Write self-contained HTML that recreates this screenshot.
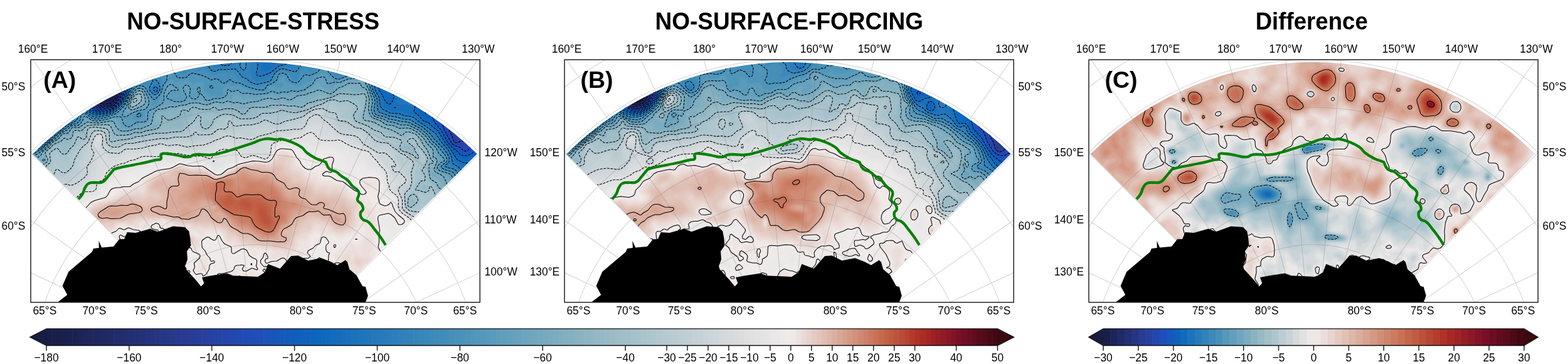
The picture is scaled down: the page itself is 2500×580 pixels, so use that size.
<!DOCTYPE html>
<html lang="en"><head><meta charset="utf-8"><title>Figure</title>
<style>
html,body{margin:0;padding:0;background:#fff}
body{width:2500px;height:580px;overflow:hidden}
svg{display:block}
text{font-family:"Liberation Sans",sans-serif;fill:#000}
.t{font-size:37.5px;font-weight:bold;text-anchor:middle}
.l{font-size:17.4px;text-anchor:middle}
.e{text-anchor:end}.s{text-anchor:start}
.p{font-size:37.5px;font-weight:bold}
.g{fill:none;stroke:#777;stroke-opacity:.32;stroke-width:1.05}
.c{fill:none;stroke:#000;stroke-width:1.05;stroke-linejoin:round}
.d{fill:none;stroke:#000;stroke-width:1.05;stroke-dasharray:3.9 1.7;stroke-linejoin:round}
.gr{fill:none;stroke:#028002;stroke-width:4.3;stroke-linejoin:round;stroke-linecap:butt}
</style></head><body>
<svg width="2500" height="580" viewBox="0 0 2500 580">
<rect width="2500" height="580" fill="#fff"/>
<defs>
<clipPath id="fr"><rect x="49.0" y="95.2" width="716.2" height="386.5"/></clipPath>
<clipPath id="sec"><path d="M406.3,601.5 L52.0,245.3 A502.4,502.4 0 0 1 760.6,245.3 Z"/></clipPath>
<filter id="bl" x="-5%" y="-5%" width="110%" height="110%"><feGaussianBlur stdDeviation="1.3"/></filter>
<path id="grid" class="g" d="M425.2,669.3L717.6,1760.6M413.1,671.4L511.6,1796.9M400.9,671.4L302.4,1796.9M388.8,669.3L96.4,1760.6M377.3,665.1L-100.1,1689.1M366.8,659.0L-281.3,1584.5M357.4,651.1L-441.5,1450.0M349.5,641.7L-576.0,1289.8M343.4,631.2L-680.6,1108.6M339.2,619.7L-752.1,912.1M337.1,607.6L-788.4,706.1M337.1,595.4L-788.4,496.9M339.2,583.3L-752.1,290.9M343.4,571.8L-680.6,94.4M349.5,561.3L-576.0,-86.8M357.4,551.9L-441.5,-247.0M366.8,544.0L-281.3,-381.5M377.3,537.9L-100.1,-486.1M388.8,533.7L96.4,-557.6M400.9,531.6L302.4,-593.9M413.1,531.6L511.6,-593.9M425.2,533.7L717.6,-557.6M436.7,537.9L914.1,-486.1M447.2,544.0L1095.3,-381.5M456.6,551.9L1255.5,-247.0M464.5,561.3L1390.0,-86.8M470.6,571.8L1494.6,94.4M474.8,583.3L1566.1,290.9M476.9,595.4L1602.4,496.9M476.9,607.6L1602.4,706.1M474.8,619.7L1566.1,912.1M470.6,631.2L1494.6,1108.6M464.5,641.7L1390.0,1289.8M456.6,651.1L1255.5,1450.0M447.2,659.0L1095.3,1584.5M436.7,665.1L914.1,1689.1M-258.6,601.5A665.6,665.6 0 1 1 1072.6,601.5M-177.9,601.5A584.9,584.9 0 1 1 991.9,601.5M-99.7,601.5A506.7,506.7 0 1 1 913.7,601.5M-23.6,601.5A430.6,430.6 0 1 1 837.6,601.5M50.7,601.5A356.3,356.3 0 1 1 763.3,601.5M123.6,601.5A283.4,283.4 0 1 1 690.4,601.5M195.4,601.5A211.6,211.6 0 1 1 618.6,601.5M266.4,601.5A140.6,140.6 0 1 1 547.6,601.5M336.8,601.5A70.2,70.2 0 1 1 477.2,601.5"/>
<path id="land" d="M92,481.5 L107.3,469.7 L99.6,455.6 L109.3,432.9 L146.6,401.5 L149,396 L157.8,395 L157.4,383.7 L162.2,394.4 L181,392.8 L190,381.3 L198,381 L202.7,370 L216.4,370.9 L239.6,364.5 L251.6,369.3 L275.7,360.5 L295,362 L301.3,368.5 L303,378 L304.5,391 L298,400.5 L299,413.4 L295,424 L296.5,428.9 L312.5,446.5 L320.6,456.4 L325.4,451.3 L322,442 L336.6,439.3 L361.4,435.6 L371.9,439.3 L411.2,440.9 L422.4,433.7 L427.3,420.8 L446.5,428 L452.9,420.8 L464.1,408 L475.4,407.2 L491.4,415.2 L512.2,411.2 L526.7,416.8 L537.9,422.4 L550.7,414.4 L553.9,417.6 L557.1,428.9 L568.3,438.5 L578,456 L582.8,457 L586.8,471.3 L582.8,481.5 Z" fill="#000"/>
<path id="green" class="gr" d="M125.0,317.3C126.7,315.2 128.4,314.4 131.4,309.3C134.4,304.2 133.2,302.7 136.2,298.0C139.2,293.3 138.3,293.6 142.6,291.7C146.9,289.8 146.7,291.4 152.2,290.9C157.7,290.4 158.3,292.4 163.4,290.0C168.5,287.6 167.2,286.7 171.5,282.0C175.8,277.3 176.1,275.9 179.5,272.4C182.9,268.9 178.8,270.8 184.3,268.9C189.8,267.0 191.7,267.0 200.3,265.2C208.9,263.4 207.8,263.7 216.4,262.0C225.0,260.3 223.9,260.7 232.4,258.8C240.9,256.9 242.0,256.3 248.4,254.8C254.8,253.3 254.1,255.7 256.4,253.2C258.7,250.7 254.2,247.8 257.2,245.6C260.2,243.4 260.8,244.5 267.7,245.0C274.6,245.5 274.5,246.1 283.0,247.5C291.5,248.9 291.8,250.5 299.7,250.2C307.6,249.9 302.7,247.2 312.5,246.2C322.3,245.2 325.3,247.5 336.6,246.6C347.9,245.7 344.3,245.7 355.0,243.0C365.7,240.3 364.7,240.2 376.7,236.5C388.7,232.8 388.0,233.0 400.0,229.0C412.0,225.0 410.9,223.2 421.6,221.5C432.3,219.8 433.0,222.5 440.0,222.5C447.0,222.5 441.6,220.6 448.0,221.5C454.4,222.4 455.5,222.7 464.0,226.0C472.5,229.3 473.1,229.3 480.0,234.0C486.9,238.7 483.8,239.0 489.8,243.7C495.8,248.4 495.3,248.1 502.6,251.8C509.9,255.5 512.4,255.2 517.0,257.4C521.6,259.6 517.9,256.9 520.0,260.0C522.1,263.1 520.7,265.3 525.0,269.0C529.3,272.7 531.2,270.9 536.3,274.0C541.4,277.1 539.6,277.1 544.3,280.5C549.0,283.9 549.2,282.6 553.9,286.9C558.6,291.2 557.7,292.2 562.0,296.5C566.3,300.8 567.3,299.6 570.0,303.0C572.7,306.4 572.3,305.0 572.3,309.3C572.3,313.6 568.9,314.7 570.0,319.0C571.1,323.3 574.1,321.6 576.4,325.4C578.7,329.2 579.3,329.6 578.8,333.4C578.3,337.2 574.9,335.4 574.7,339.6C574.5,343.8 574.6,345.4 578.0,349.2C581.4,353.0 582.5,349.7 587.6,354.0C592.7,358.3 592.1,358.9 597.2,365.3C602.3,371.7 602.1,371.3 606.8,378.0C611.5,384.7 612.7,387.2 614.8,390.6"/>
</defs>
<g transform="translate(0,0)">
<g clip-path="url(#fr)">
<g clip-path="url(#sec)"><g filter="url(#bl)">
<rect x="45" y="91" width="724" height="394" fill="#171c42"/>
<path fill="#191e48" d="M147 91l622 0 0 394-724 0 0-363 6 0 3 3 5 2.5 8 0.5 12-2.5 8-4 8-1.5 6-2 6 1.5 6-0.5 8-6 8-2.5 4 1 8 7 8 5 4 1 2.5-1.5 1-2 0-6-2.5-6-5.5-10zM163 148.5l-1.5 0.5 0 2 1.5 5 2 1.5 2-2.5 0-4-1.5-2z"/>
<path fill="#1c2354" d="M154.5 91l614.5 0 0 394-724 0 0-349 4-1 8-2.5 16 1 10-3.5 8-4 12 0.5 6-2.5 6-1 3-2 5-5 2-1 4-0.5 4 2.5 4 8 6 4 6.5 6 3 10 5.5 12 3 4 4 2.5 10-1.5 8-7 1-2 0-4-7-13-7.5-5-1.5-2-6-20-6.5-12z"/>
<path fill="#1f2860" d="M162.5 91l606.5 0 0 394-724 0 0-326 2.5-2 0.5-2-1-2-2-0.5 0-13.5 16-0.5 10 1.5 4-0.5 8-3 8-4.5 2 0 6 2.5 2 0 4-1.5 6-4 12-2.5 1.5-1.5 1.5-4 1-0.5 0.5 0.5 0 6 1.5 2 10 5 4 3.5 6 9.5 4.5 10 4.5 6 3.5 2 3.5 1 11-1 2.5-2 7-8 0.5-6-5-14.5-7-11.5-1-9-5-5-4-8-1.5-4z"/>
<path fill="#222c6c" d="M188 91l581 0 0 394-724 0 0-321 6-2.5 1.5-2.5 0-2-0.5-4-2.5-4-4.5-1 0-6 8 1.5 16 1.5 10-0.5 12-4.5 8-0.5 16-4 8 0 12 4 4 2 7 7.5 4.5 10 6.5 7 3 1 5 0.5 12-1 2-1.5 8-10 1-6-4.5-16-4.5-12 0-10-5.5-8 0.5-2 1-0.5 4-0.5 4-1.5 3.5-3.5zM759 168.5l-2 2.5 1 2 1 0.5 2.5-2.5-0.5-2z"/>
<path fill="#243177" d="M191 93l0.5-2 496.5 0 1 1.5 2 0.5 2.5-2 51.5 0-1.5 4 0 4 1.5 3 6 5 2 8 4 2.5 12 2 0 21.5-6-1-2 0.5-2 2-1 2.5 1 2.5 2 1 8-0.5 0 15.5-12-3-10 1-0.5 1.5 2 6-2 8 0.5 4 2 2.5 4 1 8 0.5 4 2.5 4 1.5 0 296-724 0 0-314.5 10-2.5 3-3 0-4-1.5-8 0-2 2-2 4.5 0 16 1.5 4-1.5 8-4.5 20-4 8 0.5 18 4.5 6 5.5 3.5 8 8.5 8 2 1.5 8 0.5 10-0.5 3.5-1.5 8.5-10 3-6 0-4-6-22-1-6 3.5-10-0.5-6zM741 121.5l-1 1.5 1 5 1.5-1 0.5-2zM750 91l19 0 0 13-6 3-2 0-4-2-1-2-1-6z"/>
<path fill="#263583" d="M195 93l0.5-2 488 0 1 4 2.5 2 6 2 2-0.5 2-1.5 2-6 16 0 2 4 2 0 6-3.5 2 0 6 1.5 1.5 4-0.5 8-3 4-6.5 6 0.5 2 6 3 2 2.5 1 4.5-0.5 6 1.5 4.5 6 4.5 8 2.5 1.5 2.5-1 4-8.5 2-2 2-2 4 2.5 18 1.5 6 2 4 2.5 2 9.5 2 6 3 8 0 0 291-724 0 0-299.5 2.5-0.5 1.5-2-1.5-4 0-2 3-2 8.5-3 4-3 2-4 0-6.5 2-1 4 2 2 0 18-10.5 18-4 8 0 18 3 4 3 3 6 3.5 4 9 8 2.5 1.5 16-1 6-1.5 9.5-11 3-6 0-4-2.5-10-2-14 0.5-4 3.5-10 0.5-8zM752 123l3 0 4 1.5 10-1.5 0 14-4.5-2-5.5-3.5-6 1-2-2-1-3.5 0-2z"/>
<path fill="#293a8e" d="M199.5 91l480.5 0 1.5 6 7.5 6 3.5 8 2.5 2 4 0.5 10-3 4 0.5 0.5 2-0.5 8 2 4 8 8 9.5 12 2 4-1 4-2.5 4-0.5 2 0.5 8-2.5 6 2 8-0.5 10 1 4 4 3 6 1 4 0 6-3 2 0.5 6 3 10-1 0 286.5-724 0 0-293.5 6-0.5 4-1.5 3.5-2.5 6.5-7.5 6-2.5 1.5-2 0.5-4 1.5-2 6.5-2 3.5-8 3.5-4 5-2 10-2 8 0 10-2 12 1 4 3 5.5 8 10.5 9 4 2 16-1.5 6-1.5 10-11 4-8.5 0-4.5-2-8-1-14 4-14 1.5-8z"/>
<path fill="#273f9b" d="M202.5 93l0.5-2 443.5 0 4.5 1 3-1 22 0 1 6.5 7.5 7.5 3.5 8 3 3 4 2.5 8 0.5 2 1.5 4 6.5 11 16-6 4-1.5 2 0 2 2.5 5 8 6.5 1 2.5-2.5 8 4 10-0.5 10 0.5 8-2.5 4-0.5 2 6.5 11.5 2-0.5 8-6 10-0.5 8-5.5 12-2.5 0 281.5-724 0 0-286.5 12-4.5 12-2.5 10-12 7-6.5 2.5-10 2.5-4 3.5-2 6.5-1.5 10 0 10-3.5 8 0 4 1.5 6.5 7.5 15.5 11.5 4 1 14-2 7-2.5 9.5-10 4.5-8 0.5-6-1-8-1-16z"/>
<path fill="#2544a8" d="M206.5 91l434.5 0 2.5 4 9 4 4.5 4 2 0.5 2-0.5 2-3 1.5-9 4.5 0 3 10 6.5 6 11 16 4.5 10 1 8 9 10 4 6 0 4-1.5 4 0 2 7 6 6 10 0 4-3 8-1.5 8 1.5 6 4.5 8 2.5 8 3.5 2.5 10-3 6 2 2-1.5 4.5-6 9.5-7.5 4-1.5 6 0 0 275-724 0 0-280 8-5 4-1.5 4 0.5 4 2 2 0 2-1 6-7 7.5-10 7-6 2-4 2.5-10 2-2 3-1 12-0.5 10-4.5 6 0 4 1 8.5 7 15.5 11 4 0.5 14-2 4-1 4-2 9.5-10.5 4.5-8 1-6-1.5-24 4.5-10z"/>
<path fill="#2349b5" d="M211.5 93l2.5-2 423.5 0 2 6 7.5 10 5.5 2 10.5 2 8 0.5 4 1.5 4 4 2 9 6 7 1 4 0 6 1 2 8 5 3.5 5 1 4-2 8 0 4 1.5 2.5 7 3.5 2.5 4 0.5 4-1.5 6 1 12 11.5 24 5 3 8 1.5 6 4.5 2-0.5 2-2 14-13 10-2 0 266.5-724 0 0-274.5 4-1 6-3.5 2 0 6 6 2 1 2-1 10-14 5.5-5 4.5-6 7.5-6 4.5-12 1.5-2 10.5-2 10-7 6 0 4 1.5 20 13.5 4 2 6 0.5 12-2 8-3 9-9.5 5-8 2.5-8 0.5-14-1-10 1.5-4 4.5-6 2-6.5 4-8z"/>
<path fill="#1d51ba" d="M222.5 93l1-2 410 0 0 8 11.5 12 4 1.5 20 5.5 4 2.5 3.5 6.5 5.5 8 1 10 1.5 4 2.5 2 6 2 2 2 0.5 4-1.5 10 1 6 5.5 8 1 8 3.5 6 3.5 10 9.5 18 3 4 4 3 8 2.5 6 5.5 4 1 3.5-2 4.5-5 6-5 4-1.5 8-1.5 0 259-724 0 0-270.5 10 0 8 2.5 4-1 2-1.5 8-9.5 10.5-8 10.5-14 5.5-10 2.5-2 7-3 6-5 4-2 4 0 4 1 20 13 4 1.5 4 0 12-1.5 6-1.5 4-2 10.5-10.5 5.5-10 3-18-0.5-10 1.5-4 4-4 4-7.5 6.5-4.5 3.5-6z"/>
<path fill="#1659bb" d="M228 91l392 0 9 12 12 11 4 2 8 2.5 11.5 4.5 4 4 2.5 4.5 4 5 1 2.5 0.5 8-3.5 8 0 2 0.5 2 3.5 2 8 0 2 1.5 1.5 8.5 8 20 6.5 10.5 12.5 23.5 3 4 4.5 4.5 8 4 6 5.5 4 1.5 4 0 2.5-1.5 7.5-7 4-3 4-1 6 0 0 253-724 0 0-267.5 12 3 6 0 4-1 10-10.5 12-9.5 18-24 14-9.5 4-2 4-0.5 4 1.5 16.5 10 5.5 2.5 6 0 10-1.5 6-2 4-2 10-9 6.5-10 2-6 2.5-14 0.5-8 1.5-4 4-4 5-6.5 7-5.5z"/>
<path fill="#0f61bc" d="M232 91l374.5 0 2.5 7.5 2 1 6 0 10.5 9.5 0.5 2 0.5 6 2.5 4 10 3 10-0.5 4 1.5 4 2 2.5 4 0.5 10 2.5 6 0 8 6.5 14.5 8 11.5 2 0 4-1.5 2 1.5 6 14.5 10 11.5 10 18 4.5 6 11.5 10 4 4.5 6 2.5 6 0 4-1.5 12-8.5 4-1 4 0 0 248-724 0 0-264 10 4 6 0 6-2.5 4-3 6-7.5 12-9 7-10 11-12.5 12-10 6-3.5 4-1 4 0.5 16 10 6 2 6 0 12-2 6-2.5 4-2.5 9-8.5 5.5-8 2.5-6 6.5-26 8.5-10 8.5-6 5.5-9z"/>
<path fill="#0f69bd" d="M236 91l362.5 0 4.5 14 2 2.5 6 2 2 1.5 2 6 3 6-1 6-5 10 9 1 2-1 2-2 6-8 2 0 2 0.5 4 5.5 2 1 2 0 8-2.5 2 1 0 2.5-4 8 0.5 4 2 2 7.5 5 4 5 4.5 12 7 14 2.5 2 6 0.5 2 0.5 1.5 1 4.5 8 8 7 3 3 11 20 18 21 6 2.5 8 0.5 10.5-4 7.5-5 2-0.5 4 0 0 241.5-724 0 0-258.5 6 1.5 8 0 4-0.5 4-2 5.5-4.5 6-8 12.5-9 8-11 14-12.5 6.5-7.5 5.5-4 4-1 4 0.5 16 9.5 6 2 16-2 6-2 6-3.5 10-9.5 5.5-8 10.5-30 8-9.5 8-4.5 2.5-2z"/>
<path fill="#176fbc" d="M254.5 91l178 0 2.5 2 4 1.5 14-1 2.5-2.5 135.5 0 0.5 6 5.5 6 5 10 2 6 1 2 5.5 4 0.5 2-0.5 2-5.5 6-1 6 1 3.5 4.5 6.5 3.5 8 4 5.5 4 1.5 2-1 2-2 3-8-2.5-8 0.5-2 2.5-4 2.5-2 2 0 4 1.5 4 3.5 3.5 7 12.5 8.5 3.5 3.5 1.5 4-2 10 1 2 6 4.5 6.5 7.5 3.5 2.5 6 1.5 6 6.5 10 7.5 10.5 18 8.5 10 11 17.5 8 4 8 1.5 14-0.5 6-2.5 4-0.5 0 228.5-724 0 0-254 16-0.5 6-2.5 8-7 2.5-4 3.5-3.5 11.5-8.5 4.5-6.5 4-4.5 12-8 2.5-3 5-8 6.5-4.5 6 0 16 9 6 1.5 16-2 6-2 6-3.5 7.5-6.5 6.5-8 3.5-6 4-12 5.5-12 7-10 4-3 8.5-3 9.5-16.5 2-1.5 2 0 6 3 2-0.5 2-2.5z"/>
<path fill="#2075bc" d="M260.5 93l2-2 8.5 3 3.5-1 3-2 70 0 3.5 4.5 4 2 2 0 4-2 3-4.5 49 0 3 12 0.5 8 2.5 2 12-2 10-9 4-1.5 8-1 4-2 2.5-2.5 2.5-4 101.5 0 1.5 3.5 2 1 2 0 2-0.5 2-1.5 1-2.5 8 0-1.5 2-3 2-1 2 1 2 2.5 2 11 3.5 2 1.5 2.5 3 5.5 20-1 8 0.5 6 7 12 3.5 14.5 2 2 6 2 6 4 4 0.5 8-1.5 2 0.5 6 3.5 10 1.5 8 3.5 10 9 10 5.5 14.5 11 9 16 10.5 12 5 10 3 8 2 2 6 3 8 6 2 0.5 12-3.5 6 1 1.5 1 2.5 6 4 2 0 210-724 0 0-251 18-1.5 2-1 10-8.5 6.5-8 11.5-8 8-10 14-8 3-4 4-8 5-4 6-0.5 6 2.5 10 6 6 1.5 16-2.5 6-2 6-3.5 7-5.5 7-8 4.5-8 5-14 12-18 4.5-2.5 8-1 8-9.5 16-6.5zM634.5 159l4.5-1.5 4 0 4 1.5 4 3.5 4 1 2 1.5 0 2-2 2.5-2 0.5-4-4-2-0.5-6 1.5-6-1.5-3-2.5 0.5-2z"/>
<path fill="#297cbb" d="M293.5 91l40.5 0 1 2.5 4 4 8 2.5 8 4 4 0.5 6-0.5 3.5-3 1.5-4 0.5-6 37.5 0 3 12-2 12 0 4 2 2 2 0 6-0.5 10-3 4-2.5 12-10 16-4 2.5-2 7-8 5 0 3.5 2.5 4 0.5 3-1 2-2 70.5 0 0 4-2 6 0 2 2 2 2.5 1 6-3.5 4-1 18 8 2 2 5.5 15.5 1.5 16 6.5 12 2 14 2.5 4.5 14 7 14 0.5 8 3.5 10 1 6 2.5 8.5 7 11.5 7.5 14 10.5 7.5 12 10.5 12 3 4 3.5 8 2 10 1.5 2.5 8 4.5 8 9 6 2.5 6 0.5 4 5 3 2 5 1.5 6-1 0 199.5-724 0 0-247.5 7.5-2.5 10.5-1 2-1 12-10 6-7 12-9 8-9 13.5-7 3-4 5-10 2.5-2 4-1 4 0.5 12 7 6 2 16-2 12-4.5 8-6 7.5-8 6-10 4.5-12 14-18 2-0.5 6-0.5 4-1 10-8.5 14.5-7.5 7.5-7 8-0.5 8-3 10 2zM247 138.5l-2 1.5-0.5 3 1.5 2 3 1 2-1.5 0.5-3.5-2.5-2.5z"/>
<path fill="#3282ba" d="M299 91l29 0 3 6 10 10.5 8-0.5 8 1 9.5-1 6.5-3 2.5-3 2.5-6 3-4 17 0 1.5 8-1 10 1.5 6 1 8 3.5 4 4.5 2.5 19-2.5 2-2 1.5-4 3.5-4 6-5.5 6-4 6-1 16 1 2.5-2.5 0.5-6 1-1 12 0 14-6.5 55-0.5-1 4-2.5 6 0 2 2.5 4 2 2 6 1.5 3.5-1.5 4.5-2.5 4-0.5 12 7 8.5 14 2 14 2 6 5 8 2 16 2.5 5 14 6.5 14 1.5 8 2.5 14 2.5 8 6 13 8 12 10 6 8 17 19.5 5 10.5 0.5 4-1 8 11.5 6 6 8.5 6 4 15 7.5 8 6 5 1.5 0 188.5-724 0 0-244 8.5-4 9.5-1.5 4-2 10-9 6-7 11.5-8.5 8.5-8.5 16-9 3-4.5 4-8 3-2.5 2-0.5 4 0 12 7.5 6 1.5 16-2.5 12-4 8-6 7.5-7.5 6-10 6.5-15 6-6.5 6-5 12-3.5 16-11.5 10-4.5 6-5 4-2.5 12-2 2 1 4 4.5 2 1.5 4 0.5 2-1 3.5-5zM247 134.5l-4 2.5-2 4 2 5 2 2 2 0.5 4-1.5 2-2.5 0.5-3.5-2.5-5-2-1.5z"/>
<path fill="#3b89ba" d="M388.5 93l0.5-0.5 2 0 2 4.5-1 10-1 3-2 1.5-2-0.5-2.5-2-2-6 1-4zM512.5 93l2-2 21 0 5 4 1 2 0.5 8 1 2 6.5 4 4.5 2 5 1 4.5-1 7.5-3 2 0.5 8 4.5 10 12 4 17.5 6 12.5 1 16 1 4 2 2 8 2.5 8 3.5 10 1 10 3 14 2 9 6 10.5 6 11.5 10 6 8 15.5 16 5.5 7.5 3 6.5 0 6-1 2.5-4.5 3.5-0.5 2 3 2 8 1.5 5 2.5 7 10.5 10 7.5 9.5 4 4.5 7 4 1.5 8-0.5 0 184-724 0 0-241 10-5 8-2 4-2.5 16-15 22-18.5 4-2.5 11.5-5.5 3-4 3.5-8 2-2.5 2-1 2 0 4 1 10 6.5 6 2 16-3 10-3.5 4-2 8-6 6-6 6.5-11.5 6.5-14 5-5 6-4 10-1.5 8-4 4.5 0.5 0 2-5 10 0 4 2.5 4 4 3.5 2 0.5 4-2 3.5-4 0.5-6-2-6.5-7-7.5 1.5-4 3.5-4 8-4 10-6.5 4-1 6 0.5 8 4.5 6 1.5 5-3 11-9.5 4-2 2 0 1.5 1.5 2.5 6 12 0 2 1.5 4 5.5 2 1.5 4 0 6-2.5 26-1 5.5 5 4 6 2 2 6.5 2.5 10 7 6 2 22-5.5 1.5-2 5.5-10 5-4.5 4-2.5 4-0.5 20 5 2-1.5 6-8 2-1.5 16-6 10 0z"/>
<path fill="#448fb9" d="M515 97l2-0.5 10 0 2 0 2 1.5 0.5 3-2.5 8 0.5 4 3 6 4.5 3.5 4 0 10-4 20-4 6 1.5 4 2.5 8 10.5 5.5 18 4.5 10 1 6-1 12 2 5.5 4 2 8 1 8 4 32 5.5 20 11.5 10 8.5 7 10 9 8 10 11 3.5 5 2 6-0.5 4-1 2-5.5 4-1 2 1 2 3.5 2 10 2.5 3 1.5 7 10.5 18.5 19.5 3.5 2.5 8 3.5 1.5 2 1.5 4 0.5 8 2.5 4 2 1.5 0 156.5-724 0 0-238 11-6 9-3.5 8-6.5 12-12 22.5-18 5.5-3 8-3 2-1.5 2.5-2.5 2.5-8 3-3.5 2-0.5 4 1 10 6.5 6 2 14-2.5 16-6 8-6 7-7 6.5-12 5.5-12 5-5 4-2.5 6-1.5 8 1 2 2 2 8 4 5.5 4 3 4-0.5 4.5-4 3.5-6 0.5-8 1.5-8-4-3.5-0.5-2.5 2-2 12.5-8 4-0.5 6 1 4 1.5 8 6 2 0 2-0.5 6-6 6-3.5 2 0 4 2.5 4 1 12-1.5 2 1 4 4 4 2 4 0 8-2.5 12-0.5 6 0.5 4 2.5 4 7 3.5 2 22 10 6.5 2 4 0 4-1.5 7.5-4.5 6.5-1.5 6.5-4.5 2-2-0.5-4 2-4 4-3 4-1.5 4 0.5 9.5 4 1.5 2 1.5 6 3.5 2.5 4-0.5 3-4 3.5-10 3.5-3.5 4 0 6 4 6-0.5 4-2.5z"/>
<path fill="#4f95ba" d="M512 107l3-1.5 2 0 12 15.5 4 3 4 2 4 0 12-4.5 18-3.5 4 0.5 4 2 7.5 8.5 7 20 4 8 0.5 6-1.5 12 0.5 4 2 3 4 2 10 2 8 4 18 3.5 12 1.5 20 10.5 11 9.5 7 10 7.5 6 14.5 18 1.5 4 0 4-1.5 2-6 4-1.5 2 0 2 5.5 3.5 10 2.5 3.5 2 5 8 9 12 10.5 12 8 5.5 2 2.5 2 8 2 4 4 4.5 4 2.5 0 151-724 0 0-235 20-11.5 28.5-25.5 16-12 5.5-3 6-0.5 3.5-2.5 3.5-4 1-6 3-4 3 0 2 0.5 10 7 4 1 4 0.5 14-3 16-6 6-5 7-7 13-25 4-4 4-2.5 6-1 6 2 12 18.5 2 1.5 2 0 6-5.5 4-5.5 3.5-12.5 5.5-8 0.5-8 1.5-2 3-2 4 0 4 2 3.5 6 2.5 1 10 0 2.5-1 5.5-5.5 4-1 20 5.5 10 5.5 6-2 4 0.5 8 6.5 2 0 4-1.5 4-3.5 2-0.5 6 4.5 10 1 13 6.5 15 4 8 0.5 2-0.5 2-1.5 2-4.5 2-1.5 7-2.5 7-5 1.5-3 0.5-5 4-3 4-0.5 4 1.5 2 1 4 8 2 2 6 2.5 4 0.5 4.5-3 7.5-9.5 2-0.5 6 1.5 12-5 3-2.5zM221 180.5l-3 2.5 0 2 3 1.5 3-1.5 1-2-1-2zM335 137l-0.5 2 0.5 1 2 1 2-0.5 0.5-1.5-1.5-2-1-0.5z"/>
<path fill="#5a9bbc" d="M514 117l3-0.5 2 0.5 3 2 5.5 6 9.5 3.5 4 0 16-5 16-2.5 4 1 4 4 3.5 5 11 26 0.5 6-2 12 1 4 2.5 4 3.5 2.5 12 2.5 8 4 8 1.5 10 2.5 12 1 16.5 8 12 10 7 10 9.5 8 6.5 10 6.5 6.5 1.5 3.5 0 4-1.5 2-5 2-2.5 2-2 4 1.5 2 8 3.5 9.5 2.5 3 2 10.5 18 6.5 8 3 6 1.5 2 6 4 2 2 5.5 12 12.5 10 0 146-724 0 0-231 4-2 8-7 8-5 32-28.5 8-5 6.5-5.5 3.5-2 6 0.5 4-2 4-4.5 2-7.5 2-2.5 2-0.5 2 1 10 6.5 8 1.5 14-3 18-6 6-5 7-8.5 4.5-10 8.5-15 4-3.5 4-1.5 6 0.5 4 2.5 8.5 15 1.5 4 0.5 6 1 2 2.5 0.5 4-2.5 3.5-4 2.5-8 4-8 4-10 6-6.5 4-3 8 3.5 2 0 8-2 8-0.5 2 0.5 6 5.5 2 0.5 8-4 6 0 2.5 2-1 8 1 4 7.5 7 2 1 6-0.5 10 1.5 2.5-1 2-2 0.5-2-1-6 0.5-2 5-4 4.5-1.5 6 2 6-1 4 0 8 5.5 18 4 16 0.5 3.5-1.5 1.5-2 0-4 3-2 6-1 6 3.5 3-0.5 6-2 1.5-2-0.5-3-2-0.5-6 0.5-1-1 3-7.5 2-1 2 0 2 1 0.5 5.5 1 2 10.5 3 6 2.5 4 0.5 6-2 4-3.5 6 0.5 4-0.5 3-6.5 3-3zM219 179l-6 4-2 4 0 2.5 2 1 8 0 4.5-1.5 3.5-2 1-4-0.5-2-1.5-2-5-1z"/>
<path fill="#65a0bd" d="M510.5 123l4.5-0.5 2.5 0.5 1.5 2 2 7 2 1.5 2 0 8-2.5 10 0 8-4 6-1.5 16-1.5 4 1.5 4 4 6 10.5 6 17 1 6-2 12 2 6 3 4 4 2 10 2.5 8 4.5 10 1.5 10 3.5 12 0.5 16 7.5 12 10 6 9.5 8 6.5 3 4 4 8 7 6.5 1.5 3.5-0.5 2-5 2-2.5 2-2.5 4-0.5 4 3.5 3 16 5 2.5 2 5.5 10 2.5 8 6 6 1 2-1 8 1 2 2.5 2.5 10 2.5 3 3 3 8 1.5 2 5.5 4 9 8.5 0 4-2 3.5 0.5 2 1.5 2 0 128-724 0 0-226 4-2.5 8-9.5 8-5 10-8.5 6-7 10-7.5 6-6.5 10-5.5 8-6.5 6 0.5 5-2 5.5-6 1.5-6 2-2 2 0.5 10 6.5 8 1 14-2.5 10-3.5 12-1 2.5 1 3.5 10.5 4 3.5 4 1 4-1 8.5-6 13.5-1 4-3 0.5-2 0-8 1.5-4 18.5-10 4.5-4 1.5-4-0.5-8 2-6.5 4-7 4-3 4 0.5 4 3.5 4 2.5 1 2-1 1-2 0.5-6-0.5-4 2-5 7-0.5 2 1 2 12.5 5 10 0 4-1 2.5-2 2-4 0-2-5-10 0-4 2.5-3 2-0.5 4 1.5 2 2.5 0.5 3.5-1.5 10 4 4 5 1 2.5-1 2-2 3.5-7 0.5 1 4.5 4 3.5 6 3.5 1.5 10-3.5 10 0 6-2 5-4 0-6 1-2 2 0 4 3 2 0 8-2.5 6 5 2 0.5 8-0.5 14 2 16-1.5 8-3.5 2 0 8 3 8-2 8 0.5 6-2.5 8 1.5 10-1.5 2.5-1.5 5.5-4 6-4 6-9zM316.5 139l1 0 1.5 2 0 2 0 2.5-2 2.5-2.5-5 0.5-2zM220 141l3-0.5 4 1 2 1.5 4 6 3 6 1.5 6 0 4-1.5 4-3 4-2 1.5-12 2-16 8.5-4 1-2 0-1-1-1-2 0.5-2 1.5-4 4.5-6 2-8 3.5-6.5 6-10.5 4-3.5z"/>
<path fill="#70a6be" d="M553.5 129l5.5-1 14-0.5 4 1.5 2.5 2 7 12 4 12 1 6-1.5 12 0 4 1.5 4 3.5 5 4 2 10 3 6.5 4 3.5 1.5 10 1.5 10 4 10-0.5 4 1 12 5.5 12 10 6 9.5 10 9.5 4 10 4.5 6 0 2-6.5 12 1 4 3 2.5 14 5.5 3 2 2 4 0.5 6 1.5 4 8.5 10 0.5 2-2 8 0.5 2 2 2 5.5 3 8 1.5 2 1 2 2.5 2.5 6 7.5 7 2.5 3 1 4-0.5 6 4.5 8 1 6 1 2 2.5 1 0 115-724 0 0-210.5 1.5-3.5-0.5-4 0.5-2 6.5-7.5 5-8.5 7-5 4-5 8-6 6-7 8-5 8-8.5 8-3 8-7.5 8 0.5 3-1.5 7-6 4-6 2 0.5 6.5 3.5 9.5 1.5 14-2.5 10-2.5 4-0.5 4 2 3 8 3.5 4 5 2 8.5 0.5 12-6 8 0 8-3 4-4.5 2-11 2.5-4 7.5-5 10-2.5 8-4 10 1.5 14-2 10-4 8 0.5 8-2 7 3.5 5 1 12-4.5 10 0.5 10-3.5 6 0.5 2-0.5 4-4.5 2-0.5 2 0.5 6 5 2 1 8-1.5 8 1 6 0 12.5-4.5 11.5-2.5 8 2.5 10-2 8 1 6-2 8-0.5 12.5-2.5 13.5-7.5 8-8.5 2.5 0 3 6 2.5 3 4 1.5 8 1.5 2-0.5 3.5-5.5 2.5-2 10-1.5zM220 143l5 0 2 1 3 3 4 10 1 4-0.5 4-2.5 4-5 3-16 5.5-6 0.5-1.5-1-0.5-2 0.5-8 2-6 7.5-12.5 4-4z"/>
<path fill="#78aabf" d="M555 133l4-0.5 14 0 2 0.5 2 6 4 1 4 4 4 15-1 18 2 6 3 4 14.5 6 5.5 4 4 2 10 1 10 4.5 14-0.5 10 4 4 2.5 10 8.5 6 10 8.5 8 1.5 4-0.5 8 0.5 1.5 4 1.5 2 3-0.5 4-4.5 10 1 3.5 2 2 9 4.5 4 4 5.5 12 7 10 0.5 2 0 10 2 4 29.5 22 0.5 4-2.5 8 0.5 2 5 6 0.5 6 1.5 4 3 3 8-1 0 110-724 0 0-205 4-3 3-10 4.5-8 3.5-8 5-3.5 4-6.5 8-6 6-7.5 10-6 6-7.5 2-1 8-1.5 6-8 2-0.5 6 1 3.5-1 12.5-8.5 6 1 12 0.5 22-3 3 2 2.5 6 3 4 3.5 3 4 1 12-0.5 10-3.5 8 0 14-6 2-1.5 4-16.5 4-5 4-2 8-0.5 8-3 10 0 8-2.5 8-0.5 8-3 4-0.5 10 0 8 2.5 6 0.5 12-4.5 12 1.5 8-3 10 3 6-1 6 2 4 0.5 8.5-2.5 13.5-1.5 16-5 4 0 8 2 12-3 8 3.5 4 0 10.5-6 13.5-2 6-3 6-1 8-3.5 6 1 12 5 4-0.5 10-8.5 9.5-3.5zM69 254l-1 1 1 1.5 2 0 0.5-1.5-0.5-1zM220 145l5 0 2 1 2 3 3 10-1 6-4 4-12 5-4 1-4-0.5-2-3.5 0-4 2.5-8 5.5-8.5 4-4z"/>
<path fill="#7cacc0" d="M553.5 137l3.5-1 12 0 1.5 1-0.5 4 1 2.5 2 0.5 6-2 2 0 2 1 2 3 3 11-1 16 0 6 3 6 3 3.5 12 4.5 10 6.5 12 1.5 10 5 14-1 10 4 4 2.5 8.5 7.5 6 10 9 10 0.5 11.5 6 4 1 2.5-1 4-4.5 8 0.5 6 2 2 6 1.5 6 4.5 6 12 6 10 1 4 0.5 8 2.5 5.5 6 5.5 21 15 1 2 0.5 2-2.5 8 0 2 5.5 8 1 6 2 4 5.5 6 2 0 6-3.5 0 107.5-724 0 0-202.5 4-2 2-2.5 3-11 5-8 2-6 1.5-2 3.5-2 3.5-8 8-6 5.5-7 10-5.5 6-8 4-1.5 6 1.5 6-9.5 2-1 6 0.5 4-0.5 8-6 4-2 2 0 16 0.5 20-2 2 0.5 1.5 2 6.5 10.5 2.5 1.5 3.5 1 12-0.5 12-3 8 0 18-7.5 2.5-16 2-4 3.5-3 10-1 10-3.5 8 0 8-2.5 8-0.5 10-3.5 10 0 10 2.5 6 0.5 12-4.5 4 0.5 6 2.5 2 0 8-3.5 12 4 14 1.5 10-3.5 12-1 6.5-3 9.5-2.5 12 2.5 12-3 8 3.5 4 0 6-1.5 5.5-5 2.5-1 10 0 20-7.5 6 0 10 4 4 0.5 4-1.5 10-7.5zM67 251.5l-1.5 3.5 0.5 2 3 1 3-1 1-2-1-2-3-1.5zM217.5 147l5.5-1.5 4 1.5 3 6 0.5 10-1.5 3-2 1.5-14 6.5-4 0.5-2-1-1-2.5 0-6 5-11z"/>
<path fill="#81aec0" d="M549 141l4-1 4-0.5 8 2.5 3.5 3 2.5 1 4-0.5 4-1.5 2 0 2 1 2 3.5 2.5 8.5-2 22 1.5 4 2.5 4 3.5 2.5 12 5 8 5.5 14 2.5 8 4.5 4 0.5 8-1.5 4 0 4 1 6 2.5 11.5 9.5 6.5 11.5 6.5 6.5 1.5 4 1.5 10 5.5 4 1 2-2 6-4 6-0.5 6 0.5 6 2 1.5 6-2.5 2.5 1 3.5 3.5 5 10.5 6.5 10 1.5 4 0.5 10 2 4 6.5 6.5 8 5 6 6 6 4.5 1 4-2 8 0.5 2 4 6 2 8 8.5 12.5 2 1 8 1.5 0 97-724 0 0-175.5 1-4.5-1-3.5 0-5.5 2.5-5 0.5-6 3-2.5 2-3.5 2-8.5 2.5-5.5 5.5-5.5 6 0 4.5-2.5 0.5-2-0.5-2-4-4-1-2 2-6 7.5-6 5-6 10.5-6 2-2 3.5-6 4-0.5 6 2 2-0.5 2-7 3-4 11 0 8-6 4-1.5 10-0.5 8 0.5 14-2 4 0 3.5 1.5 6.5 11 2 2 3 1 5 0.5 10-0.5 12-3.5 8 0.5 8-3.5 14-3.5 1-2-2-6 1-10 2-3.5 2-1.5 2-1 10-0.5 8-3.5 10 0 6-2.5 10-1 8-3 8-0.5 8 2.5 8 1 4-0.5 10-4 2.5 0 7.5 4 12-3 10 3 14 2.5 2-0.5 10-4.5 12-0.5 14-5 12 2 12-2 8 3 4 0 14-3.5 4 1 2 0 14-6.5 8-4.5 4-1.5 4 0 8 3 6 0.5 4-1.5 8-6zM219 147l4-1 2 0.5 2.5 2.5 1.5 6 0 8-1 2-3 2-12 6-4 0.5-2-1.5-1-3 1-6 4-8.5 4-4.5z"/>
<path fill="#85b1c1" d="M550 143l5-0.5 6 3 10 2 8-2 2 0 2 1.5 2 4.5 1.5 5.5-2.5 22 0.5 6 1 2 5.5 3 12 5 10 6 12 2.5 10 5.5 4 0.5 6-2 6 0 10 3 4 3 8 7.5 4 9 6.5 7 2 4 2 10 1.5 2.5 3.5 1.5 1 2-0.5 5-5 5-0.5 2-0.5 10 1.5 4 2.5 1.5 6-1 4 2.5 1.5 3 2 6 5.5 6 2.5 4 1 4 0.5 10 3 6 6 6.5 8 4.5 6 6.5 6 4.5 0 4-5 8 6.5 6 3 8 5.5 7.5 4 7 4 2 8 1 0 94.5-724 0 0-171.5 2-3 1-3.5 0-8 5-11 1.5-5 2-10 2.5-6 4-4 8-3.5 3-2.5 1-2-0.5-2-4.5-6 0.5-4 1-2 7.5-6 4.5-6 12-6 3.5-6 2-2 2 0.5 6 3 2-0.5 2.5-3 1.5-7.5 2-1.5 10 0 2-1 6-4.5 4-2 10-1 10 0.5 10-1.5 6 0.5 2 1 8 13 4 1.5 6 0.5 10-1 12-3.5 8 0.5 10-3.5 12-2 3.5-2.5 1-4-3-6 0-6 1.5-4 2.5-2 10.5-0.5 8-4 8 1.5 8-4 10-1 10-4 6 0.5 8 2.5 10 0.5 12-4 2.5 0.5 5.5 4 14-2 24 5.5 2-0.5 10-5.5 15.5-1.5 12.5-3.5 10 1.5 12-1.5 10 2.5 10-1 8 2 4-1.5 8-5 8-2.5 10-6 4 0 6 2 8-0.5 4-1.5 8-5.5zM221.5 147l3.5 0.5 2.5 3.5 1 8-1 4-2.5 2.5-10 5.5-4 1.5-2 0-2-1.5-0.5-4 2.5-8 6-8.5 4-2.5z"/>
<path fill="#8ab3c1" d="M541 147l12-1 8 2.5 10 0.5 10-1.5 2 2 2.5 7.5-4 26 0 4 1 2 16.5 5.5 14 8 11.5 2.5 14.5 7.5 6-3.5 2-0.5 6 0.5 4 1 6 3 8.5 8 5 10 6.5 8 4.5 14 4.5 4 0.5 2-1.5 4-2 0.5-2-0.5-1 2-0.5 10 1.5 8 2 2.5 8 2 1.5 1.5 3 8 5.5 4 3.5 4 1 4-0.5 8 4 9.5 7 8.5 7.5 4 9.5 10 0 2-8 5-2.5 3 2.5 2 6 2 4 2.5 2 2.5 3 7 5 6 4 7.5 2 2 4 1.5 8 0.5 0 9-6 0.5-2 2-1 3 1 4 3 4 2 6 1 2 2 1.5 0 60.5-724 0 0-168.5 2-2 1.5-3.5 2.5-12 5-10 1-4 1-10 1.5-4 2.5-4 3.5-4 7.5-4 2-2 0-4-3.5-6 0-4 1-2 7.5-6 5-6 8-3 4-3 4-6 2 0 6 3 2 0 3-3 1.5-8 1.5-2 2-0.5 10 0 8-6 12-2.5 10 0.5 10-1 6 1 4 4.5 4 8.5 4 2.5 10 0 10-1 8-3 10 0.5 8-3.5 14-2 4-2 3-4 0.5-4-3.5-10 0.5-2 2.5-2 11 0 6-3.5 2 0.5 1 1 2 4 3 0.5 4-2.5 2.5-6 3-2 10.5-0.5 8-3.5 6 0 8 3 10 0.5 4-1 6-3 2-0.5 6 5 1.5 0 12.5-2 8 1 8 2 8 4.5 4-1.5 6-5 4-2 20-1 10-3 10 0.5 10-0.5 10 2 8-1 8 2 4 0 10-6.5 8-2 10-4.5 8 0 12-2zM218.5 149l4.5-1 2.5 1 1.5 4-0.5 8-3 4-6.5 4-4 2.5-4 0.5-2-2.5 0-2.5 2.5-8 3.5-5.5z"/>
<path fill="#8eb5c2" d="M540.5 149l2.5 0 20 2 10-0.5 6-1.5 2 0.5 2 2.5 1.5 5-2 14-3.5 14 0.5 4 1 2 16.5 4 14 8 13.5 4 14.5 8.5 3.5-0.5 2.5-3.5 2-1 4-0.5 6 1.5 6 2.5 8 8.5 4 8.5 6.5 8 5.5 15 4 4.5 0 1-2 1-2-0.5-2 1-1 2 0 10 1.5 10 1.5 3 8.5 5 4 8 6.5 4 2 2 1 4-3.5 6 1 2 3.5 4 3.5 8 5.5 7.5 4 4 4.5 2.5 3.5 4 0.5 2-0.5 2-6 6-0.5 4 2.5 2.5 8 1.5 4.5 2 5.5 10 5 6 4.5 8 7.5 6-4 6-1 6 1.5 6 5 10 1.5 1.5 4 1 0 57.5-724 0 0-166.5 2-1 2-3.5 4-12.5 4-8.5 2-6 0.5-10 1.5-4 4.5-8 10.5-8 0-4-4-8 1-3 8-7 4-4.5 12-5.5 2.5-2 1.5-2 2-1 6 2 4-1.5 2.5-3.5 1.5-8 2-1.5 10 1 2-1 6-6 4-1.5 8-1 22-0.5 2.5 0.5 2.5 2 6.5 12 2.5 2 10 0.5 10-1 10-3.5 10 0.5 8-3 17.5-3.5 4.5-4 2.5-6 1-4-1-4 0-2 1.5 0 2 0.5 3 3.5 3 2 4 0.5 15-6.5 1.5-2 1.5-6 2-1.5 4 0 6 2 2.5-4.5 3.5-2 4 0 8 3 12 0.5 4-0.5 6-3.5 2 0.5 4 4 2 0.5 12-2.5 10 0.5 6 2 7.5 5.5 2.5 1 4-1 6.5-8 5.5-2 20 0 10-3.5 16 0 12 2 8-1 8 2 4 0.5 4-2 6-5 8-1.5 8-3 6-0.5 16-4zM216.5 151l4.5-1.5 2 0 2 1.5 1 6-1 4-3.5 4-6 4-4.5 2-2 0-1.5-4 2.5-8 3-5z"/>
<path fill="#92b7c4" d="M218.5 151l2.5-0.5 2 0.5 1 2 0.5 4-1 4-4 4-4.5 3.5-4 1.5-2-0.5-1-2.5 0.5-2 2.5-7.5 4-4.5zM540 151l23 2 16-2 2 1 2 3 0 4-1 4-1 8-4.5 16 2.5 5 4 2 10 1.5 14.5 7.5 23.5 9 10 6 3.5-1 2.5-3 2-1.5 4-0.5 6 1.5 4 2 7 7.5 3.5 8 7.5 10.5 4 7.5 1.5 6 0 2-3 4-1 6 0 6 2.5 12 2 3 6 4 6 10 6 4 1 1-0.5 2-3.5 4-0.5 2 1 2 6.5 6 2.5 10 14.5 16-3.5 8-0.5 4 1 2 2 2.5 8 1 5 2.5 11 16 2.5 6 4 6-1 8 0.5 12-1 8 5 11.5 5 4.5 5 10.5 0 33.5-724 0 0-164.5 4-3.5 4.5-12 5.5-10.5 1.5-5.5 1-12 4.5-10 3-4 6-4 1.5-2 0-4-2.5-6-0.5-4 12.5-12 17-6 8-1.5 2-1 2.5-3.5 3.5-10 2-0.5 6 1.5 4-1 5.5-6 4.5-2.5 10-1 20 0.5 3 1 2 2 5 11.5 2 2 4 0.5 12-0.5 8-1 8-3 10 0 10-3 16-3 4.5-3.5 5.5-6.5 2-1 2 0.5 5 5 3 1.5 8-2.5 8-0.5 1.5-2.5-0.5-6 0.5-2 2.5-4 2-1.5 8 0.5 2-1.5 4-6.5 2-1 20 2 10-1 6 2 12-3 12 0 6 2.5 6.5 5.5 5.5 1 3-1 2.5-2 3-6 3.5-2 24 0 8-3.5 16-1 12 2.5 8-1 8 2.5 4-0.5 4-1 6-5.5 6-0.5 8-3 8-1 8-3 10-2.5zM647 232.5l-1.5 2.5 1.5 1 4 1.5 2-1.5 0-1-2-2-2-1z"/>
<path fill="#96b9c5" d="M216.5 153l2.5-1 2 0 1.5 1 0.5 2 0 4-2 3.5-3 2.5-7 4-2-2 1.5-8 2.5-3.5zM534 155l7-1.5 6 1 10-0.5 6 1.5 16-2 2 1.5 0.5 2-2.5 6 0 8-5.5 14 1 4 3 4 3.5 2 8 1 4 1 10 6 20 8 8 2.5 14 8.5 4-6 2-1 4-1 6 1.5 6 5.5 5 10 7 9.5 5.5 10.5 0.5 4-3 6-1.5 8 3 16 1.5 3 6.5 5 5.5 9.5 3.5 4.5-1 6 0.5 4 7 6.5 1 3.5 1 8 6 6 5.5 10-0.5 8 1 5 2 3 2 1.5 8 0.5 4 2.5 10 15.5 4.5 10 0.5 4 0.5 12-3 12 4.5 10 0 2-3.5 6 0.5 1 2 1 6-1.5 2 0.5 3 3 1.5 6 1.5 2 2 1 0 29-724 0 0-162 2.5-2 3-4 4-10 6.5-12 1.5-6 0.5-10.5 4.5-11.5 3-4 5.5-4 1.5-2 0-4-2.5-6 0-4 12-11 4-1.5 6-1.5 8 1 6-3.5 4-3.5 2-4 3-8 1-0.5 8 1 2-0.5 2-1 5-7 5-2 8-0.5 20 0.5 3.5 2 1.5 2 5 13.5 2 1 14-1 10-1.5 10-4 8 0.5 10-3 16-2.5 5.5-3 4.5-3.5 2-0.5 4 3 4 1.5 18-2.5 2.5-2 1.5-2 1.5-8 1.5-2 9-2.5 5.5-7.5 2.5-1.5 24 2 8 1.5 14-4.5 12 0.5 5.5 2 6.5 5.5 6 1.5 8.5-3 1.5-2 0-4 2-2 16-1 8 1 10-3.5 14-1.5 6 1 6 1.5 8-0.5 6 1.5 6 0 4-1.5 6-5 8-0.5 6-2.5 10-2.5 8-3.5zM647 230.5l-3.5 2.5-1.5 2 0 2 9 2 2 0.5 2-1 0.5-3.5-2-2-2.5-2zM677 299l2 2 0-2z"/>
<path fill="#9bbcc7" d="M214.5 155l4.5-1.5 2 1 0.5 4.5-1 2-3.5 3.5-4 2.5-2 0-0.5-2 0.5-5 1.5-3zM530.5 157l8.5-1 8 0.5 8-0.5 8 2 8.5 1 5 8 0.5 4-2 6-4 6-0.5 4 2.5 4 4 3.5 4 2 10 2 8 5 10 3.5 10 5.5 12 3 10 5.5 4 4.5 6-8 4-1.5 6 1 4.5 4 5 10 6.5 8.5 7 11.5 0 4-3 6-2.5 10 2.5 7.5 1.5 8.5 8.5 8 5.5 10 1 4 0.5 8 1 2 6.5 6 1 10 6 8 4.5 9 1 9 2.5 6 4.5 4.5 6 0.5 4 2 3 5 3 9 4 4 3 5 1.5 6 1 8-0.5 4-4 6-0.5 2 1 6 3.5 6-0.5 2-4 6-0.5 2 1.5 2 2.5 1 10.5-1 2 2 0.5 8 3 2.5 4 1 0 7-1.5 3.5 1.5 3 0 11-724 0 0-159 4-3 2-2.5 4.5-11.5 7-14 1.5-4 0.5-12 5-12 2.5-4 5-3.5 1.5-2.5 0-4-2.5-8 0.5-2 10.5-9 6-2.5 4 0.5 1.5 1 0.5 6 2 2 2 0 2.5-2 3.5-6.5 6-6 6-13 2-1 8 1.5 2-1 6-9.5 4-1.5 10-1 14 1 5 1 2.5 2 1.5 4 2.5 12 2.5 1 26-3.5 10-4 10 0 34-8 12 1 16-2 5.5-4.5 3-8 1.5-1.5 6.5-2.5 6-8 3.5-1.5 4 0 6 2 10 0 8 2 16-5 12 0.5 4 1.5 8 6 6.5 0.5 15.5-2.5 2.5-1.5 3.5-5 4-2 12 1 8-3.5 12-2 6 0.5 10 2.5 6-0.5 6 1 8-1 4-1.5 4-3.5 6 0 18-6.5 8-3.5zM643 231l-3 4 0 2 1 1.5 14 3 2-1-0.5-5.5-5.5-5-4-1zM675 296.5l-1.5 2.5 0.5 2 3 2.5 2 0 2-1.5 0.5-3-1-2-3.5-1.5zM327 193l-1.5 2-0.5 2 2 3.5 2 0.5 2.5-2 1.5-2 0-2-2-2zM655 317l-2 4-0.5 4 0.5 2 2 0.5 2-2 4-4.5 0.5-2-0.5-2-2-1-2 0z"/>
<path fill="#9fbec8" d="M216.5 155l2.5 0.5 1 1.5 0 2-2.5 4-4.5 2.5-1.5-2.5 0.5-4 1-2zM524 159l9-1 10 1 12-1 14 6 4 4.5 1 2.5-1 4.5-5.5 7.5-0.5 4 2.5 4 9.5 6 10 2.5 8 6 11.5 3.5 8 6 12.5 1.5 10 5 2 1.5 2 4-0.5 2-3.5 4-0.5 2 0.5 2.5 2 2.5 8 1.5 12 5 1-1.5-4-10-5-5-5.5-3 1.5-4.5 4-3.5 6-0.5 4.5 2.5 5 10 6.5 8 8 12-0.5 4-2 4-4.5 12 0.5 2 3 6 2 10 7.5 6.5 3.5 5.5 3 8 1.5 10 6.5 6 0.5 2 1 10 3 6 2 8 3 2.5 2 3.5 3 10 5 6 8 3 1.5 1 4 12 7 8 3.5 7 1 5-0.5 4-4.5 4-1.5 2-0.5 2 4 14 0 2-3.5 6 0 4 1.5 2.5 2 1.5 2 0.5 8-0.5 2 1.5 0.5 4.5 7 8 1 8 1.5 3.5 2 1.5 0 7-724 0 0-151.5 7-10.5 4.5-12 8-16 1-4 1-12 5-14 1.5-2 5.5-4 1-2 0-4-2-8 0.5-2 7-6 4-2.5 4-0.5 2.5 1 1 4 2.5 3.5 2 1 4-0.5 6-8.5 5.5-5.5 4.5-11 2-2.5 4-0.5 6 4.5 2-0.5 1-2 0-4 2-6 3-3.5 2-1 10-0.5 14 1 4 1.5 3 2.5 1.5 4 1 12 2.5 1.5 10-2.5 20-2.5 8-3.5 10-0.5 18-4 44-4 6-4 6-8 6-4.5 5.5-8 2.5-1.5 4 0.5 8 4 6-2 10 2 12-5 8-1 10 1.5 8 5.5 4 1.5 16-1 7.5-2.5 6-6 2.5-1 10 0.5 20-5 4 0 12 3 10 0.5 8-1 12-4 20-7.5zM657 313l-3 2-2 4-1 6 0.5 2 1.5 2 2 0 3-2 4-4 2-4-1-4-4-2zM673 291l-3.5 8 0.5 2 3 2 4 2 4-1 2-3-0.5-4-3.5-3.5zM327 188l-2 1.5-2 3-1 4.5 1 3 2 2.5 4 1 4-2.5 2-2 1.5-4-0.5-2-1.5-2z"/>
<path fill="#a3c0ca" d="M214.5 157l2.5-0.5 1 0.5 0.5 2-1 2-2.5 2-2 0-0.5-4zM528 159l5.5 0 7.5 3 14-1.5 11.5 6.5 2.5 2.5 1 3.5-1 2.5-4.5 5.5-1 4 1.5 4 2.5 4 19.5 8 10 6.5 10 3 6 6.5 2 1 14 1 10 4 1.5 4-3 6 0.5 4 1 2 2 1.5 8 2 10 5 6 5.5 2-1 0.5-3-5.5-8-2-6-3-3-6.5-5-1-2 1.5-2 4-2.5 4 0 3 2.5 4 8 7 7.5 7.5 10.5 1.5 4-5 12-4 6 0.5 2 3.5 5 1 3-0.5 6-0.5 1-4 0-2.5 1-6.5 10-1 4 6 0.5 6 2.5 4 0.5 3-1.5 2-2 1-6 2 0 2 2 4 8.5 2.5 13.5 6.5 6 0.5 8 2 8 0.5 2-2 6 0 2 2 3.5 6 4.5 8.5 12 8.5 6 2 2 6 14 0.5 8 6.5 6-0.5 2-3.5 5-1.5 3 2.5 12-2 12 1 7.5 4 4.5 4 1.5 6 1.5 6.5 5 2.5 4 2.5 10 4.5 5.5 0 2.5-724 0 0-147.5 5-4.5 3-4 2-4 2.5-12 9.5-20 1-12 3.5-8 2-8 5.5-5 1.5-3-1.5-12 2-3 4-3 6-2.5 2 1 4 5.5 2 2 4 1 2.5-1 2.5-2 3.5-6 6.5-6 5-12 2-1 2 0.5 3 2.5 3 1 2-0.5 2-1.5 2.5-13 1.5-2 4-1.5 12-0.5 10 1.5 4 1.5 2.5 3 1 4 0 10 2.5 3 2 0 10-2.5 20-2.5 8-3 12-1.5 16-4 20-0.5 24-2.5 4-2 8-7.5 6-5 4-4 4-6.5 2-0.5 2 1 1.5 2-1 8 1.5 6.5 4 3.5 4 0.5 4-2 2.5-2.5 3-4 2-6 2-2 8.5-5 6-2 4 0 10 1 10 5.5 4 1 16-0.5 8-2 7.5-6 2.5-0.5 10 0 12-2 8-3 12 3 12 1 18-5 24-9.5 8-4.5zM655 311l-4 5.5-1 8.5 1.5 4 3.5 1.5 2.5-1.5 7-6 2-4-1-4-4.5-5-2-0.5z"/>
<path fill="#a7c2cb" d="M214.5 159l0.5-0.5 1 0.5-1 2.5zM524 161l5-1 4 0.5 8 4.5 4 0 6-2 4 0.5 4.5 3.5 3 4 0.5 4-4 8 5.5 10 1.5 2 16 6 13 8 10 3 8 7.5 14 2 10 3.5 1 2-1.5 4 0 4 2.5 5.5 2 1 7 1.5 11 6 6 6 2 0 1-2 0.5-2-0.5-4-4-6-1.5-6-9.5-8-0.5-2 2.5-1.5 4 1 2 2.5 3 6 5 3.5 4 4 6.5 8.5 1 4-4.5 10-5 5.5-1 2.5 0.5 4 4.5 5.5 0.5 2.5-2 2-4.5 2-2 2-9 16-7 8-1.5 4 0 10 1.5 3 2 1.5 3.5-0.5 3.5-2 7-6 1.5-4-0.5-2-4-6-0.5-2 1.5-2 4-1.5 10 2.5 4-1.5 4-3.5 2 1 3 7 1 14 5 2 1.5 2 0.5 6 1.5 8-3 8 3.5 8 1 6 3 4 7 3.5 11.5 8.5 3.5 4 2.5 6 0 4-2 4 0.5 4 2 4 4.5 4 0.5 2-1.5 6 2 12-2 12 1 8 2.5 4 5 3.5 12 3.5 3.5 3 2 4 1.5 10 3 6-8 0-0.5-4-3.5-2-2 0.5-1.5 1.5 0 4-704.5 0 0-144.5 8-6.5 4-6.5 2-12.5 9.5-20 1.5-14 4-8 1-6 0.5-2 5.5-6 0.5-4-0.5-10 3.5-4 4.5-1.5 2 0.5 8 7 4 1.5 4-1 2-2 4-7 8-7.5 4-6.5 8-0.5 4-2 2-3 2.5-12 1.5-2 2-0.5 6-1 6 0.5 8 1 5 2 1.5 2 1.5 4 0.5 10 1.5 3 4 1.5 22-4.5 8-0.5 8-2.5 16-2.5 12-3.5 20-0.5 8-1.5 16-1 5-2 7-6.5 12-7.5 2 0 4.5 8 2 2 3.5 2 6-0.5 6-4 7.5-11.5 4-4 4.5-2 4-1 4-0.5 8 1.5 12 5 8 1 16-1 6-2 8-5 20-1 10-3 18 2.5 6-0.5 18-5 8-4 16-5.5z"/>
<path fill="#abc4cd" d="M522.5 163l4.5-1.5 4 0.5 8 5.5 4 1.5 8-2.5 2.5 0.5 2 2 1 4-5 8 0 2 1 2 6.5 4 6 8 4 1.5 8 2 18 11 8 2 2.5 1.5 5.5 6 12 2 8.5 4 2 2 2.5 8 3 4 8 3 12 6.5 7 8.5 0 10-3.5 6 2 6 0 6-7.5 16-8 10.5-1 3.5 1 12 2 2.5 2 1 4 0 4-2 9.5-7.5 1.5-2 0-2-6-8 0-2 1-1 4-0.5 8 2.5 8-1.5 2 2.5 0.5 8-4 12-0.5 4.5 2 3.5 4 1 4-0.5 1.5 1.5-2 8 1 4 2.5 6 1 8 2 3 8.5 5 5.5 5 7 3 3 3.5 1 2.5 0.5 2-2 6 0 2 6.5 16 1.5 18-1.5 10 0.5 8 2.5 4 3 3 8 4.5 10 2.5 2.5 4 0.5 2-1 3.5-8 0.5-2.5 2-0.5 2 0 6-701 0 0-141.5 8-6.5 5.5-8 2.5-10 3-6 2-8 5-10 1.5-14 4.5-8 1.5-8 4-6 0.5-4-0.5-8 1-2 1.5-1.5 4-1 8 6 4 2 4 1 4-1.5 6-11 12-10.5 11-5.5 2-4 3-11 2-2 2.5-1 5.5-0.5 6 0.5 6 1.5 4 1.5 3 5 0 10 1 2.5 4 3.5 4 0 20-4.5 10-0.5 8-2.5 16-3 12-3 18 0 8-1.5 18-1.5 4-1.5 6.5-6 9.5-5 2 0 2 1 4 5 4 2.5 8 0 4-1.5 4-3.5 10-14.5 3-2 5-1 6-0.5 6 1 8 4.5 4 1 18 0.5 10-2 10-5.5 4-1 18 2 10-3 20 0.5 12-3 18-8.5 16-5zM666 239l1-0.5 2 0.5 2 1.5 7.5 10.5-0.5 4-3 5.5-2 2-2.5-1.5-1-2 0.5-10-4-8z"/>
<path fill="#afc6ce" d="M526.5 163l4.5 1 8 7.5 6 3.5 0.5 2-0.5 6 1.5 2 10.5 5.5 8 8.5 14 4 16 11 8 2.5 4.5 4.5 3.5 2 8 1.5 4 1 8 6 8 10.5 8.5 3 10 6 3.5 4 2 4 0 4 0 6-3 6 1 14-4.5 12-7 8-2 4-0.5 4 1 12 3 3.5 6 1.5 4-1 10-6.5 4-0.5 4 1 1.5 4 1 8 1.5 2 5.5 4 7 14 0.5 10 1 2 10 6.5 6 7.5 6 1.5 2 1.5 0.5 3-0.5 6 4 12-0.5 10 2.5 6-0.5 6 2.5 22 4 6 4 3.5 13 4.5 1 2-6 4-1.5 2-1 4 0.5 6-698 0 0-139 6-3.5 7-7.5 2.5-4 2.5-9 5-7 1-10 4-8 2-14 5.5-10 0.5-8 4.5-8 0-8 1.5-2 2 0 2 1 14 11 2 0 2-1.5 2-3 5-13.5 12-10 11-7 1.5-3 4-12 2-2 4.5-1 10 0.5 7 2.5 2.5 4 0.5 10 1.5 4 4.5 3.5 4 0.5 10-2 10-3.5 10 0 36-8 18 0 10-2.5 18-1 4-1.5 8-7 6-2.5 4 1.5 6 5.5 6 0.5 6 0 6-4 9-9.5 3-6 2-1.5 8-2 8 1 6 4 4 2 20 0 12-2.5 8-5 4-1 6 1 10 3 4 0.5 12-4 16-1.5 14-3.5 14-8 18-5zM672.5 247l2.5 2 1.5 2 0 2-1.5 2.5-2-0.5-0.5-2zM668.5 309l3.5 0 2.5 2 1 2-2 2-2.5 0-2-1.5-1.5-2.5z"/>
<path fill="#b4c8d0" d="M524 167l3-1 4 1 8.5 10 2 8 1.5 2.5 12 4.5 10 8.5 4 1.5 6 1 4 1.5 18 14 10 5.5 14 3 10 8 8 8 6 2 12 8 2 2 2 4 0.5 4-0.5 4-3 8 0.5 16-3.5 9.5-8.5 10.5-0.5 4 1.5 14 3.5 4.5 6 2 6-0.5 8-4 2 0 2 1 3 9 7.5 6 7 12 1 4-1 6 1.5 4 5 5 6 3.5 4.5 5.5 5.5 4 6.5 16 0 4-4 8 1.5 14 4.5 8 1.5 12 5 8 1 6 5.5 6 2.5 12-694 0 0-136.5 8-4 7-7.5 2.5-4 2.5-9 5.5-7 1-10 4.5-10 1-10 7-14 0-8 1-2 2-2 2 0 6 5.5 6 4 2 0 4-2 6-7.5 4.5-18 11.5-10 10-7 2-3 4-11 2-3 3.5-2 4.5-0.5 6 1 5 1.5 3 4 1.5 12 2.5 4 2 2 4 1.5 8 0 14-5.5 10 0 16-4 20-3 12-1 8 0 10-2 18-1 4-2 8-6.5 4-1.5 2 0.5 8 6 10 0.5 4-1 4-2 8-7.5 2-0.5 8 0.5 1.5-1.5 1-2-0.5-6 1-2 3-1 6 1 6 5.5 4 1 20-1 12-2 8-5 4-1 4.5 0.5 11.5 5.5 4 0 14-5 14-2.5 12-3 18-10.5 18-3z"/>
<path fill="#b8cad1" d="M507.5 173l7.5 0 10 5.5 8 1 2.5 1.5 2.5 8 3 3.5 12 1.5 4 2.5 8 6 12 3 10.5 7.5 11.5 11.5 8 2.5 12 1.5 20 16 6 2 12 9 2 3.5 0.5 4-4 12 1 10 0 6-2.5 8-7.5 8-1.5 3.5 1.5 18.5 2.5 4 4 2.5 6 1.5 10 1 14 11 6 8.5 1.5 3.5-1 8 1 4 6.5 8 8 5.5 6.5 6.5 5.5 14-0.5 4-2.5 8-1 14 1.5 6 4 6 0.5 2-2 6 0.5 2 5.5 3 2.5 3 1 6 4.5 8 3 10-689 0 0-134 11.5-6 9-8 1.5-12 5.5-8 1.5-8 5.5-10 0-8 1-4 5-8 3.5-8.5 2-0.5 2 0.5 8 5 4-0.5 5.5-4 6-8 2.5-9 8.5-15 3-4 10.5-9.5 4-10.5 4-5.5 4-1.5 4 0 8 2 2 1.5 1.5 3.5 1 10 1.5 4 6 4.5 10 1 4-1 6-3.5 4-1.5 10 0 20-4 26-4 10 0.5 12-2.5 18 0 12-3.5-0.5-2 1-2 1.5-0.5 2 0.5 2 3 2 1 18-0.5 4-1.5 8-6.5 4-1 6 0.5 4-1.5 3-3.5-0.5-6 1.5-2 2.5 0 3.5 6 6 2 14-2 10 0 12-3 6-3.5 4-1.5 4 1.5 10 4.5 8 0.5 10-4.5 12-2.5 14-4 18-11z"/>
<path fill="#bccdd3" d="M501.5 175l3.5-0.5 8 0 2 1 6 5.5 9.5 4 2.5 3 6 11 2 1.5 4 0.5 6-2.5 4 0 10 6.5 12 3 9 7 8 10 5 4 6 1.5 10-0.5 3.5 1 6.5 6 9.5 6 2.5 4 4 0 2 2 0 1-2-0.5-6-3-2 0-2 0.5-1 2 3 6 6 7 2 0.5 2-1.5 2-6.5 1-1.5 5 1.5 4.5 2.5 1.5 3 0.5 3-4.5 10 0 4 2 8-1 10-2 4-7 6.5-2 3.5 2 12 0.5 8 1.5 3 4 3.5 16 5.5 14 10 7 10-1 10 2 4 8 10 8 5.5 4.5 4.5 1.5 4 0.5 6-1.5 10 0 10-1 10 2.5 12-1 6 0.5 4 2 4 2 1.5 4.5 0.5 1.5 2 0.5 4 5 6 1 2 0.5 8-22 0-2-8-1-1.5-2-0.5-4 3.5-2 3-1 3.5-649 0 0-129.5 12-7.5 10-4 2-2 1-5-1-10 5.5-8 2.5-9 6-8 4-13 4-7.5 2-2 6 1.5 8-1.5 6-3.5 5-5 2-4 2.5-8 6.5-8 4.5-14 7.5-9.5 5.5-12.5 4.5-4.5 6-1.5 4 0.5 4 1.5 2.5 4 1 12 2.5 4 6 4.5 10 1 4-1 6-4 4-1.5 10 0 46-7.5 10 0.5 14-2.5 30 1.5 12-4 14-1.5 4-2 8-6 10 0 10-3 12-1.5 12-2.5 10-0.5 12-2.5 6-3.5 2-0.5 12 4.5 6 1 6-0.5 10-4.5 10-1.5 14-5 12.5-9.5z"/>
<path fill="#c0cfd4" d="M499 177l6-1.5 8 1 6 5.5 10 6 8.5 13 5.5 4 4 0.5 8-1.5 7 3 11 2 4 2 7 6 7 11 7 5 5 1.5 10-2 4 1 9.5 9.5 2.5 8 8 12.5 2 1.5 4 1.5 4-0.5 2-1 0-0.5 0.5 8.5 3.5 10 0.5 4-1 6-1.5 4-8 7-1.5 3-0.5 2 3 10 1.5 12 5.5 6 14 5.5 10 6.5 4 4 5.5 8 0.5 4-1 6 1.5 4 11.5 14 8 5.5 2.5 4.5 0.5 4-1.5 4-13 14-1 2 0.5 3 2 1 6 0.5 2 1 3.5 16.5-1.5 5-4 5 0.5 2 4 4 0.5 2-0.5 2-6.5 5-4 4.5-2 4-1.5 6.5-646.5 0 0-113.5 6-3.5 4.5-5 0-2-2-6 1-2 4.5-2.5 8 0 2-1 2.5-2.5 1.5-4 0.5-4-1.5-8 0-4 5.5-8 2.5-6 8.5-16 6.5-8.5 2-2 4-1.5 8 1 3.5-1 2.5-2 4.5-6 4.5-4 1-2-0.5-6 1-4 6-8 4.5-10 3.5-10 4.5-8 3-8 4-5 6-2 6 1.5 3.5 3.5 1 12 1.5 4 4 4 4 2 10 1.5 4-1 6-4 4-2 10 0.5 8-2 8-0.5 10-2.5 10-1 10-2 10 1 14-2.5 30 2 12-3.5 14-2 4.5-2 5.5-4 4-2 8 0 10-2 18-1 8-3.5 8-1 20-5 10 3 16 0 10-4.5 8-0.5 14-4.5 11-11zM650 261l1-0.5 1.5 0.5-1.5 3-1.5-1zM712.5 479l8.5-1.5 2 1.5 1 6-14 0 0.5-4z"/>
<path fill="#c4d1d6" d="M502.5 177l4.5 0 4 1 6 5.5 8 5 11.5 14.5 6.5 5 4 1 6-0.5 20 4 6 4.5 8.5 12 8 6 5.5 2.5 4 0 8-1.5 4 1.5 8 9 12 20 6 4.5 7 10 1.5 6-2 8-8.5 7-1.5 3 0.5 4 3.5 10 0.5 12 5 5.5 16 8 12 10.5 5 8-1 8 1 4 2 4 7.5 8 1 2 0.5 6 1 2 1 1 6 0 1.5 1 0.5 2 0 2.5-2 3.5-4.5 4-8.5 6-2 6 0.5 4 1.5 4 3 3 5.5 3 1.5 2 0 2-3 5.5-2 2-4 2.5-2 2 0 2 1 2 6.5 6 1 2-4.5 10-1.5 10-644.5 0 0-109 6-3 6-6 3-4 2-6 7-2.5 4-3.5 3.5-10 0-4-1.5-8 0.5-2 2.5-4 6-6 5.5-16 5.5-8 4-3.5 2-1 10 1 4-1 4.5-3.5 5.5-6 6.5-4 0.5-2-3-6.5-0.5-3.5 12-18 1-12 5.5-14 4.5-6 5.5-2 4 0.5 2 1 2 2.5 1 2 0.5 12 2 4 6.5 5.5 4 1 8 0.5 4-0.5 6-4.5 4-1.5 10 0 16-2 10-2.5 10-1 10-2.5 10 1.5 14-1.5 22 2 10-1 22-4.5 7.5-3 8.5-4.5 14-2.5 10 0.5 6-0.5 10 3 6 0 2.5-2 1-4 10.5-4.5 12-2 8 1.5 18-0.5 4-1 6-2.5 10-0.5 12-3 2-1.5 3-6 5.5-6 6-4z"/>
<path fill="#c8d3d7" d="M502 179l5 0 4 1.5 6 6 6 4 10.5 12.5 9.5 8 4 1 18 1 6 2 5.5 4 6.5 10 12 8 6 3 12 0 4 1.5 8 8.5 8 12 3.5 7 4.5 4 7.5 10 1 4-1.5 6-9 7.5-2 2.5 1.5 6 4 10 0.5 12 2 3.5 4 3.5 12 6 4.5 3 9.5 10 3.5 6-0.5 10 1.5 6 2 4 5.5 6 1.5 4 1 8-0.5 4-1.5 2-5 4-0.5 2 0 14 6 12-0.5 4-5.5 8-0.5 4 1 4 5.5 8-0.5 18-642.5 0 0-93.5 3-2.5 0.5-2-1.5-4 0.5-2 6-4 9-10 4-6 9-8 2.5-6 1.5-6 0-4-1.5-8 0.5-2 2.5-2.5 5.5-3.5 1.5-2 4-16 4.5-8 2.5-2.5 4-1.5 10 1 4-1 4-2.5 14.5-11.5 0.5-4-2-6 0.5-4 10-16 0.5-4-1.5-8 0.5-4 4.5-12 4.5-5 6-2 3 1 2 2 1 4 0 12 2 3.5 4 4 6 3 12 0.5 12-6.5 10 0 16-1.5 12-3.5 8-1 10-2.5 10 2.5 14-1.5 20 2.5 24-3 12-3.5 18-8 8-1.5 4 0 8 1.5 8 0 14 3 4-0.5 3-1.5 7-6 8-4 12 1 8-2 12 0 10-3 14-0.5 6-1 4-3.5 2.5-7 3.5-5 6.5-5z"/>
<path fill="#cdd5d9" d="M501.5 183l3.5-0.5 4 1 6 6.5 8 5.5 18 16.5 6 2 16 2 4.5 1 5.5 4 8 9.5 20 12 4 1.5 8-0.5 3 1.5 9 8.5 6 9.5 0 2.5-2 0-4-1.5-0.5 1 2.5 6.5 2 2.5 6-0.5 2 1 10 10.5 0 3.5-1 2.5-9 7.5-2 3.5 0.5 3 6 14 0 12 1.5 3 3 3 17 10.5 10 11.5 2.5 6 0 8 2 10 2.5 6 5.5 8-0.5 4.5-2 2.5-6 3-1.5 4 2 8 0.5 8 5 12-0.5 4-4 8-1 6 1.5 5.5 5 8.5 0.5 14-631 0-2.5-3.5-6-4 0-41 2-1.5 0.5-2-2.5-2.5 0.5-31.5 2-2 10.5-6 9-3.5 1.5-2.5 0-4-3.5-6 0-2 5-10 7-6 2-3.5 3.5-12.5-0.5-12 1.5-2 5.5-3.5 1.5-2.5 6-20 1.5-4 3-2.5 2-1 10 2 4-1 8-4.5 13-11 1.5-4-1-8 0.5-2 6-9 5-11-4-8-0.5-4 3.5-12 4-6 6-1.5 3.5 1.5 1.5 4-1 10 0.5 4 1.5 3 5.5 5 4.5 2.5 14 1 4-1.5 4.5-4 3.5-1.5 12 0 14-1.5 12-3.5 10-1.5 6-2 4 0.5 10 2.5 14-1.5 16 4 10-2 16-1.5 10-3.5 22-9.5 6-1.5 4 0.5 10 3.5 6-1 16 3 4-0.5 10-5 20-5 8-3.5 10-0.5 18-2 10 0 7-5 6-12z"/>
<path fill="#d1d7db" d="M504.5 193l2.5 0 12 4 8 7 12 9.5 8 2.5 14 3 4 4 8 3.5 6 5 12 6 7.5 5.5 4.5 6.5 16 15.5 3 4 5 9.5 4 2 6-0.5 4 2.5 2.5 2.5 0.5 2-0.5 2-8.5 8-2.5 4 0.5 2 4 7.5 3.5 8.5-0.5 10 1 4 3.5 4 13 8 5 4 8.5 12 1.5 4 1.5 18 0 10 3 6-4 6-1 4 1.5 18 4 14-0.5 4-3 8-0.5 8 1.5 6 3 8 1 10-620.5 0-4-12-3.5-1.5-6-1 0-27.5 6-1 1.5-1 1-2-0.5-4-2.5-6-1.5-2-4-1.5 0-9.5 2-1 1.5-2 1.5-8 3-3 5-3 5-4 2-1 6-1 2-2 1-10-1-8 0.5-4 1.5-3 5.5-3 1.5-2 4.5-30 6-8 7.5-18 1.5-6 1.5-2 2 0 6 2 4-0.5 12-4.5 10.5-9 5-6 2.5-9 4-6 3-11 4.5-6 0.5-2 0-2-2-1.5-6-4-2-4.5 3-12 3-4 2-1.5 4-1 2 1 1.5 1.5 0 4-2 12 1.5 6 9 6 4 2 14 0.5 4-1 6-5.5 4-1.5 12 0.5 6-0.5 34-8 2 0 8 2 6 1 10-1.5 4 0 10 4 4 1 10-2.5 16-1.5 10-3.5 10-5.5 8-2 6-3.5 4-1 4 1 10 5 8-1 6 0.5 14 4.5 2-1 4-4.5 4-2.5 20-5 10-3.5 8-1.5 8 0 10-2 8 0.5 3.5-2 4.5-4 6-8 2-1 6 0z"/>
<path fill="#d5dadc" d="M507 199l6 0 4 1.5 2.5 2.5 1.5 6 10 1.5 7.5 4.5 18.5 6 7.5 6 8.5 2.5 6 4 12 5.5 6 4.5 4 6.5 18 18 5 11 3 4 9 4 0.5 2-0.5 2-5.5 8-0.5 2 0.5 2 4.5 6 4 8 0.5 4-1 8 1 4 3 4 14.5 9.5 5 4.5 7 12 1 4 1 14-4 12 2.5 8-1 8 1.5 10-1 38 2 14-0.5 8 1.5 6-587.5 0-1.5-1-2 0.5-0.5 0.5-18 0-0.5-6-1.5-4-2-8-1.5-1-8-1-0.5-2 1-2 3.5-3 2 0 6 7.5 6 1.5 2-0.5 3-3.5-1.5-12-2.5-4-3-1-2 0.5-4 3-2 0.5-0.5-1 2.5-4 1-4-5.5-16 0.5-2.5 5-5.5 0.5-2-0.5-2-4.5-4 1-2 10.5-5.5 6-2.5 5-4 0.5-2 0-8 0.5-4-0.5-8 0.5-2 6-4.5 2-3.5-0.5-12 2-12 1-4 5.5-10 4-11.5 8-9.5 8-0.5 6-4 9-2.5 11-9 3.5-5 4.5-8 4.5-6 1-4 0-6 1-4 3.5-4 4-3 4-0.5 10 4.5 12-1.5 6-1.5 5.5-6 2.5-1 4-0.5 10 1.5 40-9 16 3 10-1.5 4 1 10 4 6 0 6-1.5 20-2.5 8-3.5 8-5 8-1.5 6-4.5 4-1 4 1 8 5.5 6 1.5 6 3 8-1 10 5.5 4 0.5 3.5-2 2.5-7 2-2.5 9.5-4.5 10.5-2.5 14-5 10 0.5 10-3.5 8 1 4-2.5 10-8.5 2-1zM83 455l-2 0.5-1.5 1.5 0 2 1.5 2 2-0.5 1-1.5 0.5-2zM155 217l4-1 2 2 0.5 3-1 4-4.5 8-1 2-2 0.5-2-0.5-1-2 0-2 1.5-10z"/>
<path fill="#d8dcde" d="M492 205l3-1.5 2 0 12 2 2 1.5 2.5 6 3.5 2.5 4 0.5 8-1.5 16 4.5 10 4 8 6.5 8 2 7.5 3.5 10.5 4 7.5 6 3.5 6 17.5 18 6 14 6.5 6 1 2 0 2-3.5 6-0.5 2 1 2 7 8 3 6 0.5 4-1 8 1 4 2.5 4.5 12 7.5 7 6 3.5 6 3.5 10 0.5 12-4.5 10-0.5 4 2.5 10 0 6 2 8 0 4-2 8-1.5 8-3 8-1.5 6 0.5 2 4 6 1 4 0 4-3 8 5 10-11 0-2.5-1.5-3 1.5-550 0-1-1-2 0-1 1-8 0-1-3-3-5 0-2 1.5-4-1.5-4 0.5-2 2.5-4 1.5-8 0-6-1.5-4-4.5-6-3.5-1.5-8 2.5-5-1-3-4 0-4 7.5-16 6.5-6 2-1 4 0 2-1 4-10 0.5-4-3.5-6-2.5-10 0.5-2 5-4.5 2-3.5 1-6-1.5-8 0-6 3-10 5-10 2.5-8.5 2-2.5 4-3.5 10-2.5 5-5 11-3.5 10-7 6-8 8.5-9.5 2-6-1-10 1.5-4 2-2 3-1 2 0 8 5 2 0 18-4.5 2.5-1.5 5.5-5.5 2-1 10 2 12-3.5 24-2.5 8-3 16 2 10-0.5 10 3.5 6 0.5 20-2 10 0 4-1.5 10-7.5 10-2.5 5.5-4.5 2.5-0.5 3.5 0.5 6.5 6 6 2 8 5 4 1 8 0.5 6 1 18 7.5 1.5-1 1-2-2-8 0.5-4 2.5-6 2.5-2.5 22-8 10 0.5 10-4 8 0.5 4-2zM155.5 219l1.5-0.5 2 0.5 0.5 2-1.5 4-3 2-2-2 0-2zM70 479l3 0 2 1.5 0.5 4.5-7 0-0.5-4z"/>
<path fill="#dcdfe0" d="M490.5 209l4.5-1.5 4 0.5 5.5 3 6.5 7 6 2.5 4 0 8-1 14 1 9.5 4.5 10.5 7 8 2 6 2.5 10 3 8 6.5 3 5 5 5 6 8 7.5 7 2.5 6 2 8.5 4.5 5.5 0.5 2-2.5 6 0.5 2 2.5 4 7.5 6 2.5 6 0.5 4-1 8 1 4 4 5.5 10 6.5 7 6 3.5 6 1.5 6 0.5 14-5 8-1.5 10 0.5 4 2 4 2 14-0.5 2.5-2 1.5-1 2 1 12-2 4.5-6 6.5-1.5 3-2.5 10 1.5 6 0 10-5.5 10-535 0 0.5-4-1-2-3-2-3.5-1-6 2.5-3.5-1.5 0-4-2.5-8 1-6 2-6-0.5-14-1-2-5.5-6-8-4.5-2-2.5-0.5-3 0.5-2 2-1 3 1 5 5 2-0.5 2-2.5 5-10 2.5-20-3.5-8-0.5-4 1-4 4-8 0-12-2-8 2-12 7-10 3-8 3.5-3 8-2.5 7.5-6.5 8.5-3 4-1 8 1.5 3-1.5 1-2-1.5-6 0.5-4 3-2.5 8.5-5.5 5.5-9.5 9-8.5 7-3 16-5 6-4.5 10 0 8-3.5 6-1 22-0.5 4-1.5 4-3 4-1 12 1.5 10 0 10 3 6 1 8 0 12-0.5 10 1 4-1.5 13.5-9.5 8.5-2 6-3 2 1 4 3.5 10 2 3.5 2.5 5 6 2.5 2 3 0.5 8-3.5 4 0.5 15 6.5 3 0.5 4-2 2-3.5 0.5-15 1.5-3.5 2-1.5 18-6.5 10 0.5 10-3.5 8-0.5z"/>
<path fill="#e0e1e2" d="M493.5 211l3.5 0 2 1 8 8.5 4 2.5 8 1 24-0.5 8 5 10 5 16 5.5 8 1.5 4 2 6.5 8.5 6 6 4 6 9.5 10 2 6 0.5 10 2.5 6 1 6 2.5 4 8.5 6 2.5 4 1 6-0.5 8 2 6 3.5 4 11.5 8 6.5 8 2 6-0.5 4-2 10-3.5 8-1.5 8-4 16 4 28-2 3-6.5 3-1 2-0.5 10-4 6.5-6.5 7.5 0 2 1.5 2 5 4 1 2-1.5 8-511.5 0-4-3-2 0-4 2-4.5-7-9.5-3.5-6-0.5-2-2-2.5-6 0-6 3-8 0-8 4-4 0.5-2-6-6 0-4 2-8 4-8 2-10-1-8 0-6-2-8 4-12 0-14-2-10 1-8 8-8 5-9.5 8-3.5 8-7 6-1.5 10 0 5-2.5 2-4 0.5-8 10.5-5 2-3 4-9 10-8.5 19.5-6.5 6.5-3 8-1.5 10-4.5 6-1 22 0.5 4-1 4-3.5 4-2 10 1.5 10 0 8 2 16 2.5 12-0.5 14 4.5 2-1 3.5-5 4.5-4.5 6-3.5 4-1 6 0 8 1.5 8 0 2.5 1.5 5 8 4.5 2 4 0 6-2.5 4-1 20 6 4-2 3.5-4.5 2.5-16 2-2.5 16-6 12 0.5 8-2.5 8-1 10-6.5zM341 256l-1.5 1 1.5 1.5 1-1.5z"/>
<path fill="#e4e3e4" d="M489.5 217l3.5-1 4 0.5 8 8.5 4 2.5 14-0.5 12 3 6-1.5 22 9.5 12 3.5 10.5 1.5 1.5 2-1.5 8 0.5 2 2.5 4 4.5 3.5 14 6.5 4 3.5 1.5 2.5 2 6 0 10 3 10 2.5 4 10 6 3 4 1 4-0.5 10 2.5 6 3 4 11.5 8 6 8 1.5 4-0.5 4-3.5 10-4 8-1 10-5 16-0.5 6 2 10-0.5 5-2 3.5-5.5 3.5-1.5 2 0 4 1.5 8-1 4-11.5 8-3 4-0.5 2 1 2 8 10-0.5 2-1 2-2 0.5-6-1.5-2 1-2 2-476.5 0-3-2-1.5-2-0.5-8 1.5-1 1-3-1-2-2.5 4-1.5 1.5-2-1.5-1-2 1.5-6-1-4-5-4-1.5-2 1-4-2-2.5-2-1-5 1.5-1.5 4-3.5 2-0.5 2 2.5 4 4.5 2 3.5 6 5 2-1 2-6 4-4-1.5-6 0-10-5-2-2-1-3.5 0-4 0.5-4 2-4 0.5-6 1-2 7-6 1.5-4 0-2-1.5-1-4-1-3-2-1-4 0-4 4-7 2-2 8-2.5 1-2.5-0.5-10-1.5-6-0.5-4-5-10 3.5-18-1.5-14 1-6 12-16 8.5-6 5-5 4-1 10-1.5 4-2.5 2-2 4-8 10-7 2-3 4-9 8-7 19.5-6 6.5-3 10-1.5 12-4.5 24-0.5 10-3.5 8 1 10-3 18 2.5 10 2.5 8-0.5 4 0.5 6 3.5 10.5 8.5 3.5 1.5 3-1.5 4-4 1.5-4-2.5-6 0-3 2-2.5 4-1 6-0.5 14 1 2 4 3 2 7 2 6 0 10-2.5 20 4 4-1.5 4-4 1.5-4 3-12 3.5-3 14-4.5 10 0 14-1 6-2.5zM603 466.5l-2.5 2.5-0.5 2 1 1.5 2 0.5 5-2 0-2-1-0.5-2-2z"/>
<path fill="#e7e5e6" d="M483 227l8-0.5 6 4.5 10 1.5 14-1.5 16.5 6 17.5 2 2 2 2 4 2 2.5 10 3 6 0.5 8 10 4 4 16 7 4 4 2.5 5 1 12 3 10 3 4 8.5 4.5 4 3.5 1.5 4 0 10 2 6 4.5 5.5 12 8.5 3.5 6 1 4-0.5 4-4 9-6.5 9-0.5 2 0 8-3 8-3.5 16 2.5 8 0 2-1 2-6.5 4-2 2-0.5 2 1 12-1.5 4-2.5 3-8 4.5-4 4.5-2 1-4-1-4-2.5-2 0-6 6-5 2.5-1 6 2 4 2 2.5 5 1.5 1.5 2-140 0 0-4-0.5-0.5-2 1-1 3.5-276.5 0 0.5-4-1-1.5-2-0.5-2 0-3.5 2 0 4-10.5 0-1-2-3-3-2-4-4 0-8 3.5-3-0.5 0.5-4 0-4 3-6-0.5-2-2-1.5-6-2-4.5-4.5-2-4 0.5-6-6-5-2-0.5-6 3-3-1.5-1.5-4 0-10-1.5-2-6 1-3-3 0-4 3-4.5 2-1.5 4 0 3 2 1.5 2 1 4 2.5 2 4-0.5 3.5-1.5 2-2 0.5-2-1-4 1.5-4-2.5-1-4 0-2-1.5-1.5-3.5-2-12 1-14-0.5-2-3-4.5-1-3.5 1-8-1.5-8 0-6 7-14 4.5-6 8-6 5-6 3-1.5 10-2 4-2.5 6-8 11.5-10 8.5-12 4-3 8-1.5 5.5-3.5 10.5-3 10-1 6-1.5 10-4.5 10-1 10 0.5 10-1.5 8 1 4-1.5 6-3.5 4-1 14 2 10 2.5 8 0 4 0.5 6 3 11 9 3 1.5 4 0 5.5-3.5 6.5-8 4-2.5 8 0.5 8-2 12 0 12-2.5 18 3 4 0 4-2.5 3-4 5-13.5 4-3.5 12-3.5 14 0 8 1zM497 476.5l-2.5 2.5 2.5 2 2-0.5 1-1.5-0.5-2zM543 457l-2 0.5-2.5 3.5 3.5 2 5 1.5 1-1.5-1-2zM127 433l-2 1 0 2.5 2 0.5 1-2zM153 466l-1.5 1 1 4 2.5 2 2-0.5 1.5-3.5-0.5-2-3-1.5zM105 443l2-0.5 1 0.5 0 2-3 2-1-2zM101.5 453l1.5-1 2 1 5.5 8 1 4-0.5 3.5-2 1-4-1.5-5-5-1-6 0.5-2zM607.5 479l3.5 0 1 2-1 2-2 0-2.5-2zM151.5 485l3.5-1.5 2 0.5 0.5 1z"/>
<path fill="#e8e6e7" d="M446 231l7-1.5 14 0.5 10 2.5 8-2 4 1.5 4 4 2 1 8-1.5 16-1 26 8 5 4.5 7 10.5 2 0 6-1.5 12 0.5 11 10.5 15 6.5 4 3 3 6.5 2.5 16 2 6 2.5 3 10 4.5 3 2.5 1.5 4 0.5 10 2 6 5 6 8.5 6 4 4 2.5 6 0 4-4.5 10-8 10-0.5 10-3 6-0.5 10-3.5 8 0.5 4 1 4-0.5 2-6 3.5-2 2.5-1 4 1 10-1 4-3 2-4-1-1.5 1-2 6-2.5 3.5-2 0.5-4-3.5-4 0-3.5 1.5-2.5 4.5-2 0.5-6-3-2 0.5-1 1.5 2 6 0 8 7.5 8-30.5 0-1-2-3-2 0-2 2-0.5 1-3.5-1-2.5-2-0.5-4 4.5-2 0-2.5-3.5-0.5-2 5-2 1.5-2-0.5-4-1-1.5-6-2-8-7-2-0.5-6 7-0.5 2 0.5 2 2 2.5 6 0.5 4 3-0.5 4 0.5 1 7.5 5 3.5 6-93.5 0 0.5-6-2-2-2-0.5-2 1-8 7.5-260 0-5-4-1-4-2-2.5-4 2.5-7 2-2 2 0.5 4-4.5 0 0.5-4-1.5-2-4.5-4 0.5-6-2-3.5-4-2-4 0.5-2-0.5-6-6-2-1-2 1-2-0.5-4-4 0-4 2.5-8-3.5-8 3.5-4-0.5-2-1.5-2-0.5-2 1-4-1.5-6 2.5-4-10-4-1.5-2-1-4-2-4-0.5-4 2.5-6 0.5-8-1.5-4-4-6-0.5-8-2-8 0.5-6 6-12 5.5-7 6-5 8-8 10-2.5 4-1.5 8-10 12-10 8-9 4-2 7-1 5-4 3.5-2 8.5-2 10-1 14-5.5 28-2.5 10 0 4-1.5 6-3.5 4-1.5 14 2.5 10 2.5 12 0 6 3 12 9.5 6 1.5 4-1.5 10-10 4-1.5 6-0.5 10-3 12-0.5 10-2.5 18 3 4 0 4.5-3 3-4 6-14 2.5-2zM495 475l-2.5 2-0.5 2 1 2 6 3 2.5-3 1-4-1.5-2-2-0.5zM131 381l-1.5 2 0.5 2 1 1 2-1 0.5-2-0.5-1zM207 436.5l-1.5 4.5 1.5 1 4.5-1 1-2-0.5-2-3-1.5zM207 461.5l-1.5 1.5 1.5 3 2-0.5 0.5-2.5-0.5-1zM211 469l-2 0.5-1 1.5-0.5 2 1.5 3 2 0 3.5-3 0-2-1.5-1.5zM105 417l2-1.5 2-0.5 2 2-1 4-3 3-2 0-2-2.5zM123 425l6-1 1.5 1 0 2-1.5 1.5-6 0.5-3.5 2 1 6-1 2-2.5 1.5-2-1-0.5-2.5 0.5-3 2-3 0-4zM102.5 455l0.5 0 2 1 4 5 0.5 2-0.5 2-2 1.5-2-0.5-3-3-1-6z"/>
<path fill="#eae8e8" d="M452 231l15 0.5 10 4.5 8 2.5 8 3 2 0 6-2.5 4-1 12 0 6 1.5 10 1.5 8 3 4.5 3 4 6 3.5 11.5 2 2.5 12-6.5 6-0.5 4 0.5 9.5 8.5 16.5 7 4 4 2.5 5 2 16 2.5 6 3 3 8 2.5 3.5 2.5 2 4 0.5 10 2 6 5.5 6 8 6 4 4 2.5 6-0.5 4-1.5 4.5-4 6.5-9 7-1 2 0 6-4 8 2.5 8-0.5 4-6 13.5-6 5-4 5.5-6 2.5-8 5.5 0 2 3.5 8 0 2-1.5 1.5-6 1.5-6 3-4-0.5-6 2.5-4 0.5-2 1.5 1.5 2 4.5 4 0.5 2-1 8 0.5 2 4 2.5 2.5 3.5-19.5 0-5-6-2-7.5-5-10.5-5-4-1.5-4-6.5 0-4-3-2-0.5-2 1-3.5 4.5-2.5 2-1 2 1 4 4 5.5 4-0.5 2 1-2 3-4 2.5-1 2.5 4.5 4 0.5 4-38.5 0 2-6-0.5-4-3-2-4-0.5-4 1-1.5 1.5-1.5 4 1 3.5 4.5 2.5-28.5 0 0.5-6-2.5-3.5-2-1.5-4 1-6 4.5-2 0.5-4-0.5-2 1.5 2 4-234 0-0.5-6 4.5-6 0-2.5-0.5-1.5-4-4 0-6-1-2-6.5-2.5-2-0.5-1 1-1 12-6 7-2 0-4 2-2-5.5-2-1-2 1-4.5 4.5-7.5 2.5-4-1-3-3.5-1.5-6-1.5-2-4-2.5-6-1-5-4.5 0.5-4 2.5-6-1-2-3-1-2 0.5-5 8.5-1 1-2-1.5 0-4.5 3.5-7-3-6 3-8-2-6 0-6 2.5-3 1-3-8-16 4-8 0.5-2-1.5-3-2-2-6-2-6.5-9-3.5-14.5 0-5.5 2.5-6 5.5-10 4-4 7-6 4.5-6 12.5-3.5 4-2 8.5-10.5 11.5-9 6-6 4-2 8-0.5 6-5 4-2 20-3.5 8-3.5 8-0.5 8-3 24-2 4-1.5 6-4 4-1 24 4.5 12 0 6 3 12 9.5 4 1.5 4 0 4-2 10-9.5 8-1.5 8-3 14-2 10-2 18 2.5 4 0 4-2.5 3-3 7-15 4.5-3zM521 449l-2 1-2 3 1 2 5 1 2-2 0-3-2-2zM209 433l-2 0-4 4.5-2 0-2-2.5-2-0.5-2.5 0.5 0 2 4.5 9 4 1.5 4-1.5 4-0.5 6 2 2 0 4-1.5 4.5-5-0.5-2-2-1-3 1-3 3.5-2-1-0.5-2.5-1.5-2zM263 435l-2 0.5-1.5 1.5 1.5 8 2 1.5 2-1.5 1.5-6 1.5-2-3-1.5zM122.5 391l2.5-1.5 2.5 1.5 0.5 2-1 1.5-2 1.5-2-1-0.5-2zM196 477l1-1 8 1.5 1.5 1.5 2 6-9.5 0-6-4zM548 483l1-1 2 0 2.5 3-6 0z"/>
<path fill="#ece9e9" d="M447 233l6-0.5 14.5 0.5 3.5 2 10 8 10 4.5 4-1 6-4.5 4-1.5 10 0.5 6 2 8-0.5 4 0.5 8 3.5 2.5 2.5 2 4 0 6 1.5 2.5 2.5 9.5 2.5 4 3 0 6-6.5 4-3 8-1.5 4 1 8 7 18 7 2.5 2 2.5 4 2 16 2.5 8 2.5 2.5 8 1.5 4 2 2.5 4 1 10 2 6 5 6 8 6 4 4 2 6-1 6-5.5 8-4 3-2 0-2.5-1-4-6-4-4-2.5-4-3-8-2-2-4-1-3 1-2 2-1 2 1 4 9 12 4 10.5 4 3.5 1.5 2-0.5 2-4 4-0.5 2 5.5 7 1.5 5-1.5 4-4.5 8-3.5 3.5-6 3-5.5 5.5-2.5 1-6-0.5-6 1.5-0.5 2 2 6-0.5 4-5 4-1 4-1.5 2-3.5 2-8 2.5-2 1.5-0.5 2 0.5 3 2 3 3 2 0.5 2-1.5 2.5-4-1-2 0.5-2 2 0 2 4 2.5 4 1 2 2.5 0.5 2-9 0-4-8-1.5-0.5-7-15.5-3.5-4-0.5-2 2-4-1-1.5-10 1.5-6-2.5-4-0.5-5 5-3 1-2-1-2-4-2-1.5-4-0.5-2.5 0-3 2-2.5 3.5-0.5 2.5 8.5 4 6 0 2 1 5 7 1.5 4-1.5 4 0 2 1 2 4 4 0.5 2-21 0 0-2-1.5-2-2-0.5-4.5 0.5-1 2 0.5 2-3.5 0 1-4-0.5-6-2-2-8-2-7 2-2.5 8-4.5 3-2 0.5-10-1.5-4-7.5-2-3-2-1.5-4 1-8 4.5-4-1-2 0.5-2 3 0 2 2 4-230.5 0 0-6 4.5-6 0.5-2-1.5-4-2.5-4 0.5-6 3-5 9.5-9 1.5-4-1-2-2-2-2 0-6 1.5-2-0.5-7.5-5-8.5-8-1 0 0.5 2 1.5 2 0.5 2-7.5 3-6-1-1.5 2 1 4 2.5 1.5 3 2.5 2 6 1.5 2 0.5 2-0.5 2-4.5 2.5 0 5.5-2 0.5-4 4-6.5 3.5-3.5 5-4 1.5-4-0.5-2-2-4-9-6-3.5-5-1.5-3-2-1-2 1.5-4 6.5-6-7-1.5-5-2.5-5-6 1.5-14 1-2-1-4 1.5-6-1-3-6.5-13 3.5-8 0-4-3-4.5-5.5-3.5-2-2-4-6-5-14 1.5-6 5-9.5 4.5-6.5 7.5-6.5 4-5.5 3.5-2 8.5-2 5-2 12-14 15-11 10-1.5 10-6 10-0.5 12-2.5 8-4 6-1.5 8-3.5 24-2.5 4-2 6-4 4-1 24 4 8-0.5 4 0.5 4 2 14 10.5 4 2 4 0 4-2 10-9 18-6 22-4 20 2.5 4-1 6-5 6.5-14 3.5-2.5zM481 423.5l-2 3.5 1.5 2 7 2 0-2-2.5-4-2-1.5zM539 260.5l-1 2.5 1 1.5 2-0.5 1.5-3-1.5-1zM165 409l-2 1-1 1-1 4 1 2 7 6 1 4-5 3-1.5 3 1.5 2.5 6 3 2 0 1.5-1.5 3-8-0.5-2-3.5-4-0.5-2 0.5-4-4.5-1.5-1-4.5-1-1zM233 420.5l-3.5 2.5 0 2 1.5 4.5 4-0.5 3-4 0-2-1-0.5-2-1.5zM261 425.5l-1 5.5-3.5 2-1 2 2 4 2.5 8 3 2.5 2-0.5 1-2 2-6 5-3 2.5-3-0.5-2-2-1.5-4-0.5-4-3.5zM263 391l-1 2 2 4 1 5.5 2 1 4-2.5 0.5-2-0.5-3-1.5-3-2.5-1.5-2-1zM283 423l-2 1 0 1.5 3.5-0.5-0.5-2zM206 449l3-1 2.5 1 0 2-2.5 2-3.5-2zM198.5 479l4.5 0.5 2 2.5 1 3-4.5 0-3.5-4z"/>
<path fill="#eeeaea" d="M444.5 235l8.5-1 14.5 1 2.5 2 7 8 7.5 6 2.5 7 2 2 2-1.5 3.5-5.5 8-8 2.5-1.5 6 0.5 8 2 10-1 4 1 6 3 1.5 2 0 2-4 4-2 4 0.5 6 2 3 7 3 2 4 2 2 5 1.5 8-1.5 3.5-8 2.5-1.5 4-1 4 0.5 8 6.5 16 4 4 1.5 2 2 2 4 2 18.5 2 5.5 2 4 2 1.5 4-2 4 0 4 2.5 1.5 4 1.5 10 1.5 4 5 6 10.5 8 1.5 2 1 4-0.5 6-4 6-4 2.5-2-0.5-8.5-8-4.5-10-3-3.5-2-1.5-2-0.5-4 0.5-3.5 1-2.5 2-0.5 4 0.5 4.5 8 11.5 1.5 4-0.5 4 1 6-3.5 8 0.5 4 3 4.5 6 2 2 1.5 0.5 2-0.5 3.5-3 6.5-3 2.5-4 1.5-5 0-3-6-4 2-3 8-8 6-1.5 2 1.5 8-2 4-3 4-1.5 4-6.5 2.5-6 3.5-1 4 1 6-0.5 2-3.5 3-2 0-7-15 0-2 1.5-2 0-2-2.5-3-2-1-6 1.5-4 0-8-2-6 0.5-2 0-2-2-2-1-6 1-6-1-6 4-2.5 9 2.5 1.5 5.5 0.5 4.5 3 6 1.5 4 2.5 1.5 3-1 6 0.5 2 1 3 4 3 1 2-7 0-1.5-2-4.5-2.5-4-0.5-4-2-6-1.5-2-3.5-2-2-10-1.5-8 1-2-0.5-2-2-2 0.5-1 2.5 3 1.5 2 2 0 2.5-1 2-1 1-4 1-8-0.5-2-1.5-6-9.5-2-1-4 0-2-1-6-4-2-3.5-2 0-2.5 3 0 8-3.5 8 2.5 6-227.5 0-0.5-4 0.5-2 6.5-6-4-12 0-4 2.5-4 7.5-4 0.5-2 6 1.5 2-0.5 3-3 0-4-1-1.5-4-1-1-1.5-0.5-2 5.5-6 1.5-4 0-2-5.5-4-2-0.5-2 0.5-2.5 2-3 6-3 4-3.5 3-2-0.5-4.5-2.5-7-8-6.5-5.5-2 0.5-2 2-1.5 5-10.5 4.5-2-1-4-5.5-0.5-2 0-4-1-2-3.5-2-3-5-4-2-2 0.5-2 1.5-1.5 5 0.5 4 4 4 2.5 4-3.5 4-1.5 8 1.5 1.5 4 0.5 4 2 3 0 2.5-2 1-4 1.5-1.5 2 0 1.5 3.5 0 4 2 2 6.5-0.5 1 0.5 0.5 2-0.5 6-3 8-4 5-4 1-4-3-4 1-1.5 2-0.5 2 1 2 2.5 2-0.5 2-1 0.5-2.5-0.5-2.5-2-3-9.5-12-4-2-2.5 0-2 2-3 4-1.5 6 1 0.5-0.5-0.5-2-4-4.5-8-0.5-2.5-1-1.5-2-1-4-3.5-4-0.5-4 1-4 6-4 0-2-3.5-2-1.5-2-3-12-4-7 3-9 0-4-3-6-6.5-6-8.5-14-1.5-4 1.5-6 4.5-8 16.5-19 4-1.5 10-2.5 4-2.5 10-12.5 14.5-10 11.5-2 8-5.5 4 0 6 1 2 0 14-5 18-9 24-3 12-7 4-0.5 8 2.5 14 2 8-0.5 4 0.5 4 2 16 11.5 6 1 4-1.5 10-9 18-7 22-4.5 20 2.5 4-1 5-3.5 3.5-6 3.5-7.5 2-2.5zM485 416.5l-5.5 4.5-2.5 6 0.5 2 5.5 3.5 4 4.5 2 0.5 2-1 1-5.5-0.5-2-4-6 1.5-1.5 4 0.5 8 3.5 2-1 1-1.5-7-5.5-10-1.5zM509 397l-1.5 2 3.5 2 2-2-2-2zM571 448l-1.5 3 1.5 2 2 0.5 1-2.5-0.5-2zM233 463l2 2.5 2.5-0.5 0-2-0.5-0.5-2 0zM185 400l-1.5 1 0 2 1 2 2.5 1 2-1 1.5-4-1.5-1.5zM209 370l-0.5 1 0.5 1 2 0.5 1-1.5zM223 393l-0.5 2 0.5 2 2 1.5 6 1 0.5-0.5-1-6-1.5-1.5zM227 378.5l-0.5 2.5 1 2 7.5 4 2 0 4.5-6-4.5-2-8-1zM251 419l-2.5 2-0.5 2 0.5 4-4 4 0 2 2.5 2.5 4 1.5 4 3 2 3 1 6 1 2 4 1.5 2 0 2-2.5 2.5-7 7-6 1-2-1-4-1.5-1.5-6-2.5-1-2 1-2 0-2-2 0-2 1.5-6-4-2-0.5-4 0zM255 380l-3 3-0.5 6 1.5 2.5 2.5-0.5 0-4 5.5-4-2-2zM271 374.5l-4 6.5 1.5 6-5.5 1-4.5 3 0 2 4 6 0 8 0.5 3 2 0 4-4 2-1 6 0.5 4-2.5-1.5-2-4.5-1.5-1.5-2.5 0.5-6-2-4 4-10-1-3-2-0.5zM305 405l-2.5 2 1 2 2 4 3.5 1 2.5-3-0.5-4-2-1.5zM317 473l-1 2 1 2 2-0.5 1.5-1.5 0-2-1.5-1zM327 444.5l-2.5 2.5 0.5 3 2 1.5 2.5-2.5 1.5-2 0-2-2-0.5zM335 390l-3 3 3 3.5 4 2 8 1.5 6.5-3 0.5-2-3-2.5-6-1-6-2-2 0zM355 413l-4 3-1 3 5 2 0.5 2-4.5 3.5-6-2-4 0.5-3 8 3 0.5 10-3 6 0.5 10-2.5 1-1.5-1-2.5-5.5-3.5-2.5-7.5-2-1zM383 406l-9 9-0.5 2 5.5 2 10.5-6-2.5-7-2-0.5zM435 420.5l-1 0.5-0.5 2 1 2 6.5 5 3-1 0.5-2-3-6-4.5-1zM493 445l-2 2-1 2 1 1.5 6-3 4-0.5-5-2zM247 442l-3 3 1 2 4 4 1.5-2 1-6-0.5-1-2-0.5zM265 463l-2.5 2 2.5 2 1-2-0.5-2zM281 421l-3 2-1 2 0.5 2 1.5 1.5 2 0.5 6-2 2-2 1.5-4-5.5-1zM305 438.5l-0.5 2.5 2.5 3 4 1 1.5-2-5.5-5z"/>
<path fill="#f0ebeb" d="M443.5 237l7.5-2 12 1 4 1 8 11.5 6 4.5 4 10 4 3 2 0.5 2.5-1.5 3-8 2-2 7.5-2 5-3.5 8-0.5 10-1.5 4 1.5 2 2 0.5 2-3.5 8 0 4 4 12 1.5 6 3.5 2 11 0 5 2 2 2 4 8 2 2.5 4 1.5 3 0 1-1-4.5-9 1-4 3.5-6 2-2 14 1 10 1.5 3.5 1.5 2.5 3 1.5 5 1 20 2.5 10 1 2 4 1.5 2-0.5 3.5-7 2.5-0.5 2 0.5 2 4 1 8 2.5 6 5 6 11.5 10 0.5 4-0.5 3.5-2 2-2 1.5-4 1-4-1.5-2-1.5-2-3-3-8-7-5.5-2-0.5-4 0.5-6.5 1.5-2.5 2-0.5 4 1 6 4 10 0 2-2.5 4-0.5 4 4 8-0.5 8 1.5 8-2 4-8.5 8-1.5 6-2.5 4-7.5 6-0.5 2 0.5 6-0.5 4-5 7-1.5 1-4.5 2-2-0.5-4-6-2-0.5-4 4-2 0.5-6-3-6 1-2-0.5-3-3-1-4-1.5 2 0.5 2-3 2-5.5-2-1-2-1.5-1-6-0.5-6 2.5-4-2.5-6-1-6 5.5-4-2.5-6 0-1-0.5-1-2 0-8 0.5-2 7.5 0 10-2.5 1.5-1.5-0.5-6-1-1-8 0.5-2-1.5-2-3.5-2-1-6 1.5-6-0.5-2 0.5-6 3.5-1.5 1.5-1 4-2.5 4 0 2 3 5.5 2-0.5 2 1-2 2-0.5 4-4 6 0.5 2 6 2.5 1.5 3.5-1 2-8.5 7.5-4-2.5-3.5 3-4.5 0.5-4-1-1.5-1.5-2.5-4-0.5-4-1.5-1-2 1-5 4-2 4 0 8-3 8 0.5 2 2 4-223.5 0-1-4 1-2 3-2 8-2 2-1 1-3-1.5-2 0.5-1 6 1.5 2.5-0.5 1.5-4 0.5-2-0.5-1-2-2-6-1-2-2 0.5-2 1.5-2 8-4.5 2 0.5 2.5 2 1.5 6 2 2 8 2.5 2.5 5.5 5.5 3 2 0.5 1.5-1.5 1-8-3-4 3-4 0-4 1.5-2.5 3.5-5.5 4-4 2-4 6.5-3 8-7.5 2-0.5 4 1.5 4-6.5 6-1.5 3.5-4.5 0.5-2-0.5-2-3.5-2.5-7.5-3.5-0.5-2.5-2-1.5-3.5 2-3.5 6 1 3 5.5 3-1.5 2-18 5.5-6 3.5-2-1-4-4-2-0.5-2 1.5-2 0-1-1-0.5-2 3.5-1 6-6 10-0.5 2-0.5 1.5-2 0-2-1-2-7.5-4 0-2 2-6-2.5-4 2-6 0-4-0.5-2-2-2-2 0-2 1-4 4.5-4 2-4-0.5-4-2-7.5 7 0.5 8 3 3 8 2.5 2 2.5 0 4-2 5.5-4.5 4.5-5.5 3.5-3.5 0.5-2.5 3-4-0.5-8-3.5-2-5-2-1.5-8 1.5-4-5-2-0.5-3 1.5-0.5 2 5.5 3 2 1 0.5 2-1.5 6 1.5 6-1.5 2-3-0.5-9.5-9.5-1-2 0.5-4-2-2-2 0-6 6.5-2 5.5-6 2.5-4-0.5-2.5-4 0-6-9-10 0-2 2-2 0-2-0.5-1-2-1.5-6 2-4 4.5-2 11.5-1.5 0.5 6 6 1.5 2 0 2-2 2-1 6-2.5 6-4.5 1.5-3.5-1.5-0.5-4-5-6 0-4 1.5-2 9.5-6 0-2-6-1-2-1-2.5-6-1.5-8 0-6-1.5-4 1-6-2.5-8-6-6-3-6-6.5-8-1.5-4 1.5-6 3.5-6 8-10 9-9.5 18-6 2.5-2.5 5.5-8 4-4 12.5-6 12-2 5.5-5.5 2.5-0.5 5.5 3 4-1 6-4 26-12.5 10-2 12-1.5 6-2 8-5 4-0.5 10 3 12 1.5 8-1 4 0.5 4 2 16 11.5 6 1 4-1.5 10-8.5 20-8 20-4 20 2 4-0.5 6-4.5 6-11.5 2-2.5zM445 417l-4 1.5-6-0.5-2 1-2 2-0.5 2 1.5 2 5 4 2 3 6.5 1 3.5 4.5 1.5-2.5 0-2 3.5-4 0.5-2-1-6 0.5-4-1-1-2-0.5zM465 424l-1 1 0 2 1 2 2 1 2-0.5 1.5-2.5-1-2-2.5-1.5zM507 392.5l-12.5 8.5 1 2 5.5 2 8-1.5 3 1.5 1.5 4 5.5 2.5 1-2.5 0-2-2.5-4-1.5-8-2.5-2zM539 423l-0.5 0 0.5 2 4 2.5 2-0.5 0-2-1.5-2zM289 466.5l-0.5 2.5 0.5 1.5 2 1 4 1 2-0.5 1.5-3-3.5-1.5zM293 435.5l0 2 2.5-0.5-0.5-1.5zM171 389l-0.5 2 0.5 2 2-0.5 0.5-1.5-0.5-1.5zM181 396l-2.5 3-0.5 10 1.5 2 5.5 0.5 2-0.5 4-4.5 1.5-5.5-0.5-4-1-1-4 1-4-1.5zM187 371l-5 2 3 1 1.5-1zM191 367l-2.5 2 0.5 1 4-0.5 4 4 2 0 4-2 8 4.5 8-1-1-4-2-2-9-3-2-0.5-4 3.5-8 0zM227 373l-4.5 2-1 2 1.5 4 4.5 6-2.5 2.5-4-0.5-2.5 0-1.5 2 0.5 4-3 4 0.5 2 2 1.5 4 0.5 4-1 2 0.5 4 4 7-3.5-2.5-6 0-2 1.5-1 4-1.5 0.5-1.5-1-4 1.5-2 3-2 1.5-2-7.5-4-4-4-4 1zM249 359l-1 2 1 1.5 2-0.5 0.5-3zM327 383l-2.5 2 0.5 8 10 12.5 8 0 5.5 5.5 0 2-2.5 6-1.5 2-5 2-2.5 2-4 12-4 4-6 3.5-2 0.5-4.5-4-5.5-2.5-4-3.5-2 0.5-2.5 3.5 1 4 1.5 2.5 10 4.5 6 1 2 6 2 1.5 2-0.5 2.5-5 7-6 1-2-0.5-6 4-1.5 6-3.5 8 0 14-3.5 1.5-1.5 2.5-6.5 2-1 6-1 4-1.5 8 0 2-0.5 2.5-3.5 0-2-4.5-5-2-5-2-2.5-2-0.5-2 0.5-6 4-4 4.5-6 4-2 4-2 0.5-1.5-2.5-0.5-6-2-2-2-1-6 3-2-0.5-1-1.5 0-2 1-0.5 2-1 4 0 4-1.5 3-3 0.5-2 0-2-7.5-4-6-5-2-0.5-6 1.5-6-1.5-6 1zM421 459l-8 2.5-2 3.5 1 2 3 1 4 4 4-1.5 1-1.5 1-4 0-4.5-2-1.5zM297 475.5l-1.5 3.5 1.5 2.5 4-2.5 0.5-2-2.5-1.5zM317 469.5l-4 5.5-4 2 1.5 2 6.5 1 4-2 2.5-3 0-2-2.5-3-2-0.5zM339 475l-1.5 2-0.5 2 2 5 2 0 4-3.5 4.5-1.5 0-2-2.5-1zM173 445l4-1 12 2 1 1-0.5 4-2.5 7.5-2 2.5-2 0.5-2-3-10 1.5-1-1-1.5-6 0.5-4zM154 451l3-0.5 2 0.5 4.5 4 0.5 2-3 0.5-6-1-1.5-1.5-0.5-2zM496 451l9-1.5 2 1 0 2.5-2.5 8-0.5 6-1 1-6-0.5-6 1-2.5-1.5-0.5-8 0.5-2zM222.5 455l3 0-0.5 2-2 0.5zM566.5 459l2.5-1.5 2 1.5 1 4-1 4.5-2-1.5-1.5-3zM511 461l5 0 3 2.5 4 1.5 1 2-5 4.5-4 0-2-2-2.5-6.5zM468 467l3-0.5 2 1.5 3.5 9-1.5 1-2 0-2-2-3-5z"/>
<path fill="#f0e9e8" d="M447 237l6 0 10 1 2.5 1 7.5 12 5.5 6 1.5 4 3 4 4 3.5 4 1.5 4 0 2-0.5 6-4.5 6-2 2-2 3.5-6 2.5-2 8-2.5 4 0 1.5 0.5 1.5 2 0 2-2.5 8-0.5 11-2 1-6-2-2 0.5-4.5 3.5 0 2 2.5 1.5 6 0 4 1 10 6 10 2 17.5 13.5 12.5 7 4-0.5 3-2.5-0.5-2-9.5-12-0.5-4 1.5-2.5 4-2.5 10-1.5 10 1 3 1.5 2 2 1 6-0.5 12-2 8 3.5 12 7 3 4-0.5 4-2.5 2-3 2 2.5 1.5 4.5 3.5 8 13 12 1.5 2 0.5 2-1 2-3 2.5-4 0.5-2-0.5-5.5-10.5-6.5-5.5-4-1.5-14 3-2 2-0.5 4 3 18-1.5 10 0.5 8-1.5 8 0.5 2 3.5 6 0 2-1 2-6 6-1.5 6-1.5 3.5-8.5 6.5-1.5 2 1 8-0.5 4-5 6-3.5 1.5-2-1.5-2-4.5-2-1.5-3 0-5 3.5-6-1-6 0.5-1-1-1-4 0-2 3-4-0.5-2-4.5-4-3-6-7-2.5-4 0.5-4 3.5-0.5 2.5 1 4-0.5 2-2 2-2 1-6 0-4 2-2.5-1-1-2 1.5-1.5 4 0 0.5-0.5 0.5-2-3-6 0-4 1-2 3 0 2.5-2 0.5-8 1.5-4-4.5-2-1.5-4 0.5-6 4-4 0-2-4-6-3-1.5-2 0-2.5 1.5-2 8-1.5 1.5-6 2.5-4 4.5-6 3-2 1.5-1 3 4 4 0.5 2-1.5 1.5-2 1-6 0-4 3-4.5 0.5-2 2 0 4-1.5 2.5-6-3-2 0-5 4.5 0 2 4 4 3 4.5 2 1.5 2-1.5 2 1.5 2 4-8 8-1 2 0 2 1 4-2 4.5-4 1-3-1.5-1.5-2-1-8-4.5-0.5-3 0.5-6 6-3 6-0.5 2 1.5 4 0 2-1 2-2 0-4-3.5-4-1-1-3.5 0-4-1-2.5-4-2-6.5-1.5-1.5-3-2-1.5-1.5 2.5 2.5 4-4.5 4-3 8 0 2 0.5 1 2 0 4-1.5 2 1.5 0.5 3-1 4 0.5 3 2 0 6-8 4-2 2 0.5 5 12.5-83.5 0 1-2 5.5-4-1.5-2-4.5-1-4-2.5-4 0-6-2.5-2 2 0.5 8 2 4-37 0 2-4 2.5-1.5 4 2 6 1 6-2 4.5-3.5 0.5-2 0-2-5-6-2-1-6 3-2 0-3.5-2-1.5-2 0-2 0.5-4-1.5-0.5-2 2-1 2.5-3 2-4 0.5-2-1-4-3.5-2 0-3 2 2 8 1 1.5 6 3 0.5 9.5-71.5 0 0-2 1.5-2 3.5-1.5 4-0.5 4-5 6-0.5 2-2 2-9 2-1.5 2.5 2 1 4 2 2 2.5 1.5 4-0.5 4 1 3 2 1 2.5 2 1.5 2 0 1.5-2 0-10 1-8 1.5-1 4 1.5 2-0.5 1-2 0-6-5-3-1-3 1-2 6-5 4-2.5 2-1 0.5 0.5 0 4 1.5 3 2 0.5 6-1.5 4 7.5 2 1.5 4 0.5 3 2.5 1 2 0 4.5 2 1 4 0.5 4 2.5 6 0.5 4 1.5 2-0.5 1-2-3-4-1-2 1-2 10-8 4-8 2-1 6 0 14-3.5 2-1.5 2-2 2-5 8-1.5 6.5 0.5-3 6 1 2 1.5 1 4 0 8-4.5 8 2.5 2-1-2.5-6 1-4 0-4-1.5-2-5-2-5.5-4-4-8-4.5-2.5-4 0.5-10 6-4 1-2-2 0-7-1-2-9-4-2.5-2-7.5-12-2 0.5-2.5 5.5-1.5 1.5-2 0.5-4-2-4-3-2-0.5-2 0.5-4.5 3-3 4 0.5 8 0.5 2 4 4 4 8 4 4 1 4 1.5 1.5 4-1 1.5 1.5-1 2-4.5 1-2 1.5-1 1.5-0.5 6-3.5 6-3 3.5-2 1-2 0-0.5-2.5-1.5-1-8 1.5-2.5-2.5-2.5-4 2-4-0.5-8 9-8 0.5-4-1.5-2-9.5-4-2-2-1-3-2-1.5-6 1-4 5-4 3.5-4-4-6.5-3-0.5-2 0.5-2 4-4-0.5-2-2.5-2-1-2 1.5-12-7-3.5-2 1.5-6 6.5-2 0.5-2-0.5-1-2.5 2-6-0.5-2-2.5-1.5-2 0.5-1.5-1-1-4-1.5-2-2-1-2-0.5-2 1-5 2.5-1 2 0.5 2 1.5 1.5 9 2.5 0.5 2-1.5 6-2 3-8-1.5-2-1.5-2-4-2-1-4 0.5-6-1-4-2.5-8-1-8-3-2 0.5-4 2.5-2 0-6-2.5-2 1-4 4-6.5 2.5-2.5 4-4 4-1.5 4-5 4 0 6-2.5 2-4 1.5-4-2-2-0.5-6 2-0.5-3 1.5-6-2-4-4-10-6-6-3-6-6-8-0.5-2 0.5-4 4.5-8 7-10 8.5-8 20-6 2-1 2.5-3 4.5-8 3-2.5 6-1.5 6 0 6-1.5 10 0 6-4.5 8-3.5 7.5-6.5 20.5-10.5 8-2 14-2 8-3.5 6-3.5 4-0.5 8 2.5 12 1.5 10-0.5 4 0.5 4 2 16 11 6 1 4-1 10-8.5 8-2.5 8-4.5 4-1.5 20-4.5 20 2 4-0.5 4-2 3-3 7-12.5zM533 390l-1 1 1 3.5 2-1 0.5-2.5-0.5-1zM275 476.5l-2 0.5 3.5 4 2.5 1 1.5-1 1-2-1-2-1.5-1zM365 471l-2 2 2 1 0.5-1 0.5-2zM381 439.5l-0.5 1.5 0.5 2.5 2.5-2.5-0.5-1zM399 453l-2 2-0.5 2 0.5 1.5 2 1 4-2 1.5-2.5 0-2-1.5-1zM289 365l-4.5 2-0.5 2 3 0.5 4-2.5 0.5-2zM423 403l-2 1.5-2 6.5-3.5 4 0 4 5.5 6 6 0 7 4 1.5 2 1.5 5.5 4-1.5 2 0.5 1.5 1.5 2 4-1.5 0.5-6-1-4 2-4-1-2 1.5-0.5 2 2 2 4.5 0 2 0.5 4 4.5 4-3 2-7.5 4-1 2-1.5 1.5-6 4-6-1.5-4.5 0.5-5.5-1-2-1.5-2-4-2-10 5-8 0.5-6 2.5-2 0.5-2-2-0.5-2.5 1-2 3.5-1.5 0-2.5-2-4zM421 428.5l-2 2.5 2 2 4 1.5 0-1.5zM191 375l2-0.5 4 2.5 2 0 6-1 2 1.5 2 5 2 0 4-3 2 0 2 1 1.5 2.5 0.5 2-4 2.5-3 5.5-3 3.5-1 4.5-5 7.5-6-2-4 0.5-1-2 0-4 2-4-0.5-2-2.5-4-2.5-2 1.5-6-2-6zM180 379l1-0.5 2 0.5 0.5 2-2.5 0.5zM243.5 399l3.5-1 4 1 6-1 1.5 1 0.5 2-6 10.5-4 2.5-4 0-4 3.5-2 0.5-3.5-3-1.5-2 0.5-2 2.5-3 2 0 4 1.5 0.5-0.5 1.5-4zM146.5 401l0.5-0.5 2 0 5 2.5 1.5 4-1 4-3.5 1-2.5-1-2.5-6zM272.5 411l4.5-0.5 5 2.5-1 2-2.5 2-3.5 1.5-2-1-1.5-2.5-0.5-2zM508 411l1-0.5 2 1 2.5 1.5-3 2-3.5 0.5-1-2.5zM209.5 413l3.5 0.5 1.5 1.5 0 2-1.5 6-2 0-5-4-1-2 1-2zM181.5 415l1.5-0.5 3.5 0.5 2 2-0.5 2-2 2-3 1-1-1zM153 421l4-1 2 1 1 2-1.5 4 0 4-1.5 4-2 3-2 1-2-2 1-4-5-2.5-1.5-3.5 1.5-2.5zM292.5 427l2.5-1.5 1.5 1.5 0.5 2-2 2-4 1-0.5-1zM300.5 431l1 0 1.5 2-2 3-2-1-0.5-2zM534.5 431l3.5 0 0.5 2-1.5 1-2-0.5zM172.5 449l2.5-1 10-0.5 2.5 1.5-0.5 3.5-2 2.5-4 0-6 1.5-2-0.5-2-3 0-2zM470.5 453l2.5-1.5 4 0.5 2.5 1 0.5 2-5 4.5-2 1-3-3.5-0.5-2zM499 453l2 0 2.5 2 0 2-2.5 6-2 1-2-1.5-1.5-3.5 1-4z"/>
<path fill="#ede3e1" d="M446.5 239l6.5 0 10.5 2 3.5 4.5 8 15.5 2 2 10 9 6 3.5 4 0.5 4-1 4-0.5 1 0.5 3 8 2 2.5 4 1.5 8 0 22 5 12 9 6 6 6 2.5 6 4 10 0.5 2 1 1.5 2 6.5 14 2 2.5 4 2.5 8-4.5 8 1 6-1 2 2 2 3.5 0 2.5-6-3-4-0.5-8 3-6-1-2 1.5-0.5 1.5-1 6 1.5 8 0.5 14-0.5 3.5-3 8.5-0.5 6 0.5 10 2.5 6-3.5 5.5-1 8.5-1 2-9.5 6-1.5 2-2 6 1.5 4 0 4-2.5 3.5-2 0-0.5-3.5-2.5-2-5 0-8 1.5-4-2.5-1-1-1-6-2-3.5-4-2.5-3.5-6-12.5-4-2-2-2-6 2-4.5 6-3 2-5 10-2.5 1-5 5-1.5 4-0.5 6 3.5 4 1 4-3.5 5.5-11 2.5-4 0.5-2-4.5-8.5-2-1.5-4 3-2 3-0.5 6-1.5 2-4 1.5-12 0.5-8 5-2 0.5-4-0.5-7.5-3-12.5-2.5-10-0.5-4-2-4 1-4.5 4-0.5 4-1.5 4-0.5 2 1.5 6-4.5 3-4.5 5-1.5 3-0.5 5-2 2-3.5 2-4-1-2 0.5-2 2-6 1.5-4 2-4-7-4-2-4 0.5-8 5-4 0-4-1.5-2-1.5-2-4.5-0.5-2 2-4-3.5-1.5-15-0.5-0.5 4-1 2-3.5 3.5-4-1.5-2-2-2.5-6-2-2-5.5-3-4-0.5-8 3.5-4 0.5-4.5-6.5-9.5-3.5-3.5-2.5-2-4-2.5-7.5-2-2-2-1-4 0.5-4 1.5-8-1.5-4 1.5-3 4.5-5.5 4-1 2 0 8-4.5 9-2 0.5-4-1.5-1.5-2-0.5-4-2-1-6 0.5-4-1.5-3.5 0-0.5 2 1 2-1 3-8-1-3-2 1-1.5 2-1 4-0.5 1.5-1-1.5-1-2.5-5-2.5-2-1-2 0.5-4 1.5-2 2-1.5 10-5.5 1-1 0.5-2-1-2-2.5-0.5-8 2-8 1-3-2.5-1-4.5-2 0-2 0.5-1 2 1 2.5-2 0.5-1.5-3-1-6-1.5-2-2.5 0-1.5 4-2 0-6-3-2-0.5-4 1-5 2.5-3 7-4 2-4 1-2 0-4-2.5-6 0.5-8-3-18-1.5-2 0.5-5 6-7 2.5-8 9-6 0.5-8 6-2 0-2-0.5-2.5-3.5-1-4-0.5-6-8-6-3.5-6-4.5-6 0-3.5 4.5-12.5 5.5-7.5 6-5.5 10-4.5 14-2.5 6-3.5 6.5-2.5 3.5-4 10-5 4-1 8-0.5 4-3.5 4-2 6 0 2-1 1.5-5 3-4 21.5-11.5 20-4 14-6.5 4-0.5 10 2.5 10 1.5 10-1 4 1 4 1.5 16 11 4 1 4-0.5 4-2 8-6.5 8-3 8-4.5 6-2.5 18-3.5 20 1.5 6-1 4.5-3 7.5-12zM309 369.5l-1 1.5 1 1.5 6 5 2 1 1-1.5-1-3-4-3zM524 253l3 0 2 2-2 6-2 2.5-2 0.5-2.5-1-1.5-4 1.5-4zM510.5 269l2.5-1 0.5 1-2.5 2zM581.5 287l7.5-1.5 8 0.5 4 1 2 4-2 12.5-2 1-6-2.5-6-0.5-4-2-4-4.5-1.5-4 1-2zM635 347l2 1 1.5 1 0.5 2.5-2 0zM240.5 367l4.5 0.5 4 1.5 0 2.5-2 3-4 1-2-1-1.5-3.5 0-2zM201.5 381l1.5-0.5 4 4.5 8 0-2 4.5-6 6.5-2 1-4-1-2-1-4.5-8 1-2 3.5-1.5zM500 381l5-0.5 1 2.5-3 1.5-2-0.5-2-1zM523.5 395l1.5-0.5 2 0.5 1 2-3 1.5-2-1.5zM196.5 401l2.5-1.5 2 1.5-2 2.5-2-0.5zM148 405l1-1 2 0 1.5 1 0.5 2-1 2-1 0.5-2-1zM249 405l2.5 2 0 2-2.5 1.5-1.5-1.5zM323 409l2-1 2 1 4 6 1 12-1 2-4 4.5-2 0.5-4-1-6 1-2-0.5 0-3.5 3.5-5 0.5-2-1.5-4 0.5-2 5.5-4zM211 415l1.5 2-1.5 2.5-2-0.5-1-2 1-1zM521 421l6 4 0.5 2-0.5 2.5-2-1-3.5-3.5-1-2zM152.5 423l4 0 0.5 2-0.5 4-1.5 1.5-6-1.5-1-2 1-2zM378.5 425l4.5 0 1 2-1.5 6-4.5 6-1.5 4 0.5 4 2 1 6.5-5 0.5-8 3-0.5 4 1 2-0.5 4.5-4 3.5-0.5 10 5.5 6-0.5 8 3.5 0.5 8 1.5 2 6 0 2.5 2-0.5 6-2 1.5-2-0.5-14-5.5-2-3.5 0-6-2-0.5-2 0.5-4 5.5-2 0.5-4-1-4 0.5-4-1.5-2 0.5-4 3.5-1 2 1 1.5 4 1.5 2 5 2 2.5 6-1.5 2 1-1.5 8 0.5 2 3 2.5 4.5-0.5-0.5 4 2 6-43.5 0-1-4 2-10-1.5-4-2-0.5-2 0.5-8 7-2 1-4-1-3.5-3 1.5-6-1.5-2-4.5-5.5-2-1.5-4-1 4-2.5 3-5.5 6.5-8 8.5-1.5 6 1.5 2-4 7-4 2-4zM369 455l-2 0.5-1.5 1.5 1.5 2.5 2-0.5 1-2zM458 433l3 0 1 2 0 4 2 4-0.5 2-4.5-2-1 2-2 2-3 1-2-0.5 0-2.5 5.5-4 0.5-6zM295.5 443l1.5-0.5 1.5 0.5 1.5 4 3 3.5 6 0.5 1 2-1 1.5-1.5 0.5-4.5 0-4 7-2 1.5-2-0.5-2-2-2-4-2-1.5-3.5-0.5-1-2 0.5-3.5 2-1.5 6 1.5 2-1 1-1.5zM324.5 465l2.5-1 2 0.5 3 2.5 0 2-1 1.5-2 0.5-4-3zM244.5 473l2.5-1.5 2 0 6 2 6-1 2 1 2 6 2 1 6 0.5 6 3.5 2 0 1-1.5 3-7.5 5.5 1.5 1 2-0.5 4.5-0.5 1.5-21 0-2.5-2.5-2-0.5-5.5 3-33.5 0 1-1 4 0 2-1 1.5-2 1.5-4zM424 477l1-1 2 0 4.5 9-12 0 3-4zM330 483l3-1 2.5 3-6.5 0zM356 483l3-1 2 0.5 0.5 2.5-8 0z"/>
<path fill="#ebdeda" d="M448 241l3 0 8 1.5 4 1.5 5 7 3 12 1.5 2 6.5 3 8 8 6 4.5 4 1.5 6 0.5 4 6 4 2 16 2.5 8 0 10 2 9 8 3 6 2 2.5 8 2 10 6 2 1.5 2 6 8 5.5 6 7.5 2.5 15-1.5 4-1 1.5-2 0-2-1-1.5-2.5-1.5-10-1-2-2-2-8-0.5-2-1-2 1.5 2 4 0 4-6 10-4 8-2 1.5-10 2-10 4-2 0.5-16-5.5-14-1-6-5-12 9.5-2.5 6-1.5 2-2 1-6-2-4 1-2 2 1 6-2.5 4-1 6-3.5 2-6 1.5-4 4-7.5-3.5-0.5-2.5-0.5 0.5 0 2-1.5 2-6 4.5-4 1.5-4-2-3-4 1-2 4 1 2-1 0-2-8-5-12-1-8-2.5-10 1.5-12-4.5-4 0-6 1-8-4.5-10-2.5-3-4.5-3-9-4-3-4-1-8 0.5-12-1-1.5 1.5-0.5 5-2 2.5-2-0.5-6-7.5-12-2-5.5-5.5-2.5-0.5-10 2-6-1-4-5.5-2-1-4-0.5-6-3.5-4 0-4 2-8-0.5-11.5 2.5 0.5 4-0.5 2-4.5 2-2 0-1-2 0-2 3-3 3.5-1-3.5-2-8 2-1 2 0 4-3 2-2 0-6-2.5-6-0.5-6-2.5-10 0.5-2 1.5-4 6.5-8 2.5-6 7-8 1.5-5 4-3 1-2.5-3 0-8-9.5-9.5-4.5-8.5 0-10 1.5-6 3.5-6 5.5-4 10.5-6 13.5-2 14-5 14-9.5 4-1 6 1 2-1 4-4 2-1.5 2 0 6 3 2-0.5 3-11.5 1-2 16-9.5 6-3 14-3 18-7.5 4-0.5 10 3 10 1.5 10-1 4 0.5 6 3 14 9.5 6 0.5 5-1.5 9-7 8-2.5 8-5 6-2.5 18-3.5 20 1.5 8-1.5 4.5-3.5 5.5-9.5 4-3zM584 291l3-1 2 0 3 1 0 2-3 2.5-4 0-1.5-2.5zM300.5 369l2.5-1.5 3 5.5 9.5 8 2 8 0 2-4.5 5.5-2-0.5-1.5-5-2.5-1.5-6 1-2-1-4-4.5-2 0-4 1.5-5.5-5.5-0.5-2 1-2 2-2 5-2.5 6-1zM585 379l4-1.5 2 0.5 2 3 1.5 8 0 6-1.5 4-5.5 4 5.5 8 1 4-0.5 2-4.5 4-6.5 2-4.5 8-1.5 4-1.5 1.5-8 1.5-2-0.5-4.5-4.5-3.5-10-4-2-4-3.5-5.5-2.5-2.5-3.5-2 0-2-1-1.5-3.5 1-2 2 0 4.5 5 4-3.5 4-2.5 4-4.5 4-0.5 0.5-2-1-4 0-2 2.5-1.5 2 1 2 1.5 6.5 11 1.5 1.5 2.5 0.5 0.5-2-2.5-4 0.5-2 5-4 0-4 1.5-4zM565 428l-1 1 1 2.5 2.5-2.5-0.5-0.5zM200 389l1-1 2 1 0.5 2-2.5 1zM474.5 401l2.5-0.5 3 0.5 1.5 4-0.5 5-2 1-3.5-2-1.5-4zM322.5 421l0.5-1.5 6 5.5 0 2.5-4 3.5-5.5-2 0-2zM372.5 435l3 0-0.5 2.5-2 0-1-0.5zM389 437l4 2 4 0.5 2 3.5-2 1-4-1.5-3 0.5 0.5 2-0.5 2-4.5 4-1.5 4 8 4 3 5 4 3 1 6 9 7 2.5 5-10.5 0-2-2.5-1.5 0.5-0.5 2-24 0 0.5-14-2-10 3-6-0.5-2-1-0.5-4 0-6 2.5-0.5 2 2 4 0 2-3 4-2.5 2.5-6 3.5-3-2 0.5-2 3-2 1-2 3-8-2.5 0-4 3.5-2 0-2-2-2-3.5 0.5-6 6-8 5.5-1.5 4 0.5 12 7 2 4 2 1.5 2-0.5 10-9 0.5-2-1-2zM407 439l2-1 1 1-1 4-2 2-2-0.5-1-1.5zM422 441l1-0.5 1.5 0.5 0.5 2-2 5.5-2 0zM432 451l3 0.5 0.5 1.5-0.5 1.5-2 1-2.5-2.5zM295 453l2-1 2 1-0.5 2-1.5 2-2-1.5zM245 475l4-1 6 2.5 4-1 2 1.5 0.5 2-1.5 2-3 1.5-2 2.5-20.5 0 4.5-6.5z"/>
<path fill="#e9d8d3" d="M445 245l4-1 6 0 4 1 4 2 3.5 6 0.5 4 0 6 1 4 3 2 4 0.5 4 2 8 8.5 6 4.5 6 3 6 6 2 1 10 0 8 3 10-1 8 2.5 6 5 8 10 4 2.5 6 2.5 6 4 1 2 0.5 4-5.5 12 0.5 12-2.5 6-4 6.5-4 3-14 4.5-4 0.5-4-1-8.5-3.5-2.5-2-5-6.5-3.5 0.5-0.5 2 0.5 2-1.5 2-3 0-2.5-6-2.5-2-3-0.5-2 1-4.5 7.5-7.5 6-4 7-8-1-5 2-1.5 2 0.5 8-3 8-3 1.5-6-1.5-1.5 4-2.5 2-2-1.5-0.5-2.5-3.5-2-14-0.5-6-2.5-12-1-8-2-10 0-10-3-10-1.5-6-4.5-8 0.5-4-1-2.5-2.5-3-10-2.5-2.5-4-2-16-2-8 0-6-1.5-12 2-2-1-4.5-5-5.5 0-10 1.5-2-0.5-4-1-4-4-4-2-12-3.5-4 0-16 2-12-0.5-10 3-1 1 1 5-2 0-4-2-6 1-2 0-6-3.5-10 0.5-3 1-1 1.5-2 4.5-2 2-6 1-2 1.5-4 5.5-4 1.5-4 0-3-1.5-7.5-8-6-4-3-4-1.5-4-1-6 0.5-8 3-6 4.5-4 12-6.5 10.5-1.5 15.5-5 12-8 4-1.5 10 0.5 6-4.5 2-0.5 6 4.5 2 0 2.5-3.5 2-10 1.5-4 14-9.5 8-4 12-2.5 18-7.5 4-0.5 10 3 10 1.5 10-1 4 0.5 6 3 14 9 2 0.5 5-0.5 5-1.5 8-6.5 8-2.5 10-6 6-2.5 16-3 10 0.5 10 1 8-1 4.5-2.5 5.5-8.5zM153 375l2-1 1.5 1 0 2-1.5 2-2-0.5zM288.5 375l2.5-0.5 12 0.5 4 1.5 6 4.5 2 8-2 1.5-2-2-3.5-1.5-6.5 1-2-2-2-3.5-2-0.5-6 1-3-2-0.5-2 0.5-2zM554.5 405l2.5-0.5 1 0.5-0.5 8 1.5 3 2 0 2-2.5 2-5 2-2 2 0 6 4 12 1.5 2 1 1 2-1 2.5-8 2.5-4 5.5-6 0-6-2.5-4-0.5-4-5-6-1-4-2-1-1.5 2-4zM569.5 433l1.5-0.5 2.5 0.5-2.5 2zM355 441l4 0.5 9.5 5.5 1 2-6.5 3.5-8 1.5-4 3-2 0-1.5-4 0-2 3.5-3 1.5-5zM359 461l2-1 0.5 1-0.5 2.5-2 1.5zM381.5 461l3.5-1.5 4 0.5 2 1 4.5 6 0.5 2-5 8 0 2 3.5 6-14.5 0-3-8 0-4-1.5-6 1.5-4.5zM247.5 479l1.5-1 2 0.5 1.5 0.5 0.5 2-2 1-2.5-1zM240.5 481l2.5-1.5 1.5 1.5 0.5 4-7.5 0zM402 481l1-1 4 0.5 2 2 1.5 2.5-8.5 0z"/>
<path fill="#e6d2cc" d="M448.5 247l8.5 0 4.5 2 1.5 2.5 0.5 3.5-1.5 8 3 7 4 2.5 8 1.5 12 12.5 10 6 6 7.5 2 0 8-2.5 4 1.5 4 4.5 2 0 6-2.5 4 0.5 12 6.5 12 11.5 10 5.5 1 2 0.5 2-4 12-1 14-1.5 4-3 4.5-2.5 1.5-11.5 5-6 1-4-1-6-3-6-7-4-2.5-8-0.5-6-2-4 0-3 2-2 6-3 4-4 2.5-10 2.5-4 2.5-5 4.5-2 4 0.5 6-1.5 4-2 2-6 0.5-6 3-6-2-10 0-10-2.5-10-1-10-2-10-0.5-16-4.5-6-6-4-2-6 2.5-2 0-2-1.5-1.5-6-2.5-4-4-2.5-4-1.5-16-3.5-8 1-6-2-4-0.5-6 2-2-0.5-4-4-2-0.5-14 1-8-2-8-4-14-4-16 2-16-1-10 2.5-8 5.5-2 0.5-2-0.5-4-3-2 0-12 1-3.5 2-2.5 4-2 1.5-6-1.5-2 2.5-3.5 7.5-2.5 1.5-2 0-2-1.5-2-3-6-6.5-6.5-2.5-2-2-3-8-0.5-8 2.5-6 3.5-4 10-5.5 4-2 10-1.5 14-4.5 16-8.5 10 1 8-3 6 3.5 2 0.5 2-0.5 2-3.5 4-16 9.5-8 8.5-5 14-3.5 6-3.5 12-4.5 4-0.5 10 3 10 2 12-1 10 4 12 7.5 4 0.5 6-1 10-6.5 8.5-3.5 9.5-6 8-2.5 14-2.5 12 0.5 10 1.5 8-1 5-4 3-5.5 2-2.5zM288.5 377l2.5-0.5 2 0 1 0.5 0.5 2-3.5 2-2 0-1.5-2zM302.5 379l2.5-0.5 2 0.5 2.5 2 0.5 2-4 2-4 0-1.5-2 0.5-2zM550 411l1-0.5 2 0 0 2.5-2 1-1.5-1zM568 411l1-0.5 2 1 7 3.5 0.5 2-3.5 6-4 0.5-5.5-4.5 0-4zM356 443l1.5 0 3 2 2.5 2 0.5 2-2.5 1-4-1-2.5-4zM383 463l2-1 4 0 2 1.5 2 3.5 0 2-4 7-2 0.5-2-0.5-2.5-3 0.5-6-1-2zM404 483l1-1 2 0.5 2 2.5-5.5 0z"/>
<path fill="#e4ccc5" d="M445.5 251l3.5-0.5 8 1 1 1.5-3.5 4-0.5 2 5 12 6 5 12 3.5 4 3.5 7 8 9.5 4 5.5 8 4 1 6-1.5 2 0.5 5 4 3 1.5 2 0 6-2.5 2 0 6 1.5 6.5 3.5 7.5 6.5 6 7 6 3.5 1 3-2 16-2 10-3 4-10 6.5-4 1.5-4-0.5-8-3-10-9.5-10-1.5-6-3-4 0-6 3.5-1.5 2-0.5 4-2 3-2 1-4-2-2-0.5-7.5 4.5-9.5 14 0 6-1 3.5-2 1.5-10 4.5-8-2-8 0.5-10-3-8-0.5-12-2-8-0.5-14-3.5-4-2.5-8-8-2-0.5-6-0.5-2-1-8-8-18-5.5-4-0.5-8 1.5-6-2-6-0.5-4 0.5-8-3-14 0.5-6-1.5-8.5-3.5-15.5-4-4 0-12 1.5-18.5-1.5-11.5 4-6 4-6-2.5-8 1.5-6-0.5-8 4-8-1-2 0.5-4 4-2 0-14-3-2-1.5-3.5-7.5-0.5-6 2-6.5 4-4 10-6 26-7.5 16-7.5 10 1 8-1 8 3.5 2 0 2-1.5 2.5-4.5 3-16 8-8 8.5-5.5 14-3.5 6-4 10-3.5 6-1 10 3 10 1.5 12-0.5 10 3.5 12 7.5 4 0.5 7-2 9-5.5 10-4 8-5.5 8-3 16-1.5 10 0 16 2.5 4-1.5 4.5-3.5 3.5-6zM570 417l1-0.5 2 1.5 1 1-1 2-2 0-1.5-2zM386.5 465l2.5 0 1.5 2-1.5 5-2 1.5-1-2.5z"/>
<path fill="#e2c7be" d="M441 261l4-1.5 2 0.5 5 5 3 8 1.5 2 10 6 4.5 5.5 6-0.5 2 1 8 7.5 8 2.5 6 8 2 1.5 4 0.5 6 0 10 4.5 10-2 4 0.5 4 2 10 7.5 6 8.5 4 3.5 2 3.5-1 10-3 10-2 4-8 6.5-6 1.5-4-1-6-3.5-10-8.5-8-1.5-10-4-10 1-10 5.5-11.5 12-2.5 6-5.5 8-1.5 8-7 5-4 0.5-6-1.5-6 0.5-12-3-12-1-16-3-6-2.5-7-1-5-3-8-7.5-8-2-10-7.5-20-6-8 0.5-6-1.5-12 0-6-2-16 0-32-8-14 1.5-16-2.5-8 1.5-12 5-8-0.5-6 1.5-8 0-8 2.5-8-0.5-6 2.5-8 0-4-0.5-2-1.5-4-8 0-4.5 2-5.5 4-3.5 6-4 5-2.5 23-6 14-7 4-0.5 16 2 8 3 2 0.5 4-3 6-6.5 6 5 4 1 2-1 1.5-1.5-1-2-2.5-2-4-1.5-6 0.5-1.5-9 1.5-6 5.5-6 6.5-4.5 6-2.5 10-2 5.5-5 10.5-4 6-0.5 18 5 12-0.5 4 0.5 8 2.5 10 6 4 1.5 10-2 8-5.5 10-3 10-7 6-2 14-1 12 0 14 4 2-0.5z"/>
<path fill="#e0c1b6" d="M386.5 265l4.5-0.5 24 0.5 12 4 4 0.5 4-1.5 6-4 4-0.5 2 0.5 2.5 3 2 10 9.5 4.5 3 3.5 3 6 2 1 8-0.5 2 0.5 7.5 5 6.5 2.5 2 1.5 6 8.5 4 1 8 0 6 2.5 4 1 10-1.5 4 0.5 3 2 3 3.5 7 4.5 3.5 6 5.5 6 1 2 0.5 6-5 14-3.5 4-3 2.5-4 1.5-2 0-10-4.5-10-9-8-1-10-4.5-10-1.5-2 0.5-10.5 8-5.5 7-6 5-6 12.5-4.5 11.5-3.5 3-4 1-6-1.5-8-0.5-8-2-16-1-12-4-7-5-9 0.5-4-2-8-7.5-8-2-8-6.5-10-2-10-4-12-2.5-2 0-8 1.5-6 0-6-2-6 1-10-1-30-7-10-0.5-6 1-6-2-10-0.5-6 0.5-16 5-12 2.5-8 0-8 2-8-1-6 1.5-8 0.5-4-1.5-3.5-6 0-4 1.5-4 3.5-4 6.5-4.5 14-5.5 14-3 12-5 4-0.5 12 2 14 4.5 2 0 6-4.5 2-0.5 8 2 8-3 2-2 0-2-0.5-2-3.5-3-10-5-2-2-1-4 1.5-4 5.5-5.5 4-3 6-2.5 12-1.5 4-6 7-3.5 7-1.5 18 5 14 0 6 1 6 1.5 10 6 4 1 8-1.5 10-5.5 10-3 9.5-7z"/>
<path fill="#dfbbaf" d="M391 265l24 2 8 3.5 8 1 4-0.5 6-4 4 0 2 2 0 2-2.5 6 1 4 3.5 1.5 8 0 3.5 2.5 2.5 6 2 2.5 4 1 8 0 8 5 8 3.5 2 4-1.5 8 1.5 3 2 1 2 0 6-4 4-1 4 0 10 3 12-0.5 1.5 2.5-5 6 1 4 1.5 2 3 2 2 0 2.5-2 2-4 1.5-1 2 0.5 9.5 10.5 1 2 0.5 4-5 14-4 4.5-4 1.5-2 0-10-5-8-8.5-2-1-8 0-8-4-10-3-4 0.5-8 6.5-6 4-5.5 6.5-7.5 6-3 6-2 12-3.5 6-2.5 2-2 0-6-1-8-0.5-8-2-12-0.5-8-1.5-5-2.5-9-6.5-12-0.5-8-7-10-3.5-8-7-10-0.5-10-4-6-1.5-6-4-2 0-8 4-6 0-4-1.5-8 1-10-1-6-2-13.5-2-10.5-2.5-10-1.5-6 1-6-3.5-16 2-12 2.5-16 5-10 0.5-6 1.5-6-1.5-8 1.5-8-1-2-0.5-2.5-3.5-0.5-2 1-4 5-6 6-4 13-5.5 10-1 12-4 14 0 8 2 12 5.5 2 0.5 8-4.5 8-1 10-3 1.5-5-0.5-4-5-5-11-7-1-2 1.5-4 4.5-5 6-3 10 0 8 3.5 4-0.5 1.5-3 0.5-4-4.5-4 0-2 8.5-3.5 6-0.5 16 5 14 0 10 1.5 4 1.5 8 5 4 0.5 8-1.5 10-5 10-3 11-8z"/>
<path fill="#ddb5a7" d="M386 267l5-1 10 2.5 12 1 8 3 10 1 7.5 1.5 4 8 2.5 2 10 0.5 2 0.5 2 2.5 2 6.5 2 2 14 0.5 8 6.5 2.5 1 1 2-1.5 1.5-4 0.5 0 2 4 1 8 10 2 1 4 0 8-4.5 4 0 10.5 2.5 1.5 2 1.5 6 6.5 5.5 4 2.5 4 0 6-3 2 1 3 2 2.5 4 0 4-2.5 10-3 4.5-4 1.5-2 0-10-5-8-10-10 0-10-5-8-2-4 0-3.5 2-6.5 5.5-8 3.5-6.5 9-15.5 10-1.5 2 0.5 2 6 2 1 1 0.5 3-0.5 3-2 3.5-2 2.5-2 0.5-12-1-10-2-16-0.5-6-2.5-10-7.5-4-1-10-0.5-8-6-10-4.5-8-10-6 3.5-4 0-14-6.5-2-2-3-7-3-3-2-1-2 1-3 7-3 3-6 1.5-6 0-4 1.5-12-1-6-2.5-8-0.5-14-3.5-8-1-4-1.5-6-0.5-8-4.5-4 2-6 2-18 3-16 6-8 0.5-6 0.5-6-1-10 1-6-2.5-1.5-2.5 0.5-4 3-4 5-4 13-6 10-0.5 10-2 6 0 8-1.5 4 0 10 3 4 3 4 4.5 2 1 2-0.5 4-5 6-2 8-1.5 2 0 6 3 2-1 1-12.5-0.5-10 1-6 2-4 2.5-1.5 8-0.5 3.5-2 2-10-2.5-6 2.5-2 2.5-0.5 4 0.5 14 4.5 14 0 12 1 4 1.5 8 4.5 4 1 9-2.5 11-5 10-2.5zM251 289l4-1 5 1 2 2 0.5 2-1 2-2 2-4.5 2.5-6-1-2-1.5-0.5-2 2.5-4z"/>
<path fill="#dbafa0" d="M388.5 267l3 0 7.5 3 12 2 6 2.5 10 0 6 1.5 4 3 3.5 6 2.5 2 10 5 6 8.5 2 1 2 0 6-2 4-0.5 4 2 1 2-1.5 6 1.5 4 3 2.5 6 1.5 8 8 8 1.5 8-4 4 0.5 2 2 0.5 2-2 4 1.5 1.5 6 1 16 7 2 0.5 6-1 1.5 1 2.5 6.5 0 3.5-1 4-3 3.5-4 0-6-2-4-2.5-2.5-3-3.5-8-2-1-8 1-10-7-6 1.5-8-0.5-4 2-6 4.5-10 3-3 2.5-4.5 8-4.5 3.5-8 4-2 2-2.5 4.5 0 4 2 2 5.5 2 0.5 2-3 4-10.5 0.5-12-1.5-12 0-8-2-8-6.5-4-2-4-1.5-8 0-4-2-16-10-6-10-2-1.5-2-1-2.5 5.5-1.5 1.5-2 0.5-4-0.5-10-7.5-6-9.5-4-3.5-2-1-2 0-2 1-3 7-1.5 2-5.5 3-6 1.5-4 2-12-1-6-3-6 0.5-14-3.5-8-0.5-11.5-5-2.5-2-0.5-2 1.5-2 9-2.5 4 0.5 8 4 2-0.5 1-3.5 0-8 3.5-20 1.5-2 2.5-2 9.5-0.5 2-1.5 0.5-2-1.5-8 2-8 1-1 7.5 1 6.5 2.5 14-0.5 14 0.5 4 1.5 8 4.5 4 0.5 10.5-3 9.5-4 10-2.5 9-7.5zM209.5 325l5.5 0.5 8 3 3 2.5 1 4-1.5 2-4.5 2-16 2-14 7-14 0.5-6-1.5-8 1-3.5-1-2.5-2-0.5-4 2.5-3 14-9 4-1 8 0.5 8-1.5 10 0.5z"/>
<path fill="#d9a999" d="M386 269l5-0.5 12 5.5 12 3.5 10-1 6 1 16 17 5.5 2.5 2.5 6 6 7 2 0 2.5-1 3.5-6 2-0.5 1.5 0.5 0.5 2-1 4 2.5 4 4.5 4 8 3 6 8.5 2 1 6 0.5 2 1 0 2-1.5 2-2.5 1-6-2.5-10 7-10 2-2 1-3 3.5-5.5 10-3.5 2.5-8 4-4.5 7.5-1.5 10-2 1.5-2 0.5-24-0.5-4-1.5-7.5-6-6.5-3.5-14-2.5-16-10-8-11.5-10-8.5-2 0-1 2 5 5.5 0 4.5-2 2.5-4-1-3.5-3.5-10-14 0-2 1.5-1 6-1.5 0.5-1.5-2.5-2-10-0.5-4-1-2 0.5-5.5 5-6 10-6.5 3-4 3.5-10-1-3-1.5-2.5-4 0.5-8-1-1.5-2-1-4 0.5-2 2 0.5 2 4.5 6-1 2.5-2 1-4-0.5-4-3.5-5-1.5 3-8-0.5-8 0.5-3 4.5-7 0.5-2-1.5-4 0.5-4 1.5-2 2.5-1 8 2 7-5 0.5-2 0-2-5-6-0.5-2 2-3 2-0.5 2 0.5 4 3.5 12-4.5 6-0.5 6 1 8-1 4 1.5 8 4 4 0.5 10-2.5 10-4 10-2zM212.5 327l8.5 2 2 2 1 2 0 2-5 2.5-10-0.5-4 0.5-7.5 3.5-4.5 4-4 1.5-10 0.5-8-1.5-8 0.5-2-1-1.5-2 0-2 1.5-2 14-9 10 0.5 8-1 10 1.5zM249 333l4-0.5 6 2 4 2.5 0.5 2-4.5 1.5-4-0.5-6-5zM517.5 337l1.5-0.5 3 0.5-0.5 2-2.5 1-1-1zM533 341l6 2 8 5.5 1.5 2.5-0.5 2-1 2-4 1-8.5-3-3-4-1-4 0.5-2.5z"/>
<path fill="#d7a491" d="M385 271l4-1.5 2 0.5 12 7.5 6 2 8 0.5 8-1.5 4 0.5 16 16.5 6 3 2 6 6 8.5 4 1.5 8 0 14 8 2.5 2.5 1 6-2.5 4-5 3-8 1.5-4 2.5-2.5 3-5.5 11-4 3-6 2-1.5 2-6.5 14-2 2.5-6 1.5-14 0-4-0.5-4-1.5-6-5-8-4-4-1.5-8-1-4-1.5-8-5-5.5-4-7-10-11.5-10-2-1-6 4-2.5-1-1.5-2 0.5-2 5-4-0.5-2-2-2-5-2-10.5-4-3.5 0-4 2-4 5-4 1.5-6-1-8-6.5-2 0.5-4 4-2 0.5-3.5-2-1.5-10 0.5-4 4.5-5.5 8.5-4.5 1.5-2.5 2-9.5 4-4 2-1 6-1.5 8 1.5 8-2 4 1 8 4 4 0 12-3 8-3.5 10-1 4-2.5zM212.5 331l4.5-1 3 1 1.5 2-2 2-2.5 0.5-4-2.5zM292.5 331l2.5-1 4 0.5 4 2.5 2 2-0.5 2-3.5 6-2 2-7.5-2-2-2-0.5-4zM173 333l4-1.5 16 0.5 5.5 1 1.5 2-8.5 8-4 2-8.5 0-8-2-6-0.5-1-1.5zM533.5 345l1.5-1 3.5 1 2 4 0 2-3.5 0.5-2-1-1.5-3.5zM347 347l3 0 1.5 2-0.5 1.5-1 0.5-1.5 0-2-2z"/>
<path fill="#d59e8a" d="M385 273l4-1.5 2 1 8 6 8 3.5 8 0.5 8-1.5 4 0 6 6 6 4.5 5.5 5.5 4.5 2 4 10 4 5 4 2.5 8 0.5 4 1 5 3 5.5 6 0.5 4-1 2-3 2-9 2.5-3 1.5-3 4.5-5 11.5-3 2.5-6 2-2 1.5-7.5 14-2.5 3-6 1.5-14 0-4-1.5-7-5-11-6-14-3-5.5-3-5-4-9.5-11-15-13-4.5-6-3.5-2-13-6-4-0.5-4 1-7 5.5-3 1-4-2-8-7-4-2-2.5-2 0.5-2 1.5-2 6.5-4 2-2.5 4.5-13.5 2-2 3.5-1.5 2-0.5 6 2 10-3.5 4 0.5 6.5 3 5.5 0.5 12-3 8-3 12-1zM176 335l5-1 6 0.5 4 0.5 1 2-2.5 4-2.5 2-6 0.5-4-1-4-3.5 0.5-2zM296 335l1.5 0 0 2-0.5 1-2.5-1z"/>
<path fill="#d39883" d="M386.5 275l2.5 0 8 5.5 8 3.5 4 0.5 16-0.5 6 4.5 7.5 4.5 4.5 5 5 3 3 8 4.5 6 5.5 3.5 8 0.5 4 1 3 3 1.5 2 0.5 4-0.5 2-2.5 2-6 2-2.5 2-3.5 6-4 11-2 2-8 3.5-8 13.5-4 4-6 1-12-0.5-22-12.5-4-1.5-8-0.5-4-1.5-6-4.5-11.5-12-13.5-12-5.5-6-7.5-4.5-10-5-4-1.5-6 1.5-8 4-2-0.5-4-3-3-5 0.5-4 4-6 2.5-6.5 4-5 8-1 10-5.5 2.5 0 7.5 3 4 0 22-5.5 12 0zM182 337l3 2-2 2-2.5 0-2-2 2.5-1.5z"/>
<path fill="#d2927c" d="M386.5 279l2.5 0 10 5 6 2 4 0.5 10-1 4 0.5 16 9.5 7.5 7.5 4.5 10 4 4.5 6 3 10 1 2 1.5 1 2 0.5 2-1.5 3-6.5 3-3.5 4-2.5 6-2.5 10-2 2-5 2-3.5 2-7 12-3.5 4-2 1-6 1-8-0.5-16-8.5-8-5.5-4-1-8-0.5-4-1.5-9-8.5-21-18-6-6.5-10-7-10-5.5-4-0.5-12 2-2-0.5-1.5-2 0-2 5.5-13 18-11 2 0 6 2 4 0 24-5.5 4 0 8 2 2-0.5z"/>
<path fill="#d08b75" d="M362.5 285l4.5-0.5 6 2.5 2 2 2 7.5 2 0.5 4-2 1-8 1.5-2 3.5-1.5 16 4.5 4 0.5 8-1 4 0.5 6 4.5 6 1.5 4 2 8 9 5 10 5 5 6 3 8 0.5 2 1.5-0.5 2-7.5 4.5-3 3.5-2 4-1 12.5-2 2.5-6 2-2 2-6 10-4 5-6 2.5-10-0.5-15-8-9-7-4-1-8 0-4-1.5-6-7-16-11.5-14-13.5-10-8-4.5-2.5-5.5-6-8 1.5-2.5-1.5-0.5-4 1-4.5 14-10.5 2-0.5 8 1 12-3.5z"/>
<path fill="#ce856d" d="M353.5 287l11.5-1 4.5 1 2.5 4 0 8 0.5 2 2.5 2 13.5-2 2-4 0.5-6.5 2-1 16 1.5 8-0.5 2 0 1.5 2.5 0.5 4 2 1.5 6-2.5 2 0 4 1 8.5 10 5.5 10 10 10-0.5 2-4.5 4-1 2 2 10 0 4-0.5 2-7.5 4.5-7 11.5-3 4-4 2.5-4 1-8-1.5-12-6-4-2.5-8-6.5-4-1-6 0.5-4-1-6.5-7.5-7.5-4-15.5-12-6.5-6.5-7-5.5-3-4-4.5-4-1-2-0.5-6-3-8 1-2.5 2-1.5 8-1 6.5-3z"/>
<path fill="#cc7f66" d="M347 289l6-1 12 0 2 0.5 2 2.5 0 2-1.5 6 0.5 2 9 7 2 1 13-4 3.5-2 1.5-8 2-1.5 2-0.5 3 0 3 2 1 2-1 5 2 0.5 6-0.5 8 5 2 0 2-1.5 3-4.5 3-1 2 1.5 8 9.5 6.5 12 0 2-2.5 6 0 2 5 10 0.5 4-1 2-6.5 6.5-8 13.5-4 3-4 1-6-0.5-14-7-4-2.5-8-8-2-1-8 1-2-0.5-2-1.5-4-5-10-4.5-12-8.5-17-16-4.5-10-0.5-10 1-2 4.5-4z"/>
<path fill="#ca795f" d="M349 289l6 0 9 2 1 2-5 4-1 2 0 2 2 2.5 6 0.5 4 1.5 6 6 4 0 12-3.5 12-0.5 8-1 4 1 10 7.5 4 0.5 6-3 2 0 2 2 4 6.5 0 4-2.5 6 0.5 4 5 6 1.5 4-1.5 4-4.5 6-6.5 12.5-2 2-4 2-4 0-4-1-16-8-3-3.5-7-9.5-4-0.5-6 1-6-4-12-4-15.5-11-12-12-1.5-10 0-6 2-8 2.5-4z"/>
<path fill="#c87358" d="M346.5 291l6.5-1.5 4 1.5 1.5 2-1.5 8 1.5 4 10.5 1 4 3 4 4.5 4 0 10-3.5 22 0 4 1.5 10 7 4 1 6-0.5 2 0.5 2 3.5-2.5 8-0.5 12 1 3 2 0 2-2 2 0 0.5 3-7.5 16-2.5 4-2.5 2-4 1-6-1-16-9-3.5-5-2.5-6.5-2-2-4-1.5-22-3-18-10.5-11.5-12.5 0-10 2-8-0.5-8z"/>
<path fill="#c66d51" d="M349 291l4 0 2 2 0 8-2 2-2-1-3.5-9zM364.5 307l4.5 0.5 2 1 4 5 4 2 12-3.5 10 1 12-0.5 14 9 8 3 0.5 2.5-0.5 16 1.5 4 3.5 4 0 2-2 6-3 6.5-2 1.5-4 1-6-1.5-14-7.5-3-4-2.5-8-2.5-2.5-16-4.5-8 0.5-4-0.5-14-7.5-4-2.5-9-11 1-6.5 2-2.5 8-0.5z"/>
<path fill="#c4664a" d="M363.5 309l5.5 0 2 1 4 6 4 1.5 10-3.5 6 0 8 2 8-1 4 1.5 14 9.5 2.5 3 1.5 14 4.5 10-0.5 4-3 6-3 2.5-4 0-14-6.5-4.5-4-3-10-2.5-3-10-2-10-3.5-8 1-18-7.5-5.5-7-2-4 0-2 1.5-2.5 6-1.5z"/>
<path fill="#c26045" d="M363.5 311l3.5-1 2 0.5 4.5 6.5 3.5 3 2 0 6-3.5 6-0.5 6 1 6 3 6-1 4 0 7.5 4 6.5 5.5 2 2.5 2 12 4 10 0 4-2 4-2 1.5-4 0.5-6-2-6-4-4-4-4-12.5-2-3.5-2-0.5-8 1.5-14-5.5-18-2-4-1.5-3.5-4-1-4 0.5-2z"/>
<path fill="#bf5a41" d="M365 313l2-0.5 2 1 3 9.5-0.5 2-2.5 1.5-6 1-4-2.5-0.5-2zM384.5 319l4.5-1 6.5 1 7 6 2 2 0 2-3.5 4-4 1.5-4 0-6.5-3.5-3.5-2-2-2-0.5-2zM409.5 325l3.5-1.5 2 0.5 4 2 6 5 1.5 2 1.5 8 4.5 12 0 2-1.5 3.5-4 1-4-1-4-2-3.5-3.5-5.5-14-1.5-10 0-2z"/>
<path fill="#bd533d" d="M387 323l2-1.5 2 0 4 1.5 4 4 0 2-2 1.5-2 0.5-4.5-2-3-2-1-2zM415 333l2-1 2 0.5 3.5 2.5 2 6 4.5 9.5 0.5 2.5-1 2-1.5 1-4-0.5-4-4.5-6-11 0-3z"/>
</g></g>
<use href="#grid"/>
<g clip-path="url(#sec)">
<path class="d" d="M45 122l4-0.5 2 0.5 3 3 5 2.5 4 1 4-0.5 12-2.5 8-4 8-1.5 6-2 6 1.5 6-0.5 8-6 8-2.5 4 1 8 7 4 2 4 3 4 1 2.5-1.5 1-2 0-6-2.5-6-5.5-10-1.5-8M163 148.5l-1.5 0.5 0 2 1.5 5 2 1.5 2-2.5 0-4-1.5-2zM177 151l2 1 0.5-1-0.5-0.5zM45 139l16-0.5 10 1.5 4-0.5 8-3 8-4.5 2 0 6 2.5 2 0 4-1.5 6-4 10-1.5 2-1 1.5-1.5 1.5-4 1-0.5 0.5 0.5 0 6 1.5 2 10 5 4 3.5 6 9.5 4.5 10 4.5 6 3.5 2 3.5 1 11-1 2.5-2 7-8 0.5-2 0-4-5-14.5-7-11.5 0-6-1-3-5-5-4-8-1.5-4 0-6M45 159l2.5-2 0.5-2-1-2-2-0.5M688 91l1 1.5 2 0.5 2.5-2M745 91l-1.5 4 0 4 1.5 3 6 5 2 8 4 2.5 12 2M769 104l-6 3-2 0-4-2-1-2-1-6-5-6M741 121.5l-1 1.5 1 5 1.5-1 0.5-2zM769 141l-6-1-2 0.5-2 2-1 2.5 1 2.5 2 1 8-0.5M769 163.5l-12-3-10 1-0.5 1.5 2 4 0 2-2 8 0.5 4 2 2.5 4 1 6 0 2 0.5 4 2.5 4 1.5M45 170.5l10-2.5 3-3 0-4-1.5-8 0-2 2-2 4.5 0 16 1.5 4-1.5 8-4.5 20-4 8 0.5 8 2 6 1 4 1.5 2.5 1.5 3.5 4 3.5 8 8.5 8 2 1.5 8 0.5 10-0.5 3.5-1.5 2-2 6.5-8 3-6 0-4-6-22-1-6 3.5-10-0.5-6 4-8 1.5-4M680 91l0.5 4 1 2 7.5 6 3.5 8 2.5 2 4 0.5 10-3 4 0.5 0.5 2-0.5 8 2 4 6.5 6 10 12 2.5 4 0 4-3 6-0.5 2 1 6-0.5 2-2.5 6 0 2 2 6-0.5 10 1 4 4 3 6 1 4 0 2.5-2 3.5-1 2 0.5 6 3 4 0 6-1M45 191.5l6-0.5 4-1.5 3.5-2.5 6.5-7.5 6-2.5 1.5-2 0.5-4 1.5-2 6.5-2 1.5-2 2-6 3.5-4 5-2 10-2 8 0 10-2 8 0.5 4 0.5 4 3 5.5 8 10.5 9 4 2 16-1.5 6-1.5 2.5-2 7.5-9 2-3 2-5.5 0-4.5-2-8-1-14 0.5-4 3.5-10 1.5-8 4-10M641 91l0.5 2 2 2 9 4 4.5 4 2 0.5 2-0.5 2-3 1.5-9M669 91l1.5 6 1.5 4 6.5 6 11 16 4.5 10 1 8 9 10 4 6 0.5 2-0.5 2-1.5 4 0 2 7 6 6 10 0 4-3 8-1.5 8 1.5 6 4.5 8 2.5 8 1.5 1.5 2 1 2.5-0.5 7.5-2.5 6 2 2-1.5 4.5-6 9.5-7.5 4-1.5 6 0M45 205l2-1 6-4 4-1.5 4 0.5 4 2 2 0 2-1 6-7 7.5-10 7-6 2-4 2.5-10 2-2 3-1 12-0.5 10-4.5 6 0 4 1 8.5 7 11.5 9 4 2 4 0.5 14-2 4-1 4-2 9.5-10.5 4.5-8 1-6-0.5-14-1-10 1.5-4 3-6 7.5-20M633.5 91l-0.5 6 0.5 2 9 10 2.5 2 4 1.5 20 5.5 2 0.5 2 2 3.5 6.5 5.5 8 1 10 1.5 4 2.5 2 6 2 2 2 0.5 4-1.5 10 1 6 5.5 8 1 8 3.5 6 3.5 10 9.5 18 3 4 4 3 8 2.5 6 5.5 4 1 3.5-2 4.5-5 6-5 4-1.5 8-1.5M45 214.5l10 0 8 2.5 4-1 2-1.5 8-9.5 10.5-8 5.5-8 5-6 5.5-10 2.5-2 7-3 6-5 4-2 4 0 4 1 20 13 4 1.5 4 0 12-1.5 6-1.5 4-2 5-4.5 5.5-6 2.5-4 3-6 1-4 2-14-0.5-10 1.5-4 4-4 4-8 6.5-4 3.5-6 4.5-6M606.5 91l2.5 7.5 2 1 4-0.5 2 0.5 2 1 8.5 8.5 0.5 2 0.5 6 0.5 2 2 2 10 3 8-0.5 4 0.5 6 3 2 2 1 4 0 8 2.5 6-0.5 6 0.5 2 8.5 17.5 6 8.5 2 0 4-1.5 2 1.5 6 14 10 12 11 20 7 7.5 8 6.5 4 4.5 2 1.5 4 1 6 0 6-2.5 10-7.5 4-1 4 0M45 221l6 3 4 1 6 0 6-2.5 4-3 6-7.5 12-9 7-10 11-12.5 12-10 6-3.5 4-1 4 0.5 16 10 6 2 6 0 12-2 6-2.5 4-2.5 9-8.5 5.5-8 2.5-6 4-16 1.5-8 1-2 8.5-10 8.5-6 5.5-9 3-7M432.5 91l2.5 2 4 1.5 14-1 2.5-2.5M591 91l0.5 6 5.5 6 5 10 2 6 1 2 5.5 4 0.5 2-0.5 2-5.5 6-1 2 0 4 1 3.5 4.5 6.5 3.5 8 4 5.5 4 1.5 2-1 2-2 3-8 0-2-2.5-6 0.5-2 2.5-4 2.5-2 2 0 4 1.5 4 3.5 2 5 1.5 2 12.5 8.5 3.5 3.5 1.5 4-0.5 4-1.5 6 1 2 6 4.5 6.5 7.5 3.5 2.5 6 1.5 6 6.5 10 7.5 10.5 18 8.5 10 11 17.5 8 4 8 1.5 14-0.5 6-2.5 4-0.5M629 171l0 1 2-1zM45 231l16-0.5 2-0.5 4-2 8-7 2.5-4 3.5-3.5 11.5-8.5 4.5-6.5 4-4.5 12-8 2.5-3 5-8 2.5-2 4-2.5 4-0.5 2 0.5 16 9 6 1.5 8-0.5 8-1.5 6-2 6-3.5 7.5-6.5 6.5-8 3.5-6 4-12 5.5-12 7-10 4-3 6-1.5 2.5-1.5 9.5-16.5 2-1.5 2 0 4 2.5 2 0.5 2-0.5 2-2.5 1.5-4M334 91l1 2.5 4 4 8 2.5 8 4 4 0.5 6-0.5 3.5-3 1.5-4 0.5-6M408 91l3 12 0 3.5-2 8.5 0 4 2 2 4 0.5 4-1 12-4.5 10-8 4-3 16-4 2.5-2 3.5-4.5 3.5-3.5M475.5 91l3.5 2.5 4 0.5 3-1 2-2M558.5 91l0 4-2 6 0 2 2 2 2.5 1 2-1 4-2.5 4-1 2 0.5 8 4 8 3 2 2 2.5 8 3 8 1 4-0.5 6 1 6 2 4 4.5 8 2 14 2.5 4.5 14 7 14 0.5 8 3.5 10 1 6 2.5 8.5 7 11.5 7.5 14 10.5 7.5 12 10.5 12 3 4 3.5 8 2 10 1.5 2.5 8 4.5 8 9 6 2.5 6 0.5 4 5 3 2 5 1.5 6-1M247 138.5l-2 1.5-0.5 3 1.5 2 1 1 2 0 2-1.5 0.5-3.5-2.5-2.5zM45 237.5l7.5-2.5 10.5-1 2-1 12-10 6-7 12-9 4-5 4-4 4-2 6.5-3 3-2 3-4 5-10 2.5-2 4-1 4 0.5 4 2 8 5 6 2 16-2 8-2.5 4-2 8-6 7.5-8 6-10 4.5-12 14-18 2-0.5 6-0.5 4-1 10-8.5 6-3.5 8.5-4 5.5-5.5 2-1.5 8-0.5 8-3 4 0.5 4 1.5 2 0 2-3 0.5-2.5M388.5 93l0.5-0.5 2 0 2 4.5-1 10-1 3-2 1.5-2-0.5-2.5-2-1.5-3-0.5-3 1-4zM535.5 91l5.5 5 1 3 0 6 1 2 3 2 7 4 4 1 6-0.5 8-3.5 2 0.5 8.5 4.5 8 10 2 4 1.5 8 2 8 6 12 1 16 1 4 2 2 8 2.5 8 3.5 10 1 10 3 14 2 9 6 10.5 6 11.5 10 6 8 15.5 16 5.5 7.5 3 6.5 0 6-1 2.5-4.5 3.5-0.5 2 3 2 8 1.5 5 2.5 2 2 5 8.5 10 7.5 6.5 2 3 2 3.5 6 1 1 4 1.5 8-0.5M45 244l10-5 8-2 4-2.5 10-8.5 6-6.5 22-18.5 4-2.5 11.5-5.5 3-4 3.5-8 2-2.5 2-1 2 0 4 1 10 6.5 6 2 16-3 10-3.5 4-2 8-6 6-6 6.5-11.5 4-10 2.5-4 5-5 6-4 10-1.5 8-4 2 0 2.5 0.5 0 2-5 10 0 4 2.5 4 4 3.5 2 0.5 4-2 3.5-4 0.5-2 0-4-2-6.5-2-3-3-2.5-2-2 1.5-4 3.5-4 8-4 10-6.5 4-1 6 0.5 8 4.5 4 1 2 0.5 5-3 11-9.5 4-2 2 0 1.5 1.5 1.5 4 1 2 2 0.5 6-1 4 0.5 2 1.5 4 5.5 2 1.5 4 0 6-2.5 16-0.5 8-0.5 2 0 2 1.5 3.5 3.5 4 6 2 2 6.5 2.5 6 5 4 2 6 2 20-4.5 2-1 1.5-2 3-6 2.5-4 5-4.5 4-2.5 4-0.5 18 4.5 2 0.5 2-1.5 6-8 2-1.5 16-6 8 0.5 2-0.5 4-3 3.5-3.5M335 137l-0.5 2 0.5 1 2 1 2-0.5 0.5-1.5-1.5-2-1-0.5zM221 180.5l-3 2.5 0 2 3 1.5 3-1.5 1-2-1-2zM45 250l4-1.5 8-5.5 8-4.5 8-6.5 10-9.5 10.5-9.5 16-12 5.5-3 6-0.5 3.5-2.5 3.5-4 1-6 1-2 2-2 3 0 2 0.5 10 7 4 1 4 0.5 14-3 12-4.5 4-1.5 6-5 7-7 13-25 4-4 4-2.5 6-1 4 1 2 1 5 8.5 7 10 2 1.5 2 0 6-5.5 4-5.5 3.5-12.5 5-6 0.5-2 0.5-8 1.5-2 3-2 4 0 4 2 3.5 6 2.5 1 10 0 2.5-1 5.5-5.5 4-1 11 2.5 9 3 10 5.5 6-2 4 0.5 8 6.5 2 0 4-1.5 4-3.5 2-0.5 6 4.5 10 1 13 6.5 15 4 8 0.5 2-0.5 2-1.5 2-4.5 2-1.5 7-2.5 7-5 1.5-3 0.5-5 2-2 2-1 4-0.5 4 1.5 2 1 4 8 2 2 6 2.5 4 0.5 2-1 2.5-2 7.5-9.5 2-0.5 6 1.5 12-5 3-2.5 5-6.5 2-1 2 0 2 2 5 7.5 5 6 4 3 4 2 4 0 12-4.5 18-3.5 4 0.5 4 2 7.5 8.5 7 20 4 8 0.5 6-1.5 12 0.5 4 2 3 4 2 10 2 8 4 8 1 10 2.5 10 1 4 1 8 4.5 8 4 11 9 3.5 4 5.5 8 8 6.5 14 17.5 1.5 4 0 4-1.5 2-6 4-1.5 2 0 2 5.5 3.5 10 2.5 4 2.5 6 9.5 16 20 10.5 8 2.5 4 1 6 2 4 4 4.5 4 2.5M316.5 139l1 0 1.5 2 0 2 0 2.5-1 1.5-1 1-2-3-0.5-2 0.5-2zM220 141l3-0.5 4 1 2 1.5 4 6 3 6 1.5 6 0 4-1.5 4-3 4-2 1.5-12 2-10 4.5-6 4-4 1-2 0-1-1-1-2 0.5-2 1.5-4 4.5-6 2-8 3.5-6.5 6-10.5 4-3.5zM45 259l4-2.5 8-9.5 8-5 10-8.5 6-7 10-7.5 6-6.5 10-5.5 6.5-6 3.5-1 4 1 2-0.5 4-2.5 4.5-5 1.5-6 2-2 2 0.5 10 6.5 8 1 14-2.5 10-3.5 8-1 4 0 2.5 1 1 2 1.5 6 1 2.5 4 3.5 4 1 4-1 8.5-6 3.5-0.5 8 0 4-1.5 2-2 0.5-2 0-8 1.5-4 2-1.5 6-2 10.5-6.5 3-2 1.5-2 1.5-4-0.5-8 2-6.5 4-7 4-3 2 0 2 0.5 4 3.5 4 2.5 1 2-1 1-2 0.5-4-1-2 0.5-4 2-5 7-0.5 2 1 2 12.5 5 10 0 4-1 2.5-2 2-4 0-2-4.5-8-1-4 1.5-4 1.5-1 2-0.5 4 1.5 2 2.5 0.5 3.5-1.5 10 1 2 3 2 5 1 2.5-1 2-2 3.5-7 0.5 1 4.5 4 3.5 6 3.5 1.5 4-1 6-2.5 10 0 6-2 5-4 0.5-2-0.5-4 1-2 2 0 4 3 2 0 8-2.5 6 5 2 0.5 8-0.5 12 2 18-1.5 8-3.5 2 0 6 2.5 2 0.5 8-2 8 0.5 6-2.5 8 1.5 12-2.5 6-4.5 6-4 2-2 4-7 2-1 8-2.5 4.5 0.5 1.5 2 2 7 2 1.5 2 0 8-2.5 6 0.5 4-0.5 8-3.5 4-1.5 18-2 4 1.5 4 3.5 7.5 14 5 16 0.5 4-2 12 1 4 2 4 4 3.5 12 3 8 4.5 10 1.5 10 3.5 10 0 4 1 14 7 10 8.5 3.5 3.5 5 8 9.5 8 5 10 6.5 6 1.5 2 0.5 2-0.5 2-5 2-4 4-2 4 0.5 2 3.5 3 16 5 2.5 2 5.5 10 2.5 8 6 6 1 2-1 8 1 2 2.5 2.5 8 1.5 2 1 3 3 3 8 1.5 2 5.5 4 9 8.5M769 349.5l-2 3.5 0.5 2 1.5 2M220 145l3-0.5 2 0.5 2 1 2 3 1.5 4 1.5 6 0 4-1 2-1.5 2-2.5 2-12 5-4 1-4-0.5-2-3.5 0-4 2.5-8 5.5-8.5 4-4zM69 254l-1 1 1 1.5 2 0 0.5-1.5-0.5-1zM45 280l2-0.5 2-2.5 2-4 1-6 4.5-8 3.5-8 5-3.5 4-6.5 8-6 6-7.5 10-6 6-7.5 2-1 6-0.5 2-1 6-8 2-0.5 6 1 3.5-1 12.5-8.5 2 0 4 1 12 0.5 18-3 4 0 2 1 1 1 3 7 4.5 5 5.5 2 10-0.5 12-3.5 8 0 14-6 2-1.5 1-2.5 3-14 4-5 4-2 8-0.5 10-3.5 8 0.5 8-2.5 8-0.5 8-3 4-0.5 10 0 8 2.5 6 0.5 12-4.5 12 1.5 8-3 10 3 6-1 6 2 4 0.5 8.5-2.5 13.5-1.5 6-2.5 10-2.5 4 0 8 2 4-0.5 8-2.5 2 0.5 6 3 4 0 4-1.5 6.5-4.5 5.5-1 8-1 6-3 6-1 8-3.5 6 1 12 5 4-0.5 3-2 7-6.5 9.5-3.5 6.5-4 4-0.5 6 0.5 8-0.5 2 0.5 1 4 1 2 4 1 2 1.5 2.5 3.5 3.5 14-1.5 14 0.5 4 2 6 3 4 4 2 10.5 4 5.5 4 4 2 10 1 10 4.5 12-0.5 6 1 10 5.5 10 9 6 9.5 8.5 8 1.5 4-0.5 8 0.5 1.5 4 1.5 2 3-0.5 4-4.5 10 1 3.5 2 2 9 4.5 2.5 2 1.5 2 5.5 12 7 10 0.5 2 0 10 2 4 6 5.5 15 10.5 6.5 4 2 2 0.5 2 0 2-2.5 8 0.5 2 5 6 0.5 6 1.5 4 3 3 2 0.5 6-1.5M216.5 151l4.5-1.5 2 0 2 1.5 1 6-1 4-3.5 4-6 4-4.5 2-2 0-1-2-0.5-2 2.5-8 3-5zM45 318.5l2-1 2-3.5 4-12.5 4-8.5 2-6 0.5-10 1.5-4 4.5-8 2-2 6.5-4 2-2 0-4-3.5-6-0.5-2 0.5-2 1-2 7.5-6 4-4.5 12-5.5 2.5-2 1.5-2 2-1 4 2 2 0 4-1.5 2.5-3.5 1.5-8 2-1.5 10 1 2-1 6-6 2-1 10-1.5 10 0 10-0.5 4 0.5 2 1 2 2 4 9 2 3 4 1.5 10 0 10-1 8-3.5 10 0.5 8-3 14-2.5 3.5-1 3-2 1.5-2 2.5-6 1-4-1-4 0-2 1.5 0 2 0.5 3 3.5 3 2 4 0.5 15-6.5 1.5-2 1.5-6 2-1.5 4 0 6 2 2.5-4.5 3.5-2 4 0 8 3 12 0.5 4-0.5 6-3.5 2 0.5 4 4 2 0.5 12-2.5 10 0.5 6 2 3 1.5 4.5 4 2.5 1 4-1 6.5-8 3.5-1.5 2-0.5 20 0 10-3.5 8 0.5 8-0.5 6 0.5 6 1.5 8-1 8 2 4 0.5 4-2 6-5 8-1.5 8-3 6-0.5 16-4 12-6 14 1 8 1 10-0.5 6-1.5 2 0.5 2 2.5 1.5 5-2 14-3.5 14 0.5 4 1 2 2.5 1 8 1.5 6 1.5 14 8 13.5 4 8.5 4.5 6 4 2 0.5 1.5-1 2.5-3.5 2-1 4-0.5 6 1.5 6 2.5 8 8.5 4 8.5 6.5 8 5.5 15 3.5 3 0.5 1.5 0 1-2 1-2-0.5-2 1-1 2 0 10 1.5 10 1.5 3 8.5 5 4 8 6.5 4 2 2 1 4-0.5 2-3 4 1 2 3.5 4 3.5 8 5.5 7.5 4 4 4.5 2.5 3.5 4 0.5 2-0.5 2-6 6-0.5 2 0.5 2.5 2 2 8 1.5 4.5 2 1.5 2 4 8 5 6 4.5 8 2.5 2.5 3.5 1.5 1.5 2-3 4-1.5 4 0.5 8 5.5 12 1.5 1.5 4 1M214.5 157l2.5-0.5 1 0.5 0.5 2-1 2-2.5 2-2 0-0.5-2 0-2zM655 311l-2 2-2 3.5-1 8.5 0 2 1.5 2 1.5 1 2 0.5 2.5-1.5 7-6 2-4-1-4-4.5-5-2-0.5zM45 337.5l5-4.5 4-6 3.5-14 9-18 1-4 0.5-10 3.5-8 1.5-7 2-3 4-3 1.5-3 0-4-1.5-6 0-2 1-2 5-4 4-2 2-0.5 2 1 4 5.5 2 2 4 1 2.5-1 2.5-2 3.5-6 6.5-6 5-12 2-1 2 0.5 3 2.5 3 1 2-0.5 2-1.5 1-3 0.5-6 1-4 1-2 2.5-1.5 8-1 4 0.5 12 1.5 4 1.5 2.5 3 1 4 0 10 2.5 3 2 0 10-2.5 20-2.5 8-3 12-1.5 16-4 20-0.5 8-1.5 10-0.5 6-0.5 4-2 8-7.5 6-4.5 4-4.5 3-6 3-1 2 1 1.5 2-1 8 1.5 6 1.5 2 2.5 2 4 0.5 4-2 2.5-2.5 3-4 2-6 2-2 8.5-5 6-2 4 0 10 1 10 5.5 4 1 16-0.5 8-2 7.5-6 2.5-0.5 10 0 12-2 8-3 12 3 8 1 4 0 18-5 10-4.5 14-5 6.5-4 5.5-1.5 6.5-0.5 7.5 3 10-1.5 4 0 11.5 6.5 2 2 1.5 2-0.5 4-4.5 5.5-1 2.5-0.5 2 1.5 4 2 3.5 2 1.5 18 7 10 6.5 10 3 6 6.5 2 1 14 1 10 4 1.5 2 0 2-3 6 0.5 4 1 2 2 1.5 8 2 10 5 6 5.5 2-1 0.5-3-5.5-8-2-6-3-3-6.5-5-1-2 1.5-2 2-1.5 4-1 3 0.5 3 3.5 3 6.5 7 7.5 7.5 10.5 1.5 4-0.5 2-4.5 10.5-3 3.5-1 2 0.5 2 3.5 5 1 3-0.5 6-0.5 1-4 0-2.5 1-6.5 10-1 2 0 2 6 0.5 6 2.5 4 0.5 3-1.5 2-2 0.5-2 0.5-4 2 0 2 2 4 8.5 2.5 13.5 5 4 1.5 2 0.5 8 2 8 0.5 2-2 6 0 2 2 3.5 6 4.5 8.5 12 3.5 3.5 5 2.5 2 2 6 14 0.5 8 5 4 1.5 2-0.5 2-3.5 5-1.5 3 0 2 2.5 10 0 4-2 8 1 7.5 2 2.5 2 2 4 1.5 6 1.5 6.5 5 2.5 4 2.5 10 4.5 5.5M45 351l4-1.5 7.5-4.5 7.5-6 1.5-2 1-10 0.5-2 5.5-8 1.5-8 1-2.5 4-5.5 0.5-2 0-8 1-4 5-8 3.5-8.5 2-0.5 2 0.5 6 4.5 2 0.5 4-0.5 5.5-4 4.5-5 1.5-3 2.5-9 8.5-15 3-4 8.5-7 2-2.5 5-12.5 3-3.5 2-1 6-0.5 4 0.5 4 1.5 2 1.5 1.5 3.5 1 10 1.5 4 2 2 4 2.5 4 1 6 0 4-1 6-3.5 4-1.5 10 0 20-4 26-4 10 0.5 12-2.5 18 0 12-3.5-0.5-2 1-2 1.5-0.5 2 0.5 2 3 2 1 18-0.5 4-1.5 8-6.5 4-1 6 0.5 4-1.5 3-3.5-0.5-6 1.5-2 2.5 0 1.5 2 2 4 2 1.5 4 0.5 14-2 10 0 12-3 6-3.5 4-1.5 4 1.5 10 4.5 4 0.5 4 0 10-4.5 12-2.5 14-4 4-2 7-5.5 9-4.5 10-1.5 4 0 10 5.5 4 1 4 0 2 1 1.5 2.5 1.5 6 1 2 2 1.5 8 0.5 4 1 4 2.5 8 6 4 1.5 6 0.5 4 2 8.5 6.5 9.5 10 2 1.5 8 2.5 8 0.5 4 1 6 5.5 8 5 6 5.5 6 2 4 3.5 8 5.5 2 3.5 0.5 4-4 12 1 10 0 6-2.5 8-1 2-6.5 6-1.5 3.5 1.5 18.5 2.5 4 4 2.5 6 1.5 10 1 14 11 6 8.5 1.5 3.5-1 8 1 4 6.5 8 8 5.5 6.5 6.5 5.5 14-0.5 4-2.5 8-1 14 0 2.5 1.5 3.5 4 6 0.5 2-2 6 0.5 2 5.5 3 2.5 3 1 6 4.5 8 3 10M45 406l0.5-7 2-2 10.5-6 9-3.5 1.5-2.5 0-4-3.5-6 0-2 5-10 1.5-2 5.5-4 2-3.5 3.5-12.5-0.5-12 1.5-2 5.5-3.5 1.5-2.5 6-20 1.5-4 3-2.5 2-1 2 0 8 2 7-2.5 5-3 10-7.5 4-5 0.5-2.5-1-8 0.5-2 6-9 5-11-0.5-2-3.5-6-0.5-2 0-4 4.5-12 3-3.5 2-1.5 4-0.5 2 0.5 2 2 1 5-1 10 1.5 4 2.5 3 4 3.5 4 2 14 1 4-1.5 4.5-4 3.5-1.5 12 0 14-1.5 12-3.5 10-1.5 6-2 4 0.5 6 2 4 0.5 14-1.5 16 4 10-2 16-1.5 10-3.5 8-4 8-2.5 6-3 6-1.5 4 0.5 10 3.5 6-1 16 3 4-0.5 10-5 20-5 8-3.5 10-0.5 18-2 10 0 4-2 3-3 1.5-2 3-8 2.5-3 8.5-5 3.5-0.5 4 1 6 6.5 8 5.5 7.5 7.5 10.5 9 6 2 16 2 4.5 1 5.5 4 6 8 2 1.5 8 4.5 12 7.5 4 1.5 8-0.5 3 1.5 9 8.5 4 5.5 2 4 0 2.5-2 0-4-1.5-0.5 1 2.5 6.5 2 2.5 6-0.5 2 1 8 8 2 2.5 0 3.5-1 2.5-9 7.5-2 3.5 0.5 3 6 14 0 12 1.5 3 3 3 17 10.5 3.5 3.5 6.5 8 2 4 0.5 2 0 8 2 10 2.5 6 5.5 8-0.5 4.5-2 2.5-6 3-1.5 4 2 8 0.5 8 3.5 8 1.5 4-0.5 4-4 8-1 6 1.5 5.5 4 6 1 2.5 0.5 14M45 436.5l2-1.5 0.5-2-1-2-1.5-0.5M53.5 485l-0.5-2-2-1.5-6-4M341 256l-1.5 1 1.5 1.5 1-1.5zM127 485l-4-3-2 0-4 2-4.5-7-9.5-3.5-6-0.5-2-2-2.5-6 0-6 3-8-0.5-6 0.5-2 4-4 0.5-2-1.5-2-4.5-4 0-2 2-10 3.5-6 2.5-10-1-10 0-6-2-8 1-4 2.5-6 0.5-4 0-12-2-8 0.5-8 2-4 6.5-6 3.5-8 2-2 7.5-3 6-5.5 4-2 4-1 10 0 5-2.5 2-4 0-6 0.5-2 2.5-1.5 6-2 2-1.5 2-3 3-8 9-8 4-2.5 10-3.5 6-1 8-4 8-1.5 10-4.5 6-1 22 0.5 4-1 4-3.5 4-2 10 1.5 10 0 8 2 16 2.5 12-0.5 10 3.5 4 1 2-1 3.5-5 4.5-4.5 6-3.5 4-1 6 0 8 1.5 8 0 2.5 1.5 3.5 6 1.5 2 4.5 2 4 0 6-2.5 4-1 4 1 14 4.5 2 0.5 4-2 3.5-4.5 1-4 1.5-12 2-2.5 16-6 12 0.5 8-2.5 8-1 10-6.5 6-2 2 0 3.5 2 6.5 7.5 4 2.5 8 1 14 0 6-1 4 0.5 8 5 10 5 8 2.5 8 3 8 1.5 4 2 6.5 8.5 6 6 4 6 7.5 7.5 2 2.5 2 6 0.5 10 2.5 6 1 6 2.5 4 8.5 6 2.5 4 1 6-0.5 8 2 6 3.5 4 11.5 8 4 4 2.5 4 2 6-0.5 4-2 10-3.5 8-1.5 8-4 16 2.5 18 2 8-0.5 2-2 3-6.5 3-1 2 0 6-0.5 4-4 6.5-6.5 7.5 0 2 1.5 2 5 4 1 2 0 2-1.5 6"/>
<path class="c" d="M289 365l-4.5 2-0.5 2 3 0.5 4-2.5 0.5-2zM191 375l2-0.5 4 2.5 2 0 6-1 2 1.5 1 3.5 1 1.5 2 0 4-3 2 0 2 1 1.5 2.5 0.5 2-4 2.5-3 5.5-3 3.5-1 4.5-5 7.5-2 0-4-2-4 0.5-1-2 0-4 2-4-0.5-2-0.5-2-2-2-2.5-2 1.5-6-2-6zM180 379l1-0.5 2 0.5 0.5 2-0.5 1-2-0.5zM567 381l-0.5 0 0.5 0.5 2 0 0.5-0.5zM533 390l-1 1 0.5 2 0.5 1.5 2-1 0.5-2.5-0.5-1zM243.5 399l3.5-1 4 1 6-1 1.5 1 0.5 2-3 4-3 6.5-4 2.5-4 0-4 3.5-2 0.5-3.5-3-1.5-2 0.5-2 2.5-3 2 0 4 1.5 0.5-0.5 1.5-2 0-2 0-2zM146.5 401l0.5-0.5 2 0 5 2.5 1.5 2 0 2-1 4-3.5 1-2.5-1-1.5-2-1-4zM423 403l-2 1.5-2 6.5-2 2-1.5 2 0 4 5.5 6 4-0.5 2 0.5 7 4 1.5 2 1.5 5.5 4-1.5 2 0.5 1.5 1.5 2 4-1.5 0.5-6-1-2 1.5-2 0.5-4-1-2 1.5-0.5 2 2 2 4.5 0 2 0.5 4 4.5 4-3 1-2 1-5.5 4-1 2-1.5 1.5-6 4-6-1.5-4.5 0.5-5.5-1-2-1.5-2-2-1.5-2-0.5-2 0.5-8 4.5-8 0.5-6 2.5-2 0.5-2-2-0.5-2.5 1-2 3.5-1.5 0-2.5-2-4zM272.5 411l4.5-0.5 2 0.5 3 2-1 2-2.5 2-3.5 1.5-2-1-1.5-2.5-0.5-2zM508 411l1-0.5 2 1 2.5 1.5-3 2-3.5 0.5-1-2.5zM209.5 413l3.5 0.5 1.5 1.5 0 2-1.5 6-2 0-5-4-1-2 1-2zM181.5 415l1.5-0.5 3.5 0.5 2 2-0.5 2-2 2-3 1-1-1zM153 421l4-1 2 1 1 2-1.5 4 0 4-1.5 4-2 3-2 1-2-2 1-4-5-2.5-1.5-3.5 1.5-2.5zM400 421l1-1.5 0.5 1.5-0.5 1.5zM292.5 427l2.5-1.5 1.5 1.5 0.5 2-2 2-4 1-0.5-1zM421 428.5l-2 2.5 2 2 4 1.5 0-1.5-2-3zM300.5 431l1 0 1.5 2-2 3-2-1-0.5-2 0.5-1zM534.5 431l2.5 0 1 0 0.5 2-1.5 1-2-0.5zM381 439.5l-0.5 1.5 0.5 2.5 2.5-2.5-0.5-1zM172.5 449l2.5-1 4 0 6-0.5 2 1 0.5 0.5-0.5 3.5-2 2.5-4 0-6 1.5-2-0.5-2-3 0-2zM399 453l-2 2-0.5 2 0.5 1.5 2 1 4-2 1.5-2.5 0-2-1.5-1-2 0zM470.5 453l2.5-1.5 4 0.5 2.5 1 0.5 2-5 4.5-2 1-3-3.5-0.5-2zM499 453l2 0 2 1 0.5 1 0 2-2.5 6-2 1-2-1.5-1.5-3.5 1-4zM365 471l-2 2 2 1 0.5-1 0.5-2zM275 476.5l-2 0.5 3.5 4 2.5 1 1.5-1 1-2-1-2-1.5-1zM222 485l0-2 1.5-2 3.5-1.5 4-0.5 4-5 6-0.5 2-2 2-9 2-1.5 2.5 2 1 4 2 2 2.5 1.5 4-0.5 4 1 3 2 1 2.5 2 1.5 2 0 1.5-2 0-10 1-8 1.5-1 4 1.5 2-0.5 1-2 0-6-5-3-1-3 1-2 6-5 4-2.5 2-1 0.5 0.5 0 4 1.5 3 2 0.5 6-1.5 4 7.5 2 1.5 4 0.5 3 2.5 1 2 0 4.5 2 1 4 0.5 4 2.5 6 0.5 4 1.5 2-0.5 1-2-3-4-1-2 1-2 10-8 2.5-4 1.5-4 2-1 6 0 14-3.5 2-1.5 2-2 1-4 1-1 2-1 6-0.5 2-0.5 4.5 1-2.5 4-0.5 2 1 2 1.5 1 4 0 8-4.5 2 0 6 2.5 2-1-2-4-0.5-2 1-4 0-4-1.5-2-5-2-5.5-4-4-8-4.5-2.5-4 0.5-10 6-2 1-2 0-2-2 0-7-1-2-9-4-2.5-2-3-4-2.5-5.5-2-2.5-2 0.5-2.5 5.5-1.5 1.5-2 0.5-4-2-4-3-2-0.5-4 2-4.5 3.5-1 2 0.5 8 0.5 2 4 4 4 8 4 4 1 4 1.5 1.5 4-1 1.5 1.5-1 2-4.5 1-2 1.5-1 1.5-0.5 6-4.5 7.5-2 2-2 1-2 0-0.5-2.5-1.5-1-2 0-6 1.5-2.5-2.5-2.5-4 2-4 0.5-2-1-4 0-2 9-8 0.5-4-1.5-2-9.5-4-2-2-1-3-2-1.5-4 0.5-2 0.5-4 5-4 3.5-4-4-6.5-3-0.5-2 0.5-2 4-4-0.5-2-2.5-2-1-2 1-6 0.5-6-5-3-2-0.5-2 1.5-4 5-2 1.5-2 0.5-2-0.5-1-2.5 0-2 2-4-0.5-2-2.5-1.5-2 0.5-1.5-1-1-4-1.5-2-4-1.5-7 3.5-1 2 0.5 2 1.5 1.5 9 2.5 0.5 2-1.5 6-2 3-2 0-6-1.5-2-1.5-2-4-2-1-4 0.5-6-1-4-2.5-8-1-8-3-2 0.5-4 2.5-2 0-6-2.5-2 1-4 4-6.5 2.5-2.5 4-4 4-1.5 4-5 4 0 6-2.5 2-4 1.5-4-2-2-0.5-6 2-0.5-3 1.5-4 0-2-2-4-4-10-1-2-5-4-3-6-6-8-0.5-2 0.5-4 4.5-8 5.5-8 8-8.5 6-3 16-4.5 2-1 2.5-3 4.5-8 3-2.5 6-1.5 6 0 6-1.5 10 0 6-4.5 8-3.5 4.5-4.5 3-2 20.5-10.5 8-2 14-2 6-2.5 8-4.5 2-0.5 4 0.5 8 2.5 10 1 10-0.5 4 0.5 4 2 16 11 4 1 4-0.5 3-1.5 9-7.5 8-2.5 8-4.5 4-1.5 20-4.5 10 0.5 10 1.5 4-0.5 4-2 3-3 7-12.5 2-1.5 4-2 4 0 12 1 2.5 1 2 2 5.5 10 5.5 6 1.5 4 3 4 4 3.5 4 1.5 4 0 2-0.5 6-4.5 6-2 2-2 3.5-6 2.5-2 8-2.5 4 0 1.5 0.5 1.5 2 0 2-2.5 8 0 8-0.5 3-2 1-6-2-2 0.5-4.5 3.5 0 2 2.5 1.5 6 0 4 1 10 6 10 2 17.5 13.5 6.5 3 6 4 4-0.5 3-2.5-0.5-2-6.5-7.5-3-4.5-0.5-4 1.5-2.5 4-2.5 10-1.5 10 1 3 1.5 2 2 1 4-0.5 14-2 8 2.5 10 1 2 7 3 4-0.5 4-2.5 2-3 2 2.5 1.5 4.5 3.5 8 5 5.5 8 6.5 1.5 2 0.5 2-1 2-3 2.5-4 0.5-2-0.5-5.5-10.5-6.5-5.5-4-1.5-14 3-2 2-0.5 4 3 18-1.5 10 0.5 8-1.5 8 0.5 2 3.5 6 0 2-1 2-6 6-1.5 6-1.5 3.5-2 2-6 4-2 2.5 0.5 10 0 2-2.5 3.5-2.5 2.5-3.5 1.5-2-1.5-2-4.5-2-1.5-3 0-5 3.5-6-1-6 0.5-1-1-1-4 0-2 3-4-0.5-2-4.5-4-3-6-1-0.5-6-2-4 0.5-4 3.5-0.5 2.5 1 4-0.5 2-2 2-2 1-6 0-1.5 1-2.5 1-2.5-1-1-2 1.5-1.5 4 0 0.5-0.5 0.5-2-3-6 0-4 1-2 3 0 2-1 0.5-1 0.5-8 1.5-4-2.5-0.5-2-1.5-1.5-4 0.5-6 4-4 0-2-4-6-3-1.5-2 0-2.5 1.5-2 8-1.5 1.5-6 2.5-4 4.5-6 3-2 1.5-1 3 4 4 0.5 2-1.5 1.5-2 1-6 0-4 3-4.5 0.5-2 2 0 4-1.5 2.5-6-3-2 0-2 1.5-3 3 0 2 4 4 3 4.5 2 1.5 2-1.5 2 1.5 2 4-8 8-1 2 0 2 1 4-0.5 2-1.5 2.5-2 1-2 0-3-1.5-1.5-2-1-8-4.5-0.5-3 0.5-3 4-3 2-3 6-0.5 2 1.5 4 0 2-1 2-2 0-2-2.5-2-1-2 0-2-1-1-3.5 0-4-1-2.5-4-2-6.5-1.5-1.5-3-2-1.5-1.5 2.5 2.5 4-4.5 4-3 8 0 2 0.5 1 2 0 4-1.5 2 1.5 0.5 3-1 4 0.5 3 2 0 6-8 4-2 2 0.5 3 6.5 2 6M300.5 485l0.5-2 1.5-2 2.5-1.5 4 2 4 1 2 0 4-1 6.5-4.5 0.5-2 0-2-5-6-2-1-2 0.5-4 2.5-2 0-3.5-2-1.5-2 0-2 0.5-4-1.5-0.5-2 2-1 2.5-3 2-4.5 0-1.5-0.5-4-3.5-2 0-3 2 2 8 2 2 5 2.5 0.5 9.5M350.5 485l1-2 3.5-2 2-2-1.5-2-4.5-1-4-2.5-4 0-6-2.5-2 2 0.5 8 2 4M388.5 267l3 0 7.5 3 12 2 6 2.5 10 0 6 1.5 4 3 3.5 6 2.5 2 10 5 4 6.5 2 2 2 1 2 0 6-2 4-0.5 4 2 1 2-1.5 6 0 2 1.5 2 3 2.5 6 1.5 8 8 2 1 6 0.5 2-0.5 4-3 2-0.5 4 0.5 2 2 0.5 2-2 4 1.5 1.5 6 1 16 7 2 0.5 6-1 1.5 1 1.5 2 1 4.5 0 3.5-1 4-3 3.5-4 0-6-2-4-2.5-2.5-3-3.5-8-2-1-8 1-4-2-4-4-2-1-6 1.5-8-0.5-4 2-6 4.5-10 3-3 2.5-4.5 8-4.5 3.5-8 4-2 2-2.5 4.5 0 4 2 2 4.5 1.5 1 0.5 0.5 2-0.5 2-2.5 2-2.5 0.5-4-0.5-4 0.5-12-1.5-12 0-4-0.5-4-1.5-8-6.5-4-2-4-1.5-8 0-4-2-4-3-8-4-4-3-6-10-2-1.5-2-1-2.5 5.5-1.5 1.5-2 0.5-4-0.5-10-7.5-3.5-6-2.5-3.5-4-3.5-2-1-2 0-2 1-3 7-1.5 2-5.5 3-6 1.5-4 2-12-1-4-2.5-2-0.5-6 0.5-14-3.5-8-0.5-2-1-4-2-5.5-2-2.5-2-0.5-2 1.5-2 5-1.5 4-1 4 0.5 8 4 2-0.5 1-3.5 0-8 2-8 0.5-8 1-4 1.5-2 2.5-2 3.5-0.5 6 0 2-1.5 0.5-2-1-4-0.5-4 2-8 1-1 7.5 1 6.5 2.5 14-0.5 6 0.5 8 0 4 1.5 8 4.5 4 0.5 10.5-3 9.5-4 10-2.5 9-7.5zM209.5 325l5.5 0.5 8 3 3 2.5 1 4-1.5 2-4.5 2-16 2-11.5 6-2.5 1-14 0.5-6-1.5-8 1-3.5-1-2.5-2-0.5-2 0-2 2.5-3 14-9 4-1 8 0.5 8-1.5 10 0.5zM346.5 291l6.5-1.5 4 1.5 1.5 2-1.5 8 0.5 2 1 2 2.5 1 4-0.5 4 0.5 4 3 4 4.5 2 0.5 2-0.5 6-2.5 4-1 12 0.5 10-0.5 4 1.5 6 5 4 2 4 1 6-0.5 2 0.5 1.5 1.5 0.5 2 0 2-2.5 6-0.5 12 1 3 2 0 2-2 2 0 0.5 1 0 2-7.5 16-2.5 4-2.5 2-4 1-6-1-12-6-4-3-3.5-5-2.5-6.5-2-2-4-1.5-22-3-18-10.5-10-10.5-1.5-2 0-10 2-8-0.5-8z"/>
</g>
<use href="#land"/>
<use href="#green"/>
</g>
<rect x="49.0" y="95.2" width="716.2" height="386.5" fill="none" stroke="#222" stroke-width="1.5"/>
<text class="t" transform="translate(403.7,47.4) scale(0.982,1.015)">NO-SURFACE-STRESS</text>
<text class="p" x="69.2" y="139.6">(A)</text>
<g transform="scale(1,1.06)">
<text class="l" x="52.5" y="79.25">160°E</text><text class="l" x="170.6" y="79.25">170°E</text><text class="l" x="271.9" y="79.25">180°</text><text class="l" x="362.8" y="79.25">170°W</text><text class="l" x="451" y="79.25">160°W</text><text class="l" x="543" y="79.25">150°W</text><text class="l" x="643.3" y="79.25">140°W</text><text class="l" x="762.5" y="79.25">130°W</text>
<text class="l" x="71.4" y="473.11">65°S</text><text class="l" x="150.4" y="473.11">70°S</text><text class="l" x="232.6" y="473.11">75°S</text><text class="l" x="332.7" y="473.11">80°S</text><text class="l" x="480.6" y="473.11">80°S</text><text class="l" x="580.7" y="473.11">75°S</text><text class="l" x="663.2" y="473.11">70°S</text><text class="l" x="741.4" y="473.11">65°S</text>
<text class="l e" x="40.4" y="135.47">50°S</text><text class="l e" x="40.4" y="234.53">55°S</text><text class="l e" x="40.4" y="344.91">60°S</text><text class="l s" x="772.6" y="234.53">120°W</text><text class="l s" x="772.6" y="335.47">110°W</text><text class="l s" x="772.6" y="413.77">100°W</text>
</g>
</g>
<g transform="translate(851,0)">
<g clip-path="url(#fr)">
<g clip-path="url(#sec)"><g filter="url(#bl)">
<rect x="45" y="91" width="724" height="394" fill="#171c42"/>
<path fill="#191e48" d="M45 91l9.5 0-1 6-2 4-6.5 2zM69 91l700 0 0 394-724 0 0-368.5 8 1.5 6-1 6 8 4 1.5 4 0 4-2 6-6.5 7.5-7 1-2 0-4-2-2-6.5-1-2 0.5-6 3-6 2.5-8 0.5-3-1.5-1.5-2 0-2 2-2 8.5-4.5 1-1.5zM159 127l-2 1-4 7-0.5 2 0.5 2 2 2 5.5 4 0 2-2 8 0.5 5.5 2 2 4 1 6-2.5 4-4 1.5-4 0-6-2-10-1-2-8.5-3z"/>
<path fill="#1c2354" d="M45 91l5.5 0-1.5 4.5-4 2zM98.5 91l6 0 2.5 1 2.5-1 659.5 0 0 394-724 0 0-363.5 2.5 1.5 2 6 3.5 3 8-1 10 1 4 1 4 4.5 2 1 3.5-1.5 2-2 0.5-2-3-6 0-2 1-2 4-2 10-2 2.5-2 0.5-4-3-10zM153 115l-4.5 2-3 8-3 4 2.5 3 4 9 6 8 0.5 8 1.5 5.5 4 3 6 0 8-4.5 3.5-6 1-6-0.5-14-2-4-8-5-4-6.5-8-3.5z"/>
<path fill="#1f2860" d="M119.5 91l649.5 0 0 394-724 0 0-335.5 6-1 2 0.5 4 4 2 1 9-7 13-1.5 9.5-6.5 3.5-4 2.5-8 2.5-1 6-1 3.5-2 2.5-4 2-7 6-5 3.5-4 0.5-4zM141 110.5l-1.5 0.5-0.5 2 0.5 4-1 2-3.5 3-2 2.5-0.5 2.5 1 4 1.5 2.5 8 5.5 3.5 6 3.5 4 1.5 2 2.5 10 3 4.5 4 2 4 0 10-3.5 4-5 2.5-6 2-16-2.5-10-2-2.5-5.5-3.5-4.5-7-4-2-6-2-16 0z"/>
<path fill="#222c6c" d="M129 91l34 0-6 12-3.5 2-2.5 0.5-6-2.5-8 0.5-2.5-0.5-2-2zM168 91l601 0 0 394-724 0 0-325 6 0.5 8 3 4-0.5 8-9 8-1 16-12 6-6 9-4 7-10 2-1 4-1 4.5 2 1.5 10 2 4 6.5 6 3.5 8 6 4 6 10 3.5 4 4.5 2 4 0 11.5-4 2.5-3 4-7 4-16 0-4-2.5-14-1.5-2-6.5-4-1.5-4-1-8-4.5-6z"/>
<path fill="#243177" d="M140.5 91l15 0-1.5 4-3 1.5-8-2-2-1.5zM190 91l579 0 0 394-724 0 0-320.5 6 1 12 7.5 4.5 0 7.5-7 6-2.5 2-2 3-8.5 3-3 8-5 6-5 10.5-5 7.5-6 10 14 4 8 12 7 8 9.5 4 2.5 4 0 12.5-3 3.5-2.5 6-9.5 4-14 0.5-6-1.5-14-1-4-3.5-6 0-2 1-10 4.5-5z"/>
<path fill="#263583" d="M196 91l573 0 0 394-724 0 0-317 4.5 1 11.5 8 4 1 4 0 3.5-3 4.5-5 8.5-5 1.5-2 2-6.5 2-3 10-4.5 2.5-4 3.5-2.5 10-2.5 4 1.5 2.5 1.5 7.5 10 14 7 8 7.5 4 3 4 1 4-0.5 12-3.5 3-2.5 5.5-8 4.5-10 1.5-12-1.5-26 2-6 3-6.5z"/>
<path fill="#293a8e" d="M200 91l569 0 0 27.5-4-1-4 0.5-2 2-1 3 1 4 2.5 4-2 8 0.5 2 3 2.5 6 1 0 35.5-2.5 1-1 2 1.5 6 2 2 0 294-724 0 0-312.5 2.5 0.5 5.5 4.5 4 2 8 2 6 0 4-2.5 4-6.5 10-6.5 3-7 2-2 3-0.5 8 0.5 4-0.5 10-5 2-0.5 8 5.5 16 6 7.5 6.5 4.5 3 8 0.5 12-3.5 4.5-4 10-16 2-12 0-12 1.5-12zM747 199l-1.5 2 0.5 2 3 4 4 0.5 3.5-2.5 0-2-2.5-2zM755 149l-3 2-2 4 0.5 4 2.5 1.5 4-2 2-3.5 0-4-2-2z"/>
<path fill="#273f9b" d="M203.5 91l565.5 0 0 22-6-0.5-4 1.5-3 3-5 9-5.5 3-1 2 0 8-3.5 8-0.5 10 2 8 2.5 3.5 6 2 3 2.5 5.5 16-0.5 3.5-2 2-2 0.5-4-1-6-3.5-2-0.5-2 0.5-2.5 4.5-2 8-5 6-0.5 4 0.5 4 5.5 8 0 6 1 4 3 3 4 0 6-5.5 8-4.5 2-0.5 2 0.5 6 4 0 253-724 0 0-306.5 8 4 14 4 12-0.5 2-1-0.5-6 0.5-4 2-2 8-5 4-5.5 2-1.5 14-0.5 8-2 12 1.5 10 3 4 1.5 8.5 6.5 5.5 2.5 8-0.5 10-3 5.5-5 10.5-16 3-24 7-18 0-10zM768 153l1-1.5 0 17-3.5-1.5-1.5-2 1-3.5 3-4.5z"/>
<path fill="#2544a8" d="M208 91l472.5 0 2.5 3 2 1 2-0.5 2-3.5 75.5 0-1.5 8 2 1.5 4-0.5 0 8-6-0.5-2 1-11.5 6.5-8 6-8.5 3-2 0.5-2-1-2-4.5 0.5-8 3-8 0-2-1.5-2-2 0-4 4.5-4 2-10-3-10 2.5-8 0-1.5 2 7.5 0.5 8 2.5 4 2 2.5 3 1.5 6 6 13 4 1.5 6-1 1.5 0.5-2.5 6 0.5 4 0.5 2.5 4 4 2 3.5 3 18 0 2-5 3-2.5 3-4 12-1 12 2 12 5.5 10 3 10 3 3.5 4 1.5 4-1 6-4 4-1.5 4 0 8 2 0 247.5-724 0 0-301.5 14 4.5 8 5 4 0.5 12-2.5 3-2 1.5-2 0-4-2-6 1.5-2.5 6-3.5 6-6 6-1.5 14-1.5 12 0 8 2 6 2.5 9.5 6.5 4.5 1.5 8-0.5 10-3 6-5 9.5-13 2-4 4-24 4.5-8 5.5-14zM742.5 179l0.5-1 2-0.5 2.5 1.5 0 2-2.5 0.5z"/>
<path fill="#2349b5" d="M214.5 91l456.5 0 6.5 6 2 4-0.5 2-2 1.5-2 1-6 0-2 1.5-0.5 4 1.5 2 3 2 8 2.5 16 7.5 6-1 2 1 6 6.5 2 8.5 2 1.5 6 2 2 2 2 9.5 5 10 0.5 4-5 8-1 8-4 14 7 24 9 16 4.5 4.5 6 1.5 4-1 8-4 12 0.5 0 244.5-724 0 0-298 11.5 4 6.5 5 4 1 4 0.5 12-3 4-2 3.5-3.5 2-4 0.5-6 1-2 7.5-8 3.5-2 6-1.5 16-1.5 6 0.5 10 3 12 7 6 1 8-0.5 9-4 5-4 12-16 4.5-24 15.5-24.5 0.5-3.5zM694 91l11 0-2 4-4 1.5-3.5-1.5zM736.5 91l24 0-5.5 15.5-2 1.5-8 2.5-6 3-2 0.5-2-0.5-0.5-2.5 2-10z"/>
<path fill="#1d51ba" d="M222 91l440.5 0-0.5 8-3 8 0 4 1.5 2 6 4 10.5 4.5 6 5.5 6 4 2 3 2 7.5 2 3.5 2 2 7 2 0 4-2.5 6 1.5 6-0.5 8 1.5 2 5 2.5 2 1.5 1.5 6 0 4-3 6-0.5 4.5 2 3.5 6 6.5 6 16 9.5 15.5 4.5 4 10 3 4-0.5 8-4 10 0 0 241.5-724 0 0-293.5 5 1.5 9 7 6 1 8 0.5 12-4.5 4-2.5 7-7.5 9.5-16 5.5-2.5 16-2.5 6 0 10 3 12 6.5 6 1.5 10-1.5 8-4 5.5-4.5 11.5-16 5.5-24 9.5-13.5 7-8.5 1.5-4z"/>
<path fill="#1659bb" d="M226.5 91l431 0-1 8-5.5 10 0.5 4 1.5 3 10 3 8.5 4 3.5 3 1 3-0.5 2-3 6-0.5 4 4 12 3 3.5 2 0.5 6-1 2 5 5.5 8-2.5 8 1 2 7 2 2.5 2 0 10 0.5 6 1.5 4 10.5 12.5 7 13.5 9 14.5 2 2 4 3 14 6 2-0.5 4.5-5 3.5-1.5 8-0.5 0 238-724 0 0-281 18 2 8 3 2-0.5 14-9.5 13-12 9-14 2.5-2 7-2 8.5-1.5 6 0 8 2.5 12 6 8 2 10-1.5 8-4 6.5-5.5 7.5-9 4-7 6-23 17-21z"/>
<path fill="#0f61bc" d="M230.5 93l1-2 395 0 7 6 5.5 10 6 5 1.5 3 0 8 1 2 1.5 1.5 2 0 8-4 4 1 4.5 3.5 1 4-2 8 0 4 6 12 7.5 10 2.5 8 3.5 6 3.5 4 5.5 4.5 2 3 4 14.5 14 16 16 26 6 5 12 8 6-1.5 8-6.5 6-1.5 0 234.5-724 0 0-272.5 8 0 8-1.5 2 0.5 6 3.5 2 0.5 2-1 22-20 9-7.5 8.5-12 7.5-4 7-1.5 6 0 8 2.5 12 5.5 8 1.5 10-1.5 10-5 4-3.5 8-9.5 5-8.5 5-19.5 2-4 18.5-20.5zM611 147l0.5 2 1.5 1 3.5-1 0-2-1.5-0.5zM644.5 91l6 0-0.5 4-1 1.5-2 1-2-0.5-1-2z"/>
<path fill="#0f69bd" d="M238.5 91l370.5 0 2 4 2 1.5 6-0.5 4 1 3.5 2 3 4 0.5 4-1 2.5-7 3.5-1.5 2 0 4 2.5 2 8 1 4 1.5 5.5 5.5 1 2 1 6 1 2 1.5 1 3-1 6.5-6 2.5 0 2 0.5 2 3.5 1 8 10 16 1.5 4 0.5 6 2 4 9 10 3 6 5 4 6 13 14.5 15 13.5 23 10 12.5 6 3.5 6 1.5 8-2.5 8-3.5 4-0.5 0 228-724 0 0-268 10 1.5 6-1.5 8 2 4-1 18-16.5 5.5-6.5 11-8 7.5-8.5 7-5.5 5-1.5 4-0.5 4 0.5 18 7 8 1.5 10-1.5 10-5 5-4.5 6.5-8 6.5-10 5-18 2-4 11-12 13-12zM609 141l-2 0.5-2 1.5 0 4 4 7 4 3 4-1.5 10-8 4.5-0.5 1-2-2.5 0-1 1.5-10-5zM633 167l-2 0.5-1.5 1.5-0.5 2 2 2.5 3-0.5 1.5-2-0.5-3z"/>
<path fill="#176fbc" d="M244.5 91l360 0 6.5 14 4 2 1 2-2.5 6 0 4 2 4 4.5 6 0.5 2-2 4-3.5 1.5-8 0.5-4 2-1.5 2-0.5 2 1 4 7 12.5 4 2 4-0.5 6-4 12-3 8-6.5 4-1 6 0 4 2 6 5 4.5 7.5 1 4 0.5 10 5 16 2.5 4 2.5 2 8-1 4 2.5 6 11.5 16.5 17 7.5 12 4 8 10 14 6 4 6 1.5 14-2.5 8 1 0 220-724 0 0-263.5 4 0.5 8 4 2 0 6-4 10-2.5 6-6.5 11-10 5-6 11.5-8 15.5-14 3.5-2 3.5-0.5 4 0.5 16 6.5 10 1.5 10-1.5 10-5 6-5 5.5-6.5 6.5-10 8-22.5 14-14.5 6-3.5 8-3 2-2zM631 162l-2 1.5-2 3.5-0.5 4 0.5 2 2 2.5 2 0.5 4 0.5 2.5-1.5 1.5-2 0-6-2-3-2-2z"/>
<path fill="#2075bc" d="M249 93l2-2 167 0 6 10 1 1.5 2 0 2-3.5 2.5-8 169 0 4 10 0.5 4-1.5 8 5 8 1.5 6-2.5 4-6.5 6-2 4 0 2 2 6.5 6 11 6 4.5 8 1 2 2 1.5 5 4 4 4.5 1.5 6 0.5 5-2-4-18 1.5-4 3.5-3 4-0.5 10 5 2.5 2.5 1.5 4-0.5 12 1 4 10.5 18 2.5 2 2.5 1 6-2 4 1.5 6 11.5 18 19 6 9 4.5 10 11.5 16 4 3 6 1.5 4 0 8-1.5 4 0 4 2 3.5 5 0.5 210-724 0 0-260 4 1 6 3 4 0.5 8-5.5 8.5-3 7.5-8 10-8 6.5-8 19.5-13 6.5-7 3.5-2 6-0.5 16 6.5 8 1.5 10-1 10-5 7.5-5.5 8.5-10 2-4 4-5.5 5.5-16.5 2.5-4.5 14-13.5 4-1.5 8-2 4.5-2.5 3-4 3-10z"/>
<path fill="#297cbb" d="M257 93l1.5-2 151.5 0 10 16 3 2 2 0 4-1.5 2-1.5 4-9 5.5-6 152.5 0 4 6 1.5 4-1.5 10 0.5 4 1.5 3 5 5 1 2-1 4-5.5 8-1.5 4 2 8 6.5 12 7.5 7.5 6 2.5 6.5 6 3.5 2.5 14 4.5 10-2.5 4 0.5 10 8.5 6 8.5 2 2 4 1.5 6-2 3 0.5 1.5 2 1.5 6 3 4 13 12 6 8 5 8 3 8 4 7.5 6.5 8.5 4.5 4 7 3.5 6 1 8-1 3 0.5 1.5 2 3.5 9.5 4 4 0 196.5-724 0 0-256.5 10 3.5 4 0 2-1 8-6 6-2 2.5-2 7.5-8 8.5-6 8.5-10 19-12 6-6.5 4-2.5 4 0 14 6 8 1.5 6 0 6-1 10-5 8.5-6.5 7.5-8 2.5-6 3.5-4 6-16 3.5-6 12.5-11 4-2 10-2 5-3 5.5-6 1.5-8 1.5-2zM646.5 159l0.5-0.5 2-1 6.5 3.5 2.5 4-1 4-2 2-4 0.5-4-2-1.5-4.5z"/>
<path fill="#3282ba" d="M263 93l1-2 15 0 2 2 2 0.5 2 0 2.5-2.5 109 0 2.5 3 6 4 4 9.5 8 4.5 4 0.5 6-1 5-2.5 2-2 4-8 2-2 3-1.5 6-2 2-2.5 70 0 2 1 3.5-1 12.5 0 2.5 2 3.5 1 2.5-1 2.5-2 34.5 0 8 14 2.5 14 5 6 0.5 2-5 12 0.5 4 1 4 5.5 12 8.5 11 2 2 6 3 8 5 12 6 4 0.5 8-1 4 1 6 4.5 4 2 7.5 8 4.5 3 4 1 4-2 2 1.5 1.5 4.5 2.5 4 13.5 12 9.5 12 3 6 6 18 9 8 7 5 10 4.5 8 2.5 8 9.5 4 2.5 0 192-724 0 0-252.5 12 1.5 6-2 6-5 8-4 8-8.5 10.5-7.5 7.5-8.5 18.5-11.5 7-8 2.5-1.5 2 0 4 0.5 10.5 5 7.5 2 12-0.5 10-4.5 10-7 8-8.5 3.5-7.5 3.5-4 7-17 4-5 12-9.5 18-4 19.5-10.5 1-2-0.5-0.5-6-3.5 0.5-2zM247 136l-1 1 0.5 2 2 2 1 0 1.5-2-0.5-2-1.5-1.5z"/>
<path fill="#3b89ba" d="M310 93l6-2 16 0 3 4 4 2 4-1.5 3-4.5 24 0 2 6 3 2 4-1.5 4-2.5 4-1 4 1.5 9 5.5 1.5 2 1.5 6 2 3.5 6 3 4 1 16-4 7-5.5 5-7 14-5.5 8 1 10 0 4-1.5 3-3 12 0 2 2 3 1 2-1 2-2 11.5 0 3 4 3.5 2 12-1 8 2.5 4 0.5 10.5-4 4.5-4 18.5 0 4.5 11.5 6 7 3.5 11.5 4 6 0 4-2 6-0.5 4 3 10.5 4 7.5 10 15 2 1.5 8 3.5 16 9 4 1 8-0.5 4 1 6 4 6 3 8 7.5 12 6 7 7 11 9 9 11 3 6 3 10 1 11 28 19 10 4 8 7.5 4 2.5 0 188-724 0 0-248.5 10 0 8-2.5 6-5.5 9-5.5 7-7 10-7 10-10 18-10.5 5.5-7.5 2.5-1.5 2-0.5 4 0.5 16 7 12 0 8-2.5 14-9.5 8-8 4-8.5 4-5 4-10 4-7.5 12-9.5 6-2 12-0.5 8 1 2-1.5 6-8 12-6 6-7 6 1.5 8.5 3.5 3.5 1 3.5-1 2-2 1.5-6 1.5-2zM243 131l-1.5 2 0 2 1.5 4 4 4 2 1 3.5-1 3-4 0.5-2-3-4.5-4-3-4 0.5zM270 97l1-1 2 0.5 1 2.5-1 1.5-2-1z"/>
<path fill="#448fb9" d="M351 91l10 0 4.5 8 5.5 5 4 0.5 10-4 4 1 5 3.5 2 2 0.5 2 0 4-1.5 4-3.5 4 1.5 1.5 2 0 4-0.5 6-2 10 0 14-4 6-2.5 10-8.5 4-2.5 12-3.5 18-1 8-4.5 2 0.5 8 5.5 4-0.5 6-3.5 2 0 6 4 4 1.5 16 0 12 3.5 2-0.5 8-4.5 10-8.5 5 0 2.5 4 3.5 10 9 9.5 6 12.5 1 4-1 10 2.5 10 2.5 6 5.5 8 5.5 11 4 2.5 12 4.5 12 7 12 1 4 1.5 12 6.5 6 6 10.5 6 9.5 8.5 8 5 6 6 6 8.5 4.5 14 0 6-3.5 4-1 2.5 3 1.5 9 4 10.5 6 13.5 10.5 8 4 14 9.5 0 184-724 0 0-245 10-1 8-3.5 7-6.5 9-5.5 6-6 11.5-8.5 10.5-10 8-4.5 10-5 4-6.5 4-2.5 4 0.5 14 6.5 4 1 10 0 4-1 6-3 14-10.5 7-7 1-2 2.5-6 3.5-4 4-10 4-7 4-4 8-5 6-1 4.5 1 2.5 2 3 6 3 4 5 4.5 4 1 8-4.5 2-3 1-4-1-2.5-2.5-3.5-0.5-6 1-4 4-3.5 16-5 6 0.5 8 2.5 4-0.5 4-2.5 6-11.5 4-1.5 16-2 4 1.5 6 5.5 2 0.5 2-1 2-1.5z"/>
<path fill="#4f95ba" d="M350 99l3-1.5 2 0.5 4 4 6 3.5 6.5 5.5 1 2-0.5 8-3 5.5 0 2.5 2 3 4 2 8-1.5 8 0 10-1.5 8-5 12-5 12-3 10-7 4-1 8 1 4-2.5 4 1 4-4.5 10-0.5 8-3 2-0.5 2 0.5 6 7 4 1.5 4-1 8-3.5 12 0 12-0.5 6 1.5 6 5 2 1 4-1.5 12-11.5 2-0.5 1 0 1 1 1.5 5 6.5 6 6 4 3 4 5 12 0.5 10 3.5 13.5 1 2.5 6.5 8 3.5 12 1.5 2 3.5 2.5 12 3 12 6.5 14 2.5 4 1.5 11 6 25 20 10 6 4 4 5.5 8 5.5 16-0.5 4-5 4-1.5 2 0.5 2 13 6 6.5 6 10 5.5 10 9.5 13 7 1.5 2 0 2-2 4 1.5 2.5 8 3.5 0 170-724 0 0-242 10-2 8-4.5 37-29.5 9-8 6-3.5 11-4.5 3.5-6 3.5-3 4 0.5 18 7.5 10 1 4-1 4-2 16-12.5 8-8 2.5-6.5 4-6 5.5-11.5 4-5.5 6-4.5 6-2 6 1 14 13.5 4 2 4 0 6-3 4-5 1.5-5 0-12 0.5-2 2-2 14-2 10 1.5 6-1 7.5-4.5 4.5-7.5 2-1 2.5 0.5-0.5 9.5 2 3 4-1 8-4.5 4 0 7 3 5 6.5 2 1 2-0.5 2-3 1-8 0-2-2.5-6 0.5-2z"/>
<path fill="#5a9bbc" d="M359 111l2.5 0-0.5 2.5-2 0.5-0.5-1zM516.5 111l20.5-0.5 7 6.5 3 1.5 4-0.5 8-4 6-0.5 10 2 7.5 3.5 2.5 4 3.5 8 2 12 4 14 5 6 2.5 4 0.5 10 1 4 5.5 3.5 14 2.5 12 6 12 2 4 1.5 12 6.5 26 21.5 10 5 6 7.5 3.5 10 3.5 8 0 2-1 2-8 6-1.5 2 1 2 14.5 5.5 8 8 11.5 6.5 3 4 2 6 7.5 8 2.5 6 3.5 4.5 4 2 10 0 0 165.5-724 0 0-239 8-2 4-2 45-35 9-8 4-2 12-4 2-2 2-5 2-2 4 0 8 3 8 4.5 6 1 6 0.5 8-2.5 24-20.5 2-3 1.5-6 4-6 4.5-9.5 6-7 6-3.5 4-0.5 4 0.5 18 14.5 4 1.5 2-0.5 8-5 2-2.5 5-12 3-4.5 4-1.5 10 0.5 8-1.5 10-3.5 2 0.5 2 3 3 7 0.5 8 2.5 3 2-0.5 4-3.5 6-1 2-4 1-8 1-1 2-1 4 1 4 6 2 2 20 1 3 2 4 6 3 2 4 1.5 4-1 6-4.5 16-1.5 10-7.5 12-5.5 6 1 6-4.5 5.5-6 4.5-2.5 14 2 6 2 4-0.5 4-2.5 4-0.5 2 0.5 6 4 6-1 10 0.5z"/>
<path fill="#65a0bd" d="M444.5 115l4.5-0.5 6 1 12 6.5 16 3.5 8-0.5 8 1 8-4.5 6-2 8-4 4 1.5 4.5 4 5.5 1.5 14-0.5 12-4.5 10 3 8 1 4 4.5 4 7 5.5 24 6.5 7 1.5 3-1.5 12 0.5 2 1.5 3 8 4 14 1.5 10 4.5 12 2.5 6 2.5 10.5 6 10 8 7.5 8 10 6.5 8 3.5 2.5 2 3.5 6 2.5 10 3.5 5 1 3-1 2-6 2.5-2.5 1.5-2.5 4 1 3.5 4 2.5 8 1 4 2 4 3 4.5 6 8.5 6 1.5 2 3 8 2.5 4 9 12 5 5 6 2.5 10-1 0 161.5-724 0 0-236 8-2.5 4-2.5 26-21 22-16.5 8-7 4-1.5 6-1 4-2 2.5-2 3-6 2.5-1.5 2 0 6.5 1.5 11.5 7 10 1 8-2 25-22 2.5-4 1-6 3.5-5 4-9 6-6.5 6-3.5 4 0 4 1.5 12 8.5 8 7.5 2 0 4-2 7-5.5 2.5-4 4.5-8.5 6-5 8-1 12 0.5 6-1 2 0.5 2 1.5 1.5 3 2 8 2.5 3 2 1.5 2 0 4-2.5 6 1.5 4 1.5 5.5 5 2.5 0.5 2.5-0.5 2-2 1.5-6 2-2 2-0.5 2 0 3.5 6.5 3 4 3.5 2 2 0 8-4 10-1 6-4 4-1.5 14 0 4-2.5 6-5.5 10-3.5 6-0.5 6-4 4-0.5 1-1 0.5-6zM221 181l-1 2 1 3 2 0.5 2-0.5 2-3 0-2-2-1-2 0z"/>
<path fill="#70a6be" d="M447 117l6 0.5 12 8 13 7.5 3 1 8-2.5 12 0.5 2-1 6-6 8-0.5 4-2 8 3 12 1 6-1 14-4.5 8 3.5 10 2 4 4 2.5 4.5 6.5 24 5 4.5 2 3.5-3 10 0.5 6 2.5 3.5 5 2.5 5 2 14 1 10 4 12 3 10 5 14 11 8 9 17.5 9 2.5 2 2.5 4 1 6-0.5 10-4.5 12 0 2 1.5 4 4 3.5 2 0.5 8-0.5 4.5 2.5 11.5 14 4.5 12 19.5 21 4 3 4 1 10-1.5 0 156.5-724 0 0-233 6-2 6-4 24-20.5 10-6.5 8-7.5 7.5-4.5 6.5-6 4-1.5 6 0 6-3 3-3.5 2-4 2.5-2 4.5 0.5 4 1.5 6 5 4 2 10 1 10-2 25-24 2-8 7-14 4-5 6-4 4-1 4 1 10 6.5 5.5 4.5 1.5 4-1.5 10 0.5 3.5 2 2.5 4-2.5 3.5-9.5 10.5-10.5 6-10 4-3.5 6-2.5 6-1 4 1.5 6 3.5 6 0 4 3 6 8 2 1 6 0.5 5 4 7 3.5 4.5 0.5 11.5-2 12 3 4-1 6-4 10-2 8-4.5 4-1 4 0 6 4.5 4 0 4-5 8-3 8-4.5 4 0 2 1.5-3.5 4-0.5 2 2 2 4 0 4-1 6.5-5 3-4 0-2-8-4 3.5-4 2.5-8zM687 279l-1 0 1 2.5 1-0.5 0-2zM225 177l-4 1.5-3 2.5-1 4 0 4 2 2.5 4 0.5 2-1 2-2 1-4 3-4 0-2z"/>
<path fill="#78aabf" d="M447 123l2-1.5 2 0 2 1.5-0.5 2-1.5 1.5-4 1-0.5-2.5zM556.5 125l4.5-0.5 8 4.5 8 0.5 3 1.5 3 4 6.5 24 1.5 2 5.5 4 1 2-0.5 2-3.5 4-0.5 2 1 10 3 4 4 2 6 2 16 1 19 7 11.5 6 11.5 8 10 12 10 5 10 7 1 4-1 2-6 2-2 3.5 0 2.5 1 2 1 1.5 4 2.5 0.5 2-0.5 3-2 2.5-2-2-1-3.5-1-1.5-2 2 0 3.5 2 4 0 2-1 2-3 3.5-1 2.5 1.5 4 3.5 2 2 0 6-3.5 8 3 2-0.5 4-3.5 4 0.5 2.5 2 6.5 10 1.5 4 0 6 2 4 9.5 7.5 9.5 10.5 6 8 2.5 2 4 1 12 1 0 148-724 0 0-229 8-4 15-15 7-5 6-5.5 11.5-7.5 6.5-6.5 8-3.5 8-7.5 2-0.5 4 1 6-2 6-4 4-6.5 2-1 4 0.5 2 1.5 6 6 2 1 12 1 12-1.5 6-5.5 6-4.5 3.5-6 8.5-7 1.5-3 1-8 5.5-12 2-3 4-4 6-2.5 6 1 12 8.5 1.5 4-1.5 16.5-0.5 1.5-1.5 2.5-12-0.5-4 1-4 3-2.5 4-5.5 16 0 2 2 1.5 2 0 6-4 6-1 4.5-2.5 1.5-2-2-6 2-3.5 2 0 2 1.5 2 0 2.5-8 7.5-3 6-5 3.5-10 8-8 5.5-10 3-2 8-3.5 4 0 2 1 6 6 10.5 2.5 2.5 2 2 4 2.5 2 18.5 6 6 1 12-1 12 2 4-0.5 8-5 8-2.5 12-5 4 0.5 8 5 4-1 4-4.5 2-0.5 4 0 6 3.5 4 1 12-2.5 5-2.5 8.5-6 3.5-4 1.5-6 1.5-1.5 4 0.5 14 8 4 1.5 2 0 8-3.5 12 0 2-1 6-5.5 2 0 6 1 10-2 14 1 4-0.5z"/>
<path fill="#7cacc0" d="M555 127l6-1 6 4 2 1 8 0 4 2.5 2 3.5 6 22.5 1 1.5 5.5 4 1 2-0.5 2-3 2-1 2 0 2 1 10 2 4 2 2 10 3.5 16 0.5 16.5 6 11.5 7.5 4 3.5 8 3.5 4 3.5 8 9.5 9.5 4.5 5.5 6 1.5 2-1 2-1.5 1-2.5 5 0 8-2 2-1 4 0.5 8-3 8 0 2 2 3 4 2 8-1 8 2 4-1 4-2.5 2 0 4 4.5 3.5 5 1 4 0 6 1.5 4 12 9.5 8 8.5 6 9.5 4 2.5 10 2 6 2.5 0 143.5-724 0 0-227 8-4 15.5-17 6.5-4 8-8 10-5.5 6-6.5 9-4 7-6.5 8 0 6-2.5 4-3 3.5-6 2.5-1.5 2-0.5 4 2 5.5 6 2.5 1.5 20 0.5 6-1.5 4-4.5 7-4 4-8 7-6 2-3.5 1-8.5 4-10 3-4.5 4-3.5 6-2.5 6 1 11 7.5 1.5 4-1.5 12-1 4-2 2-12 1.5-4 2-3 2.5-2.5 4-4 10-4 6-0.5 2 1.5 2 2.5 1 4 0.5 5.5-1.5 6.5-2 9.5-6 4.5-7.5 2.5-8.5 14-10 2-8 1.5-2 6-5 4.5-11 3.5-2.5 8-3.5 4 0.5 2 1.5 4 5.5 6 4.5 3.5 6 2.5 2 12 0 18 4 14-1 12 2.5 4-1 8-4.5 20-8 4 0.5 5 3.5 3 1.5 4-1 6-4.5 4 0.5 8 4.5 10-1.5 1.5 0.5-0.5 2 0.5 2 2.5 1 1-3-1-1.5-1-0.5 15.5-10 4-4 4-6 3.5 0.5 14 7 4 1 8-3.5 10 0 4-1 6-4.5 2-1 8 3 4.5-3.5 3.5-1 16 1zM651 231l-2 0.5 0 2 2 1.5 2 0.5 1.5-0.5zM230.5 185l2.5-0.5 1 0.5 0.5 4-1.5 2-2-0.5-1-1.5z"/>
<path fill="#81aec0" d="M554 129l5-1.5 2 0 6 6 10-1 2 1 2 2.5 6 17 1.5 8 6 4 1 2-1.5 2-3.5 2 0 2 1 12 1.5 4 2 3.5 4 2 8 1 14 0 15.5 5.5 6.5 5.5 5.5 2.5 4.5 6 6 1 4 1 12 13 9 5 2.5 6-1 14-3 6-0.5 10-2.5 6 0.5 4 3 4 4 1.5 6 0.5 10 2.5 8-2 2 0 2 1 4 6.5 0 8 1.5 4 4.5 4.5 8 5 4 4 5.5 6.5 4.5 8.5 4 2.5 10 2.5 8 3 0 141.5-724 0 0-225 8-4 5-7 11-11.5 6-4 8-8 10-5.5 6-6.5 10-3.5 6-7 8 0.5 6-2.5 5.5-4 3-6 3.5-1 3 1 5 6 4 2 24 1 4-2 4-4 4-1 2 0.5 1.5 1.5 1.5 8 3 2.5 16 0.5 12-2 12-6.5 2-1.5 5-17 5.5-4 11-6 1-2-1.5-4 1-2 6-4 2-10 2-3.5 4-2 6-2 2-0.5 2 1.5 5.5 8.5 8.5 8.5 4 2.5 14-1 16 3 14-0.5 14 2 4-1.5 8-5 18-7 4 0.5 4 3 4 1.5 4-0.5 6-3.5 2.5 0 9.5 4.5 8-1 3 4.5 3 0.5 2.5-2.5 1-4 12-8 8.5-8.5 2 0 4 1 12 6 4 0.5 8-3.5 12-2 8-4 10 6 2-1 1.5-6.5 2.5-1.5 4-0.5 12 1.5 4-1zM649 229.5l-2 1.5 0 2 1.5 2 4.5 2.5 2 0.5 1-1 0.5-2-1.5-2-4-3zM253 178l-1 1 0 2 1 1 2 0.5 2.5-1.5 0.5-2-1-1-2-0.5zM220.5 143l2.5 0 4 1 10 8 1.5 5-1.5 10.5-2 3.5-2 1-10 2-6 3-3.5 4-4.5 11-4 3.5-2-0.5-8-4-1.5-4 1-4 8.5-8.5 1.5-11.5 5-12 5.5-5.5zM230.5 187l0.5-1 2 0 0.5 1-0.5 2-2 0.5z"/>
<path fill="#85b1c1" d="M555 131l4-1.5 2.5 1.5-0.5 2.5-4 3.5 0 2 1.5 2 2.5 1 6-1.5 2 0 4 3 4-0.5 2-1 4 4 3 7 2.5 10 0.5 1 3.5 1 1 2-4.5 2-0.5 2 1.5 16 5 8.5 2 1 22 0 14.5 4.5 3 2 6.5 7 2 1 0.5 2-1.5 8 1 4 2 0 4-4.5 2-1 4-1.5 4 0.5 6 4 7.5 8.5 7 4 1.5 2 1 4 0.5 12-2.5 8-1 8.5-3.5 7.5 1.5 4 3 4 3 2 8 1.5 10 4 8-1.5 2.5 0 1.5 1.5 1.5 2.5 0.5 4-1 4 1.5 4 7.5 7 8 4.5 4 4 4 5 4.5 9.5 3.5 2.5 10 2 10 4 0 139.5-724 0 0-222.5 8.5-5.5 5.5-8 10-11 6-4 8-8 10-5 6-6.5 2-1.5 8-1.5 6-7 2-0.5 8 0 6-3 5-4 3-6 2-0.5 2 0.5 2.5 2 3.5 5.5 4 1.5 24 1 4-0.5 6-4.5 2 0.5 1 2.5 0 6 2.5 2 4.5 1.5 26-2 4-1 6-3.5 8-3 1.5-2 1.5-14 2-4 3-1.5 1 3.5 1.5 2 3.5 1 2-1 2-2 0.5-2-2-4 3.5-1.5 7.5-2.5 2.5-2 1.5-2 0-2-2.5-4 1-14 2-2.5 4-1.5 4-0.5 2 0.5 2 6 2 2 16 12 16-2.5 14 2.5 16-0.5 12 2 4-1 8-5 18-7.5 4 0.5 4 3 4 1.5 4 0 6-3 2 0.5 10 3.5 6-0.5 2 0.5 2 2.5 2 1 2 0 2.5-1.5 3.5-5 18-13.5 4-1.5 4 1 10 5 4 1 14-3.5 14-5 4 2.5 8 7.5 2-0.5 2-3.5-0.5-8.5 1.5-2 3-0.5 10 1.5 6 0 4-1zM647 229l-1.5 4 1 2 8.5 4.5 2 0.5 0.5-1 0-4-2.5-3-4-3.5-2-0.5zM659 242.5l1 2.5 3 2.5 1-0.5-0.5-2-1.5-2-1-0.5zM216.5 145l4.5-1 4 0 10 7 2.5 4-1 10-1.5 3.5-2 2-12 3.5-5 3-4 4-3 8-2 3-2 0.5-2-0.5-6-3-1.5-4 1.5-2.5 6-5.5 1-2 0.5-10 4.5-12 4-5.5z"/>
<path fill="#8ab3c1" d="M532 135l3-0.5 14 2.5 2 1 5.5 5 2.5 1 8-0.5 6 2.5 8 1 3.5 4 2 6 0 12 1.5 8-0.5 10 5.5 10.5 2 1.5 2 0 6-1 16-0.5 6 1.5 8.5 4 5 6 0 6 3 4 3.5 8-1 6 0.5 2 10.5 6 5 6 3 3 2 0.5 1-1.5-1-4-4.5-6-3-6-7.5-8 3-2.5 4-1.5 4 0 4 2 8 9 8 5 1.5 4 1 12-2.5 7.5-1.5 8.5-6 8 1.5 2 8 8 11 4 11 7.5 2 0 1-1.5 3-1.5 1.5 1.5-1 2-3 2 1 4 2 2 7.5 4.5 6 5 6 3 4 3 4 5 4 9.5 2 3 3 1 9 1.5 12 4.5 0 138-724 0 0-220 10-7 5.5-9 3.5-4 4.5-6 6.5-4.5 8-8 10.5-5.5 5.5-6 4-1.5 6 0.5 2-1 3-6 2.5-2 8.5-0.5 6-2 6-4.5 2-5.5 2-1.5 3 2 4 6 3 1.5 18 1 10 1.5 2 1 3 3 3 2 10 1.5 4 0 8-2 16-1 8-3.5 12-2.5 2-2.5-1.5-12 0.5-4 1-1.5 6 3.5 4-1 3.5-3 1-4 1.5-1 6-2 8-7 0-2-3-4-1-4 1.5-8 2.5-1.5 10 8.5 6 2 6 5 4 2 4 0 12-3 16 2 14 0 12 2 4-1.5 8-5 18-7 4 0.5 4 2.5 4 1.5 12-1.5 10 3.5 6-1 4.5 3 3.5 0.5 22-17 6-3 4 0.5 14 6 12-1.5 12-5.5 4-0.5 4 2.5 6 7 4 1 2-1.5 2-4.5 1-4-1-4zM218 145l3-0.5 4 0.5 4 2 6 6 1.5 4-1 8-3 4-11.5 4-9 6-1.5 2-1.5 5.5-2 3-2 1-4-1-3-2.5-0.5-2 1.5-2.5 6-5.5-0.5-10 2-8 4.5-8.5 4-4z"/>
<path fill="#8eb5c2" d="M536.5 139l2.5-1 6 0 4 1.5 6 5.5 2 0.5 10 0 14 3.5 2 2 2.5 6-0.5 12 1.5 8-1.5 6 0 4 3.5 6 2.5 6.5 2 1.5 2 0.5 8-2 14-1 4 0.5 8.5 4 6 6 2 8 3.5 4.5 2 5.5 0 9 1 1 9 4.5 10 10 2 0.5 2.5-3-1-4-7.5-12-5-6 0-2 3-1 4-0.5 6 3.5 4 4.5 7.5 5.5 1.5 2 2.5 12-4.5 18-3 3.5-7 2.5-2.5 2 7.5 3.5 10 7.5 7.5 3 4.5 3.5 3 2.5 6 8 5 5 8 3 8 6.5 7.5 3.5 4.5 6 3.5 8 2.5 4.5 2 1 10 1 10 4 4 1 0 136.5-724 0 0-215 3-5 9-7.5 3-6.5 5-5.5 4-6.5 6.5-4 7.5-8 10-4.5 6-7 2-1 4 0 6 2 1-1.5 3.5-8 3.5-1 8-1 6-2.5 5-3.5 1.5-2 0.5-4 1-0.5 2 1 3 5.5 3 2 23.5 2 4.5 2 4 5.5 2 1 16 1 10-3 16-0.5 8-3 14-2.5 3-2.5 0.5-2-2.5-10-0.5-2 1.5-1.5 6 0.5 4-2 4-3.5 6-1.5 14-13.5 8-3 2 0 6 3.5 4 1 18-3.5 20 2 10-0.5 10 2 4-1 8-5 16-6.5 4-0.5 6 3 4 1.5 12-1.5 10 4 6-0.5 4 1.5 4 0.5 3-1.5 19-14 6-3 6 0.5 12 6 12-1.5 10-5 4-1 2 0 4 2.5 6 6.5 2 1 2.5 0 3.5-2.5zM220 145l3 0 4 1.5 7 6.5 1.5 4-0.5 6-2 4-2 1.5-10 4-12 6-2-1.5-1.5-6-0.5-4 1-6 3-7 3.5-5 2.5-2zM279 155l3 2 1 2-1 2-3 0-2-2 0-2.5zM203.5 181l3.5-1 0.5 1 0.5 4-1 2-2 1-4-0.5-1-2.5 1-2z"/>
<path fill="#92b7c4" d="M541.5 139l5.5 1 8 7 4 0.5 8-0.5 14 4 2 2 1.5 4-1 12 1 8-2.5 8 0 2 5 8 2 6 2 2 4 1 8-3 12-1 6 1 4 2 3 4 5 3.5 2 6.5 5.5 6 1 4 0 8 0.5 2 11 5.5 10 10 2 0.5 2-1 1.5-3-0.5-2-1.5-4-8-14 0.5-1.5 2-0.5 4 1 13 11 3 12-3.5 16-2.5 3-2 1-10 3-1 3 1 2.5 10 3.5 14 8 8 6 6 9 6 6 2 1.5 8 2 6 6 7 3.5 1.5 2 0.5 2-0.5 4 0.5 2 5 2.5 4 6.5 2 1 12 0.5 8 3.5 6 1 0 76-2 1.5-2 3.5 2 10-2 8 1 2 3 2.5 0 31.5-724 0 0-204.5 4-13.5 8.5-8 11.5-19 7-5 7-7.5 10-4.5 8-8 4 0.5 6 3 2-1 3-8.5 2-2 11-1.5 12-7 2 0.5 6 3 18 1 6 2 2 2 4 8.5 8-2 14 0.5 10-3.5 14-0.5 8-2.5 16-2.5 3-2 1.5-4-2-10 3-2 8.5-3 4 0.5 4-1 2.5-2.5 4-8 3.5-3 6-2 6-1 8 2 4 0 12-3.5 6-1 20 2.5 8-0.5 10 1.5 4-0.5 10-5.5 16-5.5 2 0.5 3.5 2 4.5 1 15.5-1 6.5 5 2 0.5 6-1.5 8 0.5 8-4.5 14-10.5 4-2 4-0.5 6 1 10 6.5 12-1 10-6.5 4-1 4 1 8 7.5 4 1 4-1.5 3-4 3.5-8zM677 296l-1 1 1 2.5 2 2 2.5-0.5 1-2-1.5-2zM177 219l-1 2 1 3 2-0.5 0.5-2.5-0.5-2.5zM215.5 147l5.5-1.5 4 0.5 2 1.5 6.5 7.5 0.5 4-0.5 4-1 2-3.5 3-16 8-4 0-2-2-1-3-0.5-4 0.5-4 4-10 3-4z"/>
<path fill="#96b9c5" d="M539 141l2-1 4 0 2.5 1 3.5 5.5 2 1.5 4 1 10-0.5 14 4.5 1.5 2 1 4-2 10 1 8-3 10 0.5 2 4.5 6 1.5 6 3 3.5 2 1 4 0.5 8-3 10-1 4 0 3 1 5 6 6 4 2.5 6 5.5 5 1 3 0 8 1 3 10 4.5 12 11.5 2 0.5 2-0.5 2-3 0.5-2-1.5-6-5-10 2-1 11 7 2 4 1 8-2 14-2 3-2 1-10 2.5-2 1.5-1 4 1 4 2 1.5 9.5 2.5 1.5 2-3 4 0.5 2 4.5 8 3 2 2 0 3-2 0.5-2-0.5-2-6.5-6 0.5-2 1 0 4.5 2 5.5 5.5 6 4 4.5 6.5 7.5 8.5 2 1 8 2.5 8.5 8 1 4-4 6-0.5 2 1 2 2 0.5 8 1 2 0.5 2 6 1.5 2 2.5 0.5 7.5-4.5 4.5 0 10 4 6 1 0 55-1.5 2 1.5 3 0 9.5-4 3-3.5 4.5-0.5 2 2.5 4 1 4-0.5 2-3.5 6 0 2 0.5 2 2 3 6 3.5 0 27.5-724 0 0-199 2.5-5 2-10 2-4 9.5-10 5-8 3-8 8-5.5 6-7.5 11-5 7-6.5 4 0 4 3 2 0.5 2 0 2-2 2-7 2-2.5 8-1 4-1 10-6 2 0 8 2.5 14 0.5 6 2.5 1.5 1 2 4 0.5 4-0.5 8 2.5 3 3-1 1-2 2-5.5 4-2 14 0 12-4.5 12 0 10-2.5 14-1.5 4-2 1.5-2 2-6 1-8 3.5-2 8 0 4.5-2 3.5-4 2-6 1.5-2 6.5-3 6 0 8 1 4 0 12-4 8-1 18 2 8-0.5 10 2 4-1 10-5 12-2.5 2 0.5 4 4 2 0 6-3 14-1.5 2 1 4 4.5 4 0.5 16-3 8-4.5 14-10 6-2 4 0.5 4 1.5 6 6.5 2 1 6 0.5 4 2 2 0 2-2 3.5-6.5 2-2 2.5-1.5 4-1 4 1.5 8 7 4 0.5 2.5-0.5 5-4 2.5-4 0.5-4zM69 252.5l-1.5 0.5-0.5 2 1 2 3 0.5 2-2.5-2-2.5zM217 147l6-0.5 4 1.5 5.5 7 0.5 6-2 4-2.5 2-15.5 7.5-4 0-2-2-1-3.5 1-8 4-9 2.5-3z"/>
<path fill="#9bbcc7" d="M540.5 141l2.5-0.5 3 0.5 2 2 1 4.5 4 3 14-0.5 14 6 1 3-2.5 10 1 8-1.5 4.5-3.5 3.5 0 2 6.5 8 3 8 2 2.5 4 2 4 0.5 12-3.5 6-1 4 1 6 6.5 5 4 3 6.5 6 3.5 1 2 1 8 1.5 4 9.5 4 13 12.5 2 0.5 2-0.5 2.5-2.5 1-2 0-4-2-8 0.5-1 4 1 2 2 1.5 6-0.5 16-1 2.5-2 1-6 1-6.5 3.5-2.5 4 0 4 0.5 2 2.5 2.5 7.5 3.5 0 4 1 4 3 4 4 4 4.5 1.5 3.5-1.5 2.5-2 2-0.5 2 0.5 3 2 5 7 8 8.5 4 2.5 4 1 4 3 2 4-3 8 0.5 4 2.5 3.5 8 2.5 1.5 2 1.5 6 3 1 8 0 2-1 4-5 4-1 10 4 6 1 0 12.5-1 2.5 1 2.5 0 19.5-3.5 2-1 2 2.5 6-1.5 4-2.5 3-5 1-1 1.5 1 2.5 6 4-2.5 6-5 6-1.5 4 1 2 3.5 2 1 2-3.5 4-1 2 1 6 6 7 6 3 0 24-724 0 0-182 1.5-4-0.5-8 3.5-10 1.5-10 2.5-4 9.5-8.5 2-0.5 4 1 4.5-2 0.5-2-0.5-2-4.5-4 0-6 2-3 6-3.5 6-8 12-5 6-6 2-0.5 2 1 6 4 4-0.5 1.5-2.5 2.5-8 2-1 10-2 10-6.5 10 2.5 12 0.5 6 1.5 3 3 1 4 0.5 10 1.5 3 2 1.5 2 0 2-1.5 4-6.5 4-2 12-1 12-4.5 14 0 8-2.5 16-1.5 5.5-3-0.5-4 4-4 1-4 1.5-2 12.5-4 4.5-4 3-8 4.5-2.5 4-0.5 12 1.5 6-1.5 10-3.5 8-1.5 8 0.5 8 2 8-0.5 8 1.5 4 0 10-4.5 10-2.5 4 1 6 5 2 0 6-5 8-1 6 0.5 6 5 4 0 10-1.5 8-2.5 12-7.5 8-6.5 6-1.5 4 0 4 2 6 9.5 8 0.5 6 2 3-2.5 2-6 2.5-4 4.5-2.5 4 0 2 1 8 6.5 6 0.5 3.5-1.5 2.5-2 3.5-4 0-6zM747 364.5l-3 4.5-0.5 2 1.5 2 2 0 2.5-2 0.5-2-1-3zM218.5 147l2.5 0 4 0.5 3.5 3.5 3.5 6-1 6-4.5 4-11.5 6-4 1-2-0.5-2-2.5-0.5-4 2-10 4.5-6.5z"/>
<path fill="#9fbec8" d="M542.5 141l2.5 0.5 2 1.5 0.5 2-2 4 3.5 2.5 4 1 12-1 3.5 1.5 4.5 5 4 1.5 1 1.5-2 8 1.5 8-0.5 2.5-6 3.5-0.5 2 2 4 7 6 5.5 10.5 4 3 4 1 4 0 14-3.5 4 0.5 2 1 8.5 9.5 3.5 6 7.5 6 3 10 1.5 1.5 6 2 4 2.5 12 13 4 3-2 1-3 5-5.5 6-1 4 0.5 4 2 2 7 6 3.5 8 6 6 2.5 2 4 1 6-2 4 0 2 1.5 5.5 7.5 8.5 9.5 8 5.5 1.5 3-1 8 1.5 5.5 2 2.5 6 4 0.5 2 1 6-1 8 2 4 7.5 4.5 8 2 4 0 7.5-4.5 0.5-2-2-6-1-8 0-2 1-2 3 0 7 2.5 3.5 1.5 1.5 2-3.5 8-7 6 7 6 1 4-1.5 4-4 6 0.5 8-5.5 5-1.5 3-0.5 4 5 8-1.5 4-5 6-1 4 0.5 6 3 12 11 11 4 2.5 0 18.5-724 0 0-178.5 2-2.5 1-3 0.5-10 3-8 1.5-12 2.5-4 7.5-5.5 8-2 3.5-2.5 0-4-4-6 0-4 0.5-2 6-3 6-9 12-4.5 6-5.5 2-0.5 8 6 4 0 2-0.5 1.5-1 1-2 1-6 1.5-2 9-2.5 9-7.5 3-0.5 6 2 14 0.5 5.5 2 1.5 2 2 4 1.5 12 1.5 2.5 4 1 3-1.5 4.5-6 2.5-1.5 14-2 10-4.5 14 0 8-2.5 16-1 6-1.5 1.5-3-1.5-2 0-2 6-4 2.5-4 9.5-3.5 3.5-2.5 4-4 3.5-6 3-2 10 1 10-1 12-5.5 8-1.5 6 0.5 8 2.5 8-0.5 8 1.5 4 0 4-1 6-3 10-2 4 1.5 6 5 2 0 2-1 4-4.5 6-1.5 6 0.5 6 4.5 4 0.5 12-1.5 4-1.5 18-9 6-6 6-2 4 0 4 3 1.5 3 1 10 0.5 2 1 0.5 4.5-4.5 3.5-1 4 0.5 4 2 2-0.5 2.5-3 3.5-10 4-3 4 0 10 7 6 0 6-2 7.5-6-3-4 0-2zM661 315l-4 3-4 6.5-0.5 2.5 1.5 2 3 0.5 12-4.5 1-2-5-7.5-2-1zM131 216l-5.5 5 1 2 4.5 0 4-2.5 1-1.5-1-3-2-0.5zM215 149l6-1.5 5 1.5 4 6 0.5 6-1.5 3-4.5 3-9.5 5-4 1-2-0.5-2-3 0-4.5 3-10zM671 255l2-1.5 1 5.5-1 4-2 0-4-2 0-2zM736 361l3 0 2 1.5 0 2.5-2 2.5-2 0.5-1.5-1-1.5-2 0-2z"/>
<path fill="#a3c0ca" d="M540.5 143l2.5-1 2 0.5 1 0.5 0 2-1 1.5-2 0.5-2.5-2zM216 149l5-1 4 1 4 6 0.5 6-2.5 3.5-4 2.5-8 4.5-4 0.5-2-0.5-1.5-2.5-0.5-2 1-6 3-7zM510.5 151l4.5 1.5 6 4.5 4 1 6 0 12-4 8 1 12-1.5 3.5 1.5 2 4 2 16-4 6-0.5 2 1.5 4 3.5 4 6 4.5 6 10 6 4.5 6 1.5 14-3 4 0 2.5 0.5 3.5 4 8 11.5 8 6.5 4 9 2 1.5 8 3 6.5 6.5 6 10-1 4-6.5 8-1 4 1 4 8.5 8 4 8 3 4 9.5 6.5 2 0 8-1.5 2 1 3 4 1 7 6 2 12 11 2 15.5 2 3.5 4 3.5 1.5 3.5-0.5 12 1.5 4 2.5 2 13 5.5 8 4.5 2.5 0 3.5-4 4.5 0 1.5 2-1 2-2.5 2-0.5 2 0.5 10-4 8-1.5 6 1 4 2.5 4 0 2-5.5 8-0.5 8 3 14 2.5 4 7 6 3 9 6 7 0 6-724 0 0-176.5 2-1.5 2.5-4 1-12 3.5-10-0.5-6 1-4 2.5-3 4-3 12-5.5 2.5-2.5 0-4-3-6-0.5-4 7-6 5-8 11-3.5 6-4.5 2-0.5 6 5 4 2 4 0 14-2 4-2.5 2.5-4 0-2-2-6 1-2 3-4 3.5-1 6 1.5 12 0 6 2.5 3.5 5 1.5 10 1 3.5 2 2.5 4 1 4-2 6-6 4-1.5 12-2.5 8-3.5 4-0.5 10 0.5 8-2.5 16-0.5 6-1.5 4.5-3 0-2-2.5-0.5-1-1.5 0-2 1-1 6-1 2.5-4 9.5-4 14-12 14-1 8 0 8-6 8-2.5 6 0.5 8 2 8 0 10 1.5 6-0.5 8-4 8-1 4 2 6 5.5 2 0 2-1.5 6-5.5 6-1 4 1.5 6 4 4 0.5 14-2.5 20-8.5 4-2.5 3-5 2.5-2 4.5-0.5 4 2 1.5 4.5-1 6-2.5 6-0.5 4-1.5 2 0 1 2 1 4.5-4 7.5-2.5 2-5.5 2-1.5 4 0 4 2.5 3-1 3-4 2.5-8 1.5-2zM651 257l-2 2 2 1 3-1 1-2-2-0.5zM659 313l-3.5 2-2.5 4.5-1.5 7.5 1.5 3 4 1 14-3.5 3.5-2.5 1-2-0.5-2-6-3.5-4-4-2-1zM757 359l2-1 2 0.5 2 2 0 2.5-2 3-2 0.5-2-1.5-1-2z"/>
<path fill="#a7c2cb" d="M542.5 143l1 0 1 2-2.5 0zM217 149l6 0 3 2 2.5 6-0.5 4-3 4-3.5 2-6.5 3.5-4 1-2-1-1-3.5 1-8 4-7zM511 153l4 1 6 4 6 1 24-1 10-2 2 0.5 2 2.5-1 6 2.5 6 0 2-4.5 8 0 2 2 4 3 4 8.5 6 7.5 10 6 4.5 6 1.5 16-2.5 4 1.5 10 13 9.5 8 4.5 8 8 3.5 5 4.5 2 4-6.5 4-1 2 0.5 1.5 2 2 2 0 6-2 1.5 0.5 0 2-1.5 3-8 5 1 6 3 6 6.5 6 5.5 10 4 4 10 7 2 0.5 6-1.5 2 0.5 1 1.5 0 2-4 6 1 2 6 3.5 8 1 8 5 2 2.5 2 16 6 8 1 4-0.5 10 1.5 4 2 3 14 5 6 4.5 6.5 3.5 2 2 0.5 2 0 4-6 16 2.5 6 0 2-3.5 8 0 10 2.5 12 2 4 8 8 2 8 3.5 6 0.5 6-718.5 0 0-174 4-3.5 2-4.5 1-10 4-10-0.5-8 1-4 4.5-4 14-8 1.5-2 0-4-2-8 0.5-2 4-4 4-7.5 2-2 10-3 6-3 2-0.5 6 6 4 1 4 0 14-2.5 4-2.5 3-4 1-4-0.5-6 1.5-4 3-2 6 1.5 12 0 6 2.5 3 6 1 8 1.5 4 2.5 3 4 1 4-1.5 8-6.5 14-3.5 10-4.5 12 0.5 10-2.5 14 0 7.5-2 9-6 1.5-6 2-2.5 8-4 10-8 8-3.5 6-1 6 1 2.5 2 5 8 2.5 1.5 1-1.5 0-2-1-8 0.5-4 3.5-4 6-2.5 4 0 8 2.5 20 2.5 6-0.5 10-4 6-0.5 4 2.5 4 6 2 1 4-1 4-6 2-2 4-1 4 1 8 5.5 4 1 6-3 8-1.5 12-6 12-2.5 3-3.5 3-5 2-1 2-0.5 2 1 1 1.5-0.5 6-8 12-1 4 2.5 4.5 4 0 8-2.5 4-4 2-0.5 1.5-1.5 1-6 1.5-2 2-1 2 0.5 4 3 2 0 2-1 3-3.5 3-9.5zM657 311l-4 3.5-2 4.5-0.5 8 0.5 2.5 2 2 4 0.5 15-3 7-4 2.5-4-0.5-2-2-1.5-8-1-8-6-2-0.5zM403 179l-4 2 0.5 2 1 2 4.5 2 2 0 2.5-2 0.5-2-1-2.5-2-1.5zM258.5 201l2.5-1 2 0 1.5 1 0 2-1.5 1.5-2 0-2.5-1.5z"/>
<path fill="#abc4cd" d="M214.5 151l4.5-1.5 4 0.5 3 3 1.5 6-2 4-2.5 2.5-6 3.5-6 1.5-2-1.5-0.5-2 0.5-6 2-5.5zM508 157l3-1.5 2 0 10 4 22 1.5 14 0 0.5 4 3.5 2.5 1.5 1.5 1 2-2.5 4-8.5 6-0.5 2 1 2.5 4 2 6 5.5 9 6 7 8.5 8 6.5 6 1 16-1 3.5 1 7.5 10 11 8.5 5.5 7.5 8 4 4 4 1 2-0.5 2-5.5 4-1 2 0.5 4-1 6 0.5 4 6.5 11 8 7.5 4.5 11.5 1.5 1.5 4 1 3.5 1.5 3 4-0.5 2-2 1.5-2 0-2-0.5-3-3-3-4-2-0.5-6 2.5-2.5 2-2.5 4-0.5 10 0.5 4 3 3.5 6 0.5 14-2 10-4.5 4-0.5 9 3 9 2 4 3.5 1 2.5 0.5 12 1.5 4 5 6 0 4-0.5 8 4.5 10.5 2 3 2 1.5 6-1 2 0.5 9.5 5.5 4.5 4.5 0.5 3.5-0.5 6-5.5 10 2 8-1.5 8 1 20 4 7.5 6 7 0.5 3.5-1 4 1.5 2 3 2.5 1.5 1.5 0.5 6-714 0 0-171.5 4-3 3-5.5 2-12 4-12 0-8 3-4 15.5-10 1-4-0.5-10 6-12 2-2 4-2 12-1.5 1.5 1.5 0 2-1.5 4 2 2 6-2.5 22-5 4-2.5 4-5 1-3 0.5-8 2.5-3 14-1 6 1 4 3 2 4 1.5 10 2 4 4.5 3.5 4-0.5 12-8.5 14-3 8-4 14 0.5 6-2.5 4-0.5 14 0.5 5-1.5 11-5 4-1 3-2-1.5-6 2-2 4.5-2.5 4-4.5 4-3 12-4.5 4 0 2 1 2 1.5 4 7 6 3 2 2 0 2 2 0.5 1.5-2.5-3-14 0-4 1-2 2.5-2.5 6-2.5 18 3 10 3 8-1 11.5-4 3.5 0 3 2 0.5 2-2.5 6 2 2 4 1.5 6 0 8 2.5 4 0.5 4-1.5 4-3 8-0.5 7-7.5 7-1 12-7 8-0.5 3 0.5 2 2-1.5 8 0.5 4 4 4 4 0 12-3.5 4-2.5 3-4 0.5-8 2.5-2 2 0.5 4 3.5 2 0 3-2 4-4zM595 218.5l-2 0.5 2 1.5 1-1.5zM260 201l3.5 0-0.5 2-2 0.5-1-0.5z"/>
<path fill="#afc6ce" d="M215.5 151l3.5-1 4.5 1 2.5 4 0.5 4-2 4-3.5 3-6 3-4 0.5-2-2.5 1-8 1.5-4zM509.5 159l1.5-1.5 2 0 8 2.5 28 3.5 4 1 4 3 4 0 2 1 1.5 2.5-1.5 3-7 1-4.5 4-1 2 0.5 4 2 4.5 6 2.5 12 7.5 10 11.5 8.5 6 1.5 4 2 1.5 4 0 1.5-1.5 1-2 1.5-1.5 12 1 2 1.5 5 7 11 7 8 9 6 2.5 4 3.5 0.5 2-1 2-5.5 4-2 0-8-5.5-1 1.5 2.5 6 6 6 2 8 4.5 8 4 5.5 5.5 4.5 3 6 0 4-1 2-7.5 5.5-2 3.5-0.5 5 0.5 12 2 3 4 2.5 18-2 10-3 4-0.5 10 3.5 6 1 3.5 1.5 1 2 1 14 6 10-1.5 10 5.5 12 3.5 16 1.5 2 3.5 2 6 1.5 6 0 2.5 0.5 0 2-3.5 8 1.5 8-0.5 6 0.5 8 0 8-1.5 6 0.5 2 4.5 4.5 3.5 5.5 1.5 4 0 8 5 8 0.5 2-708.5 0 0-168.5 6-5 2.5-4.5 1.5-12 5-12 0.5-10 10.5-10 7-4 0.5-2 0.5-10 4.5-12 3-4 4.5-0.5 5 0.5 1 6 1.5 2 2.5 1 4-0.5 18-6.5 8-1 4-3 4.5-6 3.5-12 4-2 12-1 4 1 4 4 4.5 16 1.5 2.5 5.5 3.5-1 4 1.5 1.5 4 1 2-1 0.5-1.5-0.5-2-2.5-2 0.5-2 8-6.5 6-3 10-1.5 10-4 12 0.5 10-3 14 0.5 16-5.5 8 0 4-1 2-2.5-1.5-6 0.5-2 6-8 6.5-4 6.5-2.5 4.5 0.5 2 2 3 6 6.5 2 2.5 2-0.5 2-2 2-6 1.5-0.5 0.5 0.5 4.5 2 1 2-1 12.5-6.5 0-4-3.5-10-0.5-6 1.5-4 2-2 4-1.5 18 2.5 10 4.5 14-0.5 2 1 4 6.5 4 2 12 0 12 2 8-3 8-0.5 2-1 6-6 10-3 4-2 3-3 7-2 2 2-2 2.5-4 0.5-3 1 0 2 0.5 2 2.5 2.5 11.5 5.5 4.5 1 14-4.5 6-4.5 2.5-4-0.5-6 0.5-2 1.5-1 2 0.5 4 3.5 2 0 5.5-3 3.5-4zM667 309l2-1.5 2 1 1.5 2.5-1.5 1.5-2-0.5z"/>
<path fill="#b4c8d0" d="M217 151l4 0 2 0.5 2 3.5 0.5 4-2.5 4-4 3.5-4 1.5-4 0-1.5-3 0.5-6 3-5zM512 161l1-0.5 2 0 20 3.5 12 1.5 4 1 2 2.5 0.5 2-4 6-1 4 1.5 10 1.5 2 9.5 3.5 8.5 4.5 2.5 4 0 8 3 4.5 3.5 1.5 8.5 1.5 6 3.5 8-0.5 2 3.5 3 2 9 0.5 6 1.5 10 5.5 6.5 6.5 7.5 4 2 2 0.5 2-0.5 1-4 2-2-0.5-8-5.5-2-0.5-2 1.5 1.5 6 2 4 6 8 4.5 10 6 10 6 5.5 1.5 2.5 0 4-1 2-6.5 5.5-2 2.5 0 8 2 14 4 4 4 0.5 18-1 12-3 16 5.5 2 2 2 14 4.5 8-2.5 10 1 2 4.5 6 2 4 0.5 12 1 4 3 5 4 3 6 2.5 2 1.5 1 2 2 12-0.5 20-2 8 1.5 2.5 6 4 2.5 3.5 1 4 1 8 4 10-704.5 0 0-158 2.5-8 5.5-6 1.5-4 1.5-4 0.5-8 5-12 2.5-12 9-10 4-1.5 2-1.5 1-11 3.5-8 1.5-5 2-3 2-0.5 3.5 0.5 2.5 6.5 2 1.5 4 1 6-1 16-6 8-0.5 4-3 5-6.5 5-12.5 6-2.5 8-1 4 1.5 3 2.5 1.5 4 2 10 2 4 3.5 4 1 4 1 2 6 2 2-0.5 2-2.5-1-5 0.5-2 6.5-6 6-2.5 10-1.5 10-3 12 0.5 8-3.5 14 1 16-5.5 16 1 6 1.5 6.5-2 0.5-2-6.5-8-1-4 0-2 1-4 1.5-2 4-2.5 4-1.5 2.5 0 2.5 2 3 7.5 4-1.5 2 0 3.5 2-0.5 2-3 1.5-4-0.5-2-2-5 13 0 2 3 2 6-1 9-7 7.5-4 1-2-0.5-2-4-10-1-6 2-5 4-2.5 4 0 12 1.5 4 1 8 5 2 0.5 6-0.5 4 1 8 8 4 2 10-2 14 1.5 10-2.5 6-0.5 10-7 6-1 4 1 18 7.5 6 1 12-3.5 6-4 5-5.5 0.5-4-0.5-4 1-1.5 6 3.5 2 0 8-4 2-1.5zM411 231l-12 3.5-2 0.5-1 2 3 2 6-1.5 8-0.5 4.5-2 0-2-0.5-0.5-2-1zM557.5 169l3.5-0.5 2 0.5 1 2-1.5 2-3.5 1-3-3z"/>
<path fill="#b8cad1" d="M214.5 153l2.5-1 4-0.5 2 1.5 1 2 0.5 4-2.5 4-2.5 2-6.5 2.5-2-1-0.5-5.5 1-4zM514.5 165l2.5-1.5 6 0 12 3 10 1 3.5 1.5 1 2-4 10 0.5 8-0.5 6 2.5 2 11 1 7.5 3 1.5 2 0.5 2-0.5 8 4.5 8 2.5 1.5 12 1.5 10 2 6 6 4 1.5 12 0.5 3 1 5 4 1 2-1 2-0.5 4 2 6 8 14 5 10 7.5 13 4 5-0.5 4-7 6-1 2 3 22 1.5 3.5 2 2 6 2 20 0.5 10-2 12 4.5 2.5 1.5 1.5 4.5 1.5 9.5 3 6-1.5 8 0.5 4 6.5 8 1 2 0.5 12 1 4 3.5 6.5 11 9.5 2.5 6 0.5 8-3 10 1 6-0.5 8 2 4 6 4 2.5 3.5 5.5 20.5-701.5 0 0-154.5 3-3.5 2-6 4.5-6 2.5-6 1-4 0.5-8 4-8 3-14 7.5-10 6-2.5 1.5-1.5 0.5-10.5 6-11 2-2.5 6 6 4 1.5 6-1 18-5.5 8 1 2-1 7-11 5-11.5 2-2.5 6-2.5 6-0.5 4 1.5 3 3.5 3.5 14 3.5 6 2.5 6 3.5 2.5 4 0.5 3-1 2-2 0.5-6 2.5-4 5-4 5-1.5 10-0.5 10-2.5 10 0.5 8-3 12 0 18-5 16 1 6 1.5 8-1 10 1.5 6-1.5 2.5-1.5 6-6 7.5-3.5 2-2.5-0.5-4-5.5-12-0.5-4 2-4 4.5-2 16 1.5 4.5 2.5 5.5 5.5 2 0.5 6-0.5 4 1 8 8.5 4 1 4-0.5 6-1.5 14 1 10-2.5 6-0.5 4-2 4-3 4-2 4 0.5 6 2.5 16 4.5 6 0.5 14-4.5 8.5-8.5 3.5-7.5 6 0.5 11.5-5zM405 231l-8 2-2 1.5-1 2.5 1 2 4 1.5 16-2 3.5-1.5 2-2 0.5-2-1-2-3-1-6-0.5zM559.5 169l2 0 1.5 2-2 2-2-0.5-1-1.5zM297.5 191l3.5-1.5 2 0.5 2.5 3-0.5 6.5-2 4.5-2 2-2-0.5-2-1.5-2-3 0-6zM311 197l2-1 2-0.5 2.5 1.5-1 2-1.5 1-3-1zM637.5 247l3.5 0 3 2-1 2-4-2z"/>
<path fill="#bccdd3" d="M216 153l3-0.5 2.5 0.5 1.5 2 0.5 4-1 2-3.5 3.5-4 1.5-2 0-2-2 0-5 2-3.5zM519.5 167l3.5-1 4 0.5 16 4.5 1 2-3.5 10-1 14 1.5 2 4 2 4 0.5 10-1 2.5 0.5 3 2 1 2-1 6 0.5 2 4 10 2 2 10 0.5 10 1.5 4 2 4.5 4 3.5 2.5 12 1.5 3.5 2 14.5 24.5 5.5 11.5 6.5 10 4 10 0 2-1.5 2-4.5 4.5-1 3.5 3.5 12 1 10 2 4 1.5 2 5 2.5 12 1 16 2.5 6 5.5 2 0.5 6-2 2 1 1.5 3 1 6 2.5 8 0 10 7 10 0.5 10 1.5 6 3.5 6 11.5 14 1.5 4-0.5 6-3 8 2.5 18 2.5 4 6 4 2 3 5 19-699 0 0-152 4-4 7-12 3.5-8 1-4 1-8 3.5-8 3.5-14 6-8 4.5-2 2.5-2 1-4-0.5-6 0.5-2 4.5-5.5 2-1 2 0 6 2.5 4 0 14-4.5 6-0.5 3.5 1 2.5 5.5 2 2 2 1 2-0.5 2-2.5 2.5-13.5 8-18 3.5-3.5 6-2.5 4 0 4.5 2 2.5 4 2 12 6 12 3 2.5 6 1.5 4-1.5 2-1.5 1.5-7 3-4 3.5-2 4-1.5 12 0.5 10-2.5 10-0.5 8-2 12-1.5 14-4.5 38 3 14-1 2.5-2 4-6 7.5-3.5 2.5-2.5 0-4-5.5-10-1.5-6 1-4 3.5-2 12 0 4 1 4.5 3 5.5 6.5 2 1 8-0.5 4 3 4 5 4 2 10 0.5 8-1.5 10 2 5.5-4 10.5-2 8-4.5 2-0.5 8 3.5 22 3 14-3.5 4-2 7.5-10 3.5-6 5-0.5 4-1.5 9-2zM407 229l-13 4-1.5 2-0.5 2 1 2 4 2.5 18-1.5 4-1.5 3.5-3.5 0.5-2-0.5-2-3.5-2-6-1zM312.5 197l3.5 0-1 1.5-2-0.5z"/>
<path fill="#c0cfd4" d="M218.5 153l3.5 2 0.5 2-1 4-4.5 3.5-4 0.5-1.5-4 1-4 2.5-2.5zM523.5 171l3.5-1.5 2 0.5 5 3 1 2 0 2-3.5 6 0 2 5 14 4.5 3.5 6 2 10 1.5 9 17 3 4 4 0.5 8 0 6 1.5 16 10 10 3 5 5 5 4 21 36 1.5 8-5.5 8-0.5 2 1 4 3.5 8 2.5 14 2.5 4.5 2 1.5 4 1.5 26 6 7.5 6.5 6.5 2 2 2 3.5 8 1 10 5.5 10 3 14 9 16 0.5 4-1.5 6 1 2.5 3.5 3.5 0 8 2 10 1 8 3.5 6 6 4 1.5 2 5.5 18-697 0 0-149.5 4-3.5 9-15 5.5-12 1-8 4-8 3-14 3.5-4.5 6.5-3.5 3-4 0.5-4-1-6 1-2 4-1.5 8 2 10-2.5 8-4 4 0 3 2 3 5.5 2 2 4 2 4-0.5 2-1 2-4 1-16 6-16 3-4 6-3 6 0.5 3 2.5 1.5 4 2 12 5 10 4.5 3.5 6 1 4-0.5 2.5-2 3.5-8 1.5-2 2.5-2 4-1 12 1.5 10-3 10.5-1.5 17.5-3.5 12-4 4-0.5 16 0.5 12 2.5 26 0.5 2-1.5 5.5-8 8-4 2.5-4-0.5-4-5.5-8-2.5-6 0.5-4 3.5-2 8.5-0.5 5.5 0.5 2.5 2 8 10.5 4 1.5 6-0.5 2 1 6 7 8 1 8 3.5 8-1.5 8 1.5 3-2 5-5 4-1 8-1 8 1 10-0.5 8-1 10 1 16-3.5 4-3.5 10-15.5 4-0.5 6-2 14 1 2-0.5zM413 227l-6 1-12.5 3-2.5 2-1 2 0 4 2 2.5 4 1 18-1.5 5-2 4-4 0.5-4-1.5-2-4-1.5z"/>
<path fill="#c4d1d6" d="M215.5 155l3.5-0.5 1.5 0.5 1 2-1.5 4-2 2-3 1.5-2-1-1-2.5 1-4zM503 175l4 0 4 1.5 12 6.5 1 2 0 6 1 2 6 4.5 6 5.5 18 9.5 12 15.5 4 1.5 12 0.5 16 9 6.5 6 1.5 2 0 6 6 7.5 2 1.5 10 3 6 5.5 9.5 12.5 2 4 0 6-1.5 4-3.5 4 0 2 2 6 4 8 2 14 1.5 3.5 2.5 2.5 3.5 2 16 5.5 10 2.5 7 6 7 4 1.5 2 3.5 12 4.5 10 2.5 12 3.5 8 6 8 1.5 4-2.5 12 5 10 2.5 12 0.5 8 4 8 7 6 7 16-694.5 0 0-145.5 4-4 10-14.5 7-16 2-8 5-8 2-11.5 2-3 8.5-5.5 15.5-12 14-7.5 2 0 2 1.5 2.5 4 7.5 5 6 1 4-2 2.5-4 1-4-0.5-14 1-6 4.5-12 3.5-4 6-2 4 0.5 2 1.5 1.5 4 1.5 12 5 10 1.5 2 4.5 2.5 8 1 3.5-1.5 2.5-1.5 4-7 4-3 4-0.5 6 2 4 0 10-4 18-3 24-6.5 18 0 12 3 16 0 8 2.5 2-0.5 2-1 6-8.5 11-8 3-4-1-4-6.5-8-2.5-5.5 0.5-2.5 4-2 7.5-1 3.5 1 2 2 2 4 3.5 8 1 5 6 7 8 5 10 0.5 8 6.5 4.5-2 9-8 9-2 7.5-6 4-1.5 4 0 8 1.5 6 0.5 8-1 8-2 8 0 16-2 5.5-5.5 8.5-15zM405 227l-10 2.5-4 2.5-2 3 0 2 2 4 3.5 2 2.5 0.5 18-1.5 6-2 5-5 0.5-4-1.5-2-4-2.5-6-0.5z"/>
<path fill="#c8d3d7" d="M214 157l3-1.5 2 0.5 1 3-1 2-4 2-2-1 0-3zM502 177l4.5 0 3.5 2 6 6 1.5 6 1.5 2 10 6.5 6 5.5 18 10.5 12 14 4 1.5 12 1 6 4 10 4 3.5 3 2.5 7.5 7 10.5 0 8 1 2 2 2 2-0.5 4-3.5 3 0 2.5 2 3 4 5.5 3 5 5 2 4 0 4-1 3-4 5-0.5 2 1.5 4 6.5 12 2.5 16.5 3 3.5 3 2.5 10 3.5 8 4.5 8 2 14 10.5 1.5 3 0.5 6 5.5 10 0.5 8 1 4 7 14 4.5 6 0.5 2-3 8-0.5 4 1 4 4.5 8 0.5 4-1.5 2.5-4.5 1.5-1 2 0.5 2 7 4.5 5 9.5 2.5 10 10.5 5.5 2.5 2.5 2 4-692.5 0 0-106.5 3-7.5 3-4 1-4-1-4-2-2.5-4-2.5 0-8.5 4.5-4.5 5.5-11 6-8 2.5-7 4-8 3-8 7.5-10 1-8 3-4 19-11.5 6-2.5 14-1.5 10 3.5 4 1 4-1.5 4-3 2.5-4.5 1-4 0-8-2-10 0.5-4 4-12 4-3.5 6-1.5 2 0.5 2 2.5 1 4 1 12 2.5 6 3 4 6.5 3.5 8 1 6-2 6-7.5 2-1 4-0.5 6 2.5 4-0.5 11-5.5 19-3 22-6.5 18 0 10 3.5 18 1 6 2.5 4 0 4-2.5 3-7 3-4 16-11 4-0.5 4.5 1.5 2 4 1.5 1.5 6 1.5 8 4.5 6 1 6 5 5 2.5-0.5 2-1.5 4-0.5 4 2 4 2.5 2 5 1.5 18-1.5 4-1 5-3 3.5-4 1-4-1-2-2-2-6.5-2.5-6 0-14 2-3.5-1.5 9.5-11 9.5-3 6.5-5 4-1.5 14 2 32-4 4 0 4 2 2-0.5 9-11 5-12 2-2zM183 255l-1.5 2 1.5 2.5 4 0.5 2-2.5-2-3zM342 185l4 0 3 3.5 0.5 6.5-2.5 2.5-2 0-4-2-3-4.5-0.5-2 1-2z"/>
<path fill="#cdd5d9" d="M217 157l1 2-1 2-2 1-1-3 1-1.5zM499.5 181l3.5-1 3 1 2.5 4 0 6 1.5 2 9 3.5 8 4.5 6 5.5 18 12 12 12.5 4 1.5 8 1 4 1.5-2.5 4-0.5 2 5 1.5 8-3 4 0.5 4 2 2.5 3 1.5 5.5 7 10.5 0 10 2 4 3 2 6-2.5 2 0 5 4.5 5.5 2 3.5 2.5 2 3.5 0 2-1.5 4-3.5 4 0 4 9.5 16 1.5 14 1.5 4 4.5 4.5 28 14.5 9 5 2 2 2 10 5 8-1 10 7.5 14 1 14 5 18 0 2-4.5 6-1 2 2.5 10 1 2 6.5 4 1.5 4 2.5 12 3 1.5 10 1.5 4 2 2 3-690 0 0-100 3-2 3-3.5 4-6.5 2-5.5 0.5-4.5-1-4-5.5-8-0.5-2 6-8 0-8 1-2 6-8 2.5-8 3.5-6 4.5-10 7.5-8 1-2 0.5-6 2-4 14-7.5 10-2.5 8-1 16 2 4 0 6-3.5 8.5-9.5 1.5-2 1-6 4.5-8-0.5-2-1-0.5-8-2-1.5-3.5-0.5-4 1.5-6 2-4 2.5-2.5 3-1.5 3 0 3 2 1 6-1.5 14 0 2 1.5 2 6.5 4 15.5 4.5 2 0.5 4-1.5 8-7.5 2-0.5 8 1.5 4 0 12-6.5 10-2 10-1 20-6.5 16-1 12 4 16 2.5 8 2 5.5-0.5 3-2 1.5-2.5 1.5-5.5 2.5-4 12-9 6-2.5 2 0.5 2.5 1 1 2 0 4 0.5 1 8 0 5.5 3 4.5 4 3.5 6 6.5 3 3 7 5 5 6 1.5 18-1.5 6-1.5 4-2.5 4.5-5 1.5-4-1-2-2-2-9-5-10 1-4-1.5 0-2.5 2-2.5 4-1.5 6 0.5 2-1.5 4-4.5 2-0.5 12 0 26-1.5 8-2 6 2.5 4 0 4-3 4.5-6 6.5-4 1.5-2-1-8zM185 252l-4 3-1 2 0 2 3 2 4 0 3-2 0.5-2-1.5-3.5-2-1.5z"/>
<path fill="#d1d7db" d="M496.5 199l6.5-1.5 10 0.5 6 1.5 6 3 8 8 14 8.5 6 6.5 8 7 10 3 1.5 1.5-2.5 4 0 2 1 1 4 1 4 0 12-3.5 4.5 1.5 2 2 2.5 6 6 10 0 10 1 4 1.5 2 2.5 2 2 0.5 6-1 2 0.5 4 3.5 5.5 2.5 1.5 2 0 2-5 6-0.5 2 1.5 4 7 7.5 5.5 8.5 2 16 2 4 4.5 3.5 9 4.5 13 9.5 10.5 4.5 3.5 3 1.5 3 0.5 8 2.5 6 1 12 1.5 4 4.5 8 1.5 16 5 14-0.5 4-3.5 6 0 4 1 14 1 3 4 3-0.5 2-5.5 0.5-2 0.5-2 3 0 2 3.5 10-653.5 0 0-96 4-2.5 3.5-3.5 6.5-11 2-9-1-14 7.5-12-0.5-3.5-1.5-4.5 2-10 9.5-18 7.5-8 1-2 1-8 2.5-3 10-4.5 4-1 22-2 10 1 4-1 6-3.5 10-10.5 6-9.5 4-1.5 12 1.5 3.5 2-2 6 0 2 2 2 2.5 1 4 0 4.5-3 0.5-2 0-4 1-2 8-6 12-0.5 10-5 10-3 14-1 8-2.5 8-4 4-1.5 14-1 10 4 10 2 12 3.5 6 1 6-1 2-2.5 2-8.5 2-4.5 12-9 6-2 2 0.5 1 1-1 4-4 3.5-9 4.5-1 2.5 2 1 2-0.5 18-7 4 0 3.5 2 1 2 2 8 2.5 4 3 2.5 8 2.5 8 5 6 1.5 8-1 14-0.5 4-2 4-2.5 5.5-7.5 0-4-1-2-8-6 0-2 1-2 2.5-2.5 4-1.5 14-2 18 1 8-2.5 10 1 4-1.5 6-6.5zM154.5 217l2.5-1 2 0 1.5 1 1 2 0.5 4-1 4-2 3.5-2 1-4 1-2.5-1.5-1-6 1.5-4.5zM722 483l5 0 3.5 2-11 0z"/>
<path fill="#d5dadc" d="M508.5 201l6.5 0 8 3.5 2.5 2.5 2.5 8 11 2.5 4 2 4 3.5 1.5 2 0.5 2-2 4 2 2 6-2 6 4 5 2 1 2-1 4 1 2 2 1 4 1 4 0 6-1 8-2.5 4 1 2 2.5 1 4 5.5 10 1 12 1.5 4 5 5 6 2 1 1-1.5 6 1.5 4 9 9.5 8 5.5 3 5 2 4 1 10 2 8 15.5 10 12.5 10.5 8 3.5 2.5 2 1.5 4-1 8 3.5 12 0.5 16 1 3 4 4 1.5 3 0 4-2.5 8 2 4 5 4 0.5 2-3.5 10 0 8-5 18 0 4 2 10-646 0 0-92.5 4-2 4-3.5 8.5-14 2-6 0.5-10 2-8 5-9.5 1.5-4.5-0.5-14 8-18 7-8 2-10 2-2.5 8-3 14 0 8-3.5 4-0.5 10 0.5 6-1 4-2 2-2 4-6 7.5-6 4.5-6 4-2 8 0.5 2 1.5 0 4 0 2 2 2 4 2 4 0 4-2 1.5-2 2.5-5 6-4.5 14-3.5 20-7 10-0.5 8-1.5 4-1.5 8-5 6-1.5 10-0.5 10 4 10 2.5 8 4 8 1.5 8 0 2-1.5 2-10 2-6.5 12-9.5 4-2 2 0.5 0.5 1.5-1 2-3.5 3-8 3-2 2 2 6.5 2 1 10-4.5 12-3.5 2 1.5 2.5 7 3.5 6 4 4 12 2.5 10 4 10-1 16 0.5 4-2.5 4-4 4-5.5 1.5-4 0-4-6-6 0.5-2 3-2 13-3.5 18 1.5 10-3 10 0 4-1.5 8.5-7.5 3.5-1zM154 219l3-1.5 2 0.5 1.5 3-1.5 5.5-2 1.5-2 0.5-2-0.5-1.5-3 1-4z"/>
<path fill="#d8dcde" d="M507.5 205l7.5 0 4 2 2 10 1 2 3 2.5 4 1.5 8-1 6 1.5 2 1.5 0.5 2 0 4 0.5 2 3 2 6-1 6 4 2 2 1 5 2 2 9 2 16-3 3 1 1.5 2 0 8 5.5 6 1.5 4 2 10 6.5 8 4 11.5 7 4.5 3 5 8 4 4 5 1.5 4 3 18 2 2 13 8 6.5 6 6 6.5 7.5 5.5 0.5 2-0.5 8 4.5 16 1.5 14 4 10-3.5 8 0.5 2 4 6 1 4-3.5 6.5-2 7.5 1 24 2 12-641 0 0-62.5 2-1.5 1.5-4-1.5-3.5-2-2 0-14.5 5-2 3-2.5 11.5-17.5 2-6 1.5-12 9-22 1-14 2-8 4-10 5.5-6 2.5-10 1.5-2 5.5-1.5 12 1 14-6.5 12 1 8-2 4-2.5 4-8 4-2.5 8-2.5 0.5-4.5 1.5-1.5 2-1 4 0.5 3.5 6 2.5 1.5 4 1.5 4 0 4-2 6-6 8-5 30-9.5 12-0.5 9-2 14.5-8 6.5-1 4 0 8 4 10 3 12 7.5 14 2 2-0.5 2.5-3-0.5-12 2-5.5 2-1.5 2.5 5 1.5 7.5 2 0 10-7 8-1.5 4 2 7 11 5 3 12 2 8 2.5 12-1 8 1 8 2 2 0 4-4.5 8.5-13 2-6-2-6 3-2 10.5-2 14 1 10-3.5 14-1 10-7.5zM154.5 221l2.5-1 1 1 0 2-1 2-2 0-1-2z"/>
<path fill="#dcdfe0" d="M495.5 211l5.5-1.5 6 0.5 4 1 3.5 4 2 6 2.5 2 10 5.5 12-1 2 1.5 1.5 4 2.5 3 6 0.5 5 2.5 2 2 1 4 2 2.5 8 2.5 12 0.5 2.5 0.5 3 8 1.5 2 9 5 1 1 3 10 6.5 10 3 10 8 4 1.5 2 1.5 4 1.5 2 8 3 2 2.5 2 4.5 0.5 6 3.5 13 12 8 6 5 3.5 4 7.5 10 8 32 1.5 12-0.5 3.5-2 4.5-0.5 8 2.5 11.5 0.5 6.5-2 18-3 10-0.5 8-1.5 6-624 0-0.5-4-3-2.5 0-49.5 4-1.5 2-2 2.5-4.5 1-4-2-4-7-8 0.5-2 3-1 6 0 2-0.5 2-8 4-8.5 6.5-10 2-16 7.5-16 2.5-8 1-6 0-10 2.5-10 2-4 6-6 1-2 1-6.5 2-2 14-0.5 16-7 10 1 8-1.5 6.5-3.5 1.5-2 2-5.5 2-1.5 10 0.5 2.5-1.5 3.5-3.5 2-0.5 8 2 6-0.5 14-9.5 8.5-4 23.5-7 18-1.5 5.5-1.5 6.5-2.5 7-5.5 5-1.5 4 0.5 8 4.5 6.5 2.5 13.5 10 4 2 12 1.5 2-0.5 2-1.5 6-6.5 8-4.5 6-6 2-1 4-1 4 1.5 8 12 4 2 14 1.5 8 1.5 12.5-1 17.5 4 2.5-2 3.5-4 12-21 4-4 6-2 14 0 12-4 12 0 2-1zM332.5 227l0.5 0 1 2 1.5 4-0.5 4-2 4-2-2-1-4 0.5-6 0.5-1z"/>
<path fill="#e0e1e2" d="M498.5 215l4.5 0 4 1.5 1 2.5 0 4 1 2 2 2.5 8 1 8 3.5 12-0.5 2 0.5 4 4.5 8 2.5 2 2 4 6 2 1.5 16.5 4.5 2 2 1 6 2.5 3.5 14 5 2 2 3 7.5 5 9 3 11 9 2.5 2 1.5 0.5 2-0.5 4 1.5 2 8.5 2.5 2 1.5 2.5 4 5 20 12 8 6 6 5 6 4 10 3 20 4 12-1 4-4.5 3.5-2 4.5 0 2 4.5 8 1.5 12 2 10-1 14-8 16-1 10-600.5 0-1.5-4-2-0.5-6-1-5.5-4.5-4.5-1.5 0-38.5 6 0 4 2 1 8 1 2 6 7 4 1.5 1-0.5 0.5-2 1.5-14 1-2 8-0.5 2-1.5 0.5-2-1-4-1.5-1.5-2-1-4 2-7.5 6.5-5.5 0-2-2 0-6 6.5-26 1.5-2 5.5-4 0.5-2-1.5-8 3.5-8 2.5-18 6.5-15.5 4-12.5 2-21 2-3 7-6 3-6 24-8 4-0.5 8 0 4-1 13-6.5 7-5 8-2.5 8-5.5 8 0.5 4-1 12-5 11-7.5 21-6.5 22-1.5 12-3 4-2 4-4.5 2-1 4 0.5 6 4 6 2.5 18 13 8 2.5 6 0.5 4-1.5 8-7.5 8-3 5.5-8.5 2.5-1.5 2 0 4 2.5 4 9 4 3 26 1.5 10-1 20 3.5 2-1 4-4 8-14 6-7.5 4-3 6-2 12 0.5 10-4 4-1 4 0 8 2 2 0zM71 457l-0.5 0 0.5 2.5 2 1 1.5-1.5-1.5-2zM331 231l2-1.5 1 3.5-1 4-2-1.5z"/>
<path fill="#e4e3e4" d="M477 221l4-0.5 4 0.5 8 4 8 1.5 10 5 8 1.5 8 4 12 0 5 4 7 3 4.5 5 13.5 4 3.5 2 3 10 3.5 4.5 4 2 12 2.5 2 1.5 7.5 13.5 2.5 12.5 2 1.5 6-2 2 0.5 3 1.5 0.5 2-0.5 2-3 3.5-2.5 0.5 17 6 1.5 2 2 6 3 6 1.5 8 11.5 8 8.5 10 4 8 2.5 12 0 4-2.5 10 2 10-3 12 5 14 1 12 2.5 14-0.5 4-1.5 4-7.5 6-2 4-1 6 0.5 8-589.5 0 1.5-5 2-2 6 0 4.5-3 0.5-2-1-1-4 1-3-2-0.5-2 0.5-2 3-4 3-12 8.5-10 0-2-4.5-6-1-6-2-2.5-7-5.5-2-6-4-6 1-3 6-4.5 3-4.5 0.5-4-2-14 2-16 3.5-8 10-30 4-8 3.5-6 7-6 7-8 5.5-2 16-0.5 4-1.5 8-6 18-8 11.5-8 8.5-1 16-5 3.5-2 4-4 4.5-2.5 22-6.5 18-0.5 32-4 5 1.5 13.5 10 7.5 4.5 4 1.5 6 0.5 8-1.5 2-5 2-1.5 4 0 2.5 3.5 0 4 1 2 4.5 1.5 6-1.5 12-7 6-2 20-0.5 10-1.5 22 3.5 2-1 4-3.5 3-4 5-10 4-5 6-4.5 6-2 8 0.5 6-0.5zM46.5 459l6.5 0 4 3 6 1.5 6.5 7.5 0.5 2-1 1-2 0-6-4.5-2-0.5-6 0.5-8-1.5 0-8.5z"/>
<path fill="#e7e5e6" d="M477.5 225l3.5-1 4 0.5 12 9 8 0.5 12 3.5 21 15.5 9-1 8 2.5 8-0.5 4 1.5 2 2 3 9.5 3 4.5 4 3.5 14 5.5 6 8 2 4 0.5 6.5 3.5 12 2 3.5 4 1.5 12 1.5 6 2 2 1.5 6 10 2 9.5 10.5 6.5 6.5 8 4 8 3 12-0.5 6-5.5 8-1 4 3 7 0.5 3-2.5 12 3.5 8-0.5 8 1.5 12 3.5 6.5 0.5 3.5-0.5 2.5-6 3.5-2 2-4 6-1 18-568 0 0-4 4-6 3.5-8-0.5-3-2-2.5-2 0-2-1 0-3 2-1.5 2 3.5 2 1.5 7-6-2.5-8 0.5-6-0.5-2-6-8-0.5-6-2-5.5-4.5-2.5-1.5-2-0.5-4 0.5-4 8-10.5 1-3.5-1-4-5.5-8-0.5-5 3.5-7 0.5-6.5 4-5.5 1.5-16 5.5-16 7-12.5 14-14 4-1 10 0 10-1 2-1.5 4-6 4-2.5 12-3.5 16-10 26-8 3.5-2 3-4 3.5-2.5 18-5.5 30-1 8 0.5 16-2 24 15 6 1.5 14-0.5 10 5.5 6 2.5 4-1.5 18-12 4-1.5 26-4.5 20 3 4-0.5 6.5-6.5 5-10 2.5-3 8-6 6-1.5 8 0.5 8-0.5zM231 407l0 4 2 1 1-1-1-3zM241 408.5l-2.5 2.5 1 2 9.5 7 2-1 0.5-4-2.5-4.5-4-2zM271 372.5l-6 4.5-2 6-7.5 4-1 2 0 4-1.5 1.5-4 1-2 1.5 1 2 2 2 3 1 3.5-1 0.5-2-0.5-2 0.5-1 2.5-1 3.5 0.5 4 3.5 4-2.5 8 2 1.5-1.5-0.5-6 3-6-0.5-2-7.5-10-2-1.5zM285 418l-2 1 1 2 1 0.5 1.5-2.5zM347 278.5l-4 2.5 0 2 5.5 0 3.5-2-1-2zM269 427l-0.5 2 2.5 1 0-1.5zM279 423l-2 2-0.5 2 2.5 2.5 2-2.5-1-4zM334 255l3-1 2 1 1 2-1 3-2 1-2 0-1.5-2 0-2zM611.5 303l3.5-1 2 0.5 1.5 0.5 1 2-2.5 3-4 0-2-3z"/>
<path fill="#e8e6e7" d="M480 227l3-0.5 2 1 4.5 3.5 5.5 6.5 2 1.5 2 0 6-1 12 3 20 15.5 2 0.5 8-2 8 2 8-0.5 2 0.5 2 2.5 4 9.5 4 5.5 4 3 8 3.5 2 2 6 10 1.5 6 4.5 8 0.5 6 1.5 3 2 1.5 4 1.5 12-0.5 8 2.5 6 7 2 3 1 8 1 2 10 6.5 4.5 5.5 5.5 11 2 7 0.5 6-1 4-6.5 8-1.5 4 0.5 3 3.5 7-0.5 4-3 5-6 3-0.5 2 0.5 4 4 6 1.5 4 0.5 6-1.5 8 2.5 8 0.5 4-4.5 8-1.5 10-1 2-6.5 4-1 4-15 0-2-8-2-1-6 5-1.5 4-526.5 0-0.5-4 0.5-2 5.5-4 3-4 7-2 2-2 0.5-2-10-2-0.5-2 1.5-2 3-1 2 0.5 2.5 2.5 1.5 4 12-2 1.5-2-0.5-2-1-1.5-8 0.5-4-3-4-1.5-2-3.5-2-11-5.5-8-0.5-12-5-8 0.5-4 3-6 3.5-4 1-4-1.5-4-5.5-6.5-1.5-3.5 1-4 4.5-4.5 2-3.5 2.5-8 0.5-4-1-14 4-14 8-14 12.5-12 3.5-1 24-0.5 1.5-2.5 1.5-6 3-2.5 10-2.5 16-10 14-6 17.5-5 8.5-7.5 18-5.5 26 1 10 2 12-4 4 0.5 24 14 6 1 10-1 6 1.5 12 8-0.5 2-5 4 0 2 1.5 1 4 0 3.5-1 3-2-0.5-2-1.5-2 0-2 7.5-5.5 8-4 6-5.5 28-6.5 20 3 4-0.5 7.5-7 6.5-12 6-5 6-2 10 0.5 12-1zM617 347l-1 2 0 2 1 1 2-0.5 0.5-2.5-0.5-1.5zM247 378.5l-1 0.5 1 3 2 0.5 2-1 0-2.5-2-1zM263 363.5l-1.5 1.5 0.5 2 3.5 4-4.5 10-7 4-3 6-2 1-2-0.5-2-6-2 0-2 1.5-2 2.5-2 5.5-1 8-1 1-4 0.5-1.5 0.5-1 2-1 4 1 2 2.5 1.5 6 1 2 1.5 1 4 3 2.5 6 0.5 2-1 2-3 0.5-3-1-4-3.5-5-6.5-3-0.5-2 1.5-2 1.5 0 6 3 4 0 2 1 2 4 2-0.5 10-9.5 2-0.5 5.5 2.5 10.5 8.5 2 0 2.5-2.5 0.5-2-9-6-2-2.5-1-5.5 2.5-6 0-2-2.5-4-2.5-8-4.5-5-6 0.5-4-3zM437 377l-2 2 7 0-1.5-2zM285 415l-4 2-6 7.5-2 1-4-1-2 0.5-1.5 4 0.5 2 5 3 4-1.5 6-1 2-1.5 2.5-5 5-6 0-2-1.5-1.5zM335 255l2-0.5 2.5 2.5-0.5 2-2 1.5-2-0.5-1-1-0.5-2zM613 303l4 0 1.5 2-1 2-2.5 0.5-2-0.5-1-2z"/>
<path fill="#eae8e8" d="M450 231l33 1 4 2.5 8 7.5 10 3 10 0 2 1 10 5.5 8 7 4 1 8-1.5 4 1 6 3 6 1 2 1 12 16 8 5.5 3 5.5 2 8 6 8 1 8 2 3 4 3 4 1.5 4 0 8-1.5 8 1 4 2.5 4 4.5 2 4 0.5 6 0.5 2 12 8 3.5 6 3.5 8 3 12-1 5-6.5 7-3 6 0.5 4 3 6-0.5 4-3.5 2-8-0.5-1.5 0.5 1 10-5 14 1 2 2.5 1 2-1 2-4.5 2-1 2 1 1 2.5-2.5 6 0 2 5 14-0.5 4-3 6-1 6-3 3.5-4 0.5-6-2.5-4 0.5-12-2-2 2-5 12-516.5 0 4-4 0.5-2-0.5-4 1.5-2 4-1 6-1 2-4 4-1.5 4 0 1-2.5 0-4-1-2.5-2-1.5-2 0-4 0.5-2-0.5-6.5-4-2.5-4-2-10-5-7 0-3 1-8-2.5-6-0.5-6 1-4 4.5-6 0-4-1-4-6.5-8-0.5-2 0.5-2 6.5-8 2.5-8 0.5-6-1-14 3.5-14 8-13 12-10.5 4-1 6 0 6-1 8 1.5 4-0.5 2.5-3.5 1.5-6.5 1.5-1.5 8.5-2 12-8.5 18-9 16-4.5 4-2 8-6 16-5.5 24 2 12 3.5 2-0.5 8-4.5 6 0 12 5.5 7.5 5.5 4.5 2 6 0.5 10-0.5 6 1.5 8.5 6.5 0 2-3 4 0 2 2.5 1.5 4 0 5.5-1.5 2.5-2-1-4 0.5-2 2.5-2 10-5.5 6-5.5 4-2 24-5.5 20 2.5 4-0.5 6.5-5.5 8-14 5.5-4zM467 421l0 2.5 2 0.5 0.5-3zM537 446.5l-1.5 2.5 0.5 2 3 1.5 2-1.5 0.5-2-2.5-3zM543 423l-2.5 12 2.5 1 2-1-1-6 2.5-4 0-2-1.5-0.5zM617 343l-2 3-5 13 0.5 2 2 2 6.5 2 2.5-2-1-6 2-8-1.5-4-2-2zM275 361l-4 2.5-2 0-4-1.5-4 0.5-1 2.5 2 6-3 5-2 0.5-2-1.5-4 0-6 1-2 1-8.5 18-0.5 6-5 2.5-4 7.5 0.5 2 1.5 2.5 6 1.5 2 1.5 0.5 4.5 2.5 4 7 2.5 4 4.5 3.5-1-1.5-6 3.5-4 0.5-2-0.5-8-3-6 1.5-1 2 1 1 2 2 2 3 0.5 4-2.5 6-7 2-1 2 0.5 1.5 1.5 2 4 5 2 1.5 2-4 3-3.5 5-4.5 4.5-6 0-2 1.5-2 4-4 4 2 1 4 0 6 2.5 10-3 4-2.5 4-6.5 4-2 2-3.5 0.5-2-2.5-4 1.5-4 3.5-4 0.5-2-7.5-2-6-5-1-5 2.5-8-3.5-6-1.5-8-3.5-6zM305 419.5l-0.5 1.5 2.5 5 2 2 2-0.5 1-4.5-0.5-2-4.5-1.5zM411 407.5l-1 1.5-1 6 0 2.5 2 2.5 2-0.5 3-2.5 1.5-4-2.5-3.5zM435 377l-1.5 0-0.5 2 4 1.5 11.5-1.5-1.5-2-8-0.5zM335.5 255l1.5 0 2 2-2 3-2-0.5-1-2.5zM614.5 303l2.5 1 0.5 1-0.5 1-2 1-2-1.5zM631.5 481l1.5-0.5 2 1.5 0.5 3-4 0z"/>
<path fill="#ece9e9" d="M446.5 233l4.5-0.5 6 0.5 10 0 4 1 14 4.5 12 7.5 14 2.5 12 4 12 8.5 4 0.5 8-1 2 0.5 8 6 8 3 5 5 3.5 6 0 4-1 4 1 2 1.5 1 6-1.5 2 2-0.5 10.5 1.5 8 4 6 1 3 2 1.5 6 1 10 4.5 4 0 9.5-4 6.5 0.5 4 2 3.5 3.5 2 4 1 8 11.5 8 2.5 4 2.5 6 3.5 16-1 4-5.5 5.5-3.5 6.5-0.5 4 1 8-1 1.5-8-0.5-2.5 1-1 4 1.5 8-6.5 14 0.5 4 1 2 3 3 6 3 6.5 10-0.5 6-5 10-1 1-2-1-1-2-0.5-6-2.5-2.5-2-1-2 0.5-1 1-2 8-3 2-6-1.5-6-3.5-6-2.5-2 1.5 2 4 3.5 4 0.5 4-0.5 4-2.5 6-511 0 3-4 1.5-6 9.5-2.5 4-4 4 1.5 2 0 2-3-1-8-1.5-4-1.5-1.5-4-1.5-4 1.5-2-0.5-5.5-4-1.5-4 0-8-1-2-5-4-1.5-2 0-2 2-8-2.5-6 0-6 1.5-4 3.5-4 0.5-4-1-6-6-8-0.5-2 0.5-2 6-8 2.5-8-1-20 3-12 6.5-12 3.5-3.5 8-5.5 4-2 12-2 8 2 4-0.5 2.5-2.5 5.5-7.5 6-3.5 12-9.5 6-2.5 12-7.5 19-5.5 11-5.5 14-6.5 20 2 12 4 4 0.5 4-1 6-4.5 6 0 10 4.5 8 5.5 4 2 6 1 12-1 6 2 6.5 5 0.5 2-3 4 0 2 3 2 3 0.5 9-2.5 2.5-2-1-4 1.5-2 4-3 6.5-3 6.5-6 4-2 23-6 20 2.5 4-0.5 7-6 7-12 4-4zM467 418.5l-2 1-1.5 1.5 0.5 6-3.5 4 0.5 1.5 4-0.5 7.5-7 0-4-1-2-2.5-1zM503 417l-1.5 0 0.5 2 3.5 0zM523 436l-1 1-0.5 2 1.5 2 2 0 1-2-0.5-2-0.5-0.5zM543 419l-3 2-3 4 1.5 6-4 8 1.5 4-2.5 8 1.5 2 2 1.5 4-1 2-2.5 0.5-2-1-2-2.5-4 0.5-2 7-4 1-2-0.5-6 4.5-4-1-2-6.5-3.5zM619 339l-2 0-4.5 10-6 8-1.5 4 0.5 2 3.5 2.5 8 3 8 1 2-3 0-4.5-3-5 0-8-1-5-2-4zM111 431l-4.5 4 2.5 4.5 1.5 3.5 2.5 2 2 0 1.5-2-1.5-9.5-2-2.5zM161 425.5l-2 1.5 0.5 2 3.5 2.5 2 0.5 2.5-1 0-2-2.5-2.5-2-1zM181 388.5l-0.5 2.5 0.5 6 2 3 2 0 2-3 0-4-2-5-2-0.5zM211 386.5l-1.5 0.5-0.5 1.5 1 2.5 3 2 2-1 1-3-1-1.5zM269 337l0 1 2 1 2.5-2-2.5-0.5zM305 370l-1.5 1-0.5 4 0 2 2 1.5 1.5-5.5zM325 310.5l-1 0.5-0.5 2 1.5 1 2-1 0-2zM375 424.5l-4 4.5 4 0.5 1.5-0.5 2-2 0-2-1.5-1zM389 408.5l-2 2-4 10.5 2 2.5 8 1.5 4-2 1-2-7-11.5zM409 402l-2 3-0.5 12 2.5 4 2 1 2 0 7.5-5 0.5-2-2-6.5-8-6.5zM433 376.5l-1.5 0.5 0 2 5.5 2 12 0 2.5-2-0.5-2-2-0.5-10-0.5zM271 357l-2 2.5-6 0-3.5 1.5-1 2-0.5 6-1 2.5-4 0-4 1.5-6 1.5-1 0.5-5 8-2 8-3.5 4 1 4-1.5 2-4.5 2-1.5 4.5-3.5 3.5 2.5 6 5 2.5 4 5.5 0.5 2-1.5 4 3 3 2 0.5 4-3.5 6 5 2 0.5 8-1 6 4.5 4 1.5 3.5-2.5 8.5-1.5 4-3 4-1.5 1.5-2 1.5-4 5-2.5 4-3.5 2 0.5 6 8 2 1.5 2 0 3.5-4 1.5-6-1-3-10-3-4 1-4.5-3-0.5-2 1-2 2-2 5-2-0.5-2-2.5-2-8-1-4.5-3-2-2-1-4 2.5-8-0.5-2-2.5-4-1.5-8-6-10-2.5-1zM337 255l1.5 2-1.5 2.5-2-0.5-0.5-2zM274 409l1 0 2 1 1 1 0.5 2-3 6-2.5 2.5-8 1-4 4.5-2 0-2-8 1.5-4 4.5-1.5 6 0 2-1z"/>
<path fill="#eeeaea" d="M444.5 235l4.5-1.5 8 1.5 8-0.5 3.5 0.5 16.5 7 10 5.5 14 3 14 4.5 10 8 4 1 10 0.5 3.5 2.5 6.5 8 9 2 1 2 0 2-3 6 0 4 1 2.5 6.5 5.5 3 4 0.5 4-0.5 6 0.5 1 6-0.5 2 1 3 2.5 1 2-0.5 6 0.5 1.5 8 1 3 1.5 1 2-1 2-4.5 4-6.5 4.5-0.5 5.5 0.5 2.5 2 1.5 2 0.5 4-1.5 2-1 1.5-2 1.5-14 1-0.5 6-2 6 1 2 1.5-0.5 8-3 8-2.5 3-5.5 3-6.5 6-1.5 2 0 2 4.5 8 1 4.5 0.5-4.5 1.5-2 4-1.5 14 3.5 3 2 0 2-13 4.5-4 0-4-1.5-0.5 3 1.5 6 7 7.5 2 0 4-2.5 2 0 10 1.5 4 2 0.5 1.5-1 8 1 10-2.5 3.5-6 1-0.5 1.5 3 14 1.5 3.5 4 4.5-1 2-3 2-3.5 4-1 4 0.5 6-2 2-2 0-2-1-6-6-4-2.5-4 0-5 3.5-1 4 1 2 7 7 1.5 3 0 4-3.5 6-11.5 0-0.5-0.5-2-0.5-2 1-140 0 0.5-4 1.5-2-2-2-1 0 1 4-0.5 4-142.5 0-2.5-2-2.5-0.5-3 0.5-1 2-171 0-1-1-1.5 1-24 0 3.5-4 1-4 1-1 10-3.5 6 0 3-1.5 1-4 0-6.5 2-1.5-1.5-6 1.5-8-2-2-4 0-2-1-1.5-3-1-6-1.5-2.5-2-1.5-4-1-5.5 3-2.5 0.5-4-1.5-1-3 1-4 3-4-4-6 0-4 1-3.5 4-4.5 0.5-2 0.5-6-1-5-4-5.5-1.5-3.5 1-2 4.5-6 2.5-8 0.5-4-1-10 3-20 5-10.5 3-3.5 9-4.5 13-3.5 3 0 8 1.5 4-1.5 6.5-8 7.5-5.5 8-8 10-4.5 10-7.5 6-2 20-5 18-9.5 10 2 10 0.5 14 4 6-1.5 8-4.5 4 0 8.5 3.5 8.5 6 5 2 6 1 12-1 4 1.5 6.5 4.5 0.5 2-2 4 0 2 2.5 2 4.5 1 10.5-3 2-2-0.5-4 2-2 10-5 7.5-7 8.5-3 16-4.5 20 2.5 4-0.5 7.5-6.5 6.5-11zM467 397l-4 2 1.5 4-2.5 6 1 2.5 4 3.5-4 1.5-1.5 2.5 0.5 6-5 6 0 2 2 2.5 8-2 4-4 2-1 6 0.5 3-2-6.5-8-1-10-1.5-2.5-3.5-3.5 0-2 1.5-4zM489 411l-1 2 0.5 2 2.5 4.5 2 1.5 4-1 4 2 10 1.5 3-0.5 0.5-2-1.5-2-4-2-4-3-6-2.5-6-1.5-2 0zM491 377l-1 2 0.5 8 0.5 2.5 2 1.5 2 0.5 3.5-8.5-3.5-6.5-2-1zM519 432.5l-1.5 2.5 1 6-0.5 2-3.5 2 0 2 2.5 1 2.5-1 1.5-2 6-1.5 3-2.5-0.5-2-3.5-6zM523 410.5l-3 2.5 0.5 2 2.5 2 2.5 4 5.5 2 4 4.5 1.5 3.5-0.5 2-4 6-0.5 2 1.5 2 0.5 2-2.5 6 0.5 2 2 2 3.5 1.5 5-1.5 3-2 1-2 0-2-3-6 6.5-6 1.5-4 3-4 3-7.5 4-2 0.5-2.5-0.5-1-2-1-2 2-1 4-1 0.5-4-1-4-2.5-4-0.5-6 3-2 0-4-2.5-4-1.5-1-1.5 0-4-1-1.5zM541 397l-0.5 2 0.5 5 2 3 4-0.5 4 1.5 2.5-1 0-2-1.5-2-1-0.5-4 0-2-1.5-2-3.5zM125 475l-0.5 2 0.5 2 2 1 1.5-3 0-2-1.5-1zM159 420.5l-2 6.5 0 3 1.5 1 6.5 3 4.5-1 2-2-1-2-4-4-1.5-4.5-2-1zM177 442.5l0.5 2.5 1.5 1.5 2 0 1.5-1.5-1.5-2-2-1zM181 385l-2.5 2-0.5 6 2 8 1.5 2 3.5 1.5 2-1.5 3.5-8 0-2-1.5-1.5-2-6.5-2-0.5zM217 370.5l-2.5 2.5 0 2 4 4 0.5 2-0.5 2-1.5 1.5-2 0-4-1.5-1.5-2 2.5-6-3-1.5-2 0-6.5 5.5 0.5 4 3 8-1.5 6 0.5 4.5 4-4 6-1.5 4-1.5 6.5-7.5-0.5-6-2-6 0-4-2-1zM265 355l-4 2-6-0.5-2.5 0.5-0.5 2 4 4 0 2-1 2-7.5 4-5 0-1.5 1-2 4-2 1.5-2 0.5-1 1 0.5 4-1.5 6-6 4 1.5 6-6 4 0 2-1.5 1.5-5 2.5-1.5 2-1.5 6.5-6-2.5-3 2-0.5 2 0 2 1.5 2 4 0.5 4-1 1.5 2.5 2 2 2.5 0.5 2-1.5 2-4 2-0.5 2 1 1.5 2.5 0 6 10.5 10.5 3 1.5 5 8 2 1 2-0.5 2.5-2.5 1-2 0-2-1.5-1.5-2-1-4 0.5-2-1 0-1.5 2-0.5 2 0.5 6-2.5 2 0.5 4 3.5 6 3.5 2 0 4-4 2-1 4 0 6-4.5 8 2.5 1.5-1.5-2-4 0.5-3 6-5.5 2 0 2 2 4 6 2 1 2.5-0.5 5-4 2.5-8-0.5-4-1.5-2-4-2-1.5-2-2.5-8-2-2-4-2-10-1.5-4-2.5-1.5-4 2.5-8 0-2-3-4-1.5-8-6.5-11-10-4.5zM269 335l-3 2 1 2.5 4 1 5-1.5 0.5-2-3-2zM299 364.5l-0.5 6.5 1.5 4 0 4-3 4-0.5 2 2.5 1 6-2.5 2-2.5 1.5-4 0.5-6-0.5-2-1.5-1.5-6-3.5zM323 308l-3.5 3-0.5 2 1 2 3 2.5 2 1 2 0 2-2 2-5.5-2-3-2-0.5zM335 441l-6 2.5-0.5 5.5 0.5 2.5 6 1.5 2 0 4-2.5 6 2.5 2 0 1.5-2 0.5-2-0.5-2-3.5-4-8-2.5zM355 466.5l-1 4.5 1 0.5 2-1 3-3.5-3-1.5zM405 397l-6 4 4 3.5 1 2.5 0.5 6-1.5 4-2-0.5-1-1.5-3.5-6 0-2 2.5-4 0-2-6-1-4 0.5-3.5 2.5-2.5 10-4 6-2 1-4-0.5-2 1-2 3.5-3 3-0.5 2 2 2 9.5 3 8-0.5 2.5-4.5 11-4 2.5-2 2-3 2 0.5 4 5 2 0.5 8-3.5 2 3 9.5-0.5 1.5-2 0-2-9-7.5-1.5-6.5-5.5-4-3-4.5-2-1.5-2-0.5zM439 375l-8 1.5-1 0.5 0 2 5 2.5 12 0.5 5-1 1.5-2-1-2-3.5-1.5zM467 459l-3 4-7 3-2 1-1 2 5 4 2 0 4-8 3.5-2 1.5-2-1-1.5zM557 431.5l-1.5 1.5 1.5 2.5 2 1 2-1.5-0.5-2zM311 471l-1 2 0 4 1 1.5 2-0.5 2-3 0-2-2-3zM321 358l-4 5 0.5 2 3.5 2 2.5 0 1-2-0.5-4-1-2.5zM347 469l-1 2 1 1 3.5-1zM439 420l-2 1 4 1 1.5-1-1.5-1zM335 257l2-1 1 1-1 2zM621 327l6-1.5 4 1 2 1.5 3 5 0 8 2 2 9.5 6 2 2 2.5 6 2 18-6.5 8-4 8-0.5 6-2 2.5-3.5-2.5-2.5-6 1.5-8-0.5-4-1.5-2-4.5-2-2-4 0-4 1.5-6-0.5-2-2-4-2-16-5.5-10zM275 413l0.5 2-0.5 2-2 2.5-10 0.5-1.5-1 1.5-2 6-1zM636.5 449l2.5-0.5 3 2.5 1.5 2-0.5 3.5-2 0.5-2-2-2-4z"/>
<path fill="#f0ebeb" d="M447.5 235l3 0 6.5 2 6-1 4 0.5 6 3.5 10 4 10 5 6 2 8 1 14 5.5 3 1.5 7 6.5 11 3.5 3 3 14 9 1.5 2-1 6 1 4 9.5 10 0.5 4-0.5 6 1 4.5 2 2 2-1 2-2.5 4-1 2 0.5 3 3.5 0.5 2-1.5 3-4 2.5-4-0.5-2 1-1 4 1 2.5 6.5 3.5 1 20-8 12-2.5 2-10 4-0.5 2 3.5 2 3 0 5-1 6 2 6-5 4-1.5 2 0.5 2.5 3 3.5 12.5 6 6 6 8 10 5 1.5-1.5 2.5-4.5 2-1 2 0 2 2.5 0.5 3-0.5 4.5-2 1.5-4 0-2 1.5-2.5 6.5 1 4 3 4 1.5 4 0 6-1.5 6-5.5 7.5-2 0.5-8-3-5 1-2.5 4-6 6 0.5 6-9 14.5-4 2-1.5 1.5-41 0-1.5-1.5-2-0.5-2 0.5-1 1.5-79.5 0 3.5-6-3.5-4 0-2 2.5 0 2.5 4 1.5 1 2-0.5 2.5-2.5 3-8 5.5-4 0.5-2-1-2-2.5-2.5-2-0.5-4 5-2 1.5-10 4.5-6-1.5-2.5 1.5-0.5 2 0 2 3.5 10-0.5 4-71.5 0-2.5-4-2 0-2 4-59 0 0-2 1-1 4-1 4.5-4 1-2-3.5-7-2-0.5-2 0.5-2.5 3-1 4 0 6-10.5-0.5-1 0.5-1.5 4-35 0-2.5-2-2-1-2 0.5-1 2.5-71.5 0-1.5-3-5 1-2.5 2-14.5 0-0.5-2-1.5-0.5-6 2.5-12.5 0 1.5-4 0-6 3-5 0.5-3-2.5-0.5-4 4-2 0.5-2 0-3-2 0-4 6.5-8-1.5-2-4-1.5-1-2.5 1.5-6-0.5-3-2-2-6 0-1-1-3-10-5.5-4-1-2-1-6-2.5-1.5-6-0.5-2-1.5-1-2.5 1-3.5 3.5-4.5 1-4 1-10-2.5-8 0-2 2-4 3-14-2-8 0-4 4-10.5 0-7.5 0.5-4 3.5-8 1.5-2 8.5-3.5 14-3.5 4 0 8 1 4-1 3-3 3.5-6 7.5-6 7-8 9-4 9.5-8 8.5-3 22-4.5 9-6.5 5-2 2.5 0 7.5 2.5 10 0 10 3 4 0.5 6-1.5 8-4.5 4 0 8 3.5 8 6 4 1.5 8 1.5 12-1 4 1 5 3.5 1 2-2 4 0 2.5 2 2 6 0.5 12.5-3 1.5-2-0.5-4 2-2 9-4 7.5-6.5 10-4.5 14-3.5 20 2 4 0 8-7 8-13zM471 393l-6 1.5-6-1-3 1.5-3.5 4 0.5 3 4-1 2 1 0.5 1-1 2-3.5 2 0 2 0.5 2 3.5 4 0.5 2 0 8-1.5 2-3.5 2-1 2 3.5 6 2 0.5 2 0 6-2 4-3.5 2-0.5 4 1 12-4.5 4 0.5 6-3 4.5-0.5 3 2-1.5 0.5-1 1.5 1 2 2 0.5 1-0.5 0-2-1-2 2-1 4 0 2.5 1 0.5 2-1.5 4 1 6-0.5 2-4 5.5-3.5 2.5 1.5 1 2-0.5 10 1.5 4 5 4-0.5 6 3 10-1 1.5 1.5-1 4 0.5 2 1 1.5 8-0.5 1-1-0.5-2-2-2-6-4 1.5-6-3-6 0-2 7-7.5 6 4 2-0.5 2-2 1.5-4-1.5-2-4-2-1.5-2 1.5-2.5 4.5-3.5 1-2-1-4-3.5-4-1-4-5.5-8-5.5-2-3-3-2-1-2 0-2 1.5-3 4.5 4 8 1 1.5 5 2.5 0.5 2-9.5 5.5-2-0.5-5.5-5 1.5-8 0-3.5-5-0.5-2-6-3-1.5-2 0.5-2 1-0.5 2 2.5 4 4 2 0.5 2-2 4-2.5 1.5-2 0-4-2.5-8 3-16-3.5-2 1-1 4.5 3.5 8-0.5 2-2 2-2 0-3.5-2-3-4-2-10-2-6 0.5-8-2-1.5zM495 371l-6 2-3.5 2-1 2-0.5 2 5.5 12 5.5 6.5 2 0.5 2-1 6-6 1.5-4-0.5-2-1-2.5-4.5-5.5-1.5-4-2-1.5zM513 367l-2.5 2-0.5 4 2 2 3 0.5 2.5-2.5 0-4-1.5-2zM545 378l-1 1 1 2.5 3-0.5 1-2zM559 342.5l-2 3 0 3.5 2 3.5 2 0.5 3.5-2 1-4-2.5-4.5-2-0.5zM127 420l-7 3-1.5 2 0 2 6.5 9.5 2 0 1-1.5-0.5-8 2.5-6-1-1zM141 430l-1.5 1 0 2 3 4-1 6 1.5 4.5 2-0.5 2.5-4 1-2 0-2-2.5-2-1-2 0.5-2-1-2-1.5-1zM165 402.5l-2 1.5-1.5 3 1.5 4.5 2 1.5 4-1.5 1-2.5-1.5-4zM267 334l-1.5 1-1 2 1 2 2.5 2 8 0 4-2-1-2-4-2.5-4-1zM327 305l-6.5 2-3.5 4-1 2 1 3.5 3 2.5 3 2.5 4 0.5 2-0.5 1.5-2.5 2.5-8-2-4zM335 418.5l-1.5 0.5-1 2 3.5 6-0.5 2-2.5 2.5-4.5 1.5-1 6-2.5 2 1 8-1 3.5-3 2.5 0 2 1 0.5 2-3 6 0 10 2 4 3 4 1 2.5-1.5-0.5-4 2-4-1.5-10-2.5-2-4 0.5-2-0.5-1.5-2 0-2 1.5-3 6 0 1-3-5-6.5zM355 462l-2 1-2 4-4-0.5-2.5 0.5-1.5 2-0.5 2 1 2 13.5 4.5 2 0 1-4.5 1-1.5 4-2.5 1.5-2 0-2zM399 393l-6 2-12-0.5-2 1-1 1.5 0.5 8-1 4-1.5 2-7 6-4 6-6.5 6-0.5 6-1 0.5-1 3.5 1 1.5 2.5 0.5-0.5-6 1-2 3-1.5 10 3 2 2.5 0 4 2 2 2-0.5 4-4 4-1.5 3.5-6 8.5-4 2-0.5 6 2 6 0.5 6 2 6-3 6 1.5 2-0.5 4-3.5 6-1 4-3.5 0.5-2-0.5-3-2-0.5-4 1-6-1.5-4 0.5-4-2.5-2-2 0-4-1.5-2-6-4-1.5-4-3-2.5-4-1.5zM435 375l-6 2-0.5 2 3.5 2 3 1 14 0.5 4-1 2-2.5-2-3-4-1.5zM489 436l-2 2.5-1 2.5 0.5 2 2 2 4.5 1.5 2-0.5 3.5-3-0.5-2-4-2-3-3zM265 353l-4 1.5-6 0-3.5 0.5-2 2 0 2 2 4 0 2-4.5 3.5-6-0.5-6 5-6 0-2 5.5-3-3.5 1-4-0.5-2-1.5-1-4-0.5-6 3-6-0.5-7.5 7-1 2 1.5 8-1 6-2 0-6-3.5-2-5-2-2-2-0.5-4.5 1-3 2-1 2-0.5 6 1 6-2.5 4 0 2 4.5 5 6-1.5 2-1 3-4.5 3-5.5 4-2 1 1.5 1 6.5 1 1.5 3 1.5 4-0.5 6-6.5 2.5-0.5 1.5 2 0.5 2-0.5 2-6 5-6 2-5 5-1 6 2 7 2 2 2-3.5 2-2 4 0.5 8 3 6-1.5 0 2.5 5.5 4 7 8 1.5 2 2 8 2 2 8 0 4.5-6 2-4 1.5-1 4 1.5 5 3.5 0.5 8 0.5 2 2 0.5 2-1.5 1.5-3 0-2-4-4 1-2 3.5-2.5 4 0.5 6-5.5 8 2 4-0.5 1-2-1-8 2-3.5 2-0.5 2 2 4 6 2 1.5 8 0 1.5-1.5 1-8 3-8-0.5-4-1-1.5-5.5-4.5-3-6-5.5-7-6 0-6-2-4-0.5-1.5-2.5 0-2 1.5-3 2 0.5 2 4 2 0.5 9.5-6 3-4 1.5-9.5 2-2 5.5 1.5 3.5 4 5 2.5 2-0.5 2-3 2.5-7-0.5-2-6.5-8-3.5-3-2-0.5-2 1-3.5 4.5-6.5 5-8-3-3.5 0-2 2-1 2-1 6 0 2 3.5 4.5-0.5 1.5-3.5 2-2.5-4-2.5-8-3-3.5-4-8.5-10-5-2-0.5zM371 458l-1.5 1-1.5 6 1.5 2 3.5 2 2.5-2 0.5-2-2.5-6zM383 449l-5 4 0 2 5 5 6-5-0.5-2-3.5-3zM179 414l-2.5 3 1 6-1 2-3.5 2.5-2-0.5-2-2-1.5-6-2.5-3.5-2 0-6 2.5-1 1-0.5 6-2 6 6 2 5.5 4 6-1 1.5 1 0.5 4 1 4 3 4 2 1.5 4-1.5 4.5-4-0.5-2-8-6-1-2 1-6 2.5-8-0.5-4.5zM237 460l-3.5 5 0.5 2 3 2 2-1.5 0.5-4.5-0.5-2zM627 327l4 0.5 2.5 1.5 2 4-0.5 8 1 2 11 6.5 3 5.5 1 6-1.5 8-4.5 8.5-2 1.5-3.5-4-6.5 0-2-1.5-1.5-2.5-0.5-6 3-6-3-8-0.5-10-2.5-4-1.5-4 0.5-4zM604.5 333l2.5-0.5 4 1 1.5 1.5 1 4-0.5 4-2 5-2 2.5-4 1.5-3-1-1-2-1-4 1.5-8 0.5-2zM510.5 413l2.5-0.5 1.5 0.5 1.5 2 0 2-5-1.5zM98.5 425l0.5-1 2-0.5 1.5 3.5-1.5 2-2-0.5-1-1.5zM519.5 425l1.5-1 2 0 6 2 4.5 3 1 2-0.5 2-3 2.5-4-4.5-7.5-2-1-2zM598.5 473l2.5-1.5 4 2 1.5 3.5-1.5 3-4 1.5-2.5-0.5-1.5-2zM112.5 475l2.5 0 2 0.5 4 3 0.5 2.5-0.5 1-4 0-4 3-5 0-2-2-0.5-4 1.5-2z"/>
<path fill="#f0e9e8" d="M445 237l4-0.5 6 2.5 10-1 6 4 8.5 3 11.5 6.5 16 2 8 5 6 2 16 12.5 5 12 1 6.5 4 6 4 2.5 2-0.5 2-2.5 2-0.5 2 0.5 4 2.5 3.5 3.5 1 4-1.5 10 1 2 3.5 4 0.5 2-0.5 2-3.5 4.5-6 3-4 3.5-2.5 5-0.5 6 3 6.5 2 1.5 4 0 4-1.5 4-5 4-3 2 1 0.5 4.5-2 4-5.5 4-3 6-2 2-2 1-6 0-6 2.5-8 1.5-6 3 5.5 8 0 2-0.5 2-7.5 6-3.5 1.5-2 0-2.5-3.5-5.5-2.5-2 0-6 2.5-2-4 0-4.5 1-1.5 13-1.5 4 1 5-3.5 0.5-2-9.5-2-2-2-3-8-3-2.5-4 0.5-6 2.5-6-1-8 4-10 2.5-2.5 2-1 4 0.5 2 2 4 3.5 4 1.5 4 0 4-4 1-4 2-2.5-5-3.5-1.5-2-0.5-6 1-6 0-6 3-4 4-2 4 1 6-3 1.5-6-2.5-6-1-2-2 0-2.5-1.5-1.5-4.5 1-4-0.5-4-7.5-6-3.5-10-0.5-12 2-8-1-5 0-2.5 2-1 14-1.5 2-6.5 4-0.5 6-3 2.5-6-2.5-6 0-8-2-1.5-2 1.5-6-0.5-2-6.5-6-3-1.5-2 1.5-1 4 0.5 2 4.5 2.5 1.5 1.5-0.5 2-3 2-2 1-1.5-1-3-6-9.5-7-2-3-1.5-4-5.5-4 0-2 6-8 1-7 2-1 5 4 6.5 4 2.5 4 2 1.5 2 0 6-1.5 8 1.5 3-1.5 0.5-2-1.5-4-2-1.5-2-1-2 0.5-6 4.5-4-1.5-0.5-3 4.5-8 0.5-2-0.5-2-14-15.5-2 0.5-2 1-4 6-4 2.5-4 1-9-1.5-4.5 2-4.5 4-2-1-4-7-8-3.5-4-3-2-0.5-8 2.5-8 0-4.5 2.5-2 2 1.5 6-1 2-9 0-2.5 4-2.5 1.5-2.5-1.5 0-2 3-2 0.5-2-1-2.5-2-2-6 0.5-8 4-4 3.5-6-1.5-6 4-4-0.5-1 0.5-1 1.5 0 2.5 0.5 6 3 8-1.5 3-2 0-2-1.5-3.5-7.5-2.5-1-4 0-6 3.5-1.5 1.5-4.5 11.5-8 2.5-3 4-1 4 1 6-3 2-6 0-1.5 2 1 2 2.5 2 0.5 2-0.5 4-2 3.5-2 2-6-4.5-2 0-2.5 1-1 4 1 8 0.5 4 2 4 2 2 2 0 5-8 1.5-6 2-2 3.5-1 2.5 1 3.5 4.5 2 1.5 4 0.5 4.5 7.5 5.5 5.5 2 0.5 2-1.5 2-2.5 4-3 1.5-3-0.5-2-1-1.5-4.5-2.5-2-2-0.5-2 0-6 2-6-0.5-8 0.5-2 5-5.5 4-3 2 0.5 3.5 4 0 2-3.5 3.5-1 4.5-2.5 4 0.5 2 5 1 1.5 3 0.5 2-2 2.5-5 1.5 0.5 2 2.5 2 2 0 6-1.5 8-5.5 4-1 4 1 10 4.5 5.5 6.5 1.5 4 1 4 0 2-1.5 2-4.5 2 0.5 4-1 4 2.5 4.5 4 3 2 0 2-1.5 1-12 3-0.5 6-0.5 1.5-1 4.5-6.5 2-2.5 2-0.5 3 1.5 2 6 0 2-1 2-3 2-0.5 2 3 2 10.5-4 2-6 4-2 4-5 6-3.5 6-1 6 0.5 2 1 1.5 2 0.5 6.5 10 1.5 1 2 0.5 4-3.5 3-6 2-1 1-3 9-2 2-6 0.5-4-1.5-2 0.5-1.5 1.5 0 2 2 4-29.5 0-3-3.5-4.5-2.5-4-4-3.5-0.5-1.5 0.5 0.5 2 3.5 4 0 4-67 0 0.5-10 2-4-2-2-1.5 2 1.5 6-12 5-3 3-9 0 4.5-4 2.5-8 0-2-1-0.5-6-2.5-2 1-5.5 6 1.5 4-8 3.5-1 2.5-5 0 3.5-12 2.5-3.5 4.5-4.5 1-2-1.5-3-2-0.5-6-1-4-4.5-6-3 0-3 3-7-3.5-12 0-2 2.5-4 0-4-2-2.5-4-1-6 3-4 0.5-6-7.5-5-2.5-2-2 4-20 0.5-8-0.5-10 2-10-2-10 4-10-0.5-12 1.5-4 2.5-4 5.5-3 6-1.5 14-1.5 10 1.5 6-1.5 3-2 2.5-8 6.5-6.5 5.5-7.5 2.5-1.5 8-3.5 9.5-9 6.5-2.5 12-2 10 0.5 2-0.5 7.5-7.5 4.5-1.5 8 3 12-1 12 3 7.5-1.5 8.5-4 4 0 6.5 2 7.5 6 4 1.5 8 2 14-1 4 1.5 3 2 1.5 2-2 6 1.5 2 4 1.5 4 0 15-3.5 1-2-0.5-2 0.5-2.5 10-5 8-7 8-3.5 14-4 20 2 4 0 7.5-6 8.5-13zM277 462l-1 1 1 4.5 2-2.5 0-2zM267 333l-3 2-0.5 2 0.5 2 3 3 6 0.5 9.5-1.5 0.5-2-8-5.5-4-1zM323 304l-5 3-3.5 4-1.5 4 0.5 2 1.5 3 4 3 6 2 4 0 2.5-2 3-10 0-4-3-4-2.5-1-2-0.5zM357 397l-1.5 4 0.5 2 1 5 2 2.5 1-1.5-0.5-4 2-6-2.5-2.5zM431 375l-3.5 2 0 2 2.5 2 5 1.5 16 1 4.5-2.5 1-2-1.5-2.5-4-2.5zM546.5 281l2.5-0.5 2 0.5 3 2 1.5 2-0.5 2-2 1.5-2-0.5-4-1.5-2-1.5-0.5-2zM577 317l2-1 4 0 2.5 3 0 2-1 2-1.5 2-2 0.5-4-1.5-1.5-3 0-2zM626.5 329l2.5-1 2 0 3.5 3 0.5 6-2 3.5-2 0-2-1.5-3-4-0.5-4zM604 335l3-1.5 2 0.5 2 1.5 1.5 3.5 0 4-1.5 4-4 3.5-2 0-2-1-1.5-2.5 0-8zM633.5 347l1.5-1 2 0 8 4 2 1 2 6 0 4.5-2 4.5-12 8-2 0-2-1.5-1.5-3.5 1-6 2.5-3 2-1 0-2-2-7.5zM567.5 383l5.5 0.5 4 3.5 2 0.5 8-3.5 6 12.5 2 1.5 6 2 6 7.5 7 5.5 1 4-2 6 0.5 2 6.5 6 1.5 4-1.5 4-5 7-2 1-14 1.5-1.5 0.5-1 4-4.5 6-0.5 8-1 2-5.5 6-2 4.5-6 1.5-0.5 4-34.5 0-1-4-2-0.5-8 0.5-2 2 0 2-57 0-4.5-6-0.5-8 2-3 4-1.5 4 3.5 4 1.5 2 3.5 2-1.5 0-2.5-2-7-6-2.5-2-3.5-4-3-1.5-2 0.5-6-1-1.5-2-0.5-3.5 2-0.5 2 1.5 6-1.5 3.5-2 2-8 3.5-2 0-4-5-2-0.5-1.5 0.5-2 4-2.5 2.5-1 1.5 0 4 1.5 4 4 6-0.5 4-66.5 0-2.5-6-4-4 0-2 5-0.5 2-2 6-2.5 4-7 4-3 2-3.5 4-3.5-1-2-1-0.5-6-0.5-1.5-1-2-4 3.5-3.5 3-6.5 2.5-2 4.5-2.5 2 0.5 4 1.5 8 1.5 6 2.5 6-3.5 2 0.5 4 2 1.5 3.5 1.5 2 3 1.5 1.5-1.5 0.5-2-2.5-4 0-2 2.5-3 4-0.5 5-4.5 1.5-2 1.5-7 2-1.5 4 4 0.5 6.5-1 2-4 2-1.5 2-0.5 2 6.5 8 2 0.5 8-1 6-4 4 0.5 6-2.5 3 0.5 0 2-2 4-1 5-1 1-5-0.5-3 0.5 1.5 8 1.5 3.5 8-8 8 0.5 6-1 2 1-1 2 0.5 2 4 2 2.5 0.5 6-3.5 4 0 2 1 4 6 2 1 4-1 2 3 10-1.5 1.5 0.5 0.5 6 2 6 0.5-2 3.5-2.5 2-0.5 4 2 2 0 4-5 0.5-2-9-6-1-2 0.5-6-3.5-4-0.5-2 3-3.5 2-1 2 2.5 1.5 6 2.5 1 2-0.5 2.5-2.5 2.5-8 5-4-2-4-2-1.5-4.5-0.5 0.5-1 4-1.5 1-5.5-6.5-14-9.5-12-1-4 2-1.5 5-0.5 5-3.5zM581 437l-2.5 2 1 2 5.5 4 4.5 0 1-2-1.5-4.5-4-2.5zM593 413l-1 2 1 2 3 0 0.5-2-1-2zM419 438.5l-8 5.5-2 2.5 0 1 4 5.5 6 0 2-1 2-3.5 1-3.5-0.5-4-2.5-2.5zM569 455l-1 2 1 1.5 2-1.5 0-1zM579 467l-2 0.5-4.5 3.5 0.5 4 2 3 2 0 5.5-5-1-4zM502.5 397l8.5-1.5 2 1 4 6.5 2 2 0.5 2-0.5 1-2-0.5-2-1.5-2-0.5-6 2.5-4 0.5-6-1.5-4-2-1-2 1-1.5 6-2zM478.5 403l0.5-1.5 2.5 1.5 2 12 3 6-1.5 1-2-0.5-2-2.5-0.5-6-1.5-4zM535 405l2 2 3 4 0.5 2-1 2-2.5 1.5-2-0.5-2.5-3 0-2zM170.5 415l0.5-0.5 2 0.5 0 4 1 4-1 2-2.5-2 0.5-2.5 1.5-1.5-1.5-0.5zM324.5 423l2.5-1.5 2 0.5 3 3 1 2-2 2-8 2-1-2-0.5-2 1.5-2.5zM300 431l1-0.5 2 1 2 3.5 0.5 4-2.5 0.5-3-2.5-0.5-4zM494.5 431l2.5-1 2 0 1.5 1 0.5 2-2 2-2 0.5-3-2.5zM362.5 435l2.5-0.5 6 2 0.5 0.5 0 2-4.5 3.5-2 0-2.5-3.5-0.5-2zM506.5 435l2.5-0.5 2 0.5 2 3 0 3-2 2.5-2 0.5-3-1-1.5-2 0-4zM314 441l5-0.5 1 2.5-1 1-4 0-1-1zM354.5 445l2.5-1 4.5 1 2.5 2 1 2.5 4 1.5 1.5 2-7 8-4.5 0.5-2.5-2.5-1-2 0.5-2 2-2 0-2-3-2.5zM373.5 447l2 0-0.5 2.5-1.5-0.5zM327.5 457l1.5-0.5 4 0 7.5 2.5 3 4-2.5 4-0.5 4 0.5 4 10 4 4 0.5 2.5 1.5 1.5 4-33.5 0-0.5-0.5-2-1-2.5 1.5-10 0 8.5-6 4-2 0-2.5-4.5-3.5-0.5-2 0.5-4 0.5-2 2-1.5 4.5-2.5zM363 477l2-1 1.5 1-1.5 7-1.5 1-0.5 0-0.5-4zM108.5 479l4.5-1.5 1.5 1.5-3.5 2.5-2-0.5zM459.5 481l4 0 0.5 4-9 0 2-2.5z"/>
<path fill="#ede3e1" d="M444 239l3-0.5 2 0 6 3 8-0.5 6 3.5 8.5 2.5 11.5 7 18 1.5 8 6 6 3 12 10.5 8 19.5 7.5 10.5 2.5 9 5 9 1 4-0.5 4-3.5 8-1 6 2 14-5 9-10 4.5-6 0-4.5-1.5-3-2-3-6-3.5-2.5-4-1-8 1-6-1.5-2 1-5.5 5-2.5 1.5-4 1-8-0.5-2 1.5 0 10.5 2 5 4.5 5-0.5 2.5-2 0.5-10-3-12 1.5-8.5 4.5-6 6-1.5 4.5-2 0-2-1-2-3.5-2-1.5-10-2-8-7-6-2.5-10-0.5-12 1.5-12-1.5-6-2-10 1-4-1-6-8.5-7-6-5-8-10-10-4-5.5-2-1-4 2-5 6.5-5 3-12 0-8 2-6-5-6.5-2-5.5-4.5-2-0.5-8 2.5-6 0-8 3-4 1-0.5 0.5-0.5 4-1 2-1 0-3-0.5-4-4.5-4-1.5-16 7.5-6 0-6 2.5-4-2-1.5 0.5-5 12-2 2-7.5 2-4 2.5-3 3.5-2 4-3 4.5-2 1.5-8 2-4-1-2 0.5 0 3.5 4 1-0.5 4 0.5 6-2 1-4-2.5-4 6-4 3.5-3.5-6-2.5-2-8 1.5-6 2-4-0.5-1.5-1-0.5-2 1-6 0-2-1-1.5-2-0.5-6 1.5-1-3.5 0-4 3-8 1.5-10-1.5-8 1.5-12-1.5-8 3.5-10-0.5-12 2.5-6 2.5-2 4-1.5 16-2 4 0 8 2.5 10-0.5 8 1.5 4 0 2.5-2 0-4-2-2-6.5-4-0.5-2 0.5-2 10-13.5 9-4.5 7.5-8 3.5-2 6-2 10-1.5 4 0 8 2.5 2.5-1 4-6 3-2 2.5-0.5 8 2.5 12-1.5 12 2.5 6-1.5 12-4.5 6 1.5 10 7 4 1.5 10 1.5 10-1 4 1 3.5 1.5 1.5 2-1.5 6 1.5 2 5 2 4 0 17.5-4 0-6 8.5-4 8.5-8 9.5-4 12-3.5 22 2.5 4-1.5 6.5-5.5 7.5-11.5zM447 373l-17.5 2-3 2 0 2 2 2 4.5 1.5 16 1.5 4-0.5 4-2.5 1-2-0.5-2-2.5-2-4-2zM269 331l-4 1.5-2.5 2.5 0 4 2.5 3 4 2 2 0 12-1.5 2-0.5 0.5-1-1-2-9.5-7zM323 302.5l-6 4-4.5 4.5-2 4 0 4 2.5 4 4 3 8 1.5 6-0.5 2.5-2 0.5-6 2-8 0-2-2-4-3-2-4-1zM560.5 305l0.5-0.5 1 0.5 1.5 2-0.5 3-2 1.5-1-2.5zM578 317l3-1 2.5 1 1.5 2 0 2-2 3-4 0.5-1.5-1.5-1.5-2 0.5-2zM628 329l3 0 2.5 2 1.5 4-0.5 2-1.5 2-2 0-2-1-2-3 0-4zM606 335l3 0.5 2 1.5 1 4-1 4.5-2 3-2 1-2 0-2-1.5-1-5 1-5zM640.5 351l2.5 0 2 1 1.5 3 0.5 4-2 3.5-2 0.5-3-2-1-4 0-4zM634.5 361l2.5 0.5 2 1 1 2.5-2 6-3 2-2 0-2-1.5-1-4.5 1-3.5 2-2zM318 381l5 0.5 2.5 3.5 0 4-2 4-0.5 6.5-4.5-2.5 1-4-2.5-5.5-0.5 1.5-3.5 2-2 0-1-2 1-3 2-1.5 2 0 2 2.5 1-2zM193.5 385l1.5-1 1 1 0 2-1.5 0zM338.5 389l4.5 0 9 2 0.5 4-3.5 10.5-10-5.5-6-5-0.5-2 1.5-2zM563.5 389l5.5-0.5 4.5 2.5 3.5 1 8-0.5 3.5 3.5 3 6 0.5 4-4.5 8 0 2 2.5 6-0.5 2-2.5 2.5-2.5 5.5-3.5 3-4-1-4.5-4-1.5-6 0.5-6-2.5-4-1.5-8-6.5-4-4-6 0-2zM504.5 399l6.5 1 1.5 1-0.5 2-7 3-7.5-1-1-2 4.5-3zM190 409l3-1.5 1.5 1.5-0.5 2-2.5 4-0.5 4-2 2.5-2 0.5-1.5-5zM138.5 421l4.5-1.5 1.5 1.5 6.5 4 0 2-2 2-6-3-6 0.5-1.5-1.5 1-2zM185 429l2-2 8 2-2 0.5-1 1.5-5 4-2-2zM398.5 431l2.5 0 3 2 2.5 6 0.5 2-1 4-1 2.5-2 1.5-6-4-4 0-2-0.5-1-1.5 3-6.5zM602 431l1-0.5 4-1 6 1 4 2.5 0.5 2-0.5 2-3 4-3 2.5-6 2-4-0.5-5-4 3-3zM215 433l2 0 10 4 4 4 3 10-1.5 2-4 2-1.5 2-0.5 2 1.5 6 4 6 1 3.5 12 5 1.5 1.5 0.5 4-45.5 0 1.5-6 0-2-2-0.5-4 0.5-3.5 2-1.5 2 0.5 4-8.5 0 2.5-6 2.5-10 2-1 6 2.5 6 0.5 0.5-2-1-4-2-2-3.5-0.5-4-0.5-4.5 3-7.5 1.5-4 5.5-2 0-4 0-4-4.5-10-2.5-4.5 6-5.5 3.5-1-1.5 0.5-2 6-6 0.5-6.5 6-0.5 2.5-3 0.5-2-1-2-6.5-6 0-6 1.5-2 1.5 0 5.5 6 4.5 2 9.5 12 2 1.5 2 0 3.5-1.5 2-2 4.5-6 2.5-6 5.5-2.5 9-1.5zM219 456.5l-2 1-0.5 1.5 0.5 1 2 0.5 2-1.5zM508.5 437l2.5 2-2 2.5-2-2.5zM442.5 439l0.5-1.5 2 3 2 0.5 4-1.5 2 0 10 3.5-2 4 0 2 1.5 6-2 4-5.5 2.5-2 0.5-2-1-5.5-8-0.5-8-2-2zM473 439l2-1 4-0.5 2 1 0 0.5-2 2.5-2.5-0.5zM568.5 439l2.5-0.5 2 0.5 10 8 6 2 2 2 0.5 4-2 10-0.5 2.5-2 2-2 0-4-5-8-1.5 1-6-0.5-2-4-4-0.5-3.5-2-2.5 0.5-4zM428 441l1-0.5 8 3 4-0.5 0.5 2-1.5 4 1 6-2 4-2 0-2-2-2 1.5 2.5 4.5 0 2-0.5 2.5-2 2.5-4-3-8-2-2 6 0 1.5 14 1 8 7.5 0 4-4.5 0-1.5-2-2 1-0.5 1-52.5 0 1-3 2-2.5 2 0 4 2.5 6-2.5 1.5-2.5 0.5-2-1.5-2-2.5-1.5-4 0.5-1 1-3 5-2 0-2.5-3 0-2 5.5-2 3-5.5 2.5-0.5 1.5-2 2-6.5 12-3.5 1.5 2 2.5 5.5 2-0.5 4-2.5 4-1 4.5-3.5 0-4 1.5-7zM294.5 447l2.5-1.5 4 0 3 1.5 1 2-3 6-0.5 2 3 10 0 4-2.5 4-3 1.5-2 0-9-3.5-4.5-8 0-4-2-4 5.5-6.5 4-0.5zM291 459l-1.5 4 1 2 6.5-2 0-2-2-2-2-1zM562.5 449l2.5-0.5 1.5 0.5 0 2-2.5 6-1 1.5-2 0-6-3.5-0.5-2 1.5-2zM257.5 453l1.5-1 2-0.5 2.5 3.5-0.5 2-4 2.5-3 3.5 1 2 6 3 8-0.5 4 3.5 1.5 4 7 2 1 2-2 6-17.5 0-6-10.5-6-0.5-5.5-3-1.5-2-1-6 2-0.5 6-0.5 2.5-3zM488.5 453l0.5-1 2-0.5 4 0.5 4 4.5 7 2.5 7 7.5 8-1.5 6 2 4 1 2.5-3 3.5-1 1.5 1 0 4 1 6-1 2-1.5 0.5-10 1.5-2-1-2-3-4 0-4 4-2 6-23 0-3-1.5-2 0-2.5 1.5-4 0-1.5-3-4 0-2-2.5-1-6.5 0.5-2 2.5-0.5 5 2.5 3 6 4 0 2-1 0.5-7-1.5-8 1-2 4-2 0.5-2zM497 459l-2 1 0 3 2 4 2 0 3-2-0.5-2zM361 455l2 0 0.5 2-2.5 2.5-1.5-2.5zM310.5 457l2.5 0.5 2 1.5-2 3.5-2 0.5-2.5-2 0.5-2.5zM330.5 459l4.5 0 2 2-5 4 1 4 1.5 2-5.5 4.5-2 0-2-3-4-2.5-0.5-3 2-4 2.5-1 4 0zM562.5 467l2.5-1 4-0.5 1.5 1.5-0.5 4 1 8-4 4-1 2-19.5 0 1.5-2 2.5-2 0.5-2-1.5-6 0.5-2 1 0 6 3 2-1 1.5-4zM557 478.5l-4.5 2.5 2.5 3.5 2 0 2-3.5-0.5-2zM336 481l3-1.5 2 0.5 1 1-1 4-9 0zM519.5 481l1.5-1 4 0 2 5-8 0z"/>
<path fill="#ebdeda" d="M444.5 241l2.5 0 6 2.5 10 1 12 4.5 14 8.5 16 0 3 1.5 5 5 12 7 4 4 10.5 22 6.5 10 3 10 4.5 10-0.5 4-3 8-0.5 4 1.5 14-2 5-3 3-7 4-4.5 0-5.5-2.5-8-7.5-6-3-10-2.5-6 1.5-2 1.5-4 5.5-4 2-4-0.5-10-3-2 0-3.5 2.5 0 2 4.5 8 1 10-0.5 2-17.5 4.5-6 3.5-6 5-4 1.5-6-3-8-2-8-6-6-2.5-10-0.5-16 1.5-8-1.5-8-3-8 0.5-4-1-13-13-4-6-5-4.5-10-12-4-2.5-2 0-2 1.5-6 8-6 3-16 0.5-14-4.5-2-1.5-3-4 0-2 7-1 8-0.5 0.5-2.5-12.5-11-4-1.5-6 2-3 2.5-1 2 0 2 1 4 3.5 4-2.5 2.5-8 0.5-8 3-6-0.5-4 3.5-2 0-6-2.5-2 0.5-9 5-5 2-10 2-4-1-6-4.5-2 0.5-1 1 0 2 1.5 4 0 4-1.5 6-3 3-10.5 3-3.5 4.5-4 7.5-2 2-4 1-10-1-2 2-3 6 0.5 6-3.5 6.5-2 0-4-3.5-4-0.5-6 0-6 3-2-0.5-1-1-0.5-2 2-8-1-2-1.5-1-6 0-2-1 0-4 3-6 3-10-3-10 1.5-10-2-8 4-12-1.5-8 1.5-6 2-2 3.5-1.5 14-2 6 0.5 8 3.5 10-0.5 10 0.5 4-1 3.5-3.5 0.5-4-1.5-2-6.5-5-0.5-3 6.5-10 10-6.5 8-9 4-2 10-2.5 6-0.5 10 4.5 2 0.5 2-1 6-7 2-0.5 10 0.5 12-2 10 1.5 18-5.5 6 1.5 8 6 4 1.5 12 2.5 10-1 4 0.5 3.5 2.5-1.5 6 1.5 2 4.5 2 6 0.5 16-2.5 5-2 0-2-1.5-2 1-2 7-4 8.5-7.5 8-4 12-3 12 0.5 8 1.5 4-0.5 8-5.5 8-10.5zM451 371l-9 2-13 2-3.5 2-0.5 2 2 2 4 2 18 2 4-0.5 6-3.5 1-2-3-4-4-3.5zM325 300.5l-6 3-7 5.5-2.5 4-1.5 6 0 2 1 2.5 6 4.5 6 2.5 8-0.5 4-1 3-2-0.5-8 2-8-0.5-4-3-4-3-1.5zM369 352l-1 3 1 3.5 1-3.5zM579 317l2-0.5 1.5 0.5 2 2 0 2-1.5 2.5-2 0.5-3-1-1-2 0.5-2zM628 331l1-1 2-0.5 2 1.5 1 4-1 2.5-2 0.5-2-1.5-1.5-3.5zM604.5 337l2.5-1 2 0.5 2 2.5 0 4-0.5 2-1.5 2.5-2 1-2-0.5-2-3-0.5-4zM632 363l3-1 2.5 1 1 2 0 4-1.5 2-2 1.5-2 0-2.5-3.5 0-4zM339.5 393l1.5-0.5 3.5 0.5 2 2-1 2-2.5 0.5-2-1-1.5-1.5zM580.5 395l2.5 0 2 1 2 3 0.5 4-1 4-3 4-0.5 2 2 6-1.5 8-2.5 3.5-2 0.5-3.5-2-1-2-0.5-4 0.5-8-2.5-4-1-10 0.5-2 2-2zM214 437l3-1.5 2 0.5 8 3.5 3 3.5 1 6-0.5 2-5.5 2-8-3.5-2 0.5-1.5 3-0.5 8 2 2.5 8-0.5 2 1.5 5 6.5-1.5 4-0.5 2 1 2 5.5 4 1.5 2-32 0 2-10 3.5-6 0-2-2.5-4-2-2-4-2-1-4-1-1.5-2 0-4 2-0.5-2.5 2.5-6 4-4 2-1 6 0.5 4-1zM606 437l3.5 0-0.5 2-4 2-0.5-2zM399.5 439l1.5-1.5 2 0.5 1 3-1 3.5-2-0.5-2.5-3zM429.5 445l1.5 0 4 2.5 1.5 3.5-1.5 2-4 0-2-1.5-1.5-2.5 0.5-2zM449.5 445l3.5-1.5 4 1.5-5 4 0.5 2 6.5 1 1 1 1 2-1 2-2.5 2-4.5 1-3-3-2-8zM574 447l1-1.5 2 0 2 1.5 2 3 6 2 1 1 1.5 4-2.5 8-2 0-4-3-4-1-1.5-6-2.5-4zM296.5 449l2.5-1.5 2 0 1.5 1.5-3 4-0.5 3.5-2 1-2.5-2.5 0-2zM166 453l1-1.5 2 1 4 6 1 2.5 0 6-1.5 0-1-2-2.5-2-2-0.5-4 1.5-1-1 4.5-4zM286.5 455l0.5-0.5 2 1 0 2-2 2.5-1.5-3zM402 457l3 0 4 5 6 2.5 1.5 2.5-1 6 1 2 2.5 0.5 6-1 6 2.5 1 2-2 6-36 0 0.5-2 5.5-6 3.5-8-0.5-2.5-2-1.5-2 0-2-2-0.5-2 0.5-2zM426 457l3 0 0 3.5-2 1-2-1-1-1.5zM489 465l2-1.5 4 5.5 2 0.5 10-1.5 2 1.5 1 1.5 3 2 1 2-3 8-2 0.5-8-2-3.5 3.5-3 0-1.5-1-3-3zM293 467l4-1 3.5 1 1.5 2 0 2-1.5 2-3.5 1.5-6-3-0.5-2.5zM324.5 467l0.5-0.5 2.5 0.5-0.5 1.5zM266.5 471l2.5 0.5 1.5 3.5 2.5 2 5 2 1.5 2 0 4-11.5 0-4.5-12zM563.5 471l1.5-1.5 2 1.5 0 6-3.5 8-3 0 2.5-7.5 3-2.5zM521.5 483l1.5 0 1.5 2-4 0zM186 485l1-1.5 2 0.5 0.5 1z"/>
<path fill="#e9d8d3" d="M442.5 245l2.5-1 16 2.5 11 4.5 13 9 4 2 4 0.5 8-2 4 0 6 5 14 9.5 4 8 4 6 6 12.5 5 7.5 6 16 0 6-4.5 8-0.5 2 3.5 12 0 2-1.5 3.5-4 3-6 2-4 0-34-19-2 0.5-8 12.5-6 0.5-10-2.5-2 1-6.5 4.5-1.5 2 0 2 7.5 8 1 4-0.5 4.5-1.5 1.5-3.5 2-11 3.5-10 6.5-4 1-14-4.5-6-4.5-8-3.5-10-0.5-18 1.5-5-1.5-7-3-12-0.5-12-10-4.5-6.5-6.5-6-11-13-6-4.5-2 1.5-6.5 10-7.5 4-6 0.5-8 0-12-3.5-2-1-2-2-0.5-2 0.5-0.5 1.5-1.5 2.5-0.5 8 0.5 2.5-2-0.5-2-9-8-5-6-4.5-2-5.5 2-4.5 4-1.5 4 1 8-1 1.5-10 3-8 1-6 3.5-6-2.5-2 0-4 2.5-6 2.5-14 3.5-4-0.5-4-3.5-1.5-1-2.5 0.5-2 1-1.5 4.5 1.5 6 0.5 4-2 4-2.5 2-11 2-1.5 2-5.5 12-4 1-11.5-1-3 2-1.5 2.5-2-0.5-2 1-1 5 4 4 0.5 2-1.5 3-2 0.5-4-2.5-8-1.5-1.5-1.5 1-4-2-2-4-2-1.5-2-3-10 1-6-0.5-4-3.5-10 0.5-8-1-10 3-8 1-4-1.5-6 0-4 2-2 2-1 14-3 6 1 8 4 10-1 10 0.5 6-2 4.5-4.5 0.5-2 0-2-1.5-2-6-6-0.5-2 1-2 4-6 10-8 6-8 4-2.5 8-2.5 6-0.5 4 1 8 5.5 4 0 2-1 6-5.5 2-0.5 8-1 10-2.5 12 0.5 18-5 4 1 10 6.5 4 1.5 10 2 12-1 4 1 1.5 1 0.5 2-1 4 1 2 3.5 2 6.5 1 10-2 10-0.5 6-2.5-1.5-4 1.5-2 4-2.5 7-7.5 5-3 10-3.5 6-1 24 1.5 8.5-6 5.5-7zM453 367l-8 4.5-18 3.5-2.5 2-0.5 2 3 3.5 4 1 22 2.5 10-5 0.5-2-5-6-2-6zM321 300.5l-8.5 6.5-3.5 3.5-5.5 12.5 0 2 1.5 2 6 1.5 3.5 2.5 2.5 4 2 1.5 2 0.5 17-8 0.5-2-1.5-4-0.5-4 3-10-1.5-4-5-4-6-1.5zM369 350l-2 2.5 0 2.5 0 2.5 2 3.5 2-4 0-2 0-2.5zM581 317l3 2 0 2-1 2-2 0.5-2-0.5-1.5-2 0.5-2zM629 331l2-0.5 1 0.5 1 2 0 3-2 0.5-2-1.5-0.5-2zM606.5 337l2.5 0.5 1.5 3.5-1 4-2.5 2.5-2-0.5-1.5-4 0.5-4zM633 363l2-0.5 3 2.5-0.5 4-2.5 3-2 0-2-3 0-3zM122 407l1-1 2.5 1-1 2-1.5 1-1-1zM577.5 419l1.5-1 2 1 0.5 2-1 4-1.5 2-2-4zM217 441l2-1.5 4 2.5 3 1 1 2.5-2 2-2 0.5-3.5-1-1.5-2zM204.5 445l6.5 0 1.5 2-3.5 12-2 0-2-2-1-2 0.5-4-1-4zM579 453l4 0.5 4 1.5 0.5 2-0.5 3-2 1.5-6-2.5-1.5-4zM452.5 455l4.5 0 0 2-2 1-2-0.5zM407 465l4 0 3 2 0.5 2-1 2-2.5 2.5-2-0.5-1-2-1.5-4zM213 467l2-1 6 0.5 6 4.5-1 6 1 2 5 4 1.5 2-28 0 3-10 3-4zM294.5 469l2.5-0.5 1.5 0.5 0 2-1.5 1-2-0.5-0.5-0.5zM491.5 473l1.5-1.5 7.5 1.5 1.5 2-1 0.5-4 5-2 1.5-2-1-1-2zM421.5 477l3.5-0.5 4 2.5-0.5 6-32 0 1-2 3.5-2 2-0.5 4 2.5 2-0.5 4-4zM504.5 477l0.5-1 4 1-2 1.5z"/>
<path fill="#e6d2cc" d="M443 247l14 1.5 6 1.5 6.5 3 13.5 10.5 4 2.5 8 1.5 6-3 4 0 16.5 10.5 4.5 8 4.5 6 6.5 15 5.5 7 1.5 4 2.5 10 0 4-1.5 2.5-5 3.5-0.5 2 4 12-0.5 4.5-8 4-6 0-5-2.5-13-8-2.5-2-3.5-4-2-1-6-0.5-4 1-2 1-2.5 7.5-3.5 3.5-4 1-8-1.5-12 8-8 3.5-8.5 7.5-15.5 3-3.5 1-2.5 2-0.5 2 0.5 2 4 2.5 22 3.5 0.5 2-2 2-4.5 2-13.5-4-16.5-8-10-0.5-18 1.5-4-1-8-4-10 0-12-8-5.5-8-6.5-5.5-7-8.5-4-6-0.5-2 1-2 2-2 8-4 2.5-2-3-6-0.5-4 4-10-1.5-4-4.5-4-4.5-2-6-0.5-6 2-10 8-2 2.5-3 6-4.5 6 0 4 1.5 2.5 2 1.5 6-0.5 2 1.5 3.5 7-1 6-2.5 4-7.5 4-6.5 1.5-18.5-3.5-2-2-0.5-2 1-0.5 2-1 8 0.5 3.5-1 1.5-2-1-2-9.5-8-3.5-6-5-4-4-0.5-8 1.5-3 1-1.5 2-0.5 4 1.5 10-2.5 2-14 3.5-6 3-6-2-2 0-6 3-20 5-6-3.5-2-0.5-4 1-2 2.5-2 6 2 7.5-0.5 2.5-3 2-10.5 2-3.5 4-2.5 8-2 3-6 0.5-10-2.5-4 2-6 7.5-2 1-10.5-7.5-0.5-2 1.5-6-0.5-2-7-16 0-10-1.5-6 1-4 3.5-10 0-8 1.5-2 4-2 8.5-2.5 4.5 0.5 9.5 5.5 10-1.5 10 0.5 6-2 5-4.5 2.5-4 0-2-1-2-6-6 0-2 1-2 12.5-14 6-7.5 3.5-2.5 6.5-2 6-0.5 4 1.5 8 6.5 4 0.5 12-7 16-4.5 12-0.5 14-4.5 4-0.5 4 1.5 8 5.5 4 2 12 2.5 12-1 3 0.5 1.5 2-1 4 1 2 5.5 3 6 0 10-1.5 12-0.5 4.5-1 1.5-1 0.5-1-0.5-4 1-2 7-8 6-4 10-3.5 6-1 10 0 10 1.5 4-0.5 8-5 6-6.5zM369 348.5l-2 2-1 4.5 1 5.5 2 2 2-2.5 0.5-5-0.5-5zM578.5 319l2.5-1 2.5 1 0 2-2.5 2-3-2zM630 333l1-1 0.5 1 0 2zM605.5 339l1.5-0.5 2 0.5 0.5 2-0.5 3-2 2-2-0.5-0.5-2.5zM632 365l1-1 2-0.5 2 1.5 0 4-2 2.5-2-0.5-1.5-2zM214.5 471l2.5-1.5 6 2.5 0.5 1 1 6 1.5 2 5.5 4-9 0-1.5-2-7-2-0.5-2-2-2-0.5-2zM421 479l4 0.5 1 1.5 1 4-15.5 0 0.5-2 3-2.5zM207.5 483l1.5-1.5 2-0.5 2 1 0.5 3-6.5 0z"/>
<path fill="#e4ccc5" d="M440 251l3-1.5 2 0 14.5 1.5 8 4 15.5 13 14 2.5 6-2.5 2 0 6 2.5 9 6.5 3 6 5 6 7 16.5 6 7.5 1.5 4 0.5 4-1 4-8 8 0 2 0.5 2 4.5 5 1.5 3 0 4-1.5 3-6 2.5-6-1-13.5-8.5-6.5-7.5-2-0.5-6 1-6-1.5-2.5-1.5-1.5-4-2-1-2 1-4.5 6-0.5 2 1 2 3 4-1 3-2 0.5-6-2-2 0.5-8.5 8-3.5 3-8 3.5-10.5 9.5-15.5 3-3 1-5 5-12-2.5-12 0-8 1.5-4-0.5-8-4-10-0.5-12-6-5-7-7-6-8-10-1.5-4 1-4 9.5-6 1-2-4-6-0.5-4 4-8 0.5-4-3-4-6-4-5-1.5-5-0.5-5 1.5-11.5 8.5-1.5 2-4.5 8-6 6 0 4 2.5 4 3 2 8 1.5 2.5 4.5-0.5 6-1.5 2-8.5 5.5-4 0.5-18-3-1-1 0-2 1-0.5 12 0.5 2-2 1-2-1-2-9.5-8-3-6-5.5-6-4-1.5-12.5-0.5-1.5-0.5-2-5.5-2-2-4-0.5-2 1.5-1 3 1 3.5 4.5 4.5-0.5 6 2.5 8 0.5 2-1.5 2-7.5 2.5-10 4.5-8-2-6 2.5-12 3.5-8 0.5-6-2.5-4 0.5-4.5 2.5-4 8-1 4 1 4-2.5 2-7 1.5-7 6.5-1 2 0 6-2 1.5-2 1-4-0.5-3.5-2-2.5-2.5-2 0-4 2.5-6 6.5-2 0-6.5-4.5-0.5-2 2-4 0.5-4-1.5-3-5.5-5-2-4-1-4 0.5-8-1.5-6 0.5-4 3-8 1.5-8 1.5-2 5-3.5 4-1.5 4 1 6 4 4 1.5 10-2 10 1.5 6-2.5 7-6.5 2.5-4-1-4-5-6 0.5-3 10-11.5 6.5-9.5 5.5-3.5 8-1.5 4 0.5 8 8.5 4 2 4-1.5 8-5 16-6.5 4-1 8 0 16-5.5 4 0 4 1.5 8 6 4 1.5 14 3 10-1 2 0.5-0.5 4 1 2 5.5 3 6 0.5 12-1.5 12 0 7-2 2-2-0.5-4 0.5-2 6.5-8 6.5-4 14-3.5 10-0.5 10 2 4-0.5 9-5.5zM213 291l-12 3.5-1 0.5-0.5 2 3.5 2.5 4.5-0.5 5.5-4 1.5-2zM369 347l-2 2-1.5 6 1 6 2.5 4 2-2 1-8-0.5-6zM579 319l2-0.5 1.5 0.5 0.5 2-2 1.5-2-1zM632.5 365l2.5-1 1 1 1 2-2 3.5-2-0.5-1-1zM439 387l5.5 0 1 2-2.5 1-2-0.5-1-0.5zM419 481l4 0.5 2 3.5-10.5 0 1-2z"/>
<path fill="#e2c7be" d="M440.5 253l4.5-1 14 1.5 6 3 14 12 4 2 14 2.5 8-2 2 0.5 9 5.5 4 6 5.5 6 8 18 6 8 0.5 4-1 3-10 9 0 2 2 5 6 4.5 1.5 2.5 0 2-1.5 3-4 1.5-2.5-0.5-13.5-6.5-3-3.5-3-5.5-2-2-2-0.5-6 3-2 0.5-3.5-1.5-2-2-1-6-1.5-1-4-0.5-4 1.5-7 8-5 7-3.5 7-3.5 4-5 4-7.5 4-8 8-3 2-13.5 2-8 4-2 0-6-1.5-10-0.5-8-1-8 0.5-8-3-4-1-2.5-1.5 2-10 0-8-1.5-4-2-1-3 3-1.5 6 1 6 3 8-1.5 1-2 0.5-4-3-7.5-2.5-5-6-7-6-7-10 0-4 1.5-2 8-6 0-2-5-8 1-4 5-7.5 0-2.5-1-2-5-4-6-3.5-4-1-6-0.5-6 2-6 5-6.5 4-4.5 8-7 5.5-2 2.5 0 4 6 8 9.5 2 2 2 0.5 2-1.5 4-8 6-4.5 0-3-2 3.5-4 1-4-1.5-2-4-1.5-3.5-2.5-1.5-2-0.5-4-1-2-6.5-8-5-2-12-1-8-7.5-4-1.5-4-0.5-2 1-1 1.5-1.5 4 0 4 1.5 4 7.5 12 0.5 4-1 2-4 1.5-10 5.5-8-1.5-6 1.5-4 0-5 3-3 1-10-0.5-4-1-4 0.5-4 2-2 2-6 10-2 6-6 2-4 4.5-5.5 3.5 1 6-1 2-2.5 1-2.5-1-2.5-2-1-3-2-2-2 0-1.5 1-4.5 4-4 5-2 0-2-3 2-3.5 2-1 4 0 2.5-3.5-2.5-3-4 1-2-1-7.5-7 0.5-6-5-11.5-0.5-4.5 5-18 3.5-3.5 4-1.5 4 1 8 5 4 0 8-1.5 10 1.5 4-1 4-2.5 8.5-9.5 1-4-5-8 0-2 3.5-3.5 4-3 2-0.5 8 5.5 6 0.5 6-3.5 8-7 8-1 10-7 8-3 6-3.5 6-1.5 6-0.5 9-4 11-2.5 4 1 10 7 9.5 2.5 8.5 3.5 6-0.5 7.5 5 4.5 1.5 6 0.5 12-2 16 0 5.5-2 1-2-0.5-4 1-2 6-8 5-3.5 10-2.5 10-1 6 0 8 2 4-0.5 4-1.5zM151 373l0.5 2 1.5 1.5 4 0.5-2-4-2-1.5zM210 277l3 0.5 2.5 1.5 2 4-0.5 3-12 5-6 0.5-3-0.5-0.5-2 0.5-2 3-4.5 4.5-3.5zM634 365l1 0 1 2-1 2.5-2-0.5-0.5-2zM418 485l1-1 2 0 1 1z"/>
<path fill="#e0c1b6" d="M442.5 255l4.5-0.5 10.5 0.5 4 2 14.5 12 5 3.5 18 3.5 8-1.5 6 4 5 6.5 6 6 3 8 9 16 0.5 2-2.5 4-3 3-6.5 3-1.5 2 0.5 2 3.5 6 0 4.5-4 2-4-1-2-1.5-2.5-4-1.5-6-2-2.5-4-2-10-4-12 0.5-5 2-7 8-5.5 8-3 8-1.5 2.5-4 3.5-8 5-8 8.5-4 2.5-12 1.5-8 2.5-8-2-10 0-12-4-14-2-2-3 0.5-9-1-6-1.5-3-2-1-2 1.5-2.5 4.5-1.5 8.5-2 1-4 1-2-0.5-9-6-3.5-4-4-6-1-4 1.5-4 5.5-4 1-2-0.5-2-4-6-1-4 6-8 0.5-4-3-4-8.5-5.5-6-2.5-8-0.5-4 1-8 6.5-4 1.5-6 0-6 3-2 1.5-3 5-3 1.5-14-1.5-8 0.5-2-0.5-8-7-8-4-4 0.5-6 4.5-10 2-3.5 4 4 4 7.5 0.5 2 1 11 14.5 0.5 2-1.5 2-8 6-2 1-6-1-6 0.5-6-0.5-5.5 4-2.5 1-14-1-4 0.5-6 3.5-7.5 10-2.5 5.5-6 3.5-4 4.5-2 0.5-2-1-4-4.5-6-2.5-6-1-6 1.5-1-0.5-3-7.5-7-10.5-0.5-4 4-14 3.5-4 4-1 6.5 5 3.5 1.5 12-2 10 2 4-1 4-2.5 10.5-12 1-4-3.5-8 0.5-2 2.5-2 3-0.5 12 4 4-0.5 4-2.5 8-6.5 10-2 7.5-6 10.5-3 6-5 10-2 6.5-4 5.5-1.5 6-1.5 4 0.5 8 6.5 12.5 4 5.5 4 4 1.5 8 0 12 3 16-2 16 0.5 4-1 3-2 1-2 0-4 1.5-4 4.5-5.5 4-3 4-1.5 18-2 5 0 7 2 4 0zM215 313l-2 0.5-2 1.5 0 2 0 2 1.5 2 2.5 1 3.5-1 2-2 0.5-4-2.5-2zM208.5 279l3 0 2.5 2 0 2-1 1.5-6 3.5-4 1-2-0.5-1.5-1.5 1.5-3.5zM498 329l1-1 2 0 1.5 3-0.5 2-3 1.5-2.5-1.5 0-2zM531 345l2-1.5 3 1.5-0.5 2-2.5 0.5z"/>
<path fill="#dfbbaf" d="M445 257l8 0 6 1.5 13.5 10.5 10.5 6.5 8 1 8 3 8 0 2 1 6 7.5 6 4.5 2.5 6.5 5 6 3.5 10-1 4-4 3.5-10 4-20-9-8 2-10 1-4 3.5-3.5 5-5.5 10-3 8-2.5 4-4 4-5.5 3.5-10 10.5-6 2-14 2-8-2-12 0-4-1-10-5-8-0.5-4-1-2-14.5-2-4-2-1-2 1.5-4 6-4 0-2 3-2 1.5-4-0.5-4.5-2.5-3-4-3-8 1.5-4 2-2 3-1 0-3-6-10 0-2 6.5-8 0-4-2-4-10.5-7-14.5-5 1.5-2 5-0.5 10 2 16-2.5 12 0.5 8-0.5 2.5-1 2-2 0.5-6 2-4 3-4 4.5-4 21.5-3 4 0 8 2.5 4-0.5 10-5zM463 313.5l-1 1.5 1 2.5 2-1 1-1.5-1-1.5zM282 271l3 0 2 1 6 7 10 4 2 1.5 4 6 3 0.5 1 2-2.5 4-3.5 2.5-2-1-4-3-4 0.5-2 1-12 12.5-4 1-8-1-8 1-4-2-6-5.5-8-7.5-6.5-0.5 0-2 2.5-1 6 1.5 4-1.5 3.5-3 3.5-6 7-2 9-8zM223.5 297l6 0 4 2-1 2-4 2-5.5 1-4 0-0.5-1 0-2 2-2zM192 305l3-0.5 2 0 6.5 2.5 2 2 2.5 12 3 4 4 0.5 18-2 2 0.5 6 6 2 3-0.5 2-5.5 5.5-2 1-18-0.5-8 4.5-18 0-8 5.5-10 13.5-8 5.5-2 0-4-2.5-4-1.5-6-3-8-2-3-10-1-1.5-4-2.5-1-2 1-10 2-4.5 2-1.5 2 0 4.5 4 3.5 1.5 14-2 10 2.5 6-2 4-3 11-13 0.5-4-1-6zM517 335l2-1.5 2 0 2.5 1.5 0.5 2 0 2-3 1.5-2-0.5-2-3z"/>
<path fill="#ddb5a7" d="M439 261l8-1.5 8 0.5 4 2 9.5 7 12.5 8.5 2 0.5 8 1 8 4 8 2 20 21.5 2 4.5-0.5 6-1.5 2-4 2.5-4 1-4 0-18-9-2 0-8 2.5-3-1-5-5.5-2-1-12 0.5-4 2-1.5 2-1 2 0.5 4 2 3.5 2 1 4 0 2 1.5-2.5 8-5.5 13.5-4.5 6.5-5.5 4.5-12 11.5-4 1.5-10 0.5-4 0-6-2.5-12 1-6-1.5-6-4.5-4-1.5-10-0.5-2-2-1-8.5-3-7-2-1-6 6-2-1-4-4-7-9-8-14 0.5-2 4.5-5 1.5-3 0.5-4-1-2-3-3.5-12-8.5 2.5-2 15.5-2.5 16 0.5 8-0.5 2.5-1.5 1.5-2 0.5-6 1.5-4 4-4.5 4-2.5 8-0.5 12-2.5 14 2.5 4-0.5zM279 273l6.5 0 2 2 3.5 7.5 2 2 5.5 2.5-0.5 2-5 1.5-2 2-5.5 8.5-4.5 4.5-2 0.5-8-0.5-6 1-4-0.5-5.5-5-0.5-2 0.5-2 3.5-3 4-2 4 0 6 3 2-0.5 3.5-9.5-0.5-2-5-1-1-3 0-2 1-2zM195.5 309l1.5-1 2 0.5 3.5 2.5 2 10 2.5 4.5 4 2 10 0 8 1.5 4 6 2.5 0-4.5 1-6 2.5-12 2-8 3-6 0.5-8 0-8.5 5-13 14-4.5 3-10-2.5-8.5-6.5-2.5-4-4-10 0-4 1-0.5 18-3.5 10 3 2 0 8-3.5 2-1.5 6-7 6.5-5 1.5-2zM346 345l3 0 4 2 1.5 4-1.5 2-2 0.5-2-0.5-2-2-1.5-4z"/>
<path fill="#dbafa0" d="M438.5 263l8.5-1 7.5 1 20 12 6.5 5.5 10 2 14 6 10.5 10.5 7.5 5.5 2.5 2.5 1 6-1.5 4-4 2.5-6 0.5-16-8.5-4-0.5-8 1-2-1-8-6.5-8-1.5-2 0.5-8 7-2.5 4.5 0.5 7 6.5 9-0.5 4-3.5 10-5.5 8-15 15-4 1.5-6 0.5-6-0.5-8-4-10 2-4 0-4-1.5-8-6.5-4-0.5-6 0.5-2-1-3.5-11.5-2.5-4-2-1-6 5-6-5-7-9-6.5-12 0.5-2 5-6 1-6-3-5-7-5-3.5-4 3-2 11.5-2.5 20 1.5 6-1 3.5-4 0.5-6 1.5-4 3.5-4 3-2 8 0 12-2.5 14 2.5zM262 299l3-1 2 1-0.5 2-1.5 1-3-1zM189 327l4-1.5 6 0 10 4.5 12 0.5 1.5 0.5 1 2-1 2-3.5 2-10 2-8 3-8 0-4 1.5-7.5 3.5-4.5 4.5-6 3.5-6 6.5-2 0.5-4-0.5-4.5-2.5-4-8-3.5-4-1-2 0-2 1-1 7-3 5-1 4 1 6 3.5 2 0 4-3.5 7-4zM161 348.5l-1.5 0.5-0.5 2 2 1.5 2.5-1.5-0.5-2z"/>
<path fill="#d9a999" d="M439 265l6-1 6 1 6 4 16 7.5 5 6.5 3 2.5 4 1 10 1.5 8 3 12 11.5 7.5 4.5 2 4-1.5 4-4 2.5-4 0-16-8.5-12 0-2.5-2-5.5-5.5-4-2.5-4-0.5-4.5 0.5-9.5 11-2 5 0 8 5 10-0.5 4-2 6-4.5 8-10 12-4.5 4-5.5 2-8-1-6-3.5-4-1.5-10 2.5-6-0.5-10-8-10-2-2-2-6-11.5-2-0.5-4 3.5-2 0.5-10-9.5-8-12.5-0.5-2 4.5-6 2-4 0-4-0.5-2-3-4-8-6-1-2 3-2 9.5-2 20 2 6-1 3.5-3 1-2 1.5-8 2-2.5 4-3.5 8 0.5 12-3 12 2.5zM190.5 329l4.5-0.5 4 1 6.5 3.5 1 2-3.5 4-4 2-8 0-12 3.5-2-1.5 0.5-2 1.5-1.5 4-2.5 4.5-6zM158.5 345l0.5-1 2-0.5 0.5 1.5z"/>
<path fill="#d7a491" d="M440 267l5-0.5 3.5 0.5 6.5 5 8 2 6.5 3 2.5 2 1 2 0.5 8 0 2-1.5 2-7.5 4-11 14-1.5 8 0.5 4 4 10 0 6-5.5 12-7.5 10-4.5 4.5-4 2.5-4 0-4-1-6-4-4-1.5-4 0-8 2-4-0.5-3.5-2-4.5-5-4-3-12-4.5-6-8-2-1-4 3.5-2 0.5-10-9.5-6-9-1-4 5.5-8 0.5-6-3-5.5-8-6.5-1-2 3-2 10-1.5 20 3 4-0.5 2-1 3.5-4 2.5-10 4-3 8 0 12-2.5 8 2 4-0.5zM419 329l0 2 2 1 4 0.5 3-1.5-3-2zM483 293l10-1.5 6 1.5 8 6 6 5.5 8 4.5 0.5 2-1 2-3.5 1.5-18-8-8 0.5-4-1-3-3-2.5-4-0.5-4zM192 331l3 0 4 1.5 2.5 2.5 0 2-2.5 2-2 0-8-0.5-1-1.5 0-2 1-2z"/>
<path fill="#d59e8a" d="M431.5 271l11.5-1.5 4 0.5 8 6 6 0 4 1.5 2.5 1.5 2 4-2.5 8-12.5 14-3 4-1.5 8-0.5 6 4.5 10 0 6-7 14-5 8-4.5 4-4.5 2-4-0.5-8-5.5-4-1.5-12 1.5-4-0.5-2-1.5-6-7.5-6-4-4-2-8-1.5-4-5-2-0.5-4 3-2 0-6-4.5-4-4-5.5-10 0-2 5-8 1-6-4-6-7.5-6-0.5-2 3-2 8.5-1.5 16 3.5 6 2.5 2 0.5 4-4 3-5 2.5-8 2.5-2 16-2 14 0.5zM419 327l-4 2 0 2 2 2 10 1.5 4 0 2-1.5-0.5-2-3.5-2-5.5-2zM492 295l3 0.5 2 1 2 2.5 0.5 2-2.5 2-4 1-5.5-1-1.5-2-0.5-2 0.5-2z"/>
<path fill="#d39883" d="M430.5 273l14.5 0 8 5.5 2 0.5 6 0 2 1 2 3-1 6-2 4-5 7-6 5-3 4-1 4 0 10 4 10 0.5 4-10 22-4.5 5-4 1.5-3-0.5-7-5-4-2-12 0-4-0.5-2-1.5-6-7-9-6-5-1-6-0.5-4-4-2-0.5-4 2.5-2 0.5-6-4.5-4-4-4-8.5 5-10 0.5-6-2-4-3.5-3.5-5.5-4.5-0.5-2 3-2 5-1 8.5 1 7 2 3 2 5.5 7.5 2 0.5 2-1.5 2-3 6-15.5 2-2.5 14-3 14 0.5zM439 342l-2 2-0.5 3 0.5 2 2 0.5 2-1.5 1-3-0.5-2zM415 327l-3 2 0 2 2 2 3 1.5 18 2.5 2.5-2-0.5-2-1-2-7-3.5-8-1.5z"/>
<path fill="#d2927c" d="M431 275l14 1.5 8 5 6 2.5 1.5 3-0.5 4-3.5 6-11.5 10-1.5 2 0.5 14 0.5 4 3 6-0.5 5-2 1.5-2-1.5-1.5-5-1.5-2-5-3-6-2-10-1.5-6 2-3.5 2.5 0 2 1.5 2 4.5 2 13.5 2.5 4.5 1.5 1.5 2-1 10 1 2 3.5 2 1 2-1.5 4-2 2-3 1-2-0.5-6-5-6-2.5-10 0-4-1-8-7.5-9.5-6.5-4.5-1.5-8-0.5-4-3-2-0.5-4 2-2 0-6-3.5-4-4.5-2-4.5-0.5-2 5-10 1-6-2.5-4-9-8-1-2 1-0.5 2.5-1.5 5.5-0.5 4.5 0.5 5.5 2 2.5 2 2 4 7.5 8 2 1.5 2-0.5 4.5-3 1-2 2.5-14 2-4.5 2-1.5 12-3 14-0.5z"/>
<path fill="#d08b75" d="M424.5 279l8.5-1.5 11.5 1.5 10.5 7.5 1.5 2.5-1 4-3.5 6-3 3-8 2-2.5 3 1 12-0.5 4-2 2-18-1.5-8 2.5-4 3 0 2 1.5 2 4 2 16.5 4 3.5 2 0 2-1.5 10 0.5 2 3.5 4-2 2-5-4-7-2.5-4-1-8 0-4-1-8-7.5-10-6.5-12-2.5-6-2.5-6 1-4-1-4-4-2-4 0-2.5 4.5-10 1.5-5.5 1.5-2.5 4.5-1.5 4 0.5 8 7 7-2 4-2 1-2 1.5-16 1-2 1.5-1 10-4 10-0.5zM349.5 291l5.5 0 5.5 2 1.5 2-5 7.5-2 0-8-7.5-1.5-2z"/>
<path fill="#ce856d" d="M422.5 281l10.5-0.5 10 2.5 1.5 2 0 2-8.5 8-9 6-4 4-4 0.5-8-1-1.5 0.5-1 2 3.5 6 6 6 0 2-12 6-1 2 0 2 2 3 4 2 15.5 3 3.5 2 0.5 2-0.5 4-1 3.5-2 2.5-2 0.5-8-2-10-1-8-7.5-8-5-12-4.5-16-3-4.5-3.5-1.5-4 0.5-4 3.5-9 2.5-3 3.5-1 2 0.5 6 5.5 2 1 10-2.5 2.5-1.5 2-2 1.5-10 3-8 1.5-2 5.5-2.5 8-0.5zM347.5 293l5.5-1.5 5.5 1.5 1 2-2.5 4.5-2 1-6.5-5.5zM426.5 315l4.5 0 1 2-2.5 2-2.5 1-3.5-1 1.5-2.5z"/>
<path fill="#cc7f66" d="M419.5 283l5.5-0.5 4 0.5 3 2 1 2-0.5 2-3.5 5-8 6-4 0.5-10 0-3.5 2.5-1 2 0.5 2 9.5 12 0.5 2-8 5-1.5 1-0.5 4 2 4 2 1 20.5 5 1 2-1.5 6-2 1.5-2 0-6-1.5-8-1-2-1-5.5-6-2.5-1.5-18-9-14-3-5-4.5-0.5-2-0.5-4 2-5 2-3 4-0.5 6 5.5 2 1 12-3 5.5-5 1.5-10 4.5-8 3-2zM349.5 293l5.5 0 1 0 1.5 2-2.5 3-2-0.5-2.5-2.5z"/>
<path fill="#ca795f" d="M417.5 285l5.5-0.5 3 0.5 2 2-0.5 4-4.5 4.5-6 2-5.5-0.5-9-2 0-2 2.5-2.5zM368 311l1.5 0 3.5 4.5 4 1.5 12-3 8-4 2-0.5 4.5 3.5 4 6 0.5 2-5.5 4-1 2-1 6-1.5 2-4 0-3.5-2-8.5-6.5-12-1-4-2-2-2.5-0.5-4 1.5-4zM410 339l13 2.5 2.5 1.5 0 2-2.5 2.5-12-3.5-3-3 1-1.5z"/>
<path fill="#c87358" d="M418 287l3-0.5 2 0.5 1 2-0.5 2-4.5 3-6-1-0.5-2zM394.5 315l2.5-1 2 0 2 1 2 4-0.5 2-4 4-1.5 6-2 0-2-1.5-4-6.5-5-2-2-2 2-2 7 0z"/>
</g></g>
<use href="#grid"/>
<g clip-path="url(#sec)">
<path class="d" d="M54.5 91l-1 6-2 4-2.5 1.5-4 0.5M45 116.5l8 1.5 4-1 2 0 2 2 4 6 4 1.5 4 0 4-2 6-6.5 7.5-7 1-2 0-4-2.5-2-2-0.5-6 0-9.5 4.5-6.5 1.5-4 0-3-1.5-1.5-2 0-2 2-2 8.5-4.5 1-1.5 1-4M159 127l-2 1-4 7-0.5 2 0.5 2 2 2 3.5 2 2 2 0 2-2 8 0.5 5.5 2 2 4 1 6-2.5 4-4 1.5-4 0-6-2-10-1-2-2.5-1-6-2zM141 110.5l-1.5 0.5-0.5 2 0.5 4-1 2-3.5 3-2 2.5-0.5 2.5 1 4 1.5 2.5 6 4 2 1.5 3.5 6 3.5 4 1.5 2 2.5 10 3 4.5 4 2 4 0 10-3.5 4-5 2.5-6 2-16-0.5-4-2-6-2-2.5-4-2-1.5-1.5-4.5-7-4-2-6-2-16 0zM45 149.5l6-1 2 0.5 4 4 2 1 9-7 3-0.5 10-1 4-2 5.5-4.5 3.5-4 1.5-6 1-2 2.5-1 6-1 3.5-2 2.5-4 2-7 6-5 3.5-4 0.5-4-3-6-0.5-2M155.5 91l-1.5 4-3 1.5-8-2-2-1.5-0.5-2M45 164.5l6 1 12 7.5 2 0.5 2.5-0.5 1.5-0.5 6-6.5 6-2.5 2-2 3-8.5 3-3 8-5 6-5 10.5-5 7.5-6 10 14 2.5 6 1.5 2 2.5 2 9.5 5 8 9.5 4 2.5 4 0 6-1 6.5-2 3.5-2.5 6-9.5 4-14 0.5-6-1.5-14-1-4-3.5-6 0-2 1-10 4.5-5 1-3M769 118.5l-4-1-2-0.5-2 1-2 2-1 3 1 4 2.5 4 0 2-2 6 0.5 2 3 2.5 6 1M755 149l-3 2-2 4 0.5 4 2.5 1.5 2-0.5 2-1.5 2-3.5 0-4-2-2zM45 172.5l2.5 0.5 5.5 4.5 4 2 8 2 6 0 4-2.5 4-6.5 8-4.5 2-2 3-7 2-2 3-0.5 8 0.5 4-0.5 3.5-1.5 6.5-3.5 2-0.5 8 5.5 16 6 7.5 6.5 4.5 3 4 0.5 4 0 6-1.5 6-2 4.5-4 10-16 2-12 0-12 1.5-12 2.5-8 2.5-14M769 180l-2.5 1-1 2 0 2 1.5 4 2 2M747 199l-1.5 2 0.5 2 1 2.5 2 1.5 2 1 2-0.5 3.5-2.5 0-2-2.5-2-5-2zM680.5 91l2.5 3 2 1 2-0.5 2-3.5M764.5 91l-1.5 6 0 2 2 1.5 4-0.5M769 108l-6-0.5-2 1-11.5 6.5-8 6-6.5 2.5-4 1-2-1.5-2-4 0.5-8 3-8 0-2-1.5-2-2 0-4 4.5-2 1.5-2 0.5-10-3-10 2.5-8 0-1.5 2 7.5 0.5 8 2.5 4 2 2.5 3 1.5 6 6 13 2 1.5 2 0 6-1 1.5 0.5-2.5 6 0.5 4 0.5 2.5 4 4 2 3.5 3 18 0 2-5 3-2.5 3-4 12-1 12 2 12 5.5 10 3 10 3 3.5 4 1.5 4-1 6-4 4-1.5 4 0 8 2M742.5 179l0.5-1 2-0.5 2.5 1.5 0 2-2.5 0.5zM45 183.5l14 4.5 8 5 4 0.5 12-2.5 3-2 1.5-2 0-4-2-6 1.5-2.5 6-3.5 6-6 6-1.5 14-1.5 12 0 8 2 6 2.5 9.5 6.5 4.5 1.5 8-0.5 10-3 3-2 3-3 9.5-13 2-4 4-24 4.5-8 5.5-14-0.5-12M662.5 91l-0.5 8-3 8 0 4 1.5 2 6 4 10.5 4.5 6 5.5 6 4 2 3 2 7.5 2 3.5 2 2 6 1.5 1 0.5 0.5 2-0.5 2-2.5 6 1.5 6-0.5 8 1.5 2 5 2.5 2 1.5 1.5 6 0 4-3 6-0.5 4.5 2 3.5 6 6.5 6 16 9.5 15.5 4.5 4 4 2 6 1 4-0.5 4-2.5 4-1.5 10 0M45 191.5l5 1.5 9 7 6 1 8 0.5 12-4.5 4-2.5 7-7.5 9.5-16 2.5-2 3-0.5 16-2.5 6 0 10 3 12 6.5 6 1.5 4-0.5 6-1 8-4 5.5-4.5 8.5-11 3-5 1.5-4 2.5-16 1.5-4 9.5-13.5 7-8.5 1.5-4 2.5-10M626.5 91l7 6 5.5 10 6 5 1.5 3 0 8 1 2 1.5 1.5 2 0 5.5-3.5 2.5-0.5 4 1 4.5 3.5 1 2 0 2-2 8 0 4 6 12 2.5 4.5 5 5.5 2.5 8 3.5 6 3.5 4 5.5 4.5 2 3 1.5 4.5 1 6 1.5 4 14 16 6 11 10 15 6 5 10 7 2 1 2 0 4-1.5 8-6.5 2-1 4-0.5M650.5 91l-0.5 4-1 1.5-2 1-2-0.5-1-2 0.5-4M611 147l0.5 2 1.5 1 2 0 1.5-1 0-2-1.5-0.5-2-0.5zM45 212.5l8 0 8-1.5 2 0.5 6 3.5 2 0.5 2-1 16-14 6-6 9-7.5 8.5-12 2.5-2 5-2 7-1.5 6 0 8 2.5 12 5.5 8 1.5 6-0.5 4-1 10-5 5.5-5.5 6.5-7.5 4-6.5 2-4 3.5-16 1.5-4 11-13 8.5-9 8-16M604.5 91l6.5 14 2 1.5 2 0.5 1 2-2.5 6 0 4 2 4 4.5 6 0.5 2-0.5 2-1.5 2-3.5 1.5-6 0-2 0.5-4 2-1.5 2-0.5 2 1 4 7 12.5 4 2 4-0.5 6-4 8-1.5 4-1.5 8-6.5 4-1 6 0 4 2 6 5 4.5 7.5 1 4 0.5 10 5 16 2.5 4 2.5 2 8-1 4 2.5 6 11.5 16.5 17 7.5 12 4 8 6.5 8 3.5 6 2 2 4 2 6 1.5 14-2.5 8 1M631 162l-2 1.5-2 3.5-0.5 4 0.5 2 2 2.5 2 0.5 4 0.5 2.5-1.5 1.5-2 0.5-2-0.5-4-2-3-2-2-2-0.5zM45 221.5l4 0.5 6 3.5 2 0.5 2 0 6-4 6-1 4-1.5 6-6.5 11-10 5-6 11.5-8 15.5-14 3.5-2 3.5-0.5 4 0.5 16 6.5 4 1 6 0.5 6-0.5 4-1 10-5 6-5 5.5-6.5 6.5-10 2-4 4-14.5 2-4 14-14.5 6-3.5 8-3 2-2 4.5-10.5 3-6M410 91l3 6 7 10 3 2 2 0 4-1.5 2-1.5 4-9 5.5-6M593 91l4 6 1.5 4-1.5 10 0.5 4 1.5 3 5 5 1 2-1 4-5.5 8-1.5 4 0.5 4 1.5 4 6.5 12 7.5 7.5 6 2.5 6.5 6 3.5 2.5 14 4.5 4-0.5 6-2 4 0.5 10 8.5 6 8.5 2 2 4 1.5 2 0 4-2 3 0.5 1.5 2 1.5 6 3 4 13 12 6 8 5 8 3 8 4 7.5 6.5 8.5 4.5 4 7 3.5 6 1 8-1 3 0.5 1.5 2 3.5 9.5 2 3 2 1M646.5 159l0.5-0.5 2-1 6.5 3.5 2 2 0.5 2-1 4-2 2-4 0.5-2-0.5-2-1.5-1.5-4.5zM45 228.5l10 3.5 4 0 2-1 8-6 6-2 2.5-2 7.5-8 8.5-6 8.5-10 19-12 6-6.5 4-2.5 4 0 14 6 8 1.5 6 0 6-1 6-2.5 4-2.5 8.5-6.5 7.5-8 2.5-6 3.5-4 6-16 3.5-6 5-4 7.5-7 4-2 10-2 5-3 5.5-6 1.5-8 1.5-2 6.5-4 1.5-2M332 91l3 4 4 2 2-0.5 2-1 3-4.5M370 91l2 6 1 1.5 2 0.5 2-0.5 8-4.5 2 0 4 1.5 8 5 2 1.5 1.5 3 0.5 4 2 3.5 6 3 4 1 12-2.5 4-1.5 4-2.5 3-3 5-7 12-5 2-0.5 8 1 10 0 4-1.5 3-3M494 91l2 2 3 1 2-1 2-2M514.5 91l3 4 3.5 2 12-1 8 2.5 4 0.5 10.5-4 3-2 1.5-2M578.5 91l4.5 11.5 6 7 3.5 11.5 4 6 0 4-2 6-0.5 4 3 10.5 4 7.5 10 15 2 1.5 8 3.5 16 9 4 1 8-0.5 4 1 6 4 6 3 8 7.5 12 6 7 7 11 9 9 11 3 6 3 10 0.5 4 0 6 0.5 1 28 19 8 2.5 2 1.5 8 7.5 4 2.5M270 97l1-1 2 0.5 1 2.5-1 1.5-2-1zM243 131l-1.5 2 0 2 1.5 4 4 4 2 1 2 0 1.5-1 3-4 0.5-2-3-4.5-2-2-2-1-4 0.5zM45 236.5l10 0 4-1 4-1.5 6-5.5 9-5.5 7-7 10-7 10-10 18-10.5 5.5-7.5 2.5-1.5 2-0.5 4 0.5 7.5 3.5 8.5 3.5 12 0 8-2.5 14-9.5 8-8 2-3.5 2-5 4-5 4-10 4-7.5 2-2.5 10-7 6-2 12-0.5 6 1 2 0 2-1.5 6-8 3-2 9-4 2.5-2 3.5-5 6 1.5 8.5 3.5 3.5 1 3.5-1 2-2 1.5-6 1.5-2 5.5-3 9-3M45 243l10-2 8-4.5 37-29.5 9-8 6-3.5 11-4.5 3.5-6 1.5-1.5 2-1.5 4 0.5 14 6.5 4 1 10 1 4-1 4-2 16-12.5 8-8 1.5-2.5 1-4 4-6 5.5-11.5 4-5.5 6-4.5 6-2 6 1 2 1 6.5 7.5 5.5 5 4 2 4 0 6-3 2-2 2-3 1.5-5 0-12 0.5-2 2-2 14-2 10 1.5 6-1 4-1.5 3.5-3 4.5-7.5 2-1 2.5 0.5-0.5 9.5 2 3 4-1 8-4.5 2-0.5 2 0.5 6 2.5 6 7 2 1 2-0.5 1-1 1-2 1-10-2.5-6 0.5-2 3-2.5 2-1 2 0.5 4 4 6 3.5 6.5 5.5 1 2-0.5 8-3 5.5 0 2.5 2 3 4 2 8-1.5 8 0 10-1.5 8-5 12-5 12-3 10-7 4-1 8 1 2-2 2-0.5 4 1 4-4.5 10-0.5 8-3 2-0.5 2 0.5 6 7 2 1 2 0.5 4-1 8-3.5 12 0 12-0.5 6 1.5 6 5 2 1 4-1 3-2.5 7-8 4-2 2 1 1.5 5 6.5 6 6 4 3 4 5 12 0.5 10 3.5 13.5 1 2.5 6.5 8 3.5 12 1.5 2 3.5 2.5 12 3 12 6.5 14 2.5 4 1.5 11 6 5 5 8 5 12 10 10 6 4 4 5.5 8 5.5 16-0.5 4-5 4-1.5 2 0.5 2 3.5 2 9.5 4 6.5 6 10 5.5 10 9.5 13 7 1.5 2 0 2-2 4 1.5 2.5 8 3.5M221 181l-1 2 1 3 2 0.5 2-0.5 2-3 0-2-2-1-2 0zM45 249l8-2.5 4-2.5 26-21 8-5.5 8-7 6-4 8-7 4-1.5 6-1 4-2 2.5-2 3-6 2.5-1.5 2 0 6.5 1.5 11.5 7 10 1 8-2 25-22 2.5-4 1-6 3.5-5 4-9 6-6.5 6-3.5 4 0 4 1.5 12 8.5 8 7.5 2 0 4-2 7-5.5 2.5-4 4.5-8.5 4-3.5 2-1.5 8-1 12 0.5 6-1 2 0.5 2 1.5 1.5 3 2 8 2.5 3 2 1.5 2 0 4-2.5 6 1.5 4 1.5 5.5 5 2.5 0.5 2.5-0.5 2-2 1.5-6 2-2 2-0.5 2 0 2 2.5 1.5 4 3 4 3.5 2 2 0 8-4 6 0 4-1 6-4 4-1.5 14 0 4-2.5 6-5.5 10-3.5 6-0.5 2-1 4-3 4-0.5 1-1 0-4 0.5-2 2.5-2.5 2-1.5 2-0.5 4 0.5 6 1.5 6 3.5 8 3 12 2.5 8-0.5 6 1 4-1 6-3.5 6-2 6-3.5 2-0.5 2 0 2 1.5 4.5 4 7.5 2 12-1 10-4 4 0 6 2 10 1.5 2 1.5 2 3 4 8 5.5 23 1.5 2 5 5 1.5 3-1.5 12 0.5 2 1.5 3 4 2.5 4 1.5 14 1.5 10 4.5 12 2.5 6 2.5 10 5.5 10.5 8.5 5.5 6.5 10 7 10 4.5 4 4 2 4 2.5 10 3.5 5 1 3-1 2-6 2.5-2.5 1.5-2.5 4 1 3.5 2 2 2 0.5 8 1 4 2 4 3 4.5 6 8.5 6 1.5 2 3 8 2.5 4 9 12 5 5 2 1.5 4 1 10-1M447 123l2-1.5 2 0 2 1.5-0.5 2-1.5 1.5-4 1-0.5-2.5zM45 256l8-4 15-15 7-5 8-7 10-6 6-6.5 8-3.5 8-7.5 2-0.5 4 1 2 0 6-3 4.5-4 4-6 1.5-0.5 4 1 3 1.5 5 5.5 2 1 12 1 8-0.5 4-1 2.5-2 3.5-3.5 6-4.5 3.5-6 8.5-7 1.5-3 1-8 5.5-12 4-5.5 6-3.5 4-0.5 4 1 8 5 4 3.5 1.5 4-1.5 16.5-0.5 1.5-1.5 2.5-12-0.5-4 1-4 3-2.5 4-5.5 16 0 2 2 1.5 2 0 2.5-1.5 3.5-2.5 6-1 4.5-2.5 1.5-2-1.5-4-0.5-2 2-3.5 2 0 2 1.5 2 0 1-2 1.5-6 7.5-3 6-5 1-2 1.5-6 1-2 8-8 5.5-10 3-2 8-3.5 4 0 2 1 6 6 8 1.5 2.5 1 2.5 2 2 4 2.5 2 18.5 6 6 1 12-1 12 2 4-0.5 8-5 8-2.5 8-4 4-1 4 0.5 6 4 2 1 2 0 2-1 4-4.5 2-0.5 4 0 6 3.5 4 1 12-2.5 5-2.5 8.5-6 3.5-4 1.5-6 1.5-1.5 2 0 2 0.5 16 9 4 0.5 8-3.5 12 0 2-1 6-5.5 2 0 6 1 6-1.5 4-0.5 14 1 4-0.5 10-4 4-0.5 2 0.5 6 4 8 0.5 2 1 4 4.5 6.5 24 1.5 2 5.5 4 1 2-0.5 2-3.5 4-0.5 2 0.5 6 0.5 4 3 4 4 2 6 2 12 0.5 4 0.5 19 7 11.5 6 5 4 6.5 4 10 12 10 5 10 7 1 4-1 2-6 2-2 3.5 0 2.5 1 2 1 1.5 2 1 2 1.5 0.5 2-0.5 3-2 2.5-2-2-1-3.5-1-1.5-2 2 0 3.5 2 4 0 2-1 2-3 3.5-1 2.5 0 2 1.5 2 3.5 2 2 0 6-3.5 2 0 4 2.5 2 0.5 2-0.5 4-3.5 2 0 2 0.5 2.5 2 6.5 10 1.5 4 0 6 2 4 9.5 7.5 9.5 10.5 6 8 2.5 2 4 1 12 1M220 145l3 0 4 1.5 7 6.5 1.5 4-0.5 6-2 4-2 1.5-10 4-8 4.5-4 1.5-2-1.5-1.5-6-0.5-4 1-6 3-7 3.5-5 2.5-2zM279 155l3 2 1 2-1 2-1 0.5-2-0.5-2-2 0-2.5zM203.5 181l3.5-1 0.5 1 0.5 4-1 2-2 1-4-0.5-1-2.5 1-2zM45 270l1.5-3 1.5-2 7-5 2-2.5 3-6.5 5-5.5 4-6.5 6.5-4 7-8 10.5-4.5 2-1.5 4-5.5 2-1 4 0 6 2 1-1.5 2.5-6 1-2 3.5-1 8-1 6-2.5 5-3.5 1.5-2 0.5-4 1-0.5 2 1 3 5.5 3 2 23.5 2 4.5 2 2.5 4 3 2 18.5 1.5 8-3 16-0.5 8-3 8-1 7.5-2 1.5-2 0.5-2-2.5-10-0.5-2 1.5-1.5 4 0.5 2 0 4-2 4-3.5 6-1.5 5.5-6 8.5-7.5 2-1.5 6-1.5 2 0 6 3.5 4 1 4 0 10-3.5 4 0 20 2 10-0.5 10 2 4-1 8-5 16-6.5 4-0.5 6 3 4 1.5 12-1.5 10 4 6-0.5 4 1.5 4 0.5 3-1.5 19-14 6-3 2 0 4 0.5 12 6 12-1.5 2-0.5 8-4.5 4-1 2 0 4 2.5 6 6.5 4 1.5 2-1 2-2 5.5-11.5 2.5-1 6 0 4 1.5 6 5.5 2 0.5 10 0 6 2 6 1 2 0.5 2 2 2.5 6-0.5 12 1.5 8-1.5 6 0 4 3.5 6 2.5 6 2 2 2 0.5 8-2 14-1 4 0.5 8.5 4 6 6 2 8 3.5 4.5 2 5.5 0 9 1 1 9 4.5 10 10 2 0.5 1-1 1.5-2-0.5-2-1.5-4-6.5-10-5-6 0-2 5-1.5 4 1 4 2.5 5.5 6 6 4 2.5 4 1.5 10-2 8-1.5 8-2 3.5-2 2-7 2.5-2.5 2 7.5 3.5 10 7.5 7.5 3 4.5 3.5 3 2.5 6 8 5 5 8 3 8 6.5 7.5 3.5 4.5 6 3.5 8 2.5 4.5 2 1 10 1 10 4 4 1M540.5 143l2.5-1 2 0.5 1 0.5 0 2-1 1.5-2 0.5-2.5-2zM216 149l5-1 4 1 2 2 2 4 0.5 4 0 2-2.5 3.5-4 2.5-8 4.5-4 0.5-2-0.5-1.5-2.5-0.5-2 1-6 3-7 2-2.5zM651 257l-2 2 2 1 3-1 1-2-2-0.5zM45 308.5l2-1.5 2.5-4 1-12 3.5-10-0.5-6 1-4 2.5-3 4-3 4-2.5 8-3 2.5-2.5 0-4-3-6-0.5-2 0-2 7-6 4-6.5 2-1.5 10-3.5 6-4.5 2-0.5 2 1 4 4 4 2 4 0 14-2 4-2.5 2-2 0.5-4-2-6 2.5-4 3-3 2 0 6 1.5 12 0 6 2.5 2 2 1.5 3 1.5 10 1 3.5 2 2.5 2 1 2 0 4-2 6-6 4-1.5 12-2.5 8-3.5 4-0.5 10 0.5 8-2.5 16-0.5 6-1.5 4.5-3 0-2-2.5-0.5-1-1.5 0-2 1-1 6-1 2.5-4 9.5-4 14-12 14-1 8 0 6-5 3-2 5-1.5 6 0 10 2.5 8 0 10 1.5 6-0.5 8-4 8-1 4 2 4 4 2 1.5 2 0 2-1.5 6-5.5 2-1 4 0 4 1.5 6 4 4 0.5 14-2.5 20-8.5 4-2.5 3-5 2.5-2 4.5-0.5 2 0.5 2 1.5 1.5 2.5 0 2-1 6-2.5 6-0.5 4-1.5 2 0 1 2 1 4.5-4 5.5-1.5 2-1 2-5.5 2-1.5 4 0 4 2.5 2 0 1-1 3-4 2.5-8 1.5-2 3.5-2 2.5 0.5 2 1 6 4.5 6 1 7-1 9-3 8 1 12-1.5 3.5 1.5 1 2 3 16 0 2-1 2-3 4-0.5 2 0.5 2 2.5 4 9 8 5 8.5 4 3.5 6 2 6-0.5 10-2 4 0 2 0.5 2.5 2 9.5 13.5 8 6.5 4 9 2 1.5 5.5 1.5 2.5 1.5 8 8.5 0.5 2 3 4 1 2 0 2-1 2-6.5 8-1 4 1 4 1.5 2 7 6 4 8 3 4 9.5 6.5 2 0 8-1.5 2 1 3 4 1 7 6 2 12 11 0.5 2 0.5 8 1 5.5 2 3.5 4 3.5 1.5 3.5-0.5 12 1.5 4 2.5 2 13 5.5 8 4.5 2.5 0 1.5-1 1.5-3 2.5-0.5 2.5 0.5 1.5 2-1 2-2.5 2-0.5 2 1 6-0.5 4-4 8-1 4-0.5 4 3.5 6 0 2-5.5 8-0.5 8 3.5 15.5 2 2.5 4 3 3 3 3 9 6 7.5M659 313l-3.5 2-2.5 4.5-1.5 7.5 1.5 3 2 1 2 0 14-3.5 3.5-2.5 1-2-0.5-2-6-3.5-4-4-2-1zM757 359l2-1 2 0.5 2 2 0 2.5-2 3-2 0.5-2-1.5-1-2zM214.5 153l2.5-1 4-0.5 2 1.5 1 2 0.5 4-2.5 4-2.5 2-4.5 2-2 0.5-2-1-0.5-5.5 1-4zM559.5 169l2 0 1.5 2-2 2-2-0.5-1-1.5zM297.5 191l3.5-1.5 2 0.5 2.5 3-0.5 6.5-2 4.5-2 2-2-0.5-2-1.5-2-3-0.5-2 0.5-4 1-2zM311 197l2-1 2-0.5 2.5 1.5-1 2-1.5 1-3-1zM405 231l-8 2-2 1.5-1 2.5 1 2 2 1.5 2 0 6-1.5 10-0.5 3.5-1.5 2-2 0.5-2-1-2-3-1-6-0.5zM637.5 247l1.5-0.5 2 0.5 3 2-1 2-4-2zM45 330.5l3-3.5 2-6 4.5-6 2.5-6 1-4 0.5-8 4-8 3-14 7.5-10 6-2.5 1.5-1.5 0.5-2-0.5-6 0.5-2.5 6-11 2-2.5 6 6 2 1 4 0.5 4-1 18-5.5 2 0 6 1 2-1 8-12.5 4-10.5 2-2 4-2 4-1 4 0 3.5 1 2.5 2 2 4 2.5 12 3.5 6 2.5 6 3.5 2.5 4 0.5 3-1 2-2 0.5-2 0-4 2.5-4 5-4 5-1.5 10-0.5 10-2.5 10 0.5 8-3 12 0 18-5 16 1 6 1.5 8-1 10 1.5 6-1.5 2.5-1.5 6-6 7.5-3.5 2-2.5-0.5-4-5.5-12-0.5-4 0.5-2 1.5-2 4.5-2 12 0.5 4 1 4.5 2.5 5.5 5.5 2 0.5 6-0.5 4 1 8 8.5 4 1 4-0.5 6-1.5 14 1 10-2.5 6-0.5 4-2 4-3 4-2 4 0.5 6 2.5 20 5.5 4-1 12-4 8.5-8.5 1.5-2 2-5.5 6 0.5 10-4 3.5-3 2.5-2.5 2-1 8 0 10 3 10 1 3.5 1.5 1 2-3 6-1 4 0.5 8-0.5 6 2.5 2 11 1 7.5 3 1.5 2 0.5 2-0.5 6 0 2 4.5 8 2.5 1.5 12 1.5 10 2 6 6 4 1.5 8 0 4 0.5 3 1 5 4 1 2-1 2-0.5 4 2 6 3 6 5 8 5 10 7.5 13 4 5 0.5 2-1 2-7 6-1 2 3 22 2 4 3.5 3 4 0.5 20 0.5 10-2 6 3 6 1.5 2.5 1.5 1.5 4.5 1.5 9.5 3 6 0 2-1.5 6 0.5 4 6.5 8 1 2 0.5 12 1 4 3.5 6.5 11 9.5 2.5 6 0.5 4 0 4-3 10 1 6-0.5 8 0.5 2 1.5 2 6 4 2.5 3.5 5.5 20.5M217 157l1 2-1 2-2 1-1-1 0-2 1-1.5zM185 252l-4 3-1 2 0 2 3 2 4 0 3-2 0.5-2-0.5-2-1-1.5-2-1.5zM45 385l3-2 3-3.5 4-6.5 2-6 0.5-4-1-4-1.5-3-4-5-0.5-2 1-2 5-6 0.5-2-0.5-6 1-2 6-8 2.5-8 3.5-6 3.5-8 2.5-4 6-6 1-2 0.5-6 0.5-2 1.5-2 3-2 11-5.5 4-1.5 6-1 8-1 18 2 4-1 5.5-4 8.5-10 1-6 4.5-8-0.5-2-1-0.5-6-1-2-1-1.5-3.5-0.5-4 2-8 2-2.5 4-3 2-0.5 3 0 2 2 1 2 0 6-1.5 12 0 2 1.5 2 2.5 2 4 2 15.5 4.5 2 0.5 4-1.5 8-7.5 2-0.5 8 1.5 4 0 12-6.5 10-2 10-1 20-6.5 16-1 4 1 8 3 16 2.5 8 2 5.5-0.5 2.5-1 0.5-1 1.5-2.5 1.5-5.5 2.5-4 12-9 6-2.5 2 0.5 2.5 1 1 2 0 4 0.5 1 8 0 5.5 3 4.5 4 3.5 6 6.5 3 3 7 5 5 3 1 3 0.5 8-1 10-0.5 6-1.5 4-2.5 4.5-5 1.5-4-1-2-2-2-9-5-10 1-2-0.5-2-1 0-2.5 2-2.5 4-1.5 6 0.5 2-1.5 4-4.5 2-0.5 12 0 10-1 16-0.5 8-2 2 0.5 4 2 4 0 2-1 2-2 4.5-6 6.5-4 1.5-2-1-6 0.5-2.5 2.5-3.5 3.5-1 3 1 2 2 0.5 2 0 6 1.5 2 9 3.5 8 4.5 6 5.5 18 12 10 10.5 2.5 2 3.5 1.5 8 1 4 1.5-1 2-1.5 2-0.5 2 3 1.5 2 0 8-3 4 0.5 4 2 2.5 3 1.5 5.5 7 10.5 0 10 2 4 3 2 6-2.5 2 0 5 4.5 5.5 2 3.5 2.5 2 3.5 0 2-1.5 4-3.5 4 0 4 9.5 16 1 4 0.5 10 1.5 4 4.5 4.5 28 14.5 9 5 2 2 1 2 1 8 4.5 6 0.5 2-1 8 0 2 7.5 14 1 14 5 18 0 2-4.5 6-1 2 0.5 4 2 6 1 2 6.5 4 1.5 4 1.5 10 1 2 3 1.5 6 0.5 4 1 4 2 2 3M331 231l2-1.5 1 3.5-1 4-2-1.5zM45 435l6 0 4 2 1 8 1 2 6 7 4 1.5 1-0.5 0.5-2 1.5-14 1-2 2-0.5 6 0 2-1.5 0.5-2-1-4-1.5-1.5-2-1-2 0.5-2 1.5-6 6-1.5 0.5-5.5 0-2-2 0-6 6.5-26 1.5-2 5.5-4 0.5-2-1.5-8 2.5-4 1-4 2.5-18 6.5-15.5 4-12.5 2-21 2-3 5-4 2-2 3-6 2-1 6-1 16-6 4-0.5 8 0 4-1 13-6.5 7-5 8-2.5 8-5.5 8 0.5 4-1 12-5 11-7.5 21-6.5 6-1 16-0.5 12-3 4-2 4-4.5 2-1 4 0.5 6 4 6 2.5 18 13 8 2.5 6 0.5 4-1.5 8-7.5 6-2 2-1 5.5-8.5 2.5-1.5 2 0 2 0.5 2 2 4 9 2 2 2 1 26 1.5 10-1 20 3.5 2-1 4-4 8-14 6-7.5 4-3 6-2 8 1 4-0.5 10-4 4-1 4 0 8 2 2 0 5.5-5 2.5-0.5 4 1 2.5 1.5 0.5 2 0 4 1 2 2 2.5 8 1 8 3.5 4 0 8-0.5 2 0.5 4 4.5 8 2.5 2 2 2 2 2 4 2 1.5 4 1.5 12.5 3 2 2 1 6 2.5 3.5 6.5 2.5 7.5 2.5 2 2 3 7.5 5 9 3 11 7 1.5 2 1 2 1.5 0.5 2-0.5 4 1.5 2 8.5 2.5 2 1.5 2.5 4 1 6 2.5 6 1.5 8 12 8 6 6 5 6 3 6 1 4 2 10 1 10 3 8 1 4-1 4-4.5 3.5-1.5 2.5-0.5 2 0 2 4.5 8 1.5 12 1.5 6 0.5 4-1 14-1.5 4-4 6-2.5 6-1 10M71 457l-0.5 0 0.5 2.5 2 1 1.5-1.5-1.5-2zM64.5 485l-1.5-4-2-0.5-4 0-2-1-5.5-4.5-4.5-1.5"/>
<path class="c" d="M546.5 281l2.5-0.5 2 0.5 3 2 1.5 2-0.5 2-2 1.5-2-0.5-4-1.5-2-1.5-0.5-2zM323 304l-5 3-3.5 4-1.5 4 0.5 2 1.5 3 4 3 6 2 4 0 2.5-2 3-10 0-4-3-4-2.5-1-2-0.5zM577 317l2-1 2-0.5 2 0.5 2.5 3 0 2-1 2-1.5 2-2 0.5-4-1.5-1-1-0.5-2 0-2zM626.5 329l2.5-1 2 0 2 1.5 1.5 1.5 0.5 2 0 4-2 3.5-2 0-2-1.5-3-4-0.5-4zM267 333l-3 2-0.5 2 0.5 2 3 3 6 0.5 9.5-1.5 0.5-2-8-5.5-4-1zM604 335l3-1.5 2 0.5 2 1.5 1.5 3.5 0 4-1.5 4-2 2.5-2 1-2 0-2-1-1.5-2.5-0.5-4 0.5-4zM633.5 347l1.5-1 2 0 8 4 2 1 2 6 0 4.5-2 4.5-2 2-4 1.5-1.5 1.5-4.5 3-2 0-2-1.5-1.5-3.5 0-4 1-2 2.5-3 2-1 0-2-2-7.5zM431 375l-3.5 2 0 2 2.5 2 5 1.5 16 1 4.5-2.5 1-2-1.5-2.5-4-2.5-4 0zM357 397l-1.5 4 0.5 2 1 5 2 2.5 1-1.5-0.5-4 2-4 0-2-1-2-1.5-0.5zM502.5 397l8.5-1.5 2 1 4 6.5 2 2 0.5 2-0.5 1-2-0.5-2-1.5-2-0.5-6 2.5-4 0.5-6-1.5-4-2-1-2 1-1.5 6-2zM478.5 403l0.5-1.5 2 1 0.5 0.5 2 12 3 6-1.5 1-2-0.5-2-2.5-0.5-6-1.5-4zM535 405l2 2 3 4 0.5 2-1 2-2.5 1.5-2-0.5-2.5-3 0-2zM593 413l-1 2 1 2 2 0.5 1-0.5 0.5-2-1-2zM170.5 415l0.5-0.5 2 0.5 0 4 1 4-1 2-2-1-0.5-1 0.5-2.5 1.5-1.5-1.5-0.5zM324.5 423l2.5-1.5 2 0.5 3 3 1 2-2 2-8 2-1-2-0.5-2 1.5-2.5zM300 431l1-0.5 2 1 2 3.5 0.5 4-2.5 0.5-2-1-1-1.5-0.5-4zM494.5 431l2.5-1 2 0 1.5 1 0.5 2-2 2-2 0.5-2-1-1-1.5zM362.5 435l2.5-0.5 6 2 0.5 0.5 0 2-4.5 3.5-2 0-2.5-3.5-0.5-2zM506.5 435l2.5-0.5 2 0.5 2 3 0.5 1-0.5 2-2 2.5-2 0.5-3-1-1.5-2-0.5-2 0.5-2zM581 437l-2.5 2 1 2 5.5 4 4.5 0 1-2-1.5-4.5-4-2.5zM419 438.5l-8 5.5-2 2.5 0 1 4 5.5 6 0 2-1 2-3.5 1-3.5-0.5-4-2.5-2.5zM314 441l5-0.5 1 2.5-1 1-4 0-1-1zM354.5 445l0.5-0.5 2-0.5 4.5 1 2.5 2 1 2.5 2 1.5 2 0 1.5 2-7 8-2.5 1-2-0.5-2.5-2.5-1-2 0.5-2 2-2 0-2-3-2.5zM373.5 447l1.5-0.5 0.5 0.5-0.5 2.5-1.5-0.5zM569 455l-1 2 1 1.5 2-1.5 0-1zM277 462l-1 1 0 2 1 2.5 2-2.5 0-2zM130.5 467l0.5-0.5 2 0 0 0.5zM579 467l-2 0.5-4.5 3.5 0.5 4 2 3 2 0 5.5-5-1-4zM108.5 479l4.5-1.5 1.5 1.5-3.5 2.5-2-0.5zM333 478l-1.5 1 1.5 0.5zM139 485l1.5-4 2-8 2.5-3.5 4.5-4.5 1-2-1.5-3-2-0.5-6-1-4-4.5-6-3 0-3 3-7-3.5-12 0-2 2.5-4 0.5-2-0.5-2-2-2.5-2-1-2 0-6 3-4 0.5-6-7.5-5-2.5-2-2 1.5-6 0.5-6 2-8 0.5-10-0.5-8 2-10-2-8 0.5-4 3.5-8 0.5-2-1-6 0-4 1.5-4 2-3.5 2-1.5 4-2 18-3 12 1.5 4-1 4-1.5 2-3 1.5-6 6.5-6.5 5.5-7.5 2.5-1.5 8-3.5 6.5-7 5.5-3 16-3.5 4-0.5 6 1 2-0.5 4.5-5.5 3-2 4.5-1.5 2 0 6 3 12-1 12 3 7.5-1.5 6.5-3.5 4-1 8 2.5 8 6 4 1.5 8 2 14-1 4 1.5 3 2 1.5 2-2 6 1.5 2 4 1.5 4 0 15-3.5 1-2-0.5-2 0.5-2.5 10-5 8-7 8-3.5 10-3.5 4-0.5 12 1 8 1 4 0 4-2.5 4-4 8-12.5 4-3 4-0.5 6 2.5 8-1 2 0 6 4 8.5 3 11.5 6.5 6 1 10 1 8 5 6 2 8 7 6 3.5 2 2 5 12 1 6.5 2 3.5 2 2.5 4 2.5 2-0.5 2-2.5 2-0.5 2 0.5 4 2.5 3.5 3.5 1 4-1.5 10 1 2 3.5 4 0.5 2-0.5 2-3.5 4.5-6 3-4 3.5-2.5 5-0.5 6 3 6.5 2 1.5 2 0 6-1.5 4-5 4-3 2 1 0.5 0.5 0 4-0.5 2-2 2.5-4 2.5-1 1-3 6-2 2-2 1-6 0-6 2.5-8 1.5-6 3 0.5 2 1.5 1 2.5 3 1 4-0.5 2-7.5 6-3.5 1.5-2 0-2.5-3.5-5.5-2.5-2 0-6 2.5-1.5-2-0.5-6 1-2 5 0 8-1.5 4 1 5-3.5 0.5-2-7.5-1-2-1-2-2-3-8-1-1.5-2-1-2 0-8 3-2 0-4-1-8 4-12 4-1.5 2.5 0.5 4 2 4 3.5 4 1.5 4 0 4-4 1-4 2-1-3-1.5-2-3.5-1.5-2-0.5-6 1-6 0-6 3-4 4-2 4 1 6-3 1.5-6-2.5-6-1-2-2 0-2.5-1.5-1.5-4.5 1-4-0.5-4-7.5-2-1.5-4-2-10-0.5-12 2-10-1-4 0.5-1.5 1.5-0.5 10-0.5 4-1.5 2-6.5 4 0 4-1.5 3.5-2 1-6-2.5-6 0-8-2-1.5-2 1.5-6-0.5-2-1.5-2-5-4-3-1.5-2 1.5-1 4 0.5 2 4.5 2.5 1.5 1.5-0.5 2-5 3-2-1.5-1-3.5-1.5-2-9.5-7-2-3-1.5-4-2.5-2-3-2 0-2 6-8 1-7 2-1 5 4 5 3 1.5 1 2.5 4 2 1.5 2 0 6-1.5 6 1.5 2 0 3-1.5 0.5-2-1.5-4-2-1.5-2-1-2 0.5-4 3.5-2 1-4-1.5-0.5-3 0.5-2 4-6 0.5-2-0.5-2-12-13.5-2-2-2 0.5-2 1-4 6-4 2.5-4 1-6-1.5-3 0-4.5 2-4.5 4-2-1-4-7-3-2-5-1.5-4-3-2-0.5-8 2.5-6 0-4 1-2.5 1.5-2 2 1.5 6-1 2-9 0-1 1-1.5 3-2.5 1.5-2.5-1.5 0-2 3-2 0.5-2-2.5-4-2.5-0.5-6 1.5-6 3-4 3.5-2-0.5-2-1-2 0-4 3-2 1-4-0.5-2 2 0 2.5 0.5 6 3 6 0 2-0.5 2-1 1-2 0-2-1.5-4-8-4-0.5-6 2-3.5 3-4.5 11.5-8 2.5-2 2.5-2 3.5 0 2 1 6-3 2-4-0.5-2.5 0.5-1 2 1 2 2.5 2 0.5 2-0.5 4-2 3.5-2 2-4-3.5-2-1-2 0-2.5 1-1 2 1.5 14 1 2 3 4 2 0 1.5-2 4.5-8 0.5-4 2-2 3.5-1 2.5 1 3.5 4.5 2 1.5 4 0.5 6 9.5 4 3.5 2 0.5 8-7 1.5-3-0.5-2-1-1.5-4.5-2.5-2-2-0.5-2 0-6 2-6-0.5-8 0.5-2 7-7.5 2-1 2 0.5 3.5 4 0 2-3.5 3.5-1 4.5-2.5 4 0.5 2 5 1 1.5 3 0.5 2-2 2.5-5 1.5 0.5 2 2.5 2 2 0 6-1.5 8-5.5 4-1 4 1 10 4.5 5.5 6.5 1.5 4 1 4 0 2-1.5 2-4.5 2 0.5 4-1 4 2.5 4.5 4 3 2 0 2-1.5 1-4 0-8 3-0.5 6-0.5 1.5-1 4.5-6.5 2-2.5 2-0.5 3 1.5 2 6 0 2-1 2-3 2-0.5 2 1.5 2 2 0.5 6-3.5 4-1 2-6 4-2 4-5 6-3.5 6-1 6 0.5 2 1 1.5 2 0.5 6.5 10 1.5 1 2 0.5 4-3.5 3-6 2-1 1-3.5 10-1.5 1-4 0.5-6-1.5-2 0.5-1.5 1.5 0 2 2 4M159 485l1.5-2 3-2 2.5-8 0-2-1-0.5-6-2.5-2 1-1 2-4.5 4 1.5 4-2 1.5-4 1-2 1-1 2.5M182.5 485l0.5-10 2-4-1.5-2-0.5 0-1.5 2 1.5 6-2 0.5-2.5 1.5-7.5 3-3 3M262 485l-3-3.5-4.5-2.5-4-4-3.5-0.5-1.5 0.5 0.5 2 2.5 2 1 2 0 4M310.5 485l8.5-6 4-2 0.5-2-0.5-0.5-4.5-3.5-0.5-4 1-4 2-2 4.5-2 2-2 3.5-1 8 2.5 3.5 2.5 1 2-2.5 4-0.5 2 0 4 1 2 5.5 1.5 4 2.5 4 0.5 2.5 1.5 1 2 0.5 2M325.5 485l-0.5-0.5-2-1-2.5 1.5M363 485l-0.5-6 0.5-2 2-1 1.5 1-0.5 2-1 5-1.5 1M376.5 485l-2.5-6-4-4 0-2 5-0.5 2-2 6-2.5 4-7 4-3 2-3.5 4-3.5-1-2-1-0.5-2-0.5-4 0-3-3-0.5-2 3.5-3.5 3-6.5 7-4.5 2 0.5 6 2 6 1 6 2.5 6-3.5 5.5 2 1.5 2 0.5 2 1.5 2 3 1.5 1.5-1.5 0.5-2-2.5-4 0-2 2.5-3 4-0.5 2-1 3-3.5 1.5-2 1.5-7 2-1.5 2 1.5 2 2.5 0.5 6.5-1 2-4 2-1.5 2-0.5 2 1 2 5.5 6 2 0.5 8-1 4-3 2-1 4 0.5 6-2.5 3 0.5 0 2-2 4-1 5-1 1-1 0.5-4-1-3 0.5 1.5 8 1.5 3.5 2-1.5 4-5 2-1.5 8 0.5 6-1 2 1-1 2 0.5 2 4 2 2.5 0.5 6-3.5 4 0 2 1 4 6 2 1 4-1 2 3 10-1.5 1.5 0.5 0.5 6 2 6 0.5-2 3.5-2.5 2-0.5 4 2 2 0 4-5 0.5-2-9-6-1-2 0.5-6-3.5-4-0.5-2 3-3.5 2-1 2 2.5 1.5 6 2.5 1 2-0.5 2.5-2.5 2.5-8 5-4-2-4-2-1.5-4.5-0.5 0.5-1 4-1.5 1-5.5-6.5-14-9.5-12-1-4 2-1.5 4 0 1-0.5 3-2.5 2-1 8-0.5 2 0.5 4 3.5 2 0.5 8-3.5 4 9 2 3.5 2 1.5 6 2 6 7.5 7 5.5 1 2 0 2-2 6 0.5 2 6.5 6 1.5 4-1.5 4-5 7-2 1-14 1.5-1.5 0.5-1 4-3.5 4-1 2-0.5 8-1 2-5.5 6-2 4.5-4 0.5-2 1-0.5 4M455 485l2-2.5 4-1.5 2 0 0.5 0 0.5 4M472 485l-4.5-6-0.5-8 2-3 2-1.5 2 0 4 3.5 4 1.5 2 3.5 2-1.5 0-2.5-2-7-6-2.5-2-3.5-4-3-1.5-2 0.5-6-1-1.5-2-0.5-2 1-1.5 1-0.5 2 1.5 6-1.5 3.5-2 2-8 3.5-2 0-2-2-2-3-2-0.5-1.5 0.5-2 4-2.5 2.5-1 1.5 0 4 1.5 4 4 6-0.5 4M542 485l-1-4-2-0.5-8 0.5-2 2 0 2M438.5 263l8.5-1 7.5 1 20 12 6.5 5.5 10 2 14 6 4 3.5 6.5 7 7.5 5.5 2.5 2.5 1 2 0 4-1.5 4-4 2.5-4 1-2-0.5-16-8.5-4-0.5-8 1-2-1-6-5.5-2-1-8-1.5-2 0.5-8 7-2.5 4.5 0.5 7 2 3 3.5 4 1 2-0.5 4-3.5 10-5.5 8-15 15-4 1.5-6 0.5-6-0.5-6-3.5-2-0.5-10 2-4 0-4-1.5-8-6.5-4-0.5-6 0.5-2-1-3.5-11.5-2.5-4-2-1-2 1-2 3-2 1-6-5-7-9-6-10-0.5-2 0.5-2 5-6 1-4 0-2-0.5-2-2.5-3-7-5-3.5-4 3-2 11.5-2.5 20 1.5 6-1 2-2 1.5-2 0.5-6 1.5-4 3.5-4 3-2 8 0 12-2.5 4 0.5 6 2 4 0 4-1zM262 299l1-0.5 2-0.5 2 1-0.5 2-1.5 1-3-1zM189 327l4-1.5 6 0 10 4.5 12 0.5 1.5 0.5 1 2-1 2-3.5 2-10 2-8 3-8 0-4 1.5-7.5 3.5-4.5 4.5-6 3.5-6 6.5-2 0.5-4-0.5-4.5-2.5-1.5-2-2.5-6-3.5-4-1-2 0-2 1-1 7-3 5-1 4 1 6 3.5 2 0 4-3.5 7-4 5-6zM161 348.5l-1.5 0.5-0.5 2 2 1.5 2.5-1.5-0.5-2zM418 287l3-0.5 2 0.5 1 2-0.5 2-2.5 2-2 1-4 0-2-1-0.5-2 2-2zM394.5 315l2.5-1 2 0 2 1 2 4-0.5 2-4 4-1.5 6-2 0-2-1.5-4-6.5-5-2-2-2 2-2 7 0z"/>
</g>
<use href="#land"/>
<use href="#green"/>
</g>
<rect x="49.0" y="95.2" width="716.2" height="386.5" fill="none" stroke="#222" stroke-width="1.5"/>
<text class="t" transform="translate(407.3,47.4) scale(0.987,1.015)">NO-SURFACE-FORCING</text>
<text class="p" x="74.4" y="139.6">(B)</text>
<g transform="scale(1,1.06)">
<text class="l" x="52.5" y="79.25">160°E</text><text class="l" x="170.6" y="79.25">170°E</text><text class="l" x="271.9" y="79.25">180°</text><text class="l" x="362.8" y="79.25">170°W</text><text class="l" x="451" y="79.25">160°W</text><text class="l" x="543" y="79.25">150°W</text><text class="l" x="643.3" y="79.25">140°W</text><text class="l" x="762.5" y="79.25">130°W</text>
<text class="l" x="71.4" y="473.11">65°S</text><text class="l" x="150.4" y="473.11">70°S</text><text class="l" x="232.6" y="473.11">75°S</text><text class="l" x="332.7" y="473.11">80°S</text><text class="l" x="480.6" y="473.11">80°S</text><text class="l" x="580.7" y="473.11">75°S</text><text class="l" x="663.2" y="473.11">70°S</text><text class="l" x="741.4" y="473.11">65°S</text>
<text class="l s" x="772.6" y="135.47">50°S</text><text class="l s" x="772.6" y="234.53">55°S</text><text class="l s" x="772.6" y="344.91">60°S</text><text class="l e" x="41.2" y="234.53">150°E</text><text class="l e" x="41.2" y="335.47">140°E</text><text class="l e" x="41.2" y="413.77">130°E</text>
</g>
</g>
<g transform="translate(1687,0)">
<g clip-path="url(#fr)">
<g clip-path="url(#sec)"><g filter="url(#bl)">
<rect x="45" y="91" width="724" height="394" fill="#171c42"/>
<path fill="#191f49" d="M45 91l724 0 0 394-724 0z"/>
<path fill="#1d2458" d="M45 91l724 0 0 394-724 0z"/>
<path fill="#202a66" d="M45 91l724 0 0 394-724 0z"/>
<path fill="#232f74" d="M45 91l724 0 0 394-724 0z"/>
<path fill="#263582" d="M45 91l724 0 0 394-724 0z"/>
<path fill="#293a90" d="M45 91l724 0 0 394-724 0z"/>
<path fill="#26419f" d="M45 91l724 0 0 394-724 0z"/>
<path fill="#2447af" d="M45 91l724 0 0 394-724 0z"/>
<path fill="#1f4eb9" d="M45 91l724 0 0 394-724 0z"/>
<path fill="#1758bb" d="M45 91l724 0 0 394-724 0z"/>
<path fill="#0e62bc" d="M45 91l724 0 0 394-724 0z"/>
<path fill="#116bbd" d="M45 91l724 0 0 394-724 0z"/>
<path fill="#1c72bc" d="M45 91l724 0 0 394-724 0zM333 306.5l-2 0.5-2 2 0.5 2 3.5 2 2 0 3.5-2 0-2-1.5-1.5z"/>
<path fill="#277abb" d="M45 91l724 0 0 394-724 0zM329 305l-3 2-1 2 1 2 3 3 4 1 4-0.5 3-1.5 1.5-2 0-2-1-2-3.5-2.5-4-0.5z"/>
<path fill="#3182ba" d="M45 91l724 0 0 394-724 0zM329 303l-5 2-1.5 2 0.5 4 4 3.5 4 1.5 6 0 4-1.5 3-3.5 0-2-1-2-5-4-5-1zM397 235.5l-1.5 1.5 1.5 2.5 2.5-0.5 1.5-2-2-1.5z"/>
<path fill="#3c89ba" d="M45 91l724 0 0 394-724 0zM331 301l-8 2-3 2 0 4 2.5 4 4.5 3 6 1.5 6-1 6-3.5 1.5-2 0-2-3.5-4-6-4zM397 234.5l-3 2.5 1 3 4 0.5 2.5-1.5 1.5-2-1-2z"/>
<path fill="#4791b9" d="M45 91l724 0 0 394-724 0zM275 337l-1 0-0.5 2 1.5 1.5 2 0.5 2 0 1.5-2-3-2zM325 301l-6 2-1.5 2-0.5 2 0.5 2 2.5 4 5 3.5 6 2 8-1 6-2.5 3.5-4-1-4-8.5-6.5-6-1zM369 346.5l-0.5 2.5 0.5 4.5 2-2 0-2.5zM395 234.5l-2 2.5 0 2 2 2 2 0.5 2-0.5 6-3 4.5-1 6-2-2.5-0.5-8 0.5-6-1.5z"/>
<path fill="#5498bb" d="M45 91l724 0 0 394-724 0zM271 337l0.5 2 3.5 3 6 0.5 2.5-1.5-0.5-2-4-2.5-4-0.5zM327 299l-8.5 2-2.5 2-1 2 0 2 1.5 4 6.5 6 6 2.5 8-0.5 8-2 4.5-4 1-4-1-2-7.5-6-7-3zM369 344.5l-1 2.5-0.5 4 1.5 5 2-1 1-6-1-3.5zM397 233l-4 2-1 2 0 2 1 1.5 4 1.5 8-2.5 11.5-2.5 3-2 0.5-2-5-1-10 1.5zM431 377l-0.5 0 1 2 3.5 1 4.5-1 0-2-0.5 0-4-0.5zM573 240.5l-3 2.5 0.5 2 2.5 1 4.5-1 2.5-2 1-2-2-1-2-0.5z"/>
<path fill="#629ebd" d="M45 91l724 0 0 394-724 0zM271 335l-2.5 2 1 2 3.5 3 8 1.5 3-0.5 1-1.5-0.5-2.5-3.5-2.5-4-1.5zM333 297l-13 2-5 2.5-1.5 1.5-1 4 3 6 5.5 5 4 2 4 0.5 12-1 6-2 3-2.5 1.5-2 0.5-4-2-4-11-6.5zM341 285l2 1 3-1zM359 285l4 1.5 4-1.5-4-0.5zM369 342.5l-2 4-0.5 4.5 0.5 3 2 4 2-1 1.5-8-1.5-5.5zM413 231l-8 1.5-10 0.5-3 2-1 4 1.5 2 2.5 1.5 4 0 6-2.5 7-1 7-2 3-2 0.5-2-2-2zM429 377l-0.5 0 1 2 3.5 1 4 0.5 4.5-1.5 0-2-4.5-1.5-4 0zM575 239l-4 1.5-2 2-0.5 2.5 0.5 1 4 1 4-0.5 2.5-1.5 4-4-1-2-1.5-0.5z"/>
<path fill="#6fa5be" d="M45 91l724 0 0 394-724 0zM181 239l-2 1.5 0 1.5 2 1.5 2.5-0.5 2-2-0.5-0.5-1.5-1.5zM267 311l-3 4 0 2 1.5 2 4 0 4.5-2 2-2 0-2-3-2-4-0.5zM325 297l-10 2-3 2-2.5 4 0 2 1.5 4 3.5 4 4.5 4 6 3 10 0 12-3 3.5-2 2-2 1-2 0.5-4-2-4-2.5-2-12.5-6.5-4-0.5zM341 283l-4.5 2 1 2 7.5 1 8-2 3.5 1 8.5 0.5 3-0.5 3-2-3.5-2-2.5 0-6.5 0-5.5 1.5-4.5-1.5zM387 336.5l-1.5 2.5 0.5 4 3 3 4 0 1.5-3-1.5-3.5-4-3zM409 231l-6 1-6 0-3.5 1-2 2-1 2 0.5 3.5 3.5 2.5 4.5 0 6-2 14-3 4.5-3 1-2-1-2-4.5-1zM431 375l-4 2 1 2 5 2 4 0 6.5-2 0-2-4.5-1.5zM573 238.5l-4 2.5-2 2-0.5 2 2 2 4.5 1 4-0.5 4.5-2.5 4-4 0-2-2.5-1-4-0.5zM593 220l-1 1 1.5 2 2 0 1.5-2-2-1.5zM611 267l-2 0.5-2 3.5 0 3.5 2 2 2.5-1.5 2-4-0.5-2.5zM267 335l-1 2 1.5 2 5.5 4 10 1.5 3-1.5 0.5-2-1-2-4.5-3.5-6-1.5zM369 340.5l-2 4-1 4.5 0.5 6 2.5 5 2-1 0.5-2 1.5-8-1-6-1-1.5z"/>
<path fill="#7cacc0" d="M45 91l724 0 0 394-724 0zM179 239l-1.5 2 1 2 2.5 1 4-0.5 1.5-2.5-1-2-2.5-0.5zM269 307l-4.5 2-4.5 6 0 2 1 3.5 4 3 2 0 10-3.5 10-1.5 2-1.5 2.5-4 0-2-2.5-1.5-8 0zM331 295l-16 2.5-6.5 3.5-3 4-1 4 12.5 14-2.5 4 1 2 2 0 6-4 19.5-2.5 6-1.5 4-3 1.5-3 1-6-1.5-4-2-2-13-7-4-1zM339 283l-6 2 0.5 2 7.5 2 12-1 12 0.5 7.5-1.5 2.5-2-2.5-2-5.5-1-14 0.5-8-0.5zM383 323l-4 2-1.5 2 5 18 1 2 3.5 2 4 0.5 4-0.5 2.5-2 1-2-1-4-7.5-10-1-2-0.5-4-1.5-2zM405 231l-8 0.5-4 1.5-2.5 2-0.5 2 0.5 4 2.5 2.5 2 0.5 4-0.5 6-2 14-2.5 4-2 3-4-0.5-2-4.5-1.5-6 0zM429 374.5l-4 2.5 1 2 5 2 8 0.5 7.5-2.5-1-2-5-2-5.5-0.5zM575 237l-4 1.5-4 2.5-1.5 2 0 2 1 2 4.5 2 6-1 8.5-5 3-4-1-2-2.5-0.5zM593 219l-2 2 0.5 2 3.5 1.5 2-1 1-2.5-1-1.5-2-1zM603 238.5l-0.5 0.5 0 2 2 2 2.5 1 2.5-1 0.5-2-1-2-4-1zM611 265l-3.5 2-2 4 0.5 4 1 2.5 2 0.5 2-0.5 2-2 1.5-4.5-0.5-4zM183 256.5l-0.5 0.5 0.5 3 2 0 2.5-1-0.5-2-2-1zM267 333l-2 1-1 1 0.5 2 2.5 3 5 3 11 2 4.5-2 0.5-2-1-2-6-4.5-6-1.5zM369 338.5l-2.5 4.5-1 6 1 8 2.5 4.5 2-1 0.5-1.5 2.5-10-2-8-1-1.5zM413 329l-2 0.5-1.5 1.5 3.5 2.5 7-0.5-1-2-3.5-2z"/>
<path fill="#8ab3c1" d="M45 91l724 0 0 394-724 0zM179 238l-1.5 1-1 2 2.5 3 4 1 3.5-2 1-2-1-2-3.5-1.5zM319 295l-6 1.5-12 5-12 1-8 3-10-1-6 1-4 3-3.5 4.5-1 2 0.5 4 4 6 4 3.5 2 0 4-3.5 4-1 6 0 8 1.5 8-4 4 0 4 2 4 7.5 3 2 3 0.5 6-1.5 8-5 4-1 10-1 6 2 2-0.5 2-1.5 3-6 1.5-8-0.5-4-2.5-4-17.5-9-4-0.5zM335 283l-7.5 2 1 2 2.5 1.5 4 1.5 4 0.5 14-2 10 1 6-0.5 8-1.5 2.5-2.5-2.5-2-10-1.5-12 0.5-12-0.5zM413 229l-8 1.5-8 0.5-4 1-3 3-1 2 0.5 4 3.5 3 4 0.5 8-2.5 15-3 4-2 3.5-4-0.5-2-3-2-5-0.5zM581 235l-8 1.5-6 3.5-2.5 3-0.5 2 1 2 4 2.5 4 0 4-0.5 6-3 12-8 6 6 4 2.5 6-0.5 2.5-1 1.5-2 0-2-2-2.5-2-2-4-2-6-1-6 1.5-6-1zM593 218.5l-3 2.5 0 2 3 2.5 4-1 1.5-1.5 0.5-2-1-2-3-1zM685 279l-2 2 0 2 2 1.5 2-1 0.5-2.5-0.5-1zM185 255l-2 0.5-2 1.5 0 2 2 2 2 0.5 2-1 1.5-1.5 0-2zM265 330l-2.5 3-0.5 2 2.5 4 4.5 3.5 4 2 10 1.5 3.5-1 2.5-2 0-2-0.5-2-5.5-4.5-6-2.5-6.5-1-3.5-1.5zM369 336l-2.5 5-1.5 8 1 8 3 6.5 2-1 0.5-1.5 4.5-14-1.5-6-2.5-4-1-1zM389 316.5l-13 6.5-2.5 4 0 4 2.5 6 1.5 10 1.5 2 6 2.5 12 0 4-2.5 0.5-2 0-4-5-10 0-2 2-2 1-2-4.5-9-2-1.5zM405 328.5l-2 0.5 1.5 2 6.5 3.5 10 1 3-2.5-0.5-2-2.5-2-4-1-6-0.5zM427 374.5l-3.5 2.5 1 2 6.5 2.5 6 0.5 9.5-1 5.5-2-3-2-10-2.5-6-0.5zM609 264.5l-3 2.5-1.5 6 1 4 1.5 2 2 0.5 4-2.5 2-4 1-4-1-3-2-1.5z"/>
<path fill="#96b9c5" d="M45 91l724 0 0 394-724 0zM181 237l-4.5 2-0.5 2 1 2.5 2 1.5 4 0.5 5-2.5 0.5-2-1-2-2.5-1.5zM339 281l-13.5 2-3 2 0.5 2 6.5 4-0.5 0.5-16 3-10 3.5-20 0.5-18 5-4 1.5-6.5 6-1.5 4 1.5 6 5.5 8-0.5 6 1.5 2 4 4.5 6 3 14 2 4-1.5 1.5-2 0.5-2-6.5-8 0-2 4.5-0.5 8-3.5 4 0.5 2.5 1.5 5.5 6 4 1.5 8-1.5 12-6 6-0.5 2 1 5.5 5.5 2 4 2 8 2.5 2.5 2-1 0.5-1.5 1-8 2.5-4 4-2 2 0 1 4-2 10 0 4 2.5 10 2.5 5 2-1 4-10 2-1.5 24 1 3-1.5 1-3 0-5-4-10 2-0.5 8 1.5 8 0.5 6.5-1.5 1-2-1-2-2-2-6.5-2-10-1-4-1-2-2-4-7.5-6-3-4 1-18 12-2 1-2-1-5-6.5-1-12-2-4-17.5-10 2-2 9.5-1.5 14 1 14-0.5 3-3 0.5-2-1-2-4.5-2-6-0.5zM411 229l-8 1.5-6 0-4 1-4 3.5-1 4 0.5 2 1.5 2 3 2 4 0 8-2.5 16-3 4.5-2.5 3-4 0-2-3.5-2.5-6-0.5zM535 343l-4 2-1.5 2-0.5 3 1.5 1 2.5 0 4-2 0.5-4zM549 230.5l-1.5 0.5 0 2 1.5 0.5 1-0.5 0-2zM591 218.5l-2.5 2.5-3.5 6-1 4-2.5 2-10.5 3-4 2-4 5-0.5 2 1 2 3.5 2.5 8 1 6-2.5 12-6 2 0.5 8 5.5 4 1 8-1.5 4.5-2.5 0-2-0.5-2-6-7-4-2.5-9.5-4.5-0.5-2 1-4-1-2-4-1.5zM647 257l-0.5 2 0.5 1 2 0.5 3-1.5 0-2-1-0.5-2-0.5zM683 279l-1 2 1 3.5 2 1 2-0.5 1-2-0.5-4-2.5-1.5zM183 254.5l-3 2.5 1 3.5 4 1.5 2.5-1 2-2-0.5-2.5-2-1.5zM423 375l-2.5 2 1.5 2 9 3.5 20-0.5 2.5-1 1-2-3.5-2-14-3.5-8 0zM609 263l-4 4-1.5 6 1.5 5.5 2 1.5 2 0.5 2-0.5 3-3 2-4 1-4 0-2-2-3-2-1.5z"/>
<path fill="#a3c0ca" d="M45 91l724 0 0 394-724 0zM179 237l-3 2-0.5 2 0.5 2 2 2 3 1.5 4-0.5 4-3 0.5-2-0.5-2-2-1.5-4-1zM231 324.5l0 2.5 2 1.5 2 0.5 2.5-2-2.5-2.5-2-0.5zM337 281l-16 1.5-2 2.5 0.5 4-2 2-14.5 4-4.5 0-7.5-1.5-8-4.5-4 2.5-8.5 7.5-9.5 4-4 2-6 5.5-1.5 4.5 2 8 4 6 1 4 2 4 6.5 6 6 3 12 1.5 6-1.5 3.5-3 0.5-2-2-6 2-2 4-2 4 1 6 5.5 6 1.5 10-2 10-4 4-0.5 4 2.5 2 2 2.5 10 5.5 8 2 1.5 2 0 2-1.5 4-5.5 2 2 4 15.5 2 2.5 2-1 1-1.5 3-8.5 10-2.5 6 0 5 1 13 6-0.5 14 2 4 2.5 1 8-1 12 2 16 0 4-0.5 3-1.5 0.5-2-2-2-6.5-2-15-2.5-10 0.5-2.5-2-1.5-4.5-2-3.5-6-2.5-2-7.5-2-14 4-1.5 10 0 4-0.5 2.5-2 0.5-2-0.5-2-2-2-6.5-2.5-14-2.5-3-3-2-6-1.5-2-3.5-2-8-3-7 7-3 2-6 3.5-4 0-2-1-2-3-3.5-13.5-2.5-2.5-10-4-4-3.5 2.5-2 5.5-0.5 18 1.5 4.5 1 1.5 4 2 2 6 3 2-0.5 0.5-4.5-1.5-6 1-6-2-3.5-2-1-4-1-22 1-12-0.5zM375 264l-2 1 0.5 2 1.5 1 1.5-1 0.5-2zM409 229l-14 1-2.5 1-4 4-1 4 0.5 2 3 4 2 0.5 4 0 8-2 16-3.5 5.5-3 3.5-4 0.5-2-1.5-1.5-4-2-6 0zM529 337l-2 1-1.5 3-2 10 0.5 4 3 1.5 2 0 10-2 3.5-3.5 1-2 0-4-1.5-4-2-2-3-1zM549 229l-2 1-1 1 0 2 1 1.5 2 1 3-2.5 0-2-1-1.5zM559 222.5l-1.5 2.5 1.5 4.5 4 3 4-0.5 1-3-2.5-4-3-2zM593 216.5l-5.5 2.5-5.5 4-5 7-8 3.5-2 1.5-5.5 8 0 4 1.5 1.5 4 2 8 0.5 4-1 10-5 4-0.5 8 5 6 2 18-2.5 1-4-0.5-2-6.5-6-6-8-10-5.5-4-5.5-4-1.5zM631 260l-1 1-0.5 2 2 4 5.5 3 4.5-1 0.5-2-2-4-5-2.5zM649 255l-3.5 2-1 2 2 2 2.5 1 2-0.5 2.5-2.5-0.5-2.5-2-1.5zM685 276.5l-2 1-1.5 3.5 1 4 2.5 1.5 3-1.5 1-2 0.5-2-2.5-3.5zM181 255l-1.5 2 0 2 1.5 2.5 4 1 2-0.5 2-1 1-2 0-2-1-1.5-2-1.5-4 0zM609 261l-4 4.5-1.5 3.5-1 4 2 6 2.5 2.5 2 0.5 4-2 2-3 3-6 0.5-4-1.5-3-2-2.5-4-1z"/>
<path fill="#afc6ce" d="M45 91l724 0 0 394-724 0zM177 237l-2 2-0.5 2 0.5 2 4 3.5 6 0.5 3.5-2 2-2 0.5-2-1-2-3-2-6-1zM375 258.5l-4 2.5-2 4 0.5 4 6.5 6-1.5 2-15.5 2.5-16 0-12 1.5-10-1-4 2-3.5 7-10.5 3.5-6-1-3-2.5-0.5-4 2.5-4 3.5-4 1-4-3.5-5-4-2.5-2 1-5 8.5-15 20.5-4 3-10 4-8.5 6.5-2 4-1.5 8.5-2 1-2-0.5-7.5-3-3 0-3.5 3-0.5 5 1.5 2 7 6 4 6.5 2 0 12-4 16 9.5 4 1 4-0.5 6 1 8-2 3.5-3.5 1.5-6 1-1 10 4.5 6 1.5 6 0 14-4 4 0 2 2 1 5 2 4 11 13 4 1.5 2-0.5 2-4 2-1 1 5-1 8 2 4.5 2 0.5 2-1 7.5-6 4-8 4.5-2.5 4-0.5 4.5 1 7 6 2 4 4 12 4.5 4 4 0.5 8-2.5 12 0.5 14 0 5.5-0.5 2.5-1 1-1 0-2-1.5-2-3.5-1.5-27-4.5-1.5-2-1.5-8-2-3.5-6-3-2-2-2-5.5 0-6 2-2 10-0.5 4-1 2.5-2.5 0.5-2-1-2-2-2-4-2-6-2-10-2-2-1-4-9.5-9-7.5-5-14 0-8-2-3-5.5-5 2-6-0.5-5.5-2-3.5-2-1.5zM417 227l-24 3-4 3-1.5 2-1 4 0.5 2 1 2 3 3 2 0.5 4 0 8-2.5 18-4 4.5-3 4-4 0.5-2-1-2-2-1-6-1.5zM523 333l-2 4 0.5 8-1.5 10 1 4 4 1 12 0 4-1.5 5-3.5 1.5-2 1-4-1-6-2.5-4-4-2.5-12-4.5-4 0zM587 217l-6 2-8 4.5-4-1-8-4-4-0.5-2 0.5-2.5 2.5 0.5 6.5-6 1-2 2.5 0 2 2 3 2 0 3-1 3-4 5 6 0.5 2-1 6 0.5 2 1.5 2 3.5 2 6 1.5 6-0.5 10-4.5 4-1 2 0.5 5.5 4 10 4 1.5 2-3 3-3 5-2.5 8 1.5 6 2 3 2 1 4-0.5 4-4 3-5.5 3-8.5 2 0.5 4.5 4 5.5 3.5 10 2.5 6 3 4.5-1 0.5-2-0.5-2-4.5-4-2.5-4 1.5-2 5-1.5 1.5-2.5 0-2-1.5-1.5-2-1-4 0-4 3.5-2 1-3.5-2-3-2-3-4-0.5-8-1-2-9-5.5-6.5-10.5-17.5-9-4-0.5zM683 276l-2 3-0.5 4 2.5 3.5 2 1 2-0.5 3-4-0.5-4-2.5-3-2-0.5zM185 253l-4 1-2.5 3 0 2 1.5 2 5 2 4.5-2 1.5-2 0-2-2-3zM581 347l-2 2 0 10 2 3 2-1 1.5-12-1-2zM613 255l4-0.5 3 0.5 1.5 2-0.5 5-7.5-5zM350.5 291l5 0 10 2 2 2 0.5 4 1 2 8 3 2 2 1 3-2 4-3 2.5-4 1.5-2 0-2-1.5-2-4.5-0.5-8-1.5-2-3-2-11-3-3-3z"/>
<path fill="#bccdd3" d="M45 91l724 0 0 394-724 0zM177 236.5l-2.5 2.5 0 4 2.5 3 4 2 4 0 6-1.5 4-0.5 2-0.5 1.5-2.5-1.5-2.5-4-0.5-6-4-6-0.5zM211 218l-1.5 3 1.5 2 6 2 2 2-0.5 4 0.5 2.5 1.5-2.5-1.5-4 1.5-4-0.5-2-1-2-2-1-4-0.5zM375 253l-6 5.5-2.5 4.5-0.5 4 0.5 2 3.5 6-1.5 2-11.5 2-14 0-14 1-3-1-4.5-2-2.5-4-2-1-2.5 1-2 6-3.5 6-2.5 2-3.5 1-2.5-1-0.5-2 5-6 1-4-1-2-12-14.5-2-1-2.5-0.5-2 2 0.5 6-1.5 6-17.5 24-3 2.5-9.5 3.5-6.5 4.5-3.5 3.5-4.5 7.5-2 0.5-8-1-4 2-2 2.5-1.5 4.5 0.5 4 9 9 2 3 0.5 4-0.5 4 2 2 2-1 4-5.5 6-1.5 4-0.5 8 1.5 12 7 2.5 2 3.5 1 2.5-1 3.5-3 6-2 8-6 2 0 6 3 6 6.5 6 0.5 8-1.5 6 3 6-0.5 6 4.5 6 7.5 6.5 6 5.5 12.5 2 2.5 4 3 2 0.5 2-1 0.5-1.5-2-4 0.5-4 3-3 6.5-3 1.5-2 1-8 3-2 3 0 3 2.5 5.5 9.5 2 8 5 4 5.5 3 4 1 4-0.5 4.5-3.5 3.5-0.5 26 0 5-1.5 2-2 0-2-3-3-6-2-19-3-4-2-1-6-0.5-8-1.5-2.5-8.5-3.5-1.5-2-0.5-4 1.5-2 7-1 6.5-3 1.5-2 0.5-2-1-2-2-2-5.5-3-16-5-1.5-2-2.5-8-2-3-5.5-5-4.5-10-1.5-10-3.5-8-1.5-10-3.5-10-2-2.5-2 0zM413 227l-10 2-8 0-4 1.5-3 2.5-2.5 4 0 4 1 2 4.5 4 4 0.5 10-3 14-2.5 6-2 4-3 4.5-4 0.5-2-1-2-6-2.5-6-0.5zM479 349l-2 1-2 2.5-3.5 8.5 3 10 2.5 2.5 2 0.5 4-0.5 1-2.5-2.5-8-1-4 0.5-6zM525 328.5l-5 2.5-2.5 4 1 12-1.5 6-2 6 0 2.5 4 1.5 10 1 2.5 1 5.5 5 2 0.5 5-1.5 5-4 2 0 2 3.5 2 0 4-2 10-3.5 4 1 6 3.5 4 2 2-0.5 2-1 1.5-5-0.5-8 2.5-8-0.5-2-2-2-9-2.5-6-4.5-2-0.5-4 2-8 8.5-2 0.5-2-1-6.5-8.5-3-2-14.5-6.5zM553 215l-2.5 2-1.5 2 0 6-4 3.5-1 2.5 1 4 2 2 2 0.5 4-1 2 0.5 3 10 3 3.5 4 1.5 14 2 6-3 4-0.5 4 2.5 6 1.5 4 2 1.5 2.5-3.5 10-0.5 6 2 6 2.5 2.5 4 0.5 4-2 8-11 2-1 6 3.5 10 3 10 5 6-1.5 3-3-0.5-4-7-8 5-6 0-2-1.5-2-5-1.5-8 2-3.5-2.5-2-4 0.5-2 2-4 0-2-2.5-2-8.5-2.5-4-2-2.5-3.5-2-6-4.5-4-7.5-4-11.5-3-14 2-10 3.5-12-5zM683 274.5l-2 2-1 2.5-0.5 4 1 2 2.5 2.5 4 0 3-2.5 0.5-2-0.5-4-3-4-2-1zM181 253l-2 2-1 2 0 2 1 2 3.5 2 2.5 0.5 2.5-0.5 3-2 1-4-2.5-4-4-1.5zM579 289l-1.5 4 1 2 2.5 1.5 2-0.5 1.5-3-1-4-2.5-1.5zM349.5 293l3.5-0.5 5 0.5 0.5 2-6.5 0z"/>
<path fill="#c8d3d7" d="M45 91l724 0 0 394-366 0-4-1-1.5 1-352.5 0zM183 182.5l-1.5 0.5-0.5 2.5 2 1.5 6 1 0-3-2-2zM193 197l0 4 2.5 4 5.5 4 2 0.5 2.5-0.5 0.5-2-1.5-2zM211 211l-4 0.5-0.5 1.5-2 8 0.5 5 5.5 5 2 6 4.5 2.5 4-0.5 2.5-2 2-4 1-8-0.5-6-2.5-4-2.5-2-4-1.5zM289 233l-1 2 0 2 1 2 2 0.5 3-2.5 1-2 0-2-2-1-2 0zM377 245l-4 3-6 8-2.5 5-1 6 3 8-2 2-7.5 1.5-14-0.5-10 1-4-0.5-3-1.5-3-8-4-3-4-0.5-6 3-4-0.5-5-5-3-8-1.5-2-6.5-2.5-6-5-2 0-2 2-0.5 3.5 5 12 0.5 4-1 4-11 16-7 8-10 4.5-9.5 5.5-6.5 7.5-10 2-4 2.5-2.5 4-4 16 0.5 1 3 1 1 2-1 2 1 1.5 4-3 2-0.5 2 0.5 1 1.5-1 4 0.5 2 1.5 2 4 2.5 2-0.5 6-4.5 2-0.5 4 3 2-0.5 2-3.5 4-1 12 5.5 6 4 8 0 2-0.5 2-4 2.5-2 3.5-2 4-1 3 1 3 5.5 6.5 6.5 1.5 4 2 1.5 3-1.5 0.5-2-1-4 3.5-2 4 1 4 3 2 0.5 10-0.5 4 3 11.5 13 3 12 1.5 3 8 5.5 4 1.5 8-1.5 10-6.5 4-1 8 0.5 12 4.5 6 0.5 2-0.5 5-6 5-1.5 22 0 4-1 3.5-3.5 0-2-3.5-3.5-6-2-17-2.5-4.5-2-1.5-4 0-4 4.5-10-8.5-4-2.5-2-0.5-2 8.5-6 1.5-2 0-2-3-4-3-2-16.5-6-2.5-2-3-10-7-10-3.5-8-1.5-8-4.5-10-4.5-24-3-4zM411 227l-8 1-8 0.5-4 1-4 3.5-3 4-1 4 0 2 1 2 7 3.5 4 0 9.5-3.5 16.5-3 8-4 6.5-5 1.5-2-1-2-3-1.5-6-2-6 0zM477 340l-2 1-2.5 4-5 14 0.5 6 3 10 2 2 10 4 6 0.5 2.5-6.5 0-2-5.5-8-1.5-4 2-10-0.5-2-5-7zM551 213l-4 3.5-2 4.5-0.5 4-2 6 1 4 3.5 3.5 3 0.5 5 8 3.5 4 12 4 14.5 8.5 2 0.5 2-0.5 6-5 2-0.5 3.5 1 1 2 0 2-2.5 8 0 6 1 4 3 3.5 4 1 4-0.5 4-3.5 6-8 2 0 6 3.5 10 2 8 5 4 0 4-1 4-2 2.5-2 0.5-2 0-2-8-10 2.5-6 0-2-3.5-3.5-7.5-2.5 0-2 1.5-2.5 0.5-3.5-1.5-4-2-2-3-1.5-12-1-3.5-1.5-2.5-3-2.5-7-3.5-3.5-9.5-4.5-10.5-3-18 2-8 2-12-4-4 0zM633 166.5l-2 1.5-1 3 1.5 2 3.5 1.5 2-1.5 0.5-4-2.5-2zM683 271l-3.5 2-1.5 8 1 4 1.5 2 4.5 2 4-2 1.5-2 1-4-1-4-3.5-4.5zM197 233l-4 3-2 0-8-1.5-4 0.5-4 2-1.5 2 0 4 3.5 4 3.5 2 1 2-2.5 2.5-2 3.5 1.5 4 2.5 2 6 1 4-2.5 1.5-4.5-1-6 7.5-2 3-4 1.5-4 0-4-2.5-3zM447 405l-1.5 0-0.5 2 4 4 2.5 0-0.5-2-2-3zM545 309l-2 1.5-1 2.5-7 9.5-14 5-4 3-2.5 2.5-1 4 1.5 8 0 5-2 5-5 8 0.5 2 2.5 1.5 10 0 6 1 8 6.5 12 4 6 3.5 4-0.5 3-2 4.5-8 4.5-2.5 4 0.5 12 5.5 4 0 2-2.5 2-7-1-10 3-8-1-4-3-3-10-3-8-9.5-2-0.5-6 6-6 4.5-2-0.5-2-6-2-2.5-6 2.5-6-2-1.5-2 0-2 2.5-2 5-2.5 2 0 4 1 2-1 0.5-1.5-1-4-1.5-2-4-3zM583 275l-4.5 2 0 4-5 14 0.5 2 2 2 9 3 2-1.5 1-3.5-1-12 3-8-1-2-2-1zM587 307.5l-2 2-1 3.5 3 2 7-4 1-1 3-1z"/>
<path fill="#d5dadc" d="M45 91l724 0 0 394-356.5 0-1.5-1-8-1.5-1-1.5 1-4-2-0.5-4 2-7 0.5 0 2 4 4-349 0zM183 179l-2 0.5-2.5 1.5-1.5 3 0 3 2 2.5 6 1 3.5 2.5 2.5 10 2 3 7.5 7 1 4-1 6-2 2-6.5 2-2.5 6-10.5 1-4 2-2 3 0 4 5.5 8-2 6 0 2 1 2 2.5 2 5 1.5 4-0.5 2-1.5 2-3.5 1-4 1-1.5 6-2.5 6-8 4-1.5 10 1 3.5-1.5 2.5-2 3-6 0.5-8-1-6-6.5-8.5-4-3-16-5.5-4-2.5-5.5-6.5-1.5-8-1-2.5-4-2.5zM243 224.5l-3 2.5-2.5 4 0.5 4 3 1.5 6-1 2-2 0.5-2.5-0.5-6.5-2-1zM401 148l-1 1 0 2 3 1 2-1 0-2-2-1.5zM419 225l-14 2.5-10 0-4 1-4 2.5-6 7.5-8.5 4.5-7.5 10-3 6-1 8 2.5 8-3 2-5.5 0.5-24 0-2.5-2.5-1-8-2.5-3.5-2-1-10-1.5-6 2.5-2-0.5-2-2-2.5-10-5-6 1-4 3.5-8-0.5-2-2.5-1.5-4-1-6.5 0.5-2 2-4.5 8-5 6-2 4 0.5 4 7 10 1 4-1.5 4-5 7-5.5 9-2.5 4-4 3.5-8 3-11 5.5-7 7-8 2.5-4.5 2.5-4 6-2.5 8-4 6-2 6 9 8.5 2 1 6 0 4 3 4 1.5 10-2.5 6 3 2 0 2-5.5 2-1 2 1 2 2 2 1 4-0.5 6 3.5 8 2.5 6 5 2-1 2-4 2-1 4-0.5 2-1 2 0.5 4 2.5 2.5 6 5.5 2 4 0 4-4 18 0.5 2.5 1.5 10.5 12 1 4-1 10 1 4.5 2.5 1.5 9.5 2.5 2 1.5 7 12 1 1 4 1.5 2 0 2-1.5 1.5-3-2.5-6 1-2 2-0.5 8 3 4-1 6-4.5 2 0.5 0.5-1.5-0.5-1-2 0-2-1-1.5-2 1.5 0 2.5 0 1.5 1.5 4-0.5 8 1 4 3.5 2 0 2-5.5 9-8 21-0.5 10-5 4 0 4 1 2 2 0 4.5 2 3 2 1 2-0.5 1-3.5 1-1 4 0 6-4 4-11 2-2 10 0 6-1.5 6 0.5 4 1.5 9.5 7.5 1.5 2 1 4 2 1.5 6-2.5 8 2 10-4 3.5-7 2.5-1 4 0.5 12 6 2 0 4-3.5 4-8 2-2 6-2.5 2-2.5 2-5-0.5-2-5.5-2.5-3.5-3.5-3-10-0.5-4 3.5-4-0.5-2.5-3.5 0.5-2.5 3.5-2 1-4 1-4-1-7.5-10.5 0-6 1.5-2-2-0.5-10 3-2-0.5-12-10.5-12-6.5-2 0-1 3 1.5 8-1.5 4-5 5.5-14 6.5-5 4-1.5 4 1 12-1.5 6-5 7-8 6-2 0.5-2-0.5-3-3-0.5-4 3-6-0.5-2-13-17.5-2-0.5-2 0.5-6 6.5-8 5-0.5 2 1.5 6 0 8 2.5 12-1.5 1.5-8-2-12-1.5-8-2-1.5-4 0-4 3-4 8.5-6 2.5-4 0-4-0.5-1-2-1-10 4.5-4-0.5-2.5-2 1-2 5-4 0.5-2-0.5-2-3-4-2.5-2-14-6-4-2.5-5.5-13.5-5-8-3.5-12-5.5-12-3-12 0-6 1.5-4 15-5 18-3.5 15.5-9.5 2.5-2-0.5-2-9.5-3.5-6-1zM549 211l-4.5 4-4.5 8-1 6 0 8 1.5 2 6.5 5 10 11 11 2 5 4 3.5 4-0.5 2-7 4.5-2 3.5 2 4 4 3 0.5 3-0.5 4-4 8 0 2 2 2.5 8 3.5 1 2-0.5 2-2.5 4 6 2 6 5 6-3.5 13.5-5.5 0.5-2-2-3-2-2-10-2-2-2.5-2-10.5 2-3.5 2-1 2 0 8 3 4 0 4-2.5 8-8.5 2 0 4 3.5 2 0.5 8 0 8 5.5 2 0.5 16-3.5 8-3.5 2 0.5 2 2 2.5 5 3.5 2.5 4 0.5 2-0.5 3.5-2.5 1.5-2 0.5-2 0-4-1.5-8-2-2.5-4-1-6 0.5-8 5.5-2 0.5-4-1.5-7.5-7.5-1-2 1-4 0-2-2.5-3-3.5-3-1-2 1-6-1-4-3.5-6-4-4.5-2-0.5-2 0.5-6 3-5-0.5-2.5-2-2.5-9-2-2.5-22-7.5-4 0-8 1.5-16 0.5-16-2.5zM633 165l-3.5 2-1 4 0.5 2 2 2 4 1 2-0.5 2-2.5 0-4-2-2.5zM217 367l0 2.5 2.5 1.5 1.5-2-2-2.5zM289 368.5l-3 2.5 1 2 2 0 3.5-2-0.5-2-1-1zM333 434l-1 1 0 2 3.5 2 5.5 2.5 2-1 1-1.5 0.5-2-1.5-2-4-1zM399 420.5l-4 2.5 2 6 2 2 2-0.5 2-1.5 0.5-2-0.5-6-2-1zM409 416l-1 1 1 1.5 2-0.5 0-1zM441 403l-3.5 2-0.5 2 4 1.5 6 5 6 2.5 2.5-1 1.5-2-0.5-2-5-8-4.5-1.5zM549 421.5l-1 1.5 3 2 1.5-2-1.5-1.5zM565 407l-3 4 0.5 2 2.5 6 5.5-6 0.5-2 0-2-2-2.5-2 0zM647 324.5l0 2.5 2 2 1.5-2-0.5-2-1-1zM294.5 349l3.5 0 1.5 2-0.5 2.5-4-1-1-1.5z"/>
<path fill="#e0e1e2" d="M45 91l111 0 3 4 4 2 2-0.5 1.5-1.5 1-4 601.5 0 0 394-354 0 0-2-2-2-7.5 0 0-2 1-2 0-2-1.5-1.5-2 0-6 3-8 1-2 1.5 0.5 2 4.5 4-16 0-0.5-4-2.5-0.5-2.5 0.5-1.5 2-0.5 2-323.5 0zM147 255l-2 4 0 2 1.5 2 6.5-0.5 2.5-1.5 1.5-2-1.5-4-2.5-1.5-4 0.5zM181 176.5l-2 1-3.5 3.5-1 4 0.5 4.5 2 2.5 7.5 1 2 2 3 10 6.5 8 1.5 4-0.5 2.5-2 1.5-6 2-1.5 2-2 6-8.5 2.5-4 3.5-1 2 0 4 4 8-0.5 6 1 4 2.5 2.5 4 1.5 6-0.5 4-3.5 2-4.5 7-3.5 5-6 4-2.5 12 0.5 8-3 4-1 12 1 6 4.5 2 0 1.5-3.5-3.5-7-1-11-2-4-3-1-10 2.5-2-1-12-14.5-4-3-4-2-8 0-6-2-3.5-3-2.5-4-1.5-10-1-2-5.5-3zM255 179l-2.5 2 0.5 2 3.5 0 1.5-2-1-2zM311 139l0 2.5 2 2 1-2.5-0.5-2-0.5-0.5zM401 147l-2.5 2 0.5 2 2 2 2 0 2-0.5 1-1.5 0.5-2-2-2zM451 110l-1.5 1 1.5 1 2 0 1-1zM555 207l-6 1.5-4 2.5-8 10-3 12-4 10 0 8 1 2.5 2 2 2 0 6-3 4-0.5 2 1 6 8 2 1.5 4 0.5 6-2 3.5 2 0.5 2-5 8 0 4 1 2.5 5.5 5.5 0 2-1.5 3.5-5 4.5-0.5 2 2 6 3.5 3.5 2 0.5 1.5 2-4 2-5.5 0-19-12-5-4-2-0.5-2 0.5-2 4 1.5 12-1.5 4-6 5.5-11 4.5-6.5 4-1.5 4-1.5 16-1.5 4-2 2.5-2 0-2-1.5-3-5-8.5-10-1-4 2-6 0-2-1.5-4-3-4-3 0-2 1-6 9-6 7-4 2-4 0.5-10-3.5-10 0-8-8-15-8-5-6.5-9-17.5-3-11-5.5-11-2-10 0-6 1.5-4 5.5-4 6.5-2.5 20-4 10-6 8.5-3.5 3.5-2 0.5-2-3-2-17.5-3.5-6 0.5-18 3-8-0.5-4 0.5-4 2.5-8 7-9.5 4.5-4 4-5 8-3 14 0 2 2 4 0 2-4.5 1.5-12.5-1.5-3.5-1.5-0.5-4.5-11.5-11-2-1-8 0.5-7.5-2.5-2.5-1.5-6-7-1.5-3.5 1-4 5-8-0.5-2-4-2-12-1.5-4 0-2 1-2.5 2.5-4 8-8 12 0 2 1.5 4 6.5 8 2 4-1.5 4-4.5 6-5 10-3.5 4-2.5 2-20.5 8-6 6.5-12 7-3.5 4.5-4.5 10-10 12-1 2 1.5 2 5.5 1.5 8 4.5 4 3.5 6-1 8 3.5 12-1 4 2 6 0.5 2 0 6-3.5 4 0 4 2.5 6 2.5 6 5 0 2-7 6 4.5 2 4.5 0 5-2 1.5-2 1.5-3.5 2 1.5 4 1.5 6-2.5 4 0.5 6 2.5 6-2 8 1 4-1.5 4 0.5 7.5 6 2.5 4-1 16 0.5 4 1 2 3.5 3 8-1 2 0 2 1.5 2 4.5 3 4 1 4.5 2 1.5 4 0.5 6 5.5 2 0.5 2-0.5 2 1 2 5 1.5 2 2.5 1 6 0 1.5-1 2-8 1-2 7.5-4 1-2-5.5-6-1-4 1-2 4.5-4 4 2.5 4.5 1.5 2 2 0.5 4 5 4.5 4 0.5 4-4 2-0.5 4 3.5 4 1 4 3 2 0 2-1.5 2-3.5 0-5-3.5-6-2-2-4.5-2.5-5-1.5 1-2 2.5-2 1.5-4 6 0.5 4-1 6-3 6 0 2 1.5 2.5 8-2.5 4 2 2 8-0.5 2-0.5 6-5.5 4-1.5 2.5-2 0-2 1.5-2 4-3 2-0.5 1 1.5 0.5 2-1 2-5.5 2-1 2 2 4.5 4 1 2-4 2-1.5 4-1 3.5-5-1.5-6 0-4 0-2 2-1.5 6 1 4 2 5.5 4.5 4.5 8 4 1.5 8-1 14 1.5 6-3 4-8 4 0 3 1 2 2 1 2-1 6 1 3.5 2 1.5 2 0 2-2.5 0.5-4.5 2-4 7.5-9 6-3.5 2-2.5 3.5-7 1.5-6 0-4-9-2.5-2-2-1.5-3.5-1-4 0.5-4 5.5-8-1.5-3-4.5-5 0.5-2 2.5-2 5.5-1.5 8 0 6-1.5 6 0.5 2-0.5 2-2.5 1.5-4.5-0.5-4-3-0.5-2 1.5-6 7-4 0-4-0.5-3.5-3.5-2.5-6-8.5-4-1.5-2 0-4 10-0.5 4-1.5 8-8 2-1 1.5 1 2.5 4 2 1 6-3 4 0 2.5 2 3.5 4.5 2 1 12-4 10.5 0.5 3.5 2 4 5.5 2 0.5 4-2.5 8-3 5-4.5 1-4-1-6 0.5-6-1.5-2-6-1.5-10-1-6.5 2.5-3.5 0.5-4-2-3.5-4.5-2-6-3.5-4 0.5-10-7-16-4.5-3-4-1.5-4 1-4 4.5-2-0.5-2-10.5-2-2.5-8 1-4-0.5-12-5-4-0.5-12 2zM631 164.5l-2 1.5-2 3 0.5 4 3.5 3.5 4 0.5 2-0.5 2-1.5 1-2 0.5-2-1-4-2.5-2-2-1zM219 358.5l-2 2-3.5 6.5 1.5 5.5 2 1.5 4 0 3.5-3-2-6-0.5-6-1-1zM233 392.5l-3 2.5 3 2.5 2 5 2-0.5 1.5-3-3.5-6zM249 400.5l-2 2.5-1 6-2 4 0.5 2 2.5 1 6-0.5 4 4 1-2.5-2-2-0.5-2 6.5-8-0.5-2-6.5 0.5-2-1-2-2zM269 432.5l-3.5 2.5-0.5 2.5 2.5 3.5 1.5 5.5 4 1.5 2-0.5 2.5-2.5 1.5-2.5-6-1.5-2-2 0-4zM291 410l-2 1 0 2 4 5 2 0 1.5-3 0-2-1.5-2-2-1zM321 466.5l-0.5 0.5 0.5 2 2 0 0-2zM355 406l-2 2-1.5 3 0.5 6-5 7.5-2 0-8-3-4 1-2 2 0.5 4.5-0.5 2-5.5 4-0.5 2 6 6 6-0.5 6 1.5 2-1.5 2-5.5-0.5-2-3.5-2.5-3.5-1.5-1-2 0.5-0.5 4 0 4-3 2 1.5 1.5 2 0.5 6 2 1.5 2-0.5 6-9 0.5-2-1-6 1-6-2.5-4.5-2-2zM435 433l-1 2 1 1 2 0 2.5-1-0.5-2.5-2-0.5zM439 419l-2.5 2 0 2 0.5 1 2-1.5zM461 434l-4 4.5-1.5 2.5 0.5 2 1 1.5 8 1 5.5-2.5 1-2-0.5-4.5-2-1-4 1.5-2-2zM491 460.5l-0.5 0.5 2.5 3 2 0.5 1-1.5-1-2zM501 417l-6 4-2 2 0 2 4 1.5 3-1.5 5-6 0.5-2-0.5-1-2 0zM545 400.5l-2 2-4-0.5-4 1-2 2 2 2.5 2 0 6-4 2 3.5 2 0.5 2.5-2.5 0.5-2-1-2.5-2-1zM563 405l-4 4-0.5 2 1.5 4 0 2-1 1.5-4 1-6-1.5-2 1-1.5 2-0.5 2 6 6 6-2.5 3.5 2.5 2.5 0.5 5.5-4.5 0.5-1 0-5 4.5-8 0-4-2.5-2.5-2-1-2 0zM645 318.5l-2.5 2.5-1 2 0 2 4.5 8 3 1 2-0.5 2-1 2-3.5 0-2-1-4-3-5-2-1zM223 388.5l-3.5 2.5-1 2 2.5 1.5 7 0.5 0.5-2-1-4-2.5-1zM463 470.5l-1 0.5 1 2 2 0.5-0.5-2.5zM539 410l-1 1 1 3 2 1.5 4-0.5 1-2-1-3zM219 410.5l-0.5 2.5 2.5 2.5 3-0.5 1.5-2-0.5-2-2-1-2-0.5zM225 430l-1 3 0.5 2 2.5 1.5 2-1.5 1-2-1-2-2-1.5zM577 317l2-1.5 4 0 3.5 3.5 0 4-3.5 3.5-4-1-2.5-2.5-0.5-2zM450.5 357l2.5 1 2 3-0.5 4-1.5 2.5-4 2-8-1-2.5-1.5-1-2 0-2 1.5-2zM294.5 363l0.5-1 2 0 1 1-1 4-2-1.5zM430.5 399l0.5-1.5 2 1.5-2 2.5z"/>
<path fill="#ebe8e8" d="M45 91l107 0 2 4 3 3 6 3.5 4 1 2-3 1.5-8.5 598.5 0 0 394-323 0-1-0.5-1 0.5-27.5 0 0.5-4-1-2-5-1.5-6-7-2 0-8 3.5-6 1.5-5 3.5 0.5 2 5 4-11.5 0 3-4-1-2-7-2-2 0-2.5 2-1.5 2-0.5 4-138 0-1.5-1.5-2 0.5-1 1-179 0zM153 242l-8 8.5-2.5 4.5-2.5 8 0 2 3 2 4 0 7-2 5.5-2 2-2 0.5-2-3-8-1-8-3-1.5zM169 107l-2 0.5-3 3.5-0.5 2 0.5 2 3 1.5 3.5-1.5 1.5-2 0.5-2-1-2zM179 174.5l-4 3.5-2.5 5-0.5 4 2 8-1 6 0 5 2 2.5 2 1 2-0.5 4-2.5 2 0 4.5 4.5 1 4-9.5 12-6 5-3.5 5-1 4 2.5 8 1 8 1.5 4 5.5 4 6 1 4-1.5 6-7 6-2.5 6-6.5 2-1 12 0 12-2.5 8 2 10 5 8-1 2 1 9.5 11 2 4-0.5 2-3.5 6-3.5 8.5-4 6-6 3-10 3.5-8 1-6 9-13 9-7 11.5-2 2-2 1-6-3-2.5 0.5-1.5 2 0 2 3.5 4-1 2-2.5 2-0.5 2 1 4 3.5 4 7 2 4 4-1 6-2.5 6 2.5 9 2 0.5 4 0 8-2.5 2 0.5 6 4.5 1 2-1 3-2 0.5-6 0.5-8 3.5-6.5-1.5 0.5 4 0 2-2.5 4 0.5 2 3.5 2 0.5 2 1-2 3-2.5 2-1 1 1.5-3 3.5-6 1.5-3 1-1 1.5 1.5 4.5-1 6 5.5 10 2 2.5 2-1 0.5-1.5 0-8 5.5-2.5 3-3.5 0-2-2-4 11-0.5 2.5-1.5 2.5-4 0.5-2-2.5-6 1-1.5 2-0.5 2-2-4-9-4-5-1-4-3-0.5-6-3-2-2 0-2.5 2-4 2-1.5 2 0 6 2.5 4-0.5 4 2.5 4 0 3.5 5 8.5 3 2 0 4-3.5 4 0.5 2-2 0-2-2-2.5-4-1.5 2-1.5 10 3.5 2 1 2.5 3-0.5 2-2 2-5 2-2.5 2 1.5 3.5 2 1.5 8-0.5 8-2 6-3 4 0.5 6-3 2 0 4.5 3 3.5 1.5 8-1.5 6 1.5 6-0.5 2 0.5 4 2.5 1.5 4 1 20 1 6-1 10-2.5 3-2-0.5-4-4-2-0.5-4 2-4 1-2 1 0 4 1.5 6-1.5 2-4 1-1 1-4.5 10 0 2 1 2 2.5 2.5 6-2.5 10-2 2 0.5 2.5 1.5 1.5 3.5 2 0.5 6-0.5 4-2 6-1.5 4-7 12-3-6-0.5-4-2-6 0.5-0.5-2 1-2 4.5-4 0-2-2-4 0-2 1-2.5 2-1.5 2 1.5 2 4.5 2 2 6 2 7 8 5 4.5 7-0.5 0 2-2 2 0 2 3 4 0 6-1.5 2-5.5 4-4.5 6 3 4 2.5 1.5 2-0.5 2.5-5 3.5-2 1-2 0-6 1.5-4 0-4 4-8 0.5-10 1-3.5 2-1.5 4-1.5 2 0.5 2 1.5 2 0 1.5-3.5-0.5-4 1-2 3.5 0 2 2 0.5 2-2 4 1 2 5 4-2 3-4-1.5-6-1-1 1.5 1 6-2.5 4 0.5 2 2 1.5 2-0.5 4-2.5 14-4 1-4.5-2-4-0.5-2 3.5-7.5 2-1.5 2 0 2 1 2 3.5 6 0 4-9.5 1-6 1-1 6-1.5 8-0.5 6 1 6-1 10 2 2.5 1 1.5 2-1 2-5 5-6.5 3-1 6 1.5 2 2 1 4 0.5 4-1 7.5-8.5 1.5-4-1-4 1-6 3-2.5 2 1 3.5 5.5 6.5 7 2 0.5 6-3.5 9.5 6-1 4 0.5 2 4 2 3 4 2 1 6-1.5 6 2 6.5-3.5 2-2 1-2-0.5-6 4.5-6 0.5-2-0.5-6-3.5-3.5-4-1.5-2 0-4 2-4 1-4 1.5-2-1.5-1-6 1-1 2-0.5 10 0 8-1 2 1 3 3.5 3 1.5 6 0 2-1 2.5-2.5 3.5-8.5 2-3 12.5-8.5 1.5-2 2.5-12 1.5-10 0-3.5-6 1.5-4-0.5-3.5-3.5-2-6 1-4 1.5-2 8-6-4-6 0-2 3-1 3.5 1 3 2 0.5 2-1.5 6 2.5 2 4-0.5 4-7 2-2 6-1 4 1.5 3.5 3 4.5 10 6-0.5 4.5-3.5 2.5-6-0.5-4-4.5-9.5-2-2.5-2-0.5-2 1-8 6-2 0-1.5-2.5 0-4 1.5-6 2-2.5 4-2.5 4.5-7 5.5-3.5 4-1 6 0.5 4 2 2 2 1 4 0.5 12 0.5 1.5 2 1 2-0.5 4.5-6 3-8 2.5-3.5 16-8.5 2.5-2 0.5-2-5-4-1-2-0.5-8-0.5-2-4-1.5-10-2-2.5-2.5 0-2 2.5-8-1.5-2-2.5 0.5-16 7-2 0-2-1-1-2.5-0.5-10-4-12 0-4 3-6-1.5-2-4 1.5-4 0-22-8.5-12 0.5-5-1.5-9-4.5-4 0.5-8 2.5-18-3-12 0-8 1.5-7 3-6.5 8-2 4-2.5 11.5-2 4-4.5 4.5-0.5 4 3 10.5 4 5 4 1 6-2.5 3.5 0 2.5 2 2 6.5 2 1 8.5 0.5 1 2 0.5 8 3 8-7 4-1 2 1 7.5-2 0-8-4-6-6-2-0.5-4 1-2 2-2 4 0 4 1.5 8-1 4-1 2-5 4-15 6-6 4-1 2 1 8-0.5 4-1 2-2 1.5-2-0.5-3.5-3-1.5-4 3.5-6 0.5-2-9-12-4-3-4-0.5-3.5 1.5-8.5 12.5-6 3.5-10-2-10 1-4-0.5-8-5.5-11.5-7-6.5-8-9.5-18-2.5-8.5-4.5-9.5-1.5-6-1-10 2-6 7-4.5 4.5-1.5 17.5-2.5 10-6.5 18.5-5 2.5-2 0.5-2-1-2-2.5-1.5-16-1.5-10-2.5-16 3.5-10 1-8-1-6-3-2 0-2 1.5-2 5.5-3 4-15 8-2 2-4 7-2.5 11-1.5 3-2 1-2 0-8-3-4 0.5-2-0.5-3-3-1-2.5-4.5-5.5-3-6-2.5-2-6-1-2 1-4 3-2 0-2-1.5-0.5-3.5 4.5-5 1.5-5-0.5-4-1-1.5-2-1-12 0-12-3.5-4.5 0-2.5 2-1.5 10-3.5 6-4 4-2 0.5-2-1-7.5-9.5-2.5-13-2-3-2-0.5-10 1.5-6-3.5-10-10.5-6-4.5-4 0-6 1-6-1.5-5-6-1-4-0.5-8-1.5-2-8-3.5zM253 179l-1.5 2 0.5 2 1 1 4 0 2-3-0.5-2-1.5-0.5zM261 137l-1 2 1 2 1-2zM311 136.5l-1 4.5 1 2.5 2 2 2-2 0-3-2-3.5zM399 147l-1 2 0 2 2 2 5 0.5 2-2.5 0-2-2-2.5-4-0.5zM437 156.5l-0.5 0.5 0 2 2.5 0.5 1-2.5-1-1zM451 109l-2 0.5-1 1.5 2.5 2 3.5 0 1.5-2-2.5-2zM631 163l-4 4-1 4 0 2 1.5 2 2.5 2 3 1 4 0 2-1.5 2.5-3.5-0.5-4.5-2-3.5-2-1.5-2-1zM201 394.5l-2 4.5 0 3 2 1.5 4.5-0.5 2-4 0-2-2.5-3-2-0.5zM225 427l-5 2 1 1 2.5 7 3.5 1.5 5.5-3.5 1.5-2-0.5-2-4.5-4zM239 461l-1 2 1 1.5 4-0.5 6 2 2-1 0.5-2-6.5-2.5zM249 397l-2 1-3 3-3.5 10 0.5 2 2 4.5 2 1 5 0.5 3.5 4 1.5 1.5 2-0.5 2-1.5 2-3.5 0.5-8 1.5-2 7.5-6 0-4-1.5-3-2 0-4 3.5-6 1.5-2-0.5-4-3zM279 406.5l-2 1-0.5 1.5-1.5 15-6 0-3 1 1 4-4.5 8 4 10 2.5 2 4 2 4-2 6.5-6-2.5-4-2-1.5-4.5-0.5-0.5-4 1-2 6 2.5 8-0.5 2-1.5-1.5-4.5 0.5-2 6.5-6 1.5-4-0.5-4-4.5-5-2-0.5-6 3zM283 396.5l-2 0.5-1.5 2 0.5 2 5.5 0 1-2zM323 462l-4 3-1.5 2 1.5 4 4 2.5 2-0.5 1-4-1-5.5zM379 459l-1 0 0 2 1 2 2 0.5 1.5-0.5-1-2zM449 450.5l-1.5 2.5-2.5 8 2 2.5 6-1.5 2.5 1 1.5 2 0 4 2 3.5 4 4.5 2 1.5 2 0.5 2.5-2-3-8-1.5-1.5-6.5-2.5-0.5-2-2-4-1-6-2-3zM461 428.5l-4.5 2.5-1.5 2 0 4-1.5 6 1.5 4.5 4 1.5 0.5 4 1.5 2 4 1 2-1-1-6 7-4.5 0.5-9.5-1.5-2-5-2.5-4-2zM487 454.5l-1 2.5 0 6 1 2 6.5 6 1.5 3.5 3.5-3.5 0-4 2-6-7.5-5.5zM503 448.5l-0.5 0.5 2.5 3 2-0.5 0.5-2.5-0.5-0.5-2-1zM605 388l-0.5 1 0.5 1 2 0 0-2zM423 251l-3.5 4-0.5 2 2 3 2 1 2 0 2-2 1.5-6-1.5-3-2-0.5zM505 457l-1 2 1 2 2 0.5 0.5-2.5-0.5-2zM182.5 197l1 2-0.5 1.5-1-1.5zM618.5 287l8.5 4.5 2 0 6-2.5 0.5 2-1 2-9.5 8-2.5 6-1.5 2-4 1-4-1-2.5-2-1-4 0.5-4-1.5-4 1.5-2zM578 317l3-1 3 1 1.5 2 0.5 2-1 2.5-2 1.5-2 0.5-2-1-2.5-3.5 0-2zM524.5 383l2.5-0.5 2 1 8 9 6.5 2.5-2 2-13.5 4 0.5 6-1.5 1.5-4-1-1.5-2.5 1.5-3.5 1.5-0.5-8.5-6 0.5-2 1.5-2 4-2 2-2zM456.5 393l3.5 0-1 4.5-2 1.5-2.5-2 0-2zM415 407l2 0 1.5 2-1.5 1-2-0.5zM550.5 409l2.5-1.5 3.5 7.5-1.5 2-2 0-2.5-2-1-4zM281.5 417l5.5-0.5 2 0.5 1.5 2 0 2-1.5 2-2 1-4-1-2.5-2-0.5-2z"/>
<path fill="#efe7e5" d="M45 91l83 0-2 8 0 4 1 3 2 2.5 4 1 8-2 0.5-2.5-2.5-3.5-5-4.5-1-2 1.5-4 13 0 1.5 4 8.5 10-1.5 2-4.5 2-2 2 0 4 1.5 1.5 8 0 8 3.5 2-0.5 3.5-2.5 3.5-6 0-2-3.5-8 0.5-10 29 0 1 4 2 1.5 2 0.5 2.5-2 1.5-4 558 0 0 375.5-4 1.5-1 3 1 2.5 4 3.5 0 8-275.5 0 1.5-1 4-0.5 3.5-4.5-1-4 0-8 1.5-1.5 5.5-0.5 2-2 1.5-6-2-4 0-4-1.5-2-3.5-1.5-2 0-4 1.5-2-1-2-3-1-4-1-1.5-7-0.5-5 2-0.5 2 1.5 2 3.5 2 0.5 2-2 4-0.5 8-2.5 7.5-2-1.5-6-8 1-4 4.5-4 0-2-2.5-4-1.5-10-7.5-6-2-4-4-4 2-9 2-2.5 4-1 2 0.5 4 4 2 0 6-3 4-0.5 8 2 2 1.5-0.5 2-1.5 1.5-6 1.5-2 1-1 2 1 4 0 4 2 1.5 4 1.5 4 0.5 6-1 4.5-6.5 7.5-6 0-2 2-2 4 2 4 4.5 8 2.5 4-1 0.5 4 1.5 2.5 2 1.5 2 0-0.5 2-1.5 1-1 3 0 4 3 0 4-4 8-2.5 2 0 6 2 2-0.5 8.5-5 1-2 1-6 1.5-2 2-0.5 4 1 5-0.5-6-8-1-2 0.5-2 1.5-1.5 8-3 6-7 2-0.5 6 1.5 4-1 3-2.5 3-4 1-4 0-16 1.5-14 3.5-9.5 2-1 4 0 1-1.5-3-4-1-4 0.5-4 2.5-3.5 2-1.5 4-1 4 1 2 1.5 2.5 3.5 0.5 4-0.5 4 1.5 2 10-2.5 4-3 1.5-2.5 4.5-10-0.5-2-6-10-8.5-8 0.5-6 3-4 3.5-2 4-0.5 4 1.5 3.5 3 1 6-1.5 8 0 4 2 6 1 2 2 0.5 2 0 2-2.5 4-8 5-8 3-8 4-2.5 14-5.5 3-2 2-4 0.5-6-1.5-2-6-2-2-8-1.5-2-2.5-1-10-1-1.5-2 2-10-2.5-3.5-4-0.5-10 4-4 0-4-2-5.5-12-0.5-4 0.5-2 5.5-6 1-2-3-6-4-3.5-2-0.5-6 3.5-2 0.5-22-4.5-12 0-4-1.5-6-4.5-4-1.5-4 0.5-8 4-4-0.5-14-3.5-12 0.5-20 5.5-4 3-2.5 4.5-1 12-2.5 6-4 3-5 1-2.5 2 6.5 10 2 8 3.5 8 0.5 6 1 2 2 1 2-0.5 4-3 2 1 6 5 2 0.5 6-2 2 0.5 1 1.5 0 4-1 1.5-2 0-6-1-10 5-4 3-2.5 3.5-1.5 4 1 14-2 4-5 3-18 6.5-4 0.5-4-1-10-9.5-3-1.5-3 0-4 2-2.5 2-7.5 9.5-4 1-2-2.5 1-8-1-2.5-4-2.5-8 0.5-4 1-3.5 3.5 0 2 1 2 4 4-0.5 2-5 2-4-1-4-3-10-6-10-12-7.5-14-7.5-20-1-6 0-8 1-4 4-4 5-2 10-1 1 1-5 4-1 2 1 2 4 4 4 3 4 0 2-0.5 2-2.5 2-4 0-6-2-6 0.5-2 2-2 3.5-2 4-1 8-0.5 10 0 3-2.5 2-4 0.5-4-3.5-13.5-2-0.5-3 4-3 2.5-4 1.5-6 1-5.5-1-2.5-2-3-4-3 0-3.5 4-2.5 2-5 2-11 2.5-5-0.5-3-1-2.5-1-5.5-5.5-4-0.5-4 2-4.5 4-1.5 2-2 6-1.5 2-9 4-5.5 4-5 6-3 6.5-2 1.5-4 0.5-4 5.5-4 0-3-4 0-4-5.5-10-1.5-2-8-4-1.5-2-1.5-10-3-3.5-4-0.5-8 1.5-4 0-4-1.5-6-4.5-2-0.5-16 0-1.5 1-0.5 2 4 10 0 4-2 3-4-0.5-4-2.5-2-3-1-5 0-8-1-2.5-2-1-2-0.5-10 1.5-6-2-5-3.5-7-8.5-6-4-2 0-8 3-6-1.5-3-3-2-4 0-12-1-1-12-5-4-0.5-2 0.5-2.5 2-3 4-1.5 4 1.5 12-0.5 10 2 6 2 1.5 6 1.5 1 1 0 4-3 4-2 1-10.5 1-3 2-1 2 1 2 5.5 5 0 5 2 10-0.5 8 5 4 5.5 3 6 1 4-1.5 6-5.5 8-3.5 6-6 4-1 10 0 10-1 16 6 10 1.5 6 5 2.5 4 0 2-5.5 16-3 4.5-2 1.5-6 2-6 0.5-6-1-4 1.5-2 3-1.5 6-2.5 4-13 10-7 8.5-2 0.5-6-1-4.5 0-3 2-4.5 6-9 4 11 8.5 4.5 5.5 3.5 7 2 1 4-0.5 2.5 0.5 0.5 2-1 1.5-6-1-2 1.5-1.5 2 0 2 1.5 6 2 4.5 3 3.5 0 2-1.5 4-1 4-5 4-2 10 2.5 2.5 6 1.5 1.5 2 1 2-1.5 6 1 2.5 4 5 4 9.5 4 0.5 3.5 4.5 2.5 1 4-0.5 6.5-4.5 2-2 0-2-4-4-2-4-6.5 1.5-2-0.5-1-3 9-7.5 2-1.5 2 0.5 4 2.5 1 2 0.5 4-2 4 1 4 1.5 1.5 8 0.5 4 2 2 6.5 2 1.5 4 0.5 2 1.5 2 5.5 2 2 4 2.5 2 0 2 0 6-5 2-0.5 2 0.5 4 4.5 2-1 0-6.5 6-10 0-3.5-3.5-4.5 5-8 1.5-14-3.5-4-5.5-2-8-6-2 0.5-6 5.5-2-1-4-6-2-2-2 0.5-2 4.5-2 2.5-4 1.5-2-1-2-2.5-4.5-2.5-0.5-6-7-12 2-4-0.5-4 0.5-2 4-0.5 4 4.5 6 1 4 2.5 2 0 4-1.5 1 0 3.5 6 0.5 2-2.5 4 0 2 1.5 1 2 0 2-1 3-4 3-1.5 12-2 6-2.5 6-0.5 4-2 4 4 10 2.5 14-1 2.5 1 2 2 3 10 0.5 6-0.5 10-1.5 2-2 0.5-8-1-8 4.5-1.5 4-0.5 6.5-2 1-4.5 0.5-0.5 10-2 8 0 2 5 8 1 8-3.5 4-0.5 2 1 4 4 4.5 2 1 4.5-1.5 2-2-2-6 0.5-6 1-1.5 3-0.5 3.5-2 0.5-2-4.5-4 0-2 3-2 2.5 0 1.5 2 1 4 1.5 2 4 1 4-2 6-1.5 6-3.5 2-2 2-4 2-1 4 0.5 4 2.5 4 0 4-9.5 2 0 2 1.5 4 7.5 4.5 2.5 0.5 2-0.5 4-8.5 7.5-2-0.5-2-1.5-4-4.5-6-1-1 2 1.5 2 0.5 4-1 3-2 1 0 1.5 4-2 6 2.5 4 0.5 2 1 2 2.5 0 2-6 4-2 0.5-5.5-2.5-2.5-4.5-2-0.5-3.5 5-4.5 3-1 1 2.5 6-50.5 0-5-4-2 0-2 1.5-1 2.5-72.5 0-1.5-10 5-6.5 8-1.5 8 2 8.5-6 2-6-1.5-2-3-0.5-2 4.5-2 1-2.5-1-2-4-1.5-1-4 3-6 0.5-3.5 9.5-8.5 4 0 4-4.5 10-173 0-2.5-2.5zM153 236l-12 11-5.5 16 1 4 2.5 2.5 6 0.5 8-2 12-4.5 3-2.5 0.5-2-3.5-3-2.5-5 0.5-8-1-4-3-3-4-0.5zM253 178.5l-2.5 2.5 0.5 2.5 2 1 2 0.5 4-2 1-2-1-2.5-2-1zM261 135l-2 2-0.5 2 0.5 3 2 1.5 2-2 0.5-2.5-0.5-3zM311 135l-1.5 2 0 4 1.5 4 2 1.5 2-1.5 1-4-1.5-4-1.5-1.5zM399 146.5l-2 2.5 0.5 2 1.5 2 4 1.5 4-2 1-3.5-1.5-2-3.5-1.5zM439 155l-2 0.5-1.5 1.5 0 2 1.5 1.5 2 0 1.5-1.5 0.5-2zM449 108.5l-1 0.5-0.5 2 1.5 2 4 1 2.5-1 1-2-2-2-3.5-0.5zM495 219l-2.5 2-0.5 2 1 1.5 4 2 6 0.5 0.5-2-3-4-3.5-2zM629 163l-2 2-2 4 0 4 1 2 3 3 4 1 4 0 2-1 2.5-3 1-4-2-6-3.5-3-2-0.5-4 0.5zM477 424.5l-1 0.5 0.5 2 2.5 0 0-2zM523 431l0.5 2 5.5 2.5 2 0 1.5-2.5-1.5-2zM585 460l-1 1 1 1.5 2-1.5zM589 420l-0.5 1 2.5 3 0.5-3zM305 391l0 2.5 2.5-2.5-0.5-0.5zM617 295l2-0.5 2 0.5 1.5 6 0.5 4-1.5 2-2.5 2-4 0-3.5-2-1-2-0.5-2 1-2 2-2 3-2zM578.5 317l2.5-0.5 2 0.5 2 2 0 2-2 3.5-2 0.5-3-2-1-2 0.5-2zM606.5 333l2.5 0 2 0.5 3.5 3.5 1 4-1 4-1.5 2-2.5 2-3.5 1-2-0.5-3-2.5-1.5-6 1-4 1.5-1.5zM276.5 365l0.5-1 2 0.5 0.5 0.5-0.5 2-2 0.5zM215 379l10-1 3 1 0.5 2-9.5 4.5-7-2.5-0.5-2zM526.5 391l3 0 2 2-1 2-3.5 1-4-1 0-2zM269.5 407l3.5 0 2 4-1.5 8-0.5 1.5-2 1.5-6-1-1.5-2 1.5-8zM444 423l1-1 1.5 1 2.5 6 0 4 3 4-3 8.5-1-2.5-3.5-4 0-8-1-6zM258.5 427l2.5 0 3 2 0 2-3 3.5-2 0.5-2-2-1-2 1-2zM410.5 427l2.5-2 2 0.5 1.5 1.5-1.5 9.5-2-0.5-2-2-1-5zM284 437l1-1 2.5 1-2.5 1.5zM410.5 441l2.5-1 1.5 1 0.5 2-2 2-2 0-1.5-2zM423 447l4-1.5 6 1.5 4-0.5 6 1.5 1.5 3-1 8 0 4 1.5 2 1.5 0 4.5-0.5 2 1 6 11 6 6 2 0 8-5 6-1.5 4-4 2-0.5 2 1 3 6.5-2 6-30.5 0-2.5-2-6-0.5-6-3.5-4 2-1.5 2-0.5 2-21 0 1-6-2-1.5-6-3.5-3-5-0.5-6 2.5-4-2-6 1-2.5 4 0 4-3zM431 452.5l-2 2-6 1-1.5 1.5-0.5 3 2 0.5 4-0.5 4-3 4 0 1.5-2-0.5-2-1-0.5zM498.5 453l2.5 0 0.5 2-0.5 1.5-2 0-1-1.5zM465.5 459l2 0 1.5 2-0.5 2-1.5 1.5-2 0-1.5-1.5-0.5-1.5 0-0.5zM469.5 469l1.5-0.5 5.5 0.5-1 2-2.5 1.5-2 0zM381 485l2-1 2 0 2.5 1z"/>
<path fill="#ebdeda" d="M45 91l77.5 0-1 10 1.5 5 2.5 5 3.5 3.5 8-0.5 3 1 1 2 0 4.5 1 1.5 3 0.5 4-0.5 8-2.5 4 0.5 6 2.5 2-0.5 4-3 5-7 1.5-4-4-8 0-10 23.5 0 2 6 2.5 2 3.5 1.5 3.5-1.5 2-2 2-6 112 0 0.5 1 1.5-1 159 0 1.5 2.5 2-0.5 3.5-2 167 0 1.5 4.5 2 0.5 2-5 102 0 0 371-4 1-3.5 2-1 2-1 4 0.5 2 5.5 6 3 6-268 0 6-6 0-2-2-4 0.5-4 6.5-4 3.5-5 6 1 2-0.5 1.5-1.5 0-2-1.5-1.5-8-2.5-2-4-6-5-4-2-4 1-0.5-2 2-2-1.5-4.5 0.5-1.5 5.5-0.5 3-7.5 2-2 3-1 4-0.5 2-1.5 2 0 4.5 3 2.5 2-1 2-6.5 2-2 2 0 2 2.5 2 4 1 8 3 4 5 2 0.5 9.5-7.5 6.5-2.5 2-0.5 6 2.5 3.5-1.5 8.5-4.5 3-3.5 1-2 2-1.5 2-0.5 2 1 2.5 5 1.5 1 4 0 2-3.5 1.5-5.5-1-6-3-6 1.5-4 3-4 2-1 8-1 4-2 5.5-4 3-4 1-6-1-14 1-10 1.5-4 3-1.5 8 2.5 4 0 2-1.5 6-9.5 2.5-2 9.5-4 8-10 8-3 4-3 2-3.5 2.5-8.5 6.5-8 2-6 1-1 5-3 11.5-4 3.5-3 3-9 0-4-5.5-8-1.5-6-1-2-5-1.5-8-0.5-2-2-0.5-6-1.5-3.5-4-3.5-4 0.5-6 2.5-4 0.5-4-1.5-2.5-3-2-6 0.5-3 2-1.5 14-5 1.5-2.5 0-2-1.5-2-2-0.5-8 0.5-10-10-4-3-4 0.5-6 3-12 1-20-2-4-2-4-5.5-4-1.5-6 0.5-6 3.5-4 1-16-4-8 0-16 4-12 0-2 0.5-6 8.5-8.5 3.5-5.5 6-2 0.5-4-2-6-5.5-2-0.5-6 2-6 6-2 0-3-2.5-1-4-2-1-6 0-4-1-5.5-8-2.5-1.5-2 0.5-2 1-6 10-4 2.5-4 0.5-2-0.5-6-6-6-2.5-2 0.5-2 2-3.5 7.5-2.5 2-5 2-5 1-7.5-1-6.5-7.5-4-2-4-0.5-16 8-1.5 8-1.5 2-20 14-7 6 0 2 1.5 2 0 2-0.5 2-3 2-2-0.5-2-3.5 0-2 2.5-4-2.5-2-6-10-2-2-4.5-2-1.5-2-1.5-10-6.5-6.5-2-0.5-8 3.5-4 1-4-1.5-4-4-3-2-11 0.5-12-1-10-3-10 2-6-1-6-3.5-6-9-6-4-2-0.5-2 0.5-4 3-4 2-4-0.5-2-1-3.5-4.5-1.5-4 0.5-4 2-8-1-2-18.5-5-3 1-2.5 2-4.5 6-1.5 4 2 12 0 12 1.5 6 2.5 4-0.5 2-10 4-6 3.5-6 1.5-1.5 1-1.5 4-3 4-4 2.5-6.5 1.5-1 2 0 6-1 10 0.5 8 1.5 2 2.5 2 4 1 7.5-1 24.5-6.5 14 4.5 4-1.5 6-5 8-3.5 8-7 4-0.5 18 0.5 12 4.5 12 3 5 3.5 1 2 0 4-5 8-3 8-4 1-12 0-6 2.5-3 4.5-1.5 8-2 4-17.5 14.5-2 1-14 0.5-8 7-8 1-6 2-2-0.5-4-3.5-6-0.5-2.5 0.5-2 2-1.5 4-0.5 4 1.5 4 3.5 4-1 4 2.5 2.5 2.5-0.5 3.5-4.5 6-4.5 2-0.5 8 1 10 5.5 3 3 2 8-1 4 0 4.5 2 7.5 0 4 2.5 4-0.5 2.5-6.5 5.5 0 2 1 4-1 6 6.5 6 2 4 0.5 6 2.5 8 5 3.5 2 7.5 2 3 4 0 4 1 4-0.5 10-5 4-1 4-2 2-0.5 4.5 2 1.5 6 2 2 4 0.5 2 1 1 4.5-1 1.5-8 1.5-6-1-6 3-5.5 1-1 2-1.5 6-1.5 2-4.5 1.5-4 0-4 2.5-2 3-2.5 1-0.5 2 0.5 4-2 4 0 2-161 0-2.5-5-4-2 0-23.5 8-1.5 8 2.5 2-0.5 1-2 0-2-1-2-8.5-6-3.5-2-6-1.5zM93 474.5l-1 0.5 0 2 1 1 3.5-1 1.5-2-1-1zM255 177l-4 2-1 2 0 2 3 2.5 2 0 4-1.5 2-3-0.5-2-1.5-1.5zM261 134l-2 1-1.5 4 1 4 2.5 2 2-1.5 1.5-4.5-1-4-0.5-0.5zM311 133.5l-2 2 0 5.5 2 5 2 1.5 2-1 1-1.5 0.5-4-1.5-4.5-2-2.5zM385 189l-2 2-1 6 1 3.5 2 1.5 2 0.5 2-1.5 1-2 0.5-4 0-4-1.5-2zM401 144.5l-4 2.5-1 2 0.5 2 2.5 3 2 0.5 4 0 2-1.5 1.5-2 0-2-1-2-2.5-1.5zM421 189l-0.5 2 0.5 2 4 5.5 2 0.5 4.5-4 0.5-2-1.5-2-5.5-2zM437 154.5l-2.5 2.5 0.5 2 2 2 2 0 2.5-2 0-2-1-2zM447 109l-0.5 2 0.5 1 2 2 2 0.5 4-0.5 1.5-1 1-2-1.5-2-3-1-4 0zM631 160.5l-4 3-2.5 3.5-1 4 1 4 2.5 3 4 1.5 4 0.5 4-0.5 2.5-2.5 2-4-1-6-2.5-4-3-2.5-2-1zM675 138.5l-1.5 0.5-0.5 2.5 2 2 4-0.5 0.5-2-1.5-2zM757 244l-2 1.5-0.5 1.5-0.5 4 4.5 10 2.5 1 5.5-3 0-2-5.5-6-2-5zM507 435l-2 2 0.5 2 3.5 1.5 2-1.5 0-2-2-2zM527 449l-2 3 2-0.5zM549 446.5l-3 2.5 0 2 2 4 1 5 2 0 6-2.5 1-2.5-1-2.5-6-5.5zM559 471l-2 2 0 4 0 2 2 2 5.5-2 0.5-2-2-4.5-2-1zM579 439l-2 2-3.5 8 0 4 6 4 1.5 4.5 2 3 2 1 3-0.5 4-2 1.5-2-2-2-6-2-2.5-2-0.5-2 0-6-2-4 0-4zM183 425l-1.5 0 0 2 1.5 1.5 2.5-1.5zM195 421l-1 2 1 1.5 2 0.5 2-2-2-2.5zM453 177l-1.5 2 1.5 2.5 4 1 3.5-1.5 0.5-2-2-2-2-1zM761 359.5l-1.5 1.5 1 2 2.5 1.5 2-0.5 0-1-1.5-2zM527 472.5l-2 1-1 1.5 1 4.5 2 0 5-4.5-1.5-2zM577 471l-2 2 0.5 2 1 2 4.5 2.5 2-2.5-0.5-4-1.5-2zM485 229l4-1 10 2.5 3 2.5 3 8 1.5 2 6.5 2 4 2.5 2 3.5 4 14 0.5 6 1.5 4 4 3.5 5.5 2.5-7 14-0.5 6 0.5 8-1 4-3.5 2.5-14 5.5-6 1.5-4-1-10-8-6-2.5-4 0.5-10 6.5-2 0-3-5-5-3-14-1-4 2-8 7.5-4 0.5-4-2-10-11-8.5-15-6.5-20 0.5-8 1-4 1.5-1.5 2 0 14 8.5 4 1.5 2-0.5 4-2.5 3.5-5.5 1-6-1.5-8 0.5-2 2-2 6.5-1.5 9.5 1.5 3 2 1 2 0 4 0.5 1 2-1 7.5-12 2.5-2 11.5-2zM656.5 293l4.5 1 3.5 3 0.5 2-0.5 4-1.5 3.5-2 1.5-4-1-4-4-1.5-2 0-2 1.5-4zM616 299l3 0.5 2 1 1 2.5 0 2-1.5 2-3.5 1.5-4-1-2-2.5 0-2 1-2 1-1zM580 317l3 0.5 1.5 1.5 0 2-1.5 2.5-2 0.5-2-0.5-1.5-2.5 0.5-2zM629 327l2-1 4 0 4.5 3 1 2 0.5 4-0.5 2-3.5 4-2 0.5-4-0.5-2-1-3-3-0.5-2 0-4zM604.5 335l2.5-1 2 0 2 1.5 2.5 3.5 0 4-0.5 2-1.5 2-2.5 2-4-0.5-3-3.5-0.5-6zM252 371l3 0 6 3.5 5 0.5 1 2-2 1.5-4 6-4 1.5-4-0.5-2.5-2.5-3-6 1.5-4zM297.5 377l1.5-0.5 6 1.5 4 0 6 3 2.5 4 0 2-2.5 4-0.5 2 0.5 2 4 2.5 2 0 2-2 0.5-6.5 6.5-6 3-1 3 1 5 7 1.5 3 0 6-1.5 4.5-2 1-10 2-6-1-2 0.5-3 3-1.5 4 2.5 4-0.5 2-3.5 2.5-1.5 1.5-1 6-2.5 8 1 4 0 5-0.5 1-4 2-1.5 2 1 2 4.5 4 0.5 2.5 2.5 3.5 1.5 8.5 3.5 7.5-11.5-0.5-3 2.5-1.5 4-53 0-0.5-0.5-2 0.5-13 0 1-4 2-1.5 6.5-2.5-0.5-2-6-1.5 0.5-2.5 3-2 4 0 14.5 5.5 6.5-5.5-2-6 1-2 4.5-3 8-3.5 4-4.5 2 0 4 6 4-0.5 2-2 0.5-8.5 3.5-4 2-6 0-4-2-4 3-6 1-6.5 2.5-7.5-0.5-3-2-2.5-8.5-4.5-1.5-2 2.5-6-2.5-5-2.5-1 0-2 4.5-1zM307 387l-2 1-2 3 0 4 2 1.5 2.5-1.5 2.5-4 0-2-1-1.5zM281.5 383l2.5 0-1.5 4-2 2-5.5 3.5-1-1.5zM270 409l1 0 2 1.5 0 2.5-1.5 6-2.5 1-2.5-1-1-2 0-2 1.5-3.5zM467 409l1.5 2-1 2-0.5 4-2 2-1.5-2 1.5-6zM475 415l4-1 2 0.5 1 2.5-1 4-6-1.5-0.5-2.5zM469 423l2-1.5 2 0-0.5 3.5-1.5 2-2-2zM478.5 431l2.5 0 4 2 4-1 2.5 1-2.5 1-4-1-2.5 2-3.5 1-1.5-3zM383.5 441l1.5-1.5 2 2 0 3.5-2 1.5-2-1.5zM366.5 445l2.5 0 0.5 4-1 6 2.5 4-3.5 4 1 6-1 2-2.5 2.5-2 0-6-1.5-7 5 6 6 1.5 2-26 0 0.5-2 1-1 6 2.5 2-3.5 4-2 0-2-6-1-3-3-5-2.5-1.5-3.5 0-2 1-2 4.5-0.5 2 2 2 0 2.5-3.5 7.5-4.5 2-1 6 0.5 1-3 5-4zM359 459l-1.5 0 0 2 1.5 2.5 2-2.5zM388.5 449l2.5-1 2 0.5 0.5 2.5-1.5 2-3 2.5-2 1-2-0.5 0.5-3zM416 453l1-0.5 2 0.5-2 2zM478.5 453l2.5 0.5 0.5 1.5-0.5 3-2 1-2-2-0.5-2zM438 459l1-1 2 0.5-1 4.5 1 2 2 1.5 2 0.5 6.5 0 3 6 0 2-0.5 2-3 1.5-6-3-2 0-6.5 5.5-0.5 4-17 0 2-8-5.5-4-3.5-4 0-2 1-1.5 12 1.5 2 0 9.5-4zM378.5 471l4.5-1 2.5 1-0.5 2.5-2 1.5-2 0-2.5-2zM319 479l8-0.5 2.5 0.5-0.5 2-6 4-1 0-2-2-1.5-2zM470 483l5-0.5 2 0.5-0.5 2-8.5 0z"/>
<path fill="#e7d4cf" d="M45 91l75 0-1 10 1.5 6 4.5 11.5 6 6 4 5.5 2 0.5 4-0.5 8-2 6-3 4-1 2.5 1 3 6 2.5 2 2 0 1.5-2 3-8 10-12 0.5-2 0-2-5-5.5-1-2.5 0-8 18.5 0 1 4 2.5 4 3 2.5 4 1.5 4-0.5 3.5-3.5 2.5-4 0.5-4 104.5 0 1 4.5 2 2 2 0 4-2 2-4.5 104.5 0 1 2 2.5 1.5 4 1 4-1 2-3.5 13.5 0 0.5 6 2 2.5 2 0.5 5.5-3 1-2-1-4 6.5 0-2 3.5-3 2.5 4 6 3 2 2 0 2-1.5 4-4.5 6-4 2.5-4 64 0-3 14 3.5 10 1 2 2 1 2-0.5 2-2.5 3.5-8 3-4 0.5-2-2.5-10 82 0 2 8 1.5 2 4 1.5 2-0.5 2-3 2-8 98 0 0 132.5-10-1.5-4 1-2.5 2-1.5 4 1.5 6 0.5 4-3 8-1 6 0.5 2 7.5 10.5 4 0.5 8-3.5 0 97-12-7.5-2 0-0.5 1-0.5 4 0.5 4 1 2 13.5 10.5 0 82.5-10 7-2 4-1 4 1.5 4 5.5 5.5 2 4.5-20 0-0.5-4-1.5-2-2 1-1.5 5-146.5 0-1.5-4 1.5-3.5 0-2.5-2-1.5-4-1-1-1.5-0.5-2 5.5-2.5 4 0 4 3 2 0 2-0.5 2-2 0.5-4-0.5-6 6-8 1-4-1-2-2-1-6 0.5-4-5-0.5 3.5-1.5 2-4 0.5-6-3.5-0.5-3 0.5-1.5 2-1 6 2 2-0.5 0.5-1 1.5-16-1.5-10 1.5-3.5 2-1.5 8-3 6-3 4-3 3-4 2-6-1-10 0.5-4 3-8 1.5-2 3-1.5 6-1 4-1.5 8-11 5-3 5-0.5 2 0.5 2 4 2 2 4 1 2.5-1 2-2 0.5-4-3-4-4-2.5-1-1.5 1-2 8-4.5 5.5-5.5 2.5-10 4-4.5 4-2 8-0.5 2-1-0.5-2-4-4 0.5-2 4-2.5 10-4 2-3 4-10.5 0.5-4-5-8-1.5-8-2-3-12-3-2-1.5-4.5-8.5-5.5-4.5-2 0-8 3-2.5-0.5-2-2 0-2 2-4 3-2 5.5-2 2-2.5 1-3.5 0-4-3-3-4-1-8-0.5-4-2.5-8-8-4-2.5-2 0.5-6 4-6 2.5-6 0.5-14-1-4.5-1-3.5-2-4-6.5-8-1.5-4 0.5-8 3.5-4 0.5-6-1.5-8-2.5-6-0.5-6 1-10 4-4 0.5-4-1-10-4-4 0-1.5 1.5 0 6-1.5 4-3 2.5-10 3.5-8-5.5-10 0-4-4-2-1-4 1.5-6 4.5-4 1.5-4-2.5-6-8.5-2-1-4-0.5-5.5 1.5-2 2 1 6-1.5 4-2 2-4 0.5-7-6.5-1.5-2 0-2 2.5-2 6-2 1.5-2 0.5-10 2-2 16 1.5 2 0 2-2 0.5-3.5-2.5-5-4-2.5-4-1-3 0.5-4 2-7 8-8 3-18-2-8-4-2.5 1-1 2 1.5 2 6 2 4 4.5 3 5.5 2 6-0.5 6-4 10-3 2-3.5 1-6-0.5-0.5-2.5 5-6 1-4-1-2-4.5-0.5-6 2-2-1-1.5-8.5 0.5-10-1-2-4-1.5-6 1-2 1.5-1.5 3-2.5 14.5-8 2.5-8 5-3.5 4-0.5 2 5 8-2 4-5 4.5-6 3.5-6 2-6-1-2 2.5-2 1-2-1-2.5-3.5-3.5-8-2-2-2-6.5-6-7.5-1-4 0-4-1-2-2 0.5-2 1.5-6 8-4 2.5-4-1-3-3.5-5-2-16 0.5-18-5-8 2-6 0-6-3-6-10.5-8-5.5-2-0.5-2 1.5-3 4.5-3 2.5-4 0.5-4-1.5-2-2-1.5-3.5-0.5-6 2-5 6-5 0-2-4-3.5-2 0-4 2-4 0.5-12-4-4 1-2 1.5-6.5 8.5-2 4 3 12 0 10 1 8-1 4-2.5 2-8 4-4 0-6-2.5-3.5 0.5-1.5 2-2 8-1 1.5-8 1.5-2 1-1.5 2-0.5 5 4 25 2 4.5 2 1.5 4 1 8-0.5 14-3.5 8-0.5 6-1.5 4 1 4 2 4 0 5-2 7-4.5 6.5-3.5 7.5-6 4-1.5 16 2 12 5.5 12 2 2.5 2 0 2-1.5 2-9 3.5-3.5 6.5-12.5 8-4 6-1 8-2.5 4-16.5 12-4 1-8-0.5-10-3.5-2.5 1-1 2 3.5 4 0 2-2.5 2-5.5 1-6-0.5-7-2.5-7-1-5.5-5-2.5-0.5-4 0-2 2.5 1 4 4.5 6 0 8 1 4 7.5 11.5 2 1 2-0.5 4-3 8-3 4-0.5 3 0.5 5 4 4.5 0 1.5 2-2.5 4 4 8 2.5 18-2 3.5-6 4.5-4-5-2-0.5-4 9.5 0.5 2 7.5 6 4 0.5 2 1 3.5 4.5-3.5 3-2 0.5-6-5-6 1.5-1.5 2 2.5 4 0.5 2-1.5 2.5-6 0.5-1 3 4 4 1 2 0 4.5 2 0.5 14-5.5 6-0.5 2 0.5 0 2.5 2 1 4-0.5 2 0.5 1.5 3 1 8 1.5 2 2 1 4-1.5 4 1 2-0.5 10-6 6-0.5 6-3 2 0.5 2 3 0 8-3.5 2-12.5 4-2 2-2 6.5-2 1-2.5-1.5-3.5-8-2 1-0.5 3 1 6-2.5 3.5-7 4.5-2 14-155 0-0.5-4-1.5-4-2.5-2-5.5-3 0-11 4-2 4-1 8 1.5 4-0.5 2-2 1-6-1-5-2-2.5-20-6.5 0-330 2.5-2-2.5-0.5zM97 470.5l-8 3-1 1.5 0.5 2 1 2 5.5 1.5 6-2 2-5.5-0.5-2-1.5-0.5zM253 177l-3 2-0.5 2 0 2 1.5 2 2 1 4 0 5-3 1-2-0.5-2-2.5-2-3-1zM261 132.5l-3 2.5-1 4 0.5 4 1.5 2.5 2 0.5 2-1 1-2 1-6-1.5-4zM269 181l-2.5 2 0.5 1.5 2 1 3-2.5-1-1.5zM307 109l-2 1-1.5 3 0.5 4-1 1.5-6 2-0.5 0.5 0 2 4.5 7 6 3.5 2 9.5 2 4 2 1.5 2.5-1.5 1.5-4-0.5-6-2.5-6 1-1.5 4-2.5 0.5-2-4.5-6 0-8-1-2-3-1zM399 144.5l-3 2.5-1 2 0.5 2 1 2 2.5 1.5 4 1 5-2.5 1.5-4-2.5-3.5-4-1.5zM437 154l-2 1.5-1 1.5 0 2 3 3 2 0 3-3 0.5-2-1.5-2-2-1zM451 107l-4 1-1 1 0 2 1 2 2 1.5 4 0.5 5-2 0.5-2-1.5-2-2-1zM485 140l-1 5 1 3 2-0.5 1-2.5-1-4.5zM631 159l-4 3-3.5 5-1 4 0.5 4 2 2.5 4 2.5 6 1 4-0.5 2.5-1.5 2.5-4 1-4-1-4-3-5-4-4-2-0.5zM671 135l-2.5 2-5.5 8-1.5 4 1.5 6 2 1.5 2 0.5 2.5-2 3.5-6 12-1.5 2-2.5-1.5-4-6.5-6.5-4-1zM737 426l0 6 2-5zM745 401l-3.5 2-1 2 0.5 5.5 2 3.5 2 0 2-1.5 4-5.5-0.5-4-3.5-2zM153 401.5l0 2 2 0.5 0-1.5zM159 420.5l-1.5 2.5 0.5 2 2 2 2.5 0 2-2zM163 413.5l-2 2.5 0 3 3-2 0-2zM201 431.5l-0.5 1.5-3.5 3.5-6-1-3.5 1.5 0.5 2 3 4 1 2-0.5 4 1.5 2 3.5-2 2.5-6 2.5-2 1-2zM766.5 231l2.5-0.5 0 22-2-1-2-2.5-2-8 0-6zM485 233l6-1.5 6 1.5 2.5 2 0.5 2 1 10 2 1.5 9 0.5 3 2.5 6 21.5 2.5 4 4.5 6 0.5 2-4 14-0.5 10-1 2-14 8-6 1-4-1-8-6-6-3-6-0.5-8 3.5-2 0-8-4.5-18-3-4 1-6 7-4 0.5-2-1-4-4.5-6-4-2-2-6.5-11.5-6-18 0-4 1.5-4 3-2 2 0.5 4 1.5 8 5.5 2 0 4-1.5 4-3.5 2.5-4.5 2-8-0.5-8 1-2 3-1 6 1 2 2 0.5 6 0.5 2 2.5 2 14.5 4 2-1 1.5-3-2-10 1-4 3.5-3 8-2zM333.5 255l1.5-1.5 2 0 2 0.5 1 3-1 2-2 1.5-2-0.5-1.5-3zM656 297l3-0.5 1.5 0.5 1 2-0.5 3.5-2 0.5-3-2-1-2zM613 301l2-1 4 0 2.5 3 0 2-2.5 2.5-4 0.5-3.5-3 0-2zM578.5 319l2.5-1.5 3 1.5 0 2-1 2-2 0.5-2-1-1-1.5zM631 327l2 0 4 1 3 3 0 4-1 2-4 3-4 0-2-1.5-2.5-3.5 0-4 2.5-3zM607 335l2 0.5 2 1.5 2 4-0.5 2-1.5 3.5-2 1.5-2 0-2-0.5-2-2-1-4.5 1.5-4zM252.5 373l3 0 4.5 4 0 2-1 1.5-6-1.5-1.5-2-0.5-2zM297 379l2-0.5 2 0.5 4 3.5 4.5-1.5 2.5 2-1 2-4-1.5-2 0.5-3 5-3 8.5-2-0.5-2.5-2 1-6-1.5-6 0.5-2zM330.5 391l4.5-0.5 4 2.5 1 4-1 3-2 1.5-6 1-4-1.5-1.5-2 0.5-4 1.5-2zM309 397l2-1 5.5 3 2 2-1.5 2.5-10 0-1.5-2.5 0.5-2zM306.5 409l2.5-1 2 1 1.5 10-2.5 4 0 4-0.5 4-4 4 0 2 3 4-0.5 4-6.5 4 1.5 4 4 4 5 10 1 6-1 2-7 3.5-4.5 6.5-49 0-0.5-2-4-4 0.5-4 1.5-1 2 0.5 4 0.5 4 2.5 2 0 3.5-4.5 5-2-0.5-8 1.5-2 10.5-4.5 6 2 2 0 4-1.5 2-2 1-8 3-2.5 2-5.5 1-6-1.5-6 2.5-6-0.5-6zM273 474.5l-0.5 0.5 2.5 3 2 0.5 2-1 0-2.5-2-1zM268.5 413l0.5-0.5 2 0 0 0.5 0 3-2 1.5-1.5-2.5zM191 415l2 2-0.5 2-1.5 2.5-2 1.5-2-0.5-1-1.5 0-2 3-3zM511 425l2-1 4.5 1 1 2-3.5 5-2 0.5-2.5-1.5-0.5-4zM578.5 431l2.5-0.5 1.5 0.5 0.5 2-2.5 2-5 2-4.5 11-8 7-3.5-4-5.5-4-5-6 1-2 5-3 2 0 4 1.5 2 0.5 12-3.5zM515 437l2-0.5 8 1.5 4 3-0.5 2-7.5 7.5-2 0.5-2-1.5-3.5-4.5zM599 447l2-1.5 1.5 1.5-1.5 6.5-2-0.5zM531 449l2-1.5 2 0.5 1 3-0.5 4-2 2-2.5 0.5-1.5-2.5 0.5-4zM363 451l2-1 1.5 1 0 2-1.5 3.5-2 0.5-2.5-2 0.5-2zM585 451l2-1 2 0 4.5 5-2.5 1-4 0-2-3zM539.5 457l1.5-1 2 0.5 0.5 0.5-0.5 2-2 3.5-2-3.5zM561 457l2-1.5 2 2 6 2 6-0.5 3 6-0.5 2-6.5 2.5-4-1-4 0-6-3-6 0.5zM349.5 459l1.5-0.5 2 0.5 1 2 0 6-2 4-2.5 2-2.5 0.5-6.5-2.5-0.5-2 3-6zM516.5 463l2.5 0.5 3.5 1.5 0 2-2 4-0.5 6 5 5 2 0 7-5 3.5-6 0.5-4 3-3 6 4 4.5 1 3.5 6-0.5 6 2.5 3 10-3 3.5-2-1.5-0.5-2.5-3.5 0.5-1.5 2-1 2 1 0.5 3.5 1.5 1.5 4 1.5 4 3 4-2.5 2-0.5 3.5 1 0 4-87 0 7.5-5.5 4 4 2-2 1-2.5-1-1-4 0-2-1-3.5-4-0.5-2 1-2 7-4zM362.5 465l2.5 0.5 1 1.5 0 2-1 1.5-2 0-2.5-1.5 0-2zM530 465l1-0.5 2.5 0.5 0.5 2-1 2-2 0.5-1.5-0.5-1-2zM331.5 467l1.5-1.5 1.5 1.5-1.5 2zM431 469l6-0.5 2.5 0.5 3.5 2-10 10 1 4-14 0 4-8 1.5-4 1.5-1.5zM447 471l2-0.5 1.5 0.5-1.5 1.5zM240.5 481l3.5 0 1 1.5 0.5 2.5-9 0 1-2zM347.5 483l1.5-1.5 2 0 2 1.5 1.5 2-8 0z"/>
<path fill="#e4cac3" d="M45 91l5 0-0.5 4-2 2-2.5 1zM57.5 91l35 0 2.5 2 2 0.5 3-2.5 17.5 0-1.5 8 0.5 6 6 16 4.5 8-1 4-5 8-2 6 0.5 2 1.5 2 4 2 2 0.5 2-1 1-1.5 2-8 3-4 2-2 4-2 4-0.5 9.5 4.5 4.5 1 10 0 4-3 3.5-6 0-6 2-4 7.5-8 2-4-0.5-6-4-6 1-6 8.5 0 2 6 3.5 4 4.5 3.5 6 1.5 4-1.5 4-3.5 2.5-4 1.5-6 74 0.5 10 6.5 2 0.5 2-3.5 0.5-4 9.5 0-0.5 6-1.5 2.5-10 1-10 12-8 2.5-2 2-1 2 1 3 6 3.5 8 7.5 4 2 2 3 2 7 2 3.5 2 0.5 2 0 2.5-4 0.5-4-1-6 1-2 8.5-4 2-2 0-2-7-6-0.5-4 0.5-10 1.5-2 6-1.5 2-1.5 3.5-5 2-4 96 0 0.5 2 4 3.5 8 2 6-1.5 3.5-2 2-2 0-2 2.5 0 1 8 5 12 2 3 2 1.5 6 1 8 3 4-1.5 5-5 1-2-0.5-6 0.5-2 7.5-8 1-4 57.5 0-3.5 14 1.5 8.5-2 1-3-1.5-14-10-2.5 0-1.5 2 1 2 5 6 2.5 8 2 4 6.5 8.5 2 0.5 8-8.5 8-3.5 2-1.5 6-10.5 6.5-5 0.5-2-2.5-6-1.5-6 54 0 1 3 2 2.5 4 2 4-1.5 1.5-2 0.5-4 7 0 1.5 8 2.5 4 5 3.5 4 1 2.5-0.5 1.5-2 2.5-8 1-6 94.5 0 0 129-8-0.5-6 0.5-4 2.5-2.5 2.5-2 4 3 10-1.5 6-3 7-10.5 13 0 2 8.5-3.5 4-1 4 2 4 4 4 1 10-4.5 0 90-14-9.5-4 0.5-2 2.5-0.5 2.5 1.5 10 1 2 12 8 5.5 8 0.5 36-6-0.5-2-2-2-5.5-2-9-2-1.5-10 1-4 1.5-2 3-0.5 3 0.5 8-0.5 4-5.5 8-1 12 3 8-2 6 0.5 4 5.5 6 2 1 4-0.5 3-2.5 0-2-1-15.5-3-8.5-0.5-4 0.5-4 3-6 4-4 4-1 6 2 3 3 5 2.5 0 25.5-3.5 2-3.5 6-7 6-3 12 0 2 9 6 2 4-15 0 1-8-3-2-3-0.5-2 0.5-2.5 2-1.5 4-0.5 4-141 0 0-6 3-6 6.5 0.5 4-2.5 2-2 0-6 1-4 1-2 4-4 2-6-1.5-4-4.5-4.5-6-3.5-4-6-1.5-6 0.5-14 3-3 16-8.5 5-6.5 2-6-1.5-10 1-8 1.5-4 4-3 6 0.5 3-1.5 9-10.5 2.5-1.5 3.5 0 4.5 4 3.5 2 6 0 3.5-2 2-6 0-4-2.5-6 0.5-2 9.5-10 2-10 3-2.5 2-0.5 8 1.5 2-0.5 10-4.5 1.5-1.5 0-2-2-4-0.5-2 4-4 3-10 4-5.5 8-6.5-8-1.5-4-2.5-2.5-4-0.5-6-1.5-4-3.5-2.5-8-2-4-2-11-13.5-1.5-4 2-10-0.5-4-1-2-4-3-2-1-8 1-4-1.5-4-3.5-8-8.5-2-1-2 0-2 1-3.5 4.5-4.5 3.5-4 1.5-6 0.5-12-1.5-4-1-3-3-3-7-2-1-10 0.5-10 3-4 0.5-6-1-8-3-8-0.5-4 0.5-10 4.5-4 0.5-4-1.5-10-5.5-6-1.5-4 1.5-2 2-0.5 4 1 6-0.5 2-3.5 2-4.5 0-6-3-8-2-8-3.5-4 0.5-8 6-4 1-4-3-2-6 4-11.5-0.5-6.5-3-4-4.5-3.5-6-2-4 0-4 1.5-12 9.5-4 1.5-4 0-10-1.5-10-4-4 1-6 6.5-10-1-7.5 2-2 2-2 8-1.5 4-15 13-4.5 5 0 4 2 6-1 4-4.5 3.5-4 2-4 0-4-2.5-2 1-1.5 4-2.5 2.5-2-0.5-2.5-4-1.5-7.5-3.5-8.5-6-8 0.5-8-1-2-6.5 0-7.5 7.5-4 2.5-2 0-8-3-14 0.5-6-1-12-4.5-4-5-8 5-6 0-4-2.5-3.5-7.5-8.5-9.5-6-2.5-2 1-1 5-3.5 6-3.5 2-4 0-4-4-1.5-4 0-4 1.5-3 2-2.5 2-1 5-1.5 1.5-2-4.5-6-2.5-2-3.5-0.5-4-3-1.5 3.5-2.5 2-12-2.5-4 0.5-3.5 2-7.5 10-2 4 0.5 4 3.5 8 0 16-0.5 4-4.5 4-6 1.5-10-3.5-7 0-3 7.5-6 2.5-4 4.5-1.5 5.5 0.5 10 4 12 2 12 3 4 4 1.5 16-2 10-2 18 2 4-0.5 10.5-5 11.5-6.5 7-5.5 3-1 6 1 6 3.5 6 2 3.5 4.5 2 6 0 4-1.5 2-8 7.5-3.5 4.5-1.5 4-1.5 8-4 4-7.5 5-4 2-6 1-6-1-7.5-3-3 0-4.5 2-7 7-2 1-10-1-4-2-4-3-4-1-4 0-2.5 1-2 2-0.5 2 0.5 2 5.5 10 0 8 1 4 6 8 4 3.5 2 0 8-2.5 8-1 2 0.5 3 5.5 5 3.5 4 4 1.5 4.5-1.5 3.5-2 2-6-1-2 1.5 1 6-3 9-3 3-1 4 0.5 2 1.5 2 4 0.5 2 1.5-1.5 2-6.5 2-6-0.5-10-3.5-4-4-3.5 0-1.5 2 0.5 2 2 4 0 2-3.5 4-0.5 2 1 2-2.5 2-1 2 0.5 2 8.5 4 6 4 8-2.5 4 0.5 2 6 2 1.5 4 0 2 1 5 5.5 1 2 1 6 1 1.5 2 0.5 8-3.5 0.5-4.5 3.5-3 2-0.5 2.5 3.5 7 6 1.5 12-1 1.5-2 0-2-1.5-4 0-3.5 2 0 2 2 4 0.5 4-0.5 10-104 0 0.5-8 3-8-2-1-6-0.5-2 0-4 2-4 1-2 1-1.5 1.5 0.5 4 2.5 4 5 2 2 2-37.5 0 0.5-8-1.5-3.5-5-6.5-0.5-2 1.5-2 10 0 5-2 2-2 0.5-2 1-10-1.5-6-3-2.5-8 0-14-4 0-12.5 2-1 2-2-0.5-2-3.5-2 0-113 3-1 2.5-2 0-2-1.5-1-4-1.5 0-162 4-3 1-2.5-1-3-4-0.5 0-11 6 0 6.5-3.5 0.5-2-2.5-8zM191 148.5l-2 2-0.5 2.5 0.5 2 4 6.5 0.5-6.5 1.5-4 0-1.5-2-1.5zM239 113l-1.5 2 0 2 1.5 2.5 2 0 2-2.5 0-2-2-1.5zM259 132.5l-2.5 4.5-0.5 4 1.5 4 1.5 2 2 0.5 2-1.5 2-3.5 0.5-7.5-0.5-2-2-1.5-2 0zM349 134.5l-5 4.5-0.5 2 1.5 3 4 0 4-2.5 2-2.5 0-4-2-1.5zM365 107l-4 4-3 6 0.5 4 0.5 1.5 2 0.5 8-1.5 1.5-2.5 1-10-0.5-2.5-2-1zM401 143l-4 1-1.5 1-2 4 0 2 1.5 2 3 2 3 1 4-0.5 4-2.5 1-4-0.5-2-2.5-2zM435 154.5l-1.5 2.5 0 2 1.5 2 4 1.5 3-1.5 1-2-0.5-4-3.5-2zM447 107l-2 2 0 2 1.5 2 2.5 2 6 0.5 4-2.5 1-2-3-3-6-2zM489 128l-6 4-2 5 1 12 1 2.5 2 1 3-1.5 2-2 3-10 5.5-4 0.5-2-4-4-4-1zM515 134.5l-4 2-1.5 2.5 1 2 4.5 2 3.5-2 1-4-1.5-2zM635 152l-12 13-1.5 4 0 4 1.5 4 4 3 6 2 6 0 4-2.5 2-2.5 1.5-6-5.5-16-2-2zM639 113l-2 1-1 3 1 5 2 1.5 2-0.5 2-4-0.5-4-1.5-1.5zM681 106.5l-6.5 2.5-2 2-0.5 8 2.5 8-1.5 2-8 6-4 5-2.5 5 0 4 1.5 6 3 4 4 2 4-1.5 4-6 2-1.5 4 0.5 4 2 2 0.5 4-4 1.5-4-0.5-4-1-2-6-6-3.5-6 1.5-6 1.5-16-1.5-1zM741 196.5l-1.5 0.5 7.5 4 2 0-0.5-2-3-2zM711 463l-2 1-1 3 1 2 2 1 2-1 3.5-4-1.5-2zM165 368l-1.5 1 0 2 3.5 8.5 2 0 3.5-4.5-1-4-0.5-2-2-1.5zM155 454.5l-1.5 0.5-1 2 2 2 2.5 0 2-2-1.5-2zM257 175l-4 1-2 1.5-2.5 3.5 0 2 2.5 3 2 1 8 0 2 2.5 4 0.5 6-2.5 6.5-4.5 1.5-2-0.5-2-6-2-5.5-1-6 0.5zM687 179l-2.5 2 0 2 2.5 2.5 3-0.5 2-2 0-2-2-2zM398.5 191l2.5-1 6.5 1 4 4 1 2-0.5 2-3 2-4 1-4 0-2-0.5-2-2.5-0.5-2 1-4zM488 235l5-0.5 3 2.5 0 12 1.5 4 3.5 1.5 8 0 2 1.5 7.5 17 6.5 12 0 4-3 10-4 8-4.5 6-4.5 3.5-6 1.5-4-1.5-10-6.5-6-2.5-4 0-10 2-8-3-12-2.5-10-5-2 0-6 3-4 0.5-6 0-4-2.5-8-15-2-5.5-1.5-6.5 1-4 2.5-1.5 2 0.5 2.5 1 5.5 6 4-0.5 4-2.5 5.5-5 2.5-4 3-8 1-8 2-0.5 2 2.5 1 4 1 2 4 3 8 2.5 8 3.5 4 0 6-2.5 2 0.5 4 2 3.5 3 4.5 8 6 3.5 6 0 4-2 2-3.5 0-2-2-3-8-2.5-2-1.5-4-7-4-1.5-10-1-3.5-3.5-2.5-4 0-4 1.5-2zM334 255l3-1 2 1 0.5 2-2.5 3-2-0.5-1.5-2.5zM614 301l3-0.5 2 0.5 2 2-0.5 2-2 2-4 0-2-2-0.5-2zM579 319l2-1 2 1 0.5 2-2.5 2-2.5-2zM629 329l4-1.5 4 1 2 2.5 0.5 2-1.5 4-3 2-2 0.5-4-2-1.5-2.5-0.5-2zM604.5 337l2.5-1 2 0.5 2.5 2.5 0.5 4-1 2-2 2-2 0.5-2-1-2-2.5-0.5-3zM188.5 377l0.5-1 4 0 2 3-0.5 4-3.5 3.5-2 0-3-3.5-0.5-2zM298.5 381l0.5 0 1.5 2 0.5 2-2 4.5-2-2.5-0.5-2 0.5-3zM205.5 435l1.5-0.5 1 0.5-1 5zM244.5 439l2.5-1 1.5 1 0 4-1.5 4-12 4-2.5 2-3.5 4.5-2-1.5-0.5-5 2.5-6 6-3.5zM553 439l2-1.5 2 0 4 2 8-1.5 2 1 0.5 2-2.5 6-6 2.5-8-4.5-2.5-4zM519 441l2-0.5 2.5 0.5-0.5 2-2 2-2-0.5zM299.5 455l1.5 0 2 1 3 3 3.5 8 1 4-1 2-4.5 4-7.5 8-43 0 0.5-4-3-2 0-2 1.5 0 1.5 2 0 2 2 1.5 2 0 6-3 2-0.5 6 1.5 6 3.5 1.5-3 0.5-6-2-3.5-3.5-2.5-1-2 1-4 1.5-2 2-0.5 4 0 4 1 8-2 2-1zM344.5 465l2.5-1 1.5 1-1.5 2.5-2 0zM511.5 469l1.5-0.5 2.5 0.5 1.5 2-0.5 2-1.5 1.5-2 0-2-1-1-2.5zM541.5 473l1.5-1 2 0.5 5.5 4.5 0.5 8-31.5 0 1.5-1.5 6 1.5zM424 481l1-0.5 2 0.5 3.5 2 1 2-10.5 0 2-3zM240.5 483l2.5 0.5 1 1.5-5.5 0zM564 483l5 1 4-2.5 2 0 2.5 1.5 1 2-17.5 0z"/>
<path fill="#e0c1b6" d="M62 91l25 0 2 4 2 1.5 6 1 3.5-0.5 2.5-1 2.5-5 9.5 0-1.5 8 0 6 8.5 22 0.5 4-6 10-6 6 0 2 2 2 9.5 4 7 1.5 2-0.5 2-2.5 0.5-6.5 1.5-4 2-2 4-2.5 6 0 12 5 4 1 4 0 4.5-1.5 10.5-12 0.5-2 0.5-8 7-8 3-8 2-1 2 0.5 8 3.5 4 1 4-0.5 5.5-1.5 2-2 3.5-6 1.5-4-0.5-4 59 0 0 4 1 2 8 0 4 1 2.5 3 0 2-2 4-2.5 2.5-6 1.5-3.5 2-5 10 2.5 2 6 1 4 2 8 7 4 2.5 4 9.5 2 2.5 2 1 2 0 3-3.5 1-10 1-2 3.5-2 6.5-2 3-2 1-4-1-4-6-3.5-0.5-2.5 2-4 4.5-5 4-8 4.5-7 30 0 0 6-2.5 2.5-12 6.5-2 0-1-1-1-1.5-2-1.5-3 3-0.5 2 3.5 8 0.5 10-2.5 4-8 7-2 3-1 10 1 2.5 10-0.5 12-9 4-2.5 2.5-0.5-4.5-1.5-1.5-2.5 0-4 1.5-1.5 2-1 2.5 0.5 1.5 2 2 4.5 4-3.5 1.5-3 0.5-4-2-8-0.5-6 1.5-6 0.5-6 3-8 48 0 1.5 4 4 3 6 2 14.5 3-6.5 2.5-2 1.5-1 2 0 2 3 3.5 6 2 4-0.5 4-1.5 6 4.5 8 3 3.5 3 2 24 0.5 4 2 2.5 4-1 4-2.5 5-9 3-2 4-0.5 10 4 6 0 3-3.5 2.5-6 0.5-6-2-5-4 0.5-8 6-4 1-4-1.5-4-3-5-4-1-2 0.5-2 7-6 1-2-1.5-8 2.5-6 1-6 52.5 0-2 6-3 4-4 0.5-8-2.5-6-0.5-4 1.5-1.5 3 0 12 1.5 1.5 4 0 4 3.5 6.5 11 2 6 4 4 0.5 2-0.5 2-1.5 2-4 2 0 2 3 2 4-1.5 2-2.5 3.5-10 2.5-4.5 4-4.5 9.5-7 6.5-10.5 11.5-5.5 1-2-6.5-7-1.5-7 47.5 0 2.5 6 9 8-1 2-6.5 4-2 4 1 8 2 4 3 1 2 0 4-3 1-2 0.5-8-1.5-8 2.5-2 3.5-0.5 4 1.5 6.5 3 4 4 1 4-1 8-1.5 4-8 10-1 2-0.5 4 2 8 4.5 7.5 4 3.5 6 2.5 2-0.5 4-4 2-0.5 4 2.5 2 0.5 2-0.5 6-7.5 3.5-9.5-1.5-7-8-8-1.5-5 1.5-12 4-10 4.5-6 0.5-2-0.5-2-2.5-0.5-6 3-6 0.5-2-2.5-0.5-4.5 90.5 0 0 126-8 0-8 1-10.5 7-1.5 2-0.5 2 4 8 1 4-2.5 8-4.5 6-7.5 7-6 3-4 0.5-3-2.5-1.5-8-2.5-4-3-2-12-4.5-6-6-4-5.5-1.5-4 1.5-12-1.5-6-4.5-2.5-4-3.5-2 0-6 2-4-1-4-3.5-6-9.5-2-1.5-2-0.5-4 0.5-2 2.5-2.5 5-4 4-3.5 2-6 0.5-12-1.5-4-2-2-3-2-8-14 1-14 3-6-1.5-8-3-8-0.5-6 1-8 3.5-4 0.5-4-1.5-12-7-4-1-5 1.5-5 4-1 2-1 7-2 1.5-8-1.5-12-5-6 1.5-10 6-2 0-2-2-1-3.5 4-14 0-4-0.5-2-7.5-6-15-8.5-12 12-6 3.5-4 0.5-8-1-10-3.5-4 0-2.5 1-5.5 5.5-2 1-10 0-8 1.5-2 1.5-1 0.5-0.5 8-1.5 4-13 13-6 7-1.5 4 1 6-0.5 2-1.5 2-3.5 2-4-0.5-4-2-1.5 0.5-2 6-2.5 3-2 0-2.5-5-3-16-4.5-6 0.5-10-2.5-1.5-8 0.5-2 0.5-8 6.5-4 1-8-1.5-16 0.5-4.5-2-3-2-6.5 0-3-2-0.5-2 1.5-1.5 2-1 5.5-1.5 2.5-4 16.5-10 3-4-0.5-2-3-1.5-12-4.5-8-8-2-0.5-2 1-6.5 3.5-1.5 2 2 4-0.5 2-4 4-1 4 1.5 2.5 5.5 3.5-5.5 5-4 6-2 1-4-0.5-2-2.5-2.5-5-3.5 0-3.5-4-0.5-9-12-3.5-10-10-6-1.5-2.5-2-2-4 0.5-4 4-5 0.5-7 6-6-4 0-5 4-7.5 4.5-2.5 3.5-0.5 4 3 10-0.5 2-1.5 0.5-8-1-6 1-2.5 1.5-9.5 13.5-1 2.5 0 4 3 6 1 4 0 14-1.5 4-3.5 2.5-4 0.5-20-8-4-0.5-3 1.5-2 8-5 10-0.5 18 1 4 4.5 8 1 10 1.5 4 2.5 4 4 3 12-2 10-0.5 6-1 18 1.5 36-18.5 4 1.5 4 5.5 8 2 3.5 4.5 0 4-12.5 16-3.5 10-1.5 2-6 4-6 1-14-1.5-6 0.5-5.5 2-8.5 5.5-6 1.5-6-1.5-8-4-6-0.5-3.5 1-3 2-2 4 6.5 12 0 7-3 9 1.5 4 5.5 3.5 6 1.5 6 1 6-1 4 1 0.5 2-1 2-2 2-8 2-1.5 3-0.5 3 4.5 5.5 2 7 2 1 2-0.5 4-5 2-1 2 0 2 1 0.5 2-2.5 7-4.5 1-1.5 10.5-2 1.5-2-0.5-4 1-2-0.5-2-1-1.5-3 0.5-2 3-2 1.5-2-1-2-5.5-8-1-0.5-2 0.5-1.5 8 1 6-4.5 4 2.5 8-0.5 2-4.5 4-2.5 4-0.5 4 3 6-3 6 3 4 3.5 1.5 4 0 1-1.5-1.5-4 0-2 0.5-0.5 2 0 2 0.5 6 5.5 6-3.5 2 0 4 5.5 4 1 7 5.5 3 8 2 1.5 4-0.5 8-2.5 2-3.5 2-1.5 3.5 2.5 3 8-8.5 3.5-6 5.5-6 2.5-6 0.5-2-0.5-0.5-1.5-5.5-4.5-4 0.5-3 2 3 6 4-1.5 8 0 0.5 1.5 3.5 3 2 4 2 1 6-0.5 2 1 1.5 1.5 1 4-29.5 0-1-4 1-6-1-3.5-3.5 3.5-0.5 2 1.5 4 0 4-67 0 0.5-8 1-2 2-2 2-0.5 1 0.5 1.5 4 1.5 1.5 2.5-1.5 1-4-1.5-10-2-2-2 1.5-2 3.5-14-2-8 2-4-1-2 0-6 6.5-7.5-2.5-2-2 5.5-6 2-8.5 4-3.5 0.5-2-1.5-2-8-10-13 0.5-12-4 0-5 6.5-3.5 1.5-2 1-2-0.5-2-2.5-3.5-2-1.5-4-1 0-105 4 0 4-1.5 2-2 1-3.5-0.5-2-2-2-4-2-4.5-1 0-151 10.5-10 0.5-4-2-8 0.5-2 4.5-2.5 6-0.5 1.5-1 1-2-0.5-3-5.5-7zM117 310.5l-2 2.5-1.5 8 3 8 0.5 10 1.5 2 2.5 1.5 8 0 2.5-1.5-1-10 1.5-8-1-4-4-4-8-4zM235 108.5l-1.5 0.5-1.5 2 0 2 3 9 2 3.5 2 1 2-1 4-5 1.5-3.5 0-2-1.5-2-4-3-4-1.5zM261 130l-2 1.5-3 3.5-0.5 6 1.5 5.5 2 2 2 0 2-1 2-3.5 1.5-7-0.5-4-1-2.5-2-1zM395 142.5l-5 8.5 1 3 2.5 1 9.5 1.5 4-1 3-2.5 1-2-0.5-4-3.5-3.5-4-1.5-4-0.5zM437 152.5l-3.5 2.5-0.5 2 0 2 1 2 3 2 4 0 3.5-4 0-4-3.5-2.5zM447 147.5l-1 1.5 0 2 1 2.5 2-1 0.5-3.5-0.5-1zM625 141l-1 2 3.5 6 1 4-1.5 4-6.5 10-0.5 4 1 6 2 2.5 4 1.5 10 2.5 4 0 2-0.5 2-2.5 4-7.5-0.5-4-3.5-8 0.5-8-2.5-3-6-3.5-6-5.5-4-1zM671 172l-6 5-2 4-0.5 2 2.5 2 6 1 6-0.5 6 4 2 0.5 8-2 3.5-3 0.5-2-1-4-1-2-4-3-4-1-6 2-2-0.5-4-3-2 0zM741 191l-6 1.5-3.5 2.5-3.5 6 0 2 1 1.5 2 1 6-1.5 4 0.5 8 4 4-2 3-3.5 0.5-2-2-4-5.5-4-4-1.5zM149 453l-8 2-2.5 2 2.5 4 6.5 4 1 4 2.5 1.5 2 0 3-1.5 2.5-2-1.5-4 2-1 2.5 1 0.5 2-1.5 2 4.5 2.5 3-6.5-3.5-6-3.5-2.5-4-2zM65 321l-3.5 2-1 2 0 2 2.5 3 8 2.5 1.5-1.5 0.5-2-2-6-2-2zM123 440.5l0.5 2.5 3.5 4.5 2 0 0.5-4.5-1-2-3.5-1.5zM131 466.5l-0.5 0.5 0.5 1 2-1 0-0.5zM153 479l0 2 2-0.5 1-1.5-1-1zM69 358.5l-3 2.5 0 4 1 2 2 1.5 2 0 3.5-3.5 0.5-4-2-2zM200.5 181l2.5-1.5 4 0 4 1.5 1 2 0.5 4-0.5 4-3 4-2 1.5-2 0-3.5-1.5-3-4 0-6zM487 239l2 0.5 2 1.5 1 6-1.5 4-3.5 1-4 0-6-3-2-4 1-2 3.5-2zM335 255l2-0.5 1.5 0.5 1 2-1.5 2-1 0.5-2-0.5-1-2zM440.5 261l0.5-0.5 2-0.5 10 2 8 4 4 1 10-0.5 4 0.5 2.5 2 7.5 10 6 3 4 0 3.5-1 3.5-2 7-5.5 2 0.5 6.5 9 1.5 6-2 6.5-7 13.5-5 5.5-2 1-4 0.5-20-10.5-4-0.5-10 1-18-3.5-5.5-3.5-4.5-6-2-0.5-2 0-6 4-4 1.5-4 0-2-0.5-1.5-2.5 0-2 4.5-14 12-12zM745 267l4 0.5 6 5 2 0.5 4-0.5 8-5 0 83-6-3.5-3-4-0.5-2 3.5-8 0-4-3-6-5-5.5-4 0-14 7.5-0.5 2 8.5 6 3 4 0.5 2-4 8-1 8-2.5 6 0 4 2 2.5 8 0 8 3 5 4.5 1 6-1 4-3 3-8 1.5-6 2.5-2 0-4-4-2 0-6.5 3 0 2 4.5 4 0 16-1.5 4-4.5 6-2.5 10-5.5 6-0.5 2 5 16 7.5 4.5 7.5 5.5 0.5 2 4-2 0 2-4 0-4 3-3.5 5-2 8-136.5 0 0.5-4 1.5-2 2-1 6-1 7-4 1-2 0-8 1.5-4 4.5-4 8-5 11.5-13 1-2-3.5-8-3-10.5-2-4-2-2-2 0-0.5 0.5-3.5 10 0 4 3 6-1 4-2 3-2 0.5-4-1-8-6-4-5.5-2-5-0.5-8 0.5-2.5 2-2.5 6-3 12-3 6-9 8-3.5 1.5-2.5 0.5-4-2-1-4-0.5-2-1-3-5.5-2-6 2-6 3-2 8 1 4-2 4-4.5 4-2.5 2 0 6 3 8 2 6 5 5 0 3-1.5 0.5-2.5-4.5-6 0-10-0.5-8 2-4 7.5-6 1-2-1-6 0.5-2 2.5-1.5 2 0.5 5 3 1 1.5 0.5-1.5 5.5-4 12-3 2.5-3 1.5-4 2-1.5 6 0.5 2.5-1 1.5-2 1.5-6-1-6-2-6 7-10zM699 319.5l-1.5 1.5 1.5 2zM713 325l-2 0.5-1.5 1.5 1.5 2 4 1 2.5-1 1.5-2-1.5-2zM721 459l-12 1-2 1-1.5 2-0.5 4 2 5.5 2 1.5 4 0 4-3 6.5-8 1-2-1-2zM723.5 281l3.5 0 1.5 2-3.5 4.5-4 2.5-1.5-3 0-2 1.5-2zM616 301l3 1 1 1 0 2-3 2-2 0-2-2 0-2zM580 319l2 0 0.5 2-1.5 1-1.5-1zM630 329l3-1 4 1.5 2 3.5-0.5 2-1.5 2.5-4 1-4-2-1-3.5 0.5-2zM606.5 337l2.5 0.5 2 3.5-1.5 4-2.5 1.5-2.5-1.5-1-4 0.5-2zM186 367l1-0.5 1 0.5 0.5 2-1.5 1.5-1-1.5zM189 379l2-1 2 1 0 3.5-2 2-2 0-1-1.5-0.5-2zM766.5 393l2.5-0.5 0 16-3-1.5-2-4 0-6zM752.5 421l2.5 0 8 3.5 6 1 0 18.5-4 1.5-6 6.5-4 2.5-2-0.5-1.5-3-1.5-10-3-10 0-2 2-4zM564 441l3-1 2 1 0 2-2 2-2 0-2.5-2zM239 443l4-0.5 2 0.5 0 2-2 1.5-10.5 2.5-1-2 1.5-1.5zM300 459l1-0.5 2 0 1.5 2.5 3 8-0.5 4-8 8.5-4 1.5-1.5 2-9 0-2-6 0.5-7.5 2-1.5 6 0 8.5-3 1-2-1-4zM62.5 471l0.5-0.5 2.5 0.5 1 2-0.5 4 3 2 4-1.5 4-4 2 0.5 4 3 5 8-27 0 3-8-2-4zM538 479l3-1.5 4 0 2.5 1.5 1 2 0 4-18.5 0 1.5-2zM265.5 483l3.5 0 2.5 2-8.5 0zM424.5 483l2.5 0.5 1.5 1.5-6 0zM752 483l3-1.5 2 0.5 2 1 1 2-8.5 0zM571.5 485l1.5-1 2 0 1.5 1z"/>
<path fill="#ddb7aa" d="M66 91l16.5 0 1.5 6 3 3.5 4 0.5 16 0 2 2 7 14 2.5 12-1 4-2.5 4.5-3 3.5-5 4-1.5 2 0 2 0.5 2 3 2 18 6 6 0.5 3-2.5 0-8 0.5-4 2.5-2.5 2-1.5 4-0.5 4 1 14 7.5 4-1 6-2.5 6-7.5 6-5 1.5-4 0.5-8 10-11 2 0 8 2.5 10 1 10 3 2.5 2.5 2 6 0.5 4-1 2.5-10-3-4-0.5-10 2-8 3-8 6.5-6 7.5-1.5 4 1 8-0.5 2-11 2-4 2-9 14-2.5 6 0 4 3.5 6 1 4-1 12-2 3.5-2 1-4-0.5-18-7.5-4-1-5 0.5-3 2-0.5 8-4.5 8-0.5 4 0.5 10-1.5 10 1 2 6.5 8 1 4 0.5 8 2.5 8 0 2-0.5 2-2.5 2-10 6-0.5 6-6.5 8-3 5.5-6 3.5-5 7-1.5 4 1.5 2 3 1.5 10-0.5 2 0.5 2 2 1.5 4.5-1 12 1 2 2.5 1 8-1 5 2 2.5 10-0.5 8 1 4 2 2 6 1 7.5 9-1 2-4.5 2.5-1.5 1.5 0 2 5.5 6 2 4 1 4-1 2-4 4-4 6.5-4.5-0.5 0.5 2.5 4 1 2 2 1.5 2.5-1.5 2-4 3-4 9-8-4-2-0.5-2 1.5 0 5 3 4 1.5 4-1.5 8 0.5 4-1.5 4-1-2 0-4-2-2-3-0.5-6 0-2 3.5-2 1-18-1-1.5-1-4.5-6-0.5-2 0.5-6-1-2-3-4-2-4.5-3-3.5-5-2-10 2-6-2-1.5-2 1-2 4.5-4 1-2 0-2-5-10-2-2-6 0 0-96.5 8-0.5 4-2.5 3-6.5 0.5-4-1-2-3.5-2-11-2.5 0-102 6-1.5 3-2 1.5-2-1.5-2-9-3 0-16.5 6 0.5 4-1 3-2 1.5-2-0.5-2-1-2-7-4-2-2 0-2 3.5-6 9-6 1-2 0-2-3.5-6-0.5-2 0.5-2 8-1.5 2-1.5 2-3 0-4-5.5-10zM87 164.5l-2.5 2.5 0 2 2.5 3.5 2 0.5 8 0 2-0.5 1-1.5-1.5-4-3.5-2.5-4-1zM105 177l-2 0.5-1.5 3.5-2 8 1.5 1.5 7-1.5 3-3.5-0.5-4.5-1.5-2zM129 400.5l-4 2-2 2.5 0.5 2 3.5 2 6-1.5 2.5-2.5 0-2-0.5-1.5-2-1zM67 175l-2 0.5-1.5 1.5-1 2 0.5 2 2 0 2.5-2 0.5-2zM93 192.5l-4 2-3.5 4.5-0.5 2 2 3 4 0 2-1.5 2-3 2.5-6.5-0.5-0.5zM129 427l-2.5 2 0.5 1 1.5 1 3 0 1.5-2.5-2-1.5zM63 317l-4 3-2.5 3-1.5 4 0.5 2 2 2 12 6 9 12 0 2-2 2-9.5 2.5-3.5 3.5-1 4 1 10 1.5 3.5 2 0 16-6 2.5-1.5 1-2-2.5-10-2.5-6 0-8-2-18 1.5-6-2-2-8-1-4 0zM95 302l-0.5 1 0.5 1 2 0.5 1-1.5-1-1.5zM236.5 91l45 0-1.5 4-7 6-1 2 0.5 2 2.5 2 6 1 1.5 1-0.5 4-2 4-3 3.5-9.5 2.5-6.5 5-5 5-1.5 4-0.5 4 0.5 4 2.5 4 2 1.5 2 0 4-4.5 1.5-5 1-8 1.5-2.5 8-2.5 10 0 6 2.5 12 9 5 11.5 1 1.5 2 0.5 4-1 2.5-3 1-2 1-8 1.5-2.5 2-1.5 4-0.5 5 0.5 1 2-0.5 6-5.5 8-0.5 4 3.5 4 5 2 8-3 8-1.5 6-8.5 4-2.5 10-3 10-11.5 0.5-2-5.5-16 4.5-22 41 0 1.5 6 2 2 10 3.5 5 2.5 1 6 4 4.5 6 2 6 1 3 2.5 7 2 4 2.5 2.5 3.5 2 6 2.5 22 1 2 2 0 10-4.5 4-7.5 4-3.5 4 0 10 2.5 6 0 2-1 4-6 8-7 2 1 1.5 4 6.5 1.5 3 2.5 1 2-0.5 2-3.5 3-6.5 1 0.5 2 1.5 4 2.5 3 2 0.5 4-1 4-3 4-5.5 3-10 2-4 13-10 6-10 12-4.5 4-3.5 0.5-2 0-2-8.5-5-1.5-3-0.5-4 41.5 0 1 4 5 8 0.5 2-4.5 8 0.5 10-1 4-2 2-5 1.5-2 2-2.5 8.5 0 4 1 2 4 4 1.5 4-6 12 0 8 0.5 4 2 2 13.5 3.5 6 2.5 3.5 4-0.5 6-2.5 4-3 2-5.5 2-6-0.5-8-1.5-4-3-1-5 1-6 0-2-10 3-10 0.5-10 2.5-6-0.5-8-3.5-6-1-8 0.5-10 3-4 0.5-14-8-6-1.5-4 1-10 5.5-4 6-4 0.5-8-3-4 0-14 5-2 0.5-1-3 1.5-8 1.5-4.5 4-5.5 0.5-2-0.5-2-6 0-4-1.5-10-5-3.5-3.5-3-6-1-12-0.5-1.5-2-1.5-4 2-6 7-4 1.5-2.5 2.5-0.5 4 1 2 4 3.5 3.5 0.5-2 4-5.5 4.5-4 1-10 0-10-3-4 0-3 1.5-7.5 6-15.5 2-9.5 0-1 2 3 8-2 6-10.5 11-7.5 9-2 4-1 6-1.5 2-2 0.5-6-1.5-2 0.5-2.5 8.5-1.5 2-2 0-2.5-6-1-16-2-6 0-6-2.5-4.5-2-0.5-4 1-8 0-8 6-4 1-10-1-12 1-6-3-2-3-0.5 1-3.5 2-4-0.5-2-1.5-0.5-2 2.5-1.5 2-0.5 4 1 2-0.5 1.5-4.5 2-2 16-10 6.5-6 0-2-2-0.5-10-2.5-6-2.5-14-13-2 0-4 5-8 3.5-2.5 2-0.5 2 1 2 4 4-2.5 8 1.5 4 0 2-5 3.5-2-0.5-4-5-1 2-2 2-3 1-3-3-0.5-2 0.5-4 3-4-2-2-14-4-6-4.5-4-4-6 0-3-3.5-0.5-6 1.5-2 4-1 2.5-7 3.5-3 8-2 12 2 2-0.5 4-6.5 8 1 3-1 0.5-8 4.5-8 0.5-4-3-4-9-8-1-2zM393 137.5l-6.5 13.5 0.5 2 2 3 4 2 10-0.5 4-1 4-3.5 1.5-4-0.5-2-3-3.5-6-3zM359 91l8 0-1.5 4-2.5 1-2-1.5zM505 91l47.5 0-1.5 4-4 2.5-12.5-2.5-5.5-1.5-2 0-2 1-2.5 4.5-1 8-1.5 4-10.5 14-2.5 1.5-2 0-4-2.5-1.5-3 1.5-2 5.5-4 1-2 0.5-4zM699.5 91l69.5 0 0 115-4-1.5-7.5-9.5-4.5-3.5-4-2-6-1-6 0.5-6 1.5-2 2-5.5 8.5 0 4 1.5 2 6 3 6-1.5 4 0 7 4.5 0.5 2-4.5 4-7 1.5-2 1-0.5 5.5 2 14 2 4 0 4-4.5 6-5 4-4 2-2 0-2-1.5-3-6.5-3-4-4-2.5-12-5-7-6.5-2-4-1-4 2-10 0-6-1.5-2-4.5-0.5-2-1.5-3.5-4 0-2 0.5-4 3-3 14-4 4-2 1-3 1-6.5 6-5 1.5-2.5-1-4-2.5-2-2.5 0-3.5 6-2 1.5-4.5-1.5-2-2-0.5-2 1-3 4.5-7 2-8 0.5-4-1.5-8-1.5-2-6-4-1.5-2-1-4 0-4 1-4 3.5-8 7-10zM289.5 101l4 0 1.5 2-0.5 2-3.5 2.5-5.5-0.5-0.5-2 1.5-2zM654 111l3 0 4 2 1.5 4-1 4-5.5 10-7 6.5-3 5.5-1 1-4-0.5-5-4.5-1-4 2-2 8-2.5 3.5-3.5 2-4 0-8 1-2zM341 121l0-1 2-0.5 2 5.5-2 4-2 1-2-0.5 0-2.5zM650 157l1-1.5 2-0.5 2 2 3.5 8 4 4 0.5 2-0.5 2-3.5 5-6 3.5-0.5-2.5 3-10-1-2-5-4-0.5-2zM202.5 181l4.5-0.5 2 1 2.5 3.5-0.5 6-2 3.5-2 1-4 0-2-1.5-2-3 0-6zM664 189l5 0 5 2 1 4 0 4-1 2-2 2-3 1-2-0.5-4-4.5-2-6 0.5-2zM757 209l4-1.5 4 0 4 1.5 0 2.5-10 2.5-5.5-1 1-2zM483 245l2.5 0-0.5 2-0.5 0zM335.5 255l1.5-0.5 1.5 2.5-1.5 2.5-2.5-2.5zM212 265l3-0.5 2 0.5 6 4.5 8 3 2 2.5-1 4-9 13-6 5.5-7.5 1.5-8.5 3.5-8 1.5-20 10-4 1-4 0.5-10-4.5-4-1-8 1-8 3.5-2 0-6-3-5.5-4.5-3.5-4-1.5-4 0.5-2 2-1 8-3 14-10 4-2 6 0 6 1.5 10-3 12 1.5 2 0 8-6 10-5zM449.5 267l3.5-1 10 3 14 1.5 3.5 2.5 7.5 8 3 2.5 4 1 6-0.5 10-5 2-0.5 2 0.5 4 4 1.5 6-1.5 6-7.5 14-4.5 4-4 0.5-22-11.5-12 0-16-1.5-4.5-3.5-3.5-6.5-6-4-4 2-6 5-2 0-2-0.5-0.5-4 0.5-3.5 4-6.5 6-5 2-0.5 4 1.5 4-1zM744.5 271l2.5 0 5.5 4 2.5 1 10 1 1 6-2.5 10 1.5 4 4 1.5 0 27.5-6-7-4.5-8-3.5-2-6 0.5-6.5 7.5-9.5 4.5-4 1-2-0.5-3.5-3-1-2 1-2 7.5-6 7-8 0.5-2-1-20 3.5-6zM768 273l1-1 0 3.5-1-0.5zM613.5 303l3.5-1 2.5 1 0 2-2.5 1.5-2-0.5-1-1zM135 327l2-1.5 2 0.5 2 2 1.5 5-1.5 4-2 1-2-0.5-2-1.5-1.5-5zM631.5 329l3.5 0 2.5 2 0 4-2.5 2.5-4 0-2-2.5 0-4zM689.5 329l5.5-0.5 6 1 12 6.5 12 3 4-1.5 4-3 4-1 4 2 1.5 3.5-6.5 22 1 5 4 9-0.5 4-3 4-4.5 3.5-9 4.5-1 2 10.5 6 1.5 4 0 10-2 4-4.5 6-2.5 8-7 5.5-1.5 2.5 3.5 10 0 4-1.5 2-2.5 1.5-10 1-2 1.5-1.5 4 0 8 1.5 3.5 2 1.5 8 3.5 2 1.5 1 4-74 0-1-2.5-2-1-2 1-1.5 2.5-39 0 0.5-2 2-2 6-1 8-3 3-4-0.5-8 1.5-4 4-3 8 2 2-1 1-10 2.5-4 4.5-3.5 8-1.5 1.5-1 1.5-2-0.5-2-1-2-7.5-3.5-2-2.5-4-13-5-11 0.5-4 1-2 7.5-5 2-2.5 1.5-4.5 0.5-4-1-2-2-2-3-0.5-4 0-4-2.5-2-5 0.5-4 1.5-2 2-1.5 4 1 4 2 2 0 8-5.5 2-0.5 12 3 8 4.5 8 0 4-1 2-2 1-4-1-2.5-4-5-1-2.5 0-12 1.5-4zM695 382l-2.5 3-0.5 4 3 4 2 1 2-1 1-2 1-6-2-3-2-0.5zM675 387l0.5 2 4 0-1-2zM767 337l2-1.5 0 10.5-2-1-1.5-2-0.5-2zM605 339l2-1 2.5 1 0.5 2-1 3.5-2 1-2-1.5-0.5-3zM750.5 371l4.5 0 4 2 2 1.5 2 4.5-2 4.5-2 1-4 0-3.5-1.5-2-2-1.5-4 0-2 0.5-2zM610 409l5-1.5 4 0 2.5 1.5 1.5 2-1 6-3 5-2 1.5-4 0-2-1.5-3-3-0.5-6zM754.5 429l2.5-0.5 12 0.5 0 11.5-4 2-8 5.5-2-0.5-1.5-2.5-1.5-6-0.5-6 0.5-2zM139 437l2-0.5 6 4 4 1 6 5.5 2.5-4 1.5-0.5 4 0.5 4-2.5 2 0.5-1 4 0.5 2 4.5-3.5 4 0 6 3.5 3 8 1 1 6-0.5 6-1 2 0.5 0.5 2-4 6-2.5 2-6 2.5-2-0.5-2.5-2-1-2-0.5-4-4-0.5-6 2-4 0-8-9-6-4-4 2-6-1.5-2 1-4 3.5-4 1-2 0-1.5-2.5 0.5-4-1-4 4-3zM130.5 459l3 0 1.5 2-6 1-1.5-1zM138 465l1-0.5 2.5 0.5 1.5 2 0.5 4 7 4-2.5 4 0.5 2 3.5 4-35 0-0.5-2 4.5-6 2-1.5 6 4.5 2.5-1 5-6 0.5-6zM727.5 465l3.5-1.5 2 0.5 3 3 0 2-5 10.5-2 2-2 0-5-2.5-1.5-2 0-2 1.5-4zM296 471l3-1.5 4 0 1.5 1.5 0 2-1 2-4.5 4.5-2 1-4-1-2 0.5-1 5-3 0-2-6 0-4.5 2-1 4 1 2-0.5zM157 473l2-1 2 0.5 0.5 0.5-0.5 4-3-2zM179.5 473l3.5-1 3.5 1 2.5 2 2 4.5 2 1 8 0.5 2 2 0.5 2-26 0 0.5-8zM76.5 479l2.5-0.5 3 0.5 1.5 2 0.5 4-9.5 0zM108.5 479l0.5-0.5 2 1 2 3 1.5 0.5 0 2-7.5 0zM159.5 479l1.5-1.5 6 1 3 2.5 1 4-16 0zM537.5 481l3.5-1.5 4 0.5 1 1 0.5 4-14 0 1.5-2z"/>
<path fill="#daad9e" d="M71.5 91l5.5 0-0.5 4 1 4 5.5 8 4 1.5 8-3.5 6.5 0 3.5 2 3.5 6 4.5 5 1 5 0 4-4.5 12-8.5 8-1 2 0.5 2 1.5 2 3.5 2 11.5 3 12 4 6 0.5 3.5-1.5 1-2-1-10 1-4 3.5-2 4 0 6 2 5 4 2 4 1 5 3 5 0 2-0.5 4-7.5 14-1.5 4 0.5 4 3 8-1 10-1.5 2-2.5 1-4-1-18-7-12-1-2 1-0.5 1 1.5 10-4 10 1 12-2.5 12 1.5 4 7 5.5 1.5 2.5 1.5 16-1 4-4 2.5-8 0.5-6-2-10-6-2 0-2 0.5-1.5 2.5 0 2 1.5 2 6 4 6 2 1 2-1 2-4-1-12 6-1.5 1-0.5 8-1.5 2-6.5 3-6 0.5-7.5-1.5-1.5-2 0-2 1.5-4 3.5-3 14-3.5 1.5-1.5 0-2-1.5-4-6.5-4-1.5-2-1-2 0-2 3.5-6 0.5-8 6.5-8-1.5-2-2 0-4 1.5-2.5 2.5-2.5 8-2 4-7.5 6-1 4 1.5 6-0.5 2-3.5 1.5-12-2 0-88.5 4-2.5 3-4.5 3-3 12-5.5 4-3.5 2-4 0-8.5 2 0 10 9.5 8 0.5 2 0.5 1 2 0 2-1.5 2-7.5 5.5-4 7-1.5 5.5 1 2 2.5 2 6 0.5 4-2 8-10.5 8-3.5 2-3 0.5-3.5 0-4-2-4-5-6-11-18-2-2-2.5 0-4 6-4 3-6 2.5-4 0.5-6-5.5-4-6.5-7-4-1.5-2 0-2 2.5-2.5 13.5-5.5 0.5-2-2.5-8 0-2 5-8 1-4-0.5-4-3.5-8zM99 117l-2 2 0.5 2 1.5 0.5 2-0.5 1.5-2 0-2-1.5-0.5zM59 253l-2 2-0.5 2 0.5 2.5 2 0.5 2-1 1-2-1-3.5zM240.5 91l38.5 0-2.5 4-10 8 0 2 2.5 3 8 4 1 1-0.5 2-2.5 2.5-8 1.5-4 2-10 14-2 0-2-3-1.5-5 1.5-3 3.5-5 1-4-2.5-4-6-4-4-4-1-4zM385 93l0-2 35 0 0.5 6 2 4 2.5 1.5 8 1 4 1.5 2.5 2 3.5 6 7 6 0.5 4-0.5 10-0.5 2-8.5 9-3.5 5-8.5 8 0 2 6.5 6 0.5 2-1.5 2-3.5 2-2 0-6-1-6 0.5-12-1-4 2-4 4-4 2.5-14 1.5-12-1.5-4 0.5-2 0.5 7 10 1 2-0.5 4-2.5 4-7 7-14 19-2 1-6 0.5-2 8-2 3.5-2 0-1.5-3-1.5-12 0.5-4 2-8 0-4-4-6-3.5-3-2 0-4 2.5-8-0.5-8 5.5-4 1-20 0-4-0.5-2-1.5-1.5-3.5 0-2 1.5-3.5 2-2.5 18-11 4-1.5 7.5-1.5 2.5-2-0.5-10 1-4 3.5-3 4-2 8-1.5 14 7 16 1.5 4-2 2-4 1.5-6 3-4 3.5-1.5 9-2.5 9-5.5 2.5 1.5 0.5 2-3 6 1.5 4 4.5 5 4 2 12-2 4-2 6-5 1-2-3-4-5-4-10.5-6-4.5-7-6-7-3.5-10zM349 167.5l-0.5 3.5 2.5 4 4 2.5 4.5-0.5-2.5-4-4-5-2-1zM507 91l13 0-3 6.5-4 2.5-2-0.5-2-2zM535.5 91l13 0-1.5 2.5-4 0.5-4-1zM591 91l35.5 0 3 12-0.5 2-2 4 0.5 12-0.5 2-2 1.5-6 2-2 4.5-2.5 16 1 2 4 4 1 2 0 2-3 10-1 12-2.5 4-5 3.5-4 2-22 2.5-4-0.5-8-4-4-1-10 0.5-14 2.5-13.5-7.5-6.5-1.5-4 1.5-18 8.5-12-0.5-10 4.5-2.5-0.5-1.5-2 0.5-4 1.5-2.5 6-5.5 1-2-0.5-12 3-4 2.5-1.5 4-0.5 4 2 6 5.5 2 1 2.5-0.5 0.5-2-9-5.5-1.5-2.5 0-6 1.5-3.5 2-1.5 6-1 12 2.5 3.5 1.5 4.5 4 4-0.5 2 1 8 8.5 6 1 4-0.5 5.5-7.5 6-6 0.5-2 0-8 2-3 4-3 8.5-4 3.5-4 4-6 12-7 3.5-5 1-4-0.5-2-8.5-6zM702 91l67 0 0 84-4 2 2 1.5 2 0.5 0 20-6-3.5-6-6.5-2-3-2-1-16 1.5-5.5-1.5-1.5-2-0.5-2 0-6-0.5-3-2-1.5-2 0-2 2-1 2.5 2.5 12 0 4-1.5 4-5 8 2.5 4 7.5 6 1.5 2 2 20-1 8 0.5 8-2 2.5-4 1-2-0.5-10-9-14-6.5-4.5-3.5-2.5-4-1-4 2.5-10 0-10-0.5-0.5-6 1.5-2-0.5-3-2.5-1.5-4 1-4 3.5-2.5 8 0.5 6-1.5 6 1.5 2-2.5 1.5-11.5 5.5-6 2-4-1.5-4-3-4-6.5-4-2-2-0.5-2 2-16 2.5-2 4-2 2-2 0-2-2-2-4-1-8 1-4-0.5-2-1.5-1.5-4 1.5-6.5 10-15zM729 114.5l-2 1-1.5 1.5-2.5 4 0 2 1 2 3 1.5 2 0.5 2-1 4.5-7 0.5-2-2.5-2zM731 143l-2 2.5 2 2 2 0 0-2.5zM195 117l4-1 3 1 4.5 4-0.5 2-5 5-4 2-4 1-2-2-1-6 2.5-4zM462 125l5 0 4 1.5 2.5 2.5 2.5 6 1.5 12 0.5 16-2 4-3 2-4 0-8-3.5-4-3.5-2.5-5-1-12-2-10 4.5-6zM274.5 131l8.5-1.5 6 0.5 4 2 12 10.5 1.5 4.5-0.5 2-3.5 4-2.5 8-3 4-6 4-6 1-8-2-8.5-7-5.5-8 0-2 3-6 3-11zM326 139l3-1 1.5 1 0 2-1.5 2.5-2 0.5-1-1-1-2zM540.5 139l2.5 0 4 2 1 2-0.5 2-4.5 3-4-1-2.5-2-0.5-2 1-2zM180.5 141l2.5-1 1 1-2.5 6-0.5 10-1 2-9 2-4-1-1.5-1 0-4 0.5-2 2-2 7.5-4zM210 143l5-1 4 0.5 8.5 2.5 7.5 4.5 2 0 4-2.5 2 0 4 1 5 3 1.5 4-1.5 4-2.5 2-6.5 2.5-2.5 1.5-1 2 1 6 4.5 6-2 4-2-0.5-6-5.5-4-2-18-5-4-3-4-4.5-4 1.5-2 0-2-2-1.5-3 0.5-4 3-1.5 4 0.5 1.5-7 2.5-2.5zM54 165l7-0.5 1.5 0.5 1 2-2.5 6-2 3-2 1-4-1-8-4.5 0-3zM201 183l2-1 4-0.5 2 1.5 1 2 0 6-1 2-2 1.5-4 0-3-3.5-0.5-4zM229 183l2-1.5 2 0 2 1.5 0.5 4-2.5 4-2 0-2.5-2-0.5-4zM622 185l3-1 4 0 6 2 4 2 3 3 0.5 2 0 4-0.5 2-3 3-6 2-10-0.5-5.5-2.5-2.5-4 0.5-4 2.5-4zM666.5 193l2.5 0 1.5 2 0.5 2-2 2.5-2 0-1.5-2.5-0.5-2zM257 201l2-1.5 4 0 2 1.5-0.5 2-1.5 1.5-4 0-1.5-1.5zM335 257l2-2 1 2-1 1.5zM204 269l7-1.5 4 0 13.5 7.5 0.5 2-1 4-4.5 8-4.5 5-4 1.5-14 3-4 0-6-1.5-1.5 0-2 6-1.5 2-11 6.5-6 2-6-1-6-3-4-1-20 2-6-2.5-3-3-1-2 0-2 2-3 12-7.5 8-4 4-0.5 6 1 10-4 4-1 12 2 10-8.5zM457 271l12 1.5 2.5 0.5 2 2 0.5 2-2.5 10-2 4-4.5 3.5-8 2-2.5-1.5-1.5-10-3-4 3-8zM743 277l2-1 6 3 8 0.5 2.5 1.5 1 2-1 4-3 6-1.5 6.5-1.5 1.5-2.5 0.5-2-1-6-4-3-3.5-1-10zM479.5 281l3.5 0.5 8 5 4 0.5 6-0.5 10-4.5 2 0 2.5 1 2.5 4 0 4-6 14-3 4-2 2-4 0-15-8-10.5-12-1-4 0.5-2 0.5-2zM614.5 303l2.5-0.5 1 0.5 0 2-3 0.5zM765.5 305l3.5-1.5 0 10.5-2-1-1.5-2-1-4zM738.5 309l1.5 0 1 2-2 2.5-2 1-1.5-1.5 1-2zM45 315l0-0.5 8 0.5 1.5 2-1.5 4-2 3-2 2-4 1zM86.5 331l4.5-1 14 2 2.5 1 1.5 4-2.5 10 0 6 2.5 2 8 0.5 4 2 3.5 5.5 1.5 10 3 6 4 2.5 6.5 1.5 0.5 2-3 3-6 0-2 0.5-4 3.5-4 1-2 1.5-0.5 2.5 2 2-1 4 0 2 1 2 6.5 5.5 4 0.5 4-3.5 2.5-4.5 0.5-2-1.5-4 0.5-2 2 0 4 3 3 5-1 4-6 6-8-0.5-1 2.5 0.5 4-1.5 2-4-4-2 0-2 1.5-1 4.5 2 6-3 6 0 4 1.5 4 2.5 4 0 2.5-3.5 3.5-4.5 1-6 0-4 4.5-2 0.5-10-1-4-2-1.5-3 0.5-4-7-12-1-6-1.5-2-8-4-2.5-2-2.5-6-6-6-1-4 4-10-1.5-10 2.5-4 11.5-7 12-3 3-2 3.5-4 0.5-2-4.5-8-4-12-1.5-10 1-4zM97 428.5l-1.5 0.5 2.5 4 3 1.5 2.5-1.5 0.5-2-1-1zM97 445l-2 0.5-4 3.5 2 1.5 4-0.5 1.5-3zM630 331l3-1.5 2 0.5 2 2 0 3-2 2-2 0-2-0.5-1.5-3.5zM689.5 333l3.5-1 6 0.5 4 1 10 6.5 6 2.5 6 1 8-1 2 1.5 0.5 7-2 6-0.5 4 4 14-0.5 4-3 4-3 2-7.5 3-6 0.5-8-3-6-7-4-1-4 0-4 1-4 3.5-2 1-10-1.5-4 1-2 2-1 2.5-0.5 2 1 2 3.5 2 5 1.5 10 0.5 2 1 6 5 2 1 16-2 8-2 4 0 4 1 2 1.5 2 2.5 0.5 6-0.5 4-2 3.5-7 6.5-2.5 6-6.5 5-2 3 0 4 4.5 8-1 4-3.5 2-8 0-2 1.5-1 2.5-1 10 1 6 3 3 6 3 3 4-63.5 0-0.5-6-1-2-5-6-5-9.5-2-6.5-0.5-4 1.5-4 3-2.5 4-1 6 0.5 2-1 3-4 1-4-3.5-4-8.5-4-2-2-7.5-20 0-4 1.5-2.5 6.5-5.5 2-4 2-6 0-4-1-4-2.5-4 0.5-2 5-4 3.5-1.5 4 0 6 1 8 3.5 4 0.5 10-0.5 4-2.5 2.5-4.5 0-6-1-2-5-6-0.5-4 0.5-6zM669 431l-4 2-1 2 1 2 6 4.5 4 0.5 2-1 1.5-4-1.5-4-2-2-2-0.5zM651 453l-3 6-0.5 2 1.5 3 4-1.5 2-1.5 2-4 0-2.5-2-2-2-0.5zM49.5 335l3.5-1 11 3 4.5 4 2.5 6-0.5 2-6 4-3.5 4-2 15-7 11 1 6-0.5 4-3.5 6.5-4 2.5 0-55.5 2.5-1.5 0-6zM606 341l1-1 1.5 1-1.5 2zM631.5 363l3.5-1 2 1 3.5 4 0 4-3.5 3-4 0.5-3-3.5-0.5-4zM753 375l2-1 3 1 1.5 2-0.5 3-2 1-2-0.5-2-3.5zM612 413l3-1.5 3 1.5 0 2-1.5 2-1.5 1-2-0.5-1.5-2.5zM127.5 435l1.5-0.5 2 0 1 0.5-1 2-2-0.5zM758.5 435l3.5 0 2 2-1 2-4 3-2 0-1-3 1-3zM140 441l1-1 2 0 2.5 3-1 2-3.5 4-2-0.5 0-1.5 0-4zM174.5 447l2.5-1.5 5 1.5 3 3.5 0 3.5-2 1.5-4 0.5-4 2-2-0.5-1-2.5zM198 457l1.5 0 0 2-3 4-3.5 2.5-4-0.5-1.5-2 0-2 1.5-2.5 2-1zM622.5 463l2.5-0.5 4 2 5.5 8.5 1 2 0 2-3 8-30.5 0 1-1 6-1 6 0 3.5-2 3-6 0-10zM296.5 473l2.5-1.5 2 0 1.5 1.5-1.5 3.5-2 1.5-2 0-1-1 0-2zM138.5 475l2.5-1 3.5 1 1 2 0.5 4 2.5 4-8 0-4-2-1.5-2 0-2zM181 475l2-1 2 0.5 2 1.5 2 4.5 2 2 8 0.5 2.5 2-22.5 0zM160 481l3-1 4 0.5 2 2 0.5 2.5-12.5 0zM122.5 483l2.5-1 4 0 3 1 1 2-11.5 0zM537 483l4-1.5 2 0 1.5 1.5 0.5 2-10.5 0z"/>
<path fill="#d7a491" d="M257.5 91l18.5 0-1 2.5-4 3.5-6 2-2-1-4-3zM388 91l10 0-0.5 6-2.5 4.5-4 0.5-2-1.5-1-3.5zM407.5 91l9.5 0 0.5 12 1 2 2.5 1 10-0.5 4 1 4 3.5 6 7 2.5 4 0.5 6-2 8-11 13.5-4 3-2 1-4-1-16-11.5-8-5-3.5-4-4.5-10-0.5-4 2.5-4 4-2.5 10-1.5 1-2-3-8zM510 91l5.5 0-1 2-1.5 1.5-2-0.5zM595.5 91l28.5 0 0 8-5 4.5-1 1.5-0.5 2 1.5 3.5 4 4.5 1 2-1 2.5-6 2-2 1.5-1 4-0.5 10-2.5 8 0.5 4 4.5 8 0 4-1 16-4 6-4 3-4 1.5-20 2-4-1-10-6.5-2-0.5-12 2.5-10 0.5-12-5.5-10-2-4 0.5-6 4-8 1.5-8 3-7-1-3-1.5-1.5-14.5 1.5-3.5 2-2 2-1 4 1.5 6 5.5 2 1 6 0 4-2.5 0.5-1-1.5-2-9-4.5-3-3.5-1-2-0.5-2 1.5-4 2-2 3-1 6 0.5 8.5 2.5 2.5 2 3 4.5 2 1.5 6 1.5 6 6.5 2 1.5 14 4 4-4 4-1.5-4-2.5-0.5-3.5 2.5-3 6.5-5 1-2 0-2-2-6 0.5-2.5 4-3 8-1.5 4.5-3 9.5-10.5 6-5.5 7.5-12 0-2-1.5-2-7-4zM567 168.5l-1 4.5-2.5 2-1.5 2 3 1.5 2 0 2-3.5 0-4zM704 91l65 0 0 81-18 4.5-4 4.5-4 2-6 0.5-3-2.5-0.5-4 1.5-10.5 2-1 6-0.5 2-2 0.5-2 0-4-2.5-8-0.5-4 1-2 4.5-2 2.5-2-0.5-2-7-5-2.5-5-0.5-2 3-10-2-2.5-16-7.5-14-0.5-2-1.5-2-3zM244.5 99l0.5-0.5 2-0.5 2 2 2 3 0 2-2 0.5-3.5-2.5-1-2zM78 115l3-1.5 8 2 1.5 1.5 2 6 1.5 2 3 2 6 0.5 1.5 1.5 1.5 6-1.5 4-5.5 4-4 0-4-2-12-8-4-4-1.5-4 0.5-4zM462.5 127l4.5 0 4 2 3 4 1.5 6 1.5 10-1 10-1 4-2 2.5-2 1-4 0-6-2.5-4-4.5-1.5-4.5-1.5-18 3-6zM274.5 133l8.5-1.5 6 0.5 5.5 3 8 8 0.5 2-0.5 2-5 12-4.5 6-4 2.5-6 0.5-6-2-8-7-3.5-6 0-4 3.5-12 2-2zM718.5 137l2.5-0.5 0.5 0.5 0 8 1 4 5.5 6 2 4-0.5 2-8.5 3.5-2-0.5-10-7.5-2-1.5-0.5-2 0.5-6 2-5 2-1.5zM538.5 141l2.5-1.5 2 0 3.5 1.5 1 2-0.5 2-2 1.5-4 0.5-3-2-0.5-2zM143.5 145l5.5 0 4 2 2 2 1.5 4 0 8 3.5 6 0.5 2-1.5 4-6 12 1 10-1.5 10-1 2-2.5 1-5-1-11-5-17-5-1.5-2 1.5-10-1-6.5-1.5-3.5-5.5-8-2-4 0-2 1-1 6-1 6 1.5 8 4 4 1.5 4 0 4-1 2.5-2 1.5-2-0.5-4-1.5-8 0.5-2zM209 145l6-1.5 6 0.5 6.5 3 9.5 9.5 2 0 4-3 2-0.5 3 2 0 2-3 2-6 0.5-2 2-2 8-2 2-18-2.5-6-3-4-6-0.5 1-3.5 2.5-2-0.5-3-4 1-4 2-1 4 2.5 1.5-1.5 1-6zM72 147l5 0 5 2 1.5 2 0 2-1.5 2-3 1.5-4.5-1.5-3-4-0.5-2zM365.5 149l5.5-1 6 0 2 1 5 6 5 4.5 6 3 4 0 14-6.5 2 0 2 1 1 2 0 4-0.5 2-2.5 1.5-8-0.5-4 0.5-10 9.5-12 2.5-6-0.5-12-4.5-3.5-4.5-0.5-4 1-10 2.5-4zM172 153l3-1.5 2 1 0.5 2.5-2 2-3 0-1.5-2zM313.5 161l3.5-1 4 0 20 7.5 2.5 1.5 7 8 10.5 7.5 5.5 6.5 0.5 2-1.5 4-8 8-3 6-7.5 9.5-4 3.5-6 1-1 2-1 6-2 4-2 0-1.5-4-0.5-12 1-4 3.5-6 0.5-4-4.5-6-6.5-5-2-0.5-2 3.5-2 1.5-4 0-4-1.5-2 0.5-6 4.5-4 1-20 0.5-4-1.5-1.5-3 0.5-4 1.5-2 13.5-9 8-3.5 10-1.5 2-1 1-3 0.5-10 2-4zM202.5 183l2.5-0.5 2 0.5 2 2 1 4-1 2.5-2 2-4 0-2-2.5-1-4 1-2.5zM229.5 183l1.5-1 2 0 1 1 0.5 4-1.5 3-2 0.5-2-2-0.5-3.5zM71.5 185l5.5-1.5 2 0.5 3 3 0 6-4 10-0.5 2 1.5 2 2 1.5 8 2 6-0.5 2-1 6-8 2-1.5 2.5-0.5 2.5 2 3.5 12-4 18-0.5 20 2 5.5 8 4 1.5 2.5 0 12-0.5 2-1.5 2-3.5 1-4-0.5-18-9-2 0-6 3-2 0-2-1-1.5-3.5 1-4 2.5-2.5 9.5-5.5 0.5-2-0.5-2-2-2-3.5 0-18 4-2-1.5-1.5-2.5-0.5-12-2-2-2-0.5-2 1-2 3.5-4.5 18 0.5 3.5 2 2.5 2 1 4-0.5 2 1 0 0.5-8 8 0 2 1 8-1 1.5-4 1-6-1 0-9 3-2.5-1-2-2-0.5 0-66 10-6 2 0 6 4.5 2 0.5 2-0.5 1-2-1-2-6.5-6 0-2 3.5-4zM53 219l-4.5 2-0.5 2 2 2 3 2 4 0 1.5-2-1-4-2.5-2zM714.5 185l0.5-1 2 1 2 5.5 0 2.5-2 2.5-2-1-0.5-1.5-0.5-4zM764.5 185l4.5-1.5 0 10-4-2-1.5-2.5 0-2zM479.5 187l1.5-1 2 1-2 2zM622.5 187l2.5-1 4-0.5 4 1 4 2 4 4.5 0.5 4-1 2-3.5 3-4 1.5-7.5-0.5-6.5-2-2-2-0.5-4 1.5-4zM682.5 197l2.5-1.5 4 0 2.5 1.5 1.5 2-0.5 4-3.5 3.5-4 0-2-1.5-1.5-2 0-4zM257.5 201l1.5-1 4 0 1.5 1-0.5 2-3 1.5-2-0.5-1-1zM701 203l16 5.5 6 3.5 3 3 1 4-1.5 8 2 6 0.5 4-2.5 8-2.5 2.5-4-1-12-9-6-1-4-2-3-3.5-1-4 2.5-8 1.5-9 2-6zM711 225l-4 2 0 3 2 3 6-0.5 4-1.5 2-2-1-2-5-1.5zM208.5 269l6.5 0.5 10.5 7.5 0.5 4-1.5 4-3.5 5.5-4 2.5-4 1.5-14 2-4-1-8-4-2 0 0.5 9.5-1 2-4.5 4-7 3.5-4 1.5-4.5-1-9.5-5-22 1-4-1.5-1.5-2.5 0-2 1.5-2 10-6 6-1.5 10 0 8-5 4-1.5 4 0 12 4 3.5-8 3.5-4 11-5.5zM459 275l2-0.5 4 0 2 0.5 1 2-1.5 6-1.5 3-2 1-2-1-2.5-5-1-4zM510 285l3 0 2 2 0.5 4-6 14-2.5 3-4 0.5-10-4.5-3.5-3-2-4-0.5-6 2-1 12-1.5zM751.5 285l3.5-0.5 2 0.5-1.5 2-3 2-3.5 1-1.5-1 0-2zM69.5 303l5.5-0.5 2.5 0.5 0.5 2-1 2.5-6 1.5-3.5-2 0-2zM631 331l2-0.5 2.5 0.5 1 2-1 2-2.5 1-2-0.5-0.5-2.5zM90.5 333l2.5 0 6 1 3.5 1 2 2 0 2-2.5 14 0.5 4 2.5 2 10 0.5 3.5 1.5 2.5 6 1.5 8 0 10-3.5 3.5-4 1-2 1.5-1 2 3 12 8.5 8 0.5 2-5 5-2.5 7 2 4-1 12 2.5 6-1 2.5-4 1-2 0.5-6-1-3 1-0.5 4-2.5 1-8-0.5-1-0.5-0.5-2 3.5-2 4 1 2.5-1 0-8-1.5-4 0-2 5.5-4 1.5-6-2-2-4-0.5-4-4-2-0.5-6 6.5-2-0.5-2-3 0.5-4-2.5-1.5-2 0.5-2 3.5-2 1.5-2 0-2.5-2-1.5-6.5-6-5.5-1-2 1-4 2.5-6-1-8 1-4 4.5-4 5-2.5 12-2 11.5-9.5 1-2-1-4-7.5-6-4.5-8-1.5-6-0.5-6 1-2zM692 337l5-1 6 1 10 7.5 8.5 4.5 1 2-3.5 2-12 4-2 2-0.5 2 1 4 3.5 7.5 4 0.5 4.5-2 2-2 3.5-6 2-1.5 2 0 2 1.5 5 12-1 4-2 3-6 2.5-6 0-5.5-3.5-6.5-7.5-12 0-4-1-1-1.5 6-12 2-6 0-4-1-2-6-4-1-2 0.5-2zM55 339l4 0.5 3.5 1.5 1.5 2 0 2-1 2-4 1.5-2-0.5-3.5-5 0-2zM726 349l3.5 0 0.5 2-1 2-2 0-3.5-2zM45 351l0-1 4 0.5 6 2.5 2 3.5 0.5 6.5-1 6-1.5 3.5-4 4-6 3zM632.5 363l3.5 0 2 2 1 2-0.5 4-3.5 2.5-2 0-2-2-1-2.5 0.5-4zM655 367l6 0 8 3.5 12 0.5 5.5 2-0.5 2-3 3-12 0.5-4 2.5-2 4-2.5 6 0 2 0.5 2.5 14 2.5 8 1 3.5 2 4 4 2.5 1 20-2 6.5-3 3.5-0.5 4 1.5 2 2.5 1 4.5-1 4-4 3.5-8 1-1.5 1.5-3 8-6 10-0.5 4 0.5 2 4.5 6.5-2 2-6-0.5-2 1-2.5 3-1.5 16 1 4 2.5 4 6 4 1.5 2-55.5 0 0-6-2-8 0-2 6.5-10 1.5-4-4-8 1.5-4 3-2 2 0.5 8 4 4 0.5 5.5-3 1.5-4-0.5-4-1.5-4-5-4-4-0.5-10 3-2 0-12-4.5-2-1-2-3-5-18 1-2.5 6-4.5 2-3 2.5-10 1-12 2.5-2.5zM45 387l0-1.5 2 1 2 4.5-1.5 4-2.5 2zM140.5 405l0.5-1.5 2 0.5 0.5 1-0.5 3.5-2 1.5-2-1zM643 447l2 0 2 2-1 4-3 3-2-1-1-4 1-2.5zM176.5 449l2.5-1 2 1 0.5 2-2.5 1-2-0.5zM190 461l1-1 2 0 1.5 1-1 2-2.5 1-1-1zM139 477l2-0.5 2.5 0.5 0.5 2-1 3.5-2 0.5-3-2-0.5-2zM182.5 479l0.5-1.5 2 0 4.5 7.5-9 0zM626 479l1-1.5 2 1.5-1 6-4 0 0.5-4zM161 483l4-1 2 0.5 1 2.5-8.5 0zM538 485l3-1.5 2.5 1.5z"/>
<path fill="#d49a85" d="M261 91l12 0-2 3-4 2-4-1.5zM600 91l9 0-1.5 2-2.5 1-3-1zM615.5 91l5 0-1.5 5-2-1zM706 91l26.5 0 2.5 3.5 2 0.5 2-0.5 2-3.5 28 0 0 78.5-12 3-5.5-1.5-2.5-2 0-10-2-10 2-2.5 8-4 1.5-3.5 1-6-2.5-2-8-1-3.5-3-1-4 2-8-1.5-3.5-4-3-12-5.5-12-2.5-6-2-3.5-3.5zM420 109l9-1.5 6 1.5 8 8 3 6-0.5 6-2 6-10.5 12.5-4 2-4-1-4-2-19-13.5-2.5-4-2.5-8 0.5-4 1.5-2 2-0.5 8-1zM609 109l2 0 1.5 2 0 2-1.5 2-2 0.5-2-2.5zM80 121l3-1.5 4 1.5 4 7 9 5 0.5 2-0.5 2-3 1.5-4-1-10-7-4-5.5 0-2zM462 129l3-0.5 4 1 3.5 3.5 2 6 1.5 10-1 8-2 5.5-4 2-4-0.5-4-2-2.5-3-2-4-0.5-18 1.5-4zM608 129l1 0 1.5 2 0.5 4-4 8 0 2 1 4 5.5 10 0.5 4 0 10-1.5 6-3.5 4-6 3-16 2-4 0-4-1.5-5.5-5.5-2.5-11.5-6-8.5 0-2 5.5-6 2-4 0.5-8 6-2 10-6 2 0.5 6 4 4 1 2-2 4-7zM281.5 133l5.5 0 4 1.5 5.5 4.5 3 4 0.5 2-3 10-3 6-5 4-4 1.5-6-1-6-4.5-3.5-4-3-6 0.5-4 2-7 2-3 4-2zM539.5 141l1.5-1 4 0.5 2 2.5-1 2-3 1.5-4-1-1-2.5zM212.5 145l4.5-0.5 4 1 4 1.5 4.5 4 2.5 4 1 4-0.5 4-2 4-3.5 1-10 0.5-6-2.5-3-3-2-4 0-8 2.5-4zM146.5 147l2.5 0.5 2 1 2.5 2.5 0.5 4-3 6 1 2 4.5 6 0.5 2-1 4-5 10 1.5 6-0.5 6-3 6-2 1.5-2 0.5-4-1-8-5-10-2.5-4-2.5-1-3-0.5-18-4.5-4.5-2-3.5 0.5-2 3.5-0.5 3 0.5 7 5.5 10 1 4-1 5-3.5 4-4-4-10 0-2zM505 147l4 0 6 1 5.5 3 4.5 8.5 6 1.5 2.5 2 2 6 0.5 2-1.5 2-5.5 1.5-8-1.5-2.5-2-0.5-4-2-2-7-2.5-5.5-3.5-3-4 0-4 1-2zM365 151l6-1.5 6 1 12 10.5 6 4 1.5 2-1 4-1.5 2-3.5 2-9.5 2.5-6-1-8.5-3.5-3.5-3-1.5-5 0.5-10zM198 155l1-0.5 2 1 2.5 3.5-0.5 2-2 2-2-0.5-2.5-3.5 0-2zM315 163l4-0.5 4 0.5 17.5 6 8.5 8.5 10 7.5 3.5 4 2 4-1 4-8 8-2 6-4.5 6-6 5.5-7 2.5-3 11-2-0.5-1-2.5-0.5-12 1.5-4 6-8 0-2-3-4-9-8-4-1.5-1.5 1.5 0 2-2.5 3-4 0-4-2-2 0.5-6 4-6 2-16 0-4-1-1.5-2.5-0.5-2 2.5-4 13.5-9 6-2 12-1 3-2 0.5-2 0-10 2-4zM489.5 165l1.5-0.5 4 1.5 3 3 2 4 1 4-0.5 2-3.5 3-4 0.5-2-1.5-3-4-1-8 0.5-2zM557 169l2-1.5 4 0 2 1.5 0.5 2-2.5 3.5-4 0.5-2.5-2-0.5-2zM507.5 175l3.5-1 2 0.5 1 0.5-1 2.5-4 1-2.5-1.5zM545 175l2-1.5 4 0 4 3 1.5 2.5-3.5 2-4-0.5-2-1.5zM740.5 175l1.5 0 1 2-2 1.5-2-1.5zM230.5 183l0.5-0.5 2 0.5 1.5 2 0 2-1.5 2.5-2 0.5-2-3 0-2zM202 185l3-1.5 3 1.5 1 4-2 3.5-2 0.5-3-2-1-2zM625.5 187l5.5 0 6 3 3 3 0.5 2-1 4-4.5 3-4 1-8-1-4-2.5-1.5-2.5 0.5-4 3-3zM69.5 189l5.5-1 2 1 1.5 2 0 4-1.5 3-2 1.5-2 0.5-2-1-3.5-4-0.5-2 0.5-2zM683.5 197l3.5-1 3 1 1.5 2 0 4-2.5 3-4 0-3-3 0-4zM258 201l3-1 2 0.5 0.5 0.5 0 2-2.5 1-2-0.5zM103.5 209l1.5-1 2 0.5 2 2.5 0.5 2-0.5 2.5-2 4-2 1.5-4-2-0.5-2zM702.5 209l4.5 0 9 2 4.5 2 3 4-0.5 4-2 1.5-2 0-18-1.5-1.5-4 0.5-4 1-2.5zM63 213l6-1.5 4 1 4 2 8-1.5 4 0.5 5.5 1.5 2.5 2 1 2-1.5 6 0.5 4 2 4 5 6 1.5 4-0.5 8-2 6-10-12-4-3-2 0-3.5 5-4.5 3-6 1.5-2 0-2-2-1-4.5 2-14-3-4-3.5-8-1-4zM75 222.5l-2 4.5 1 2 3 1 2 0 1-3-1-3.5-2-2zM699 225l1.5 4-1.5 2-2-1.5 0-2.5zM45 229l0-1 6 2.5 3 2.5 0.5 2-4.5 22-0.5 8-1.5 2-3 1zM718.5 237l2.5-0.5 1.5 0.5 0.5 2-1.5 2-2.5 0-1.5-2zM100.5 259l0.5-1 2-1 6 9 2 1 4 0 0 4.5-2 1.5-10-2-3-2-3-4 0.5-2zM204.5 271l4.5-0.5 4 0 6 3.5 4 3 1 2 0.5 2-1.5 4-4 5.5-4 2-14 2.5-6-1.5-4-2.5-3.5-4-0.5-2 1-4 5-4.5zM164 289l5-1 10 3.5 2 1.5 1.5 4 0.5 4-1 2-5 4.5-8 2.5-4.5-1-7.5-7.5-2-0.5-6 2-4 0.5-7.5-2.5 0.5-2 5-2.5 4-0.5 8 1.5 2-1zM506.5 289l4.5 0 1 2-3 10-2 3.5-2 1-2-0.5-8-4-2.5-2-0.5-2 1-2.5zM632 333l1-1 2 1-2 1.5zM90 337l3-1 2 0 3 1 1.5 2 1 4-0.5 4-1 3-2 2.5-2 0-2-1.5-2-2.5-2-7.5zM45 353l0-0.5 2 0 4.5 2.5 3 4 0.5 4-0.5 4-2.5 4-3 3-4 1.5zM110 365l3-1 2 0.5 2 2.5 1 6-1 3-2.5 1-1 2-0.5 4-4 5.5-1 4.5 4.5 14 2.5 3 5 3-1 2-2 1-0.5 1 0 4-0.5 2-3 1.5-6-1-4 1-2-1.5-0.5-2 1.5-6-3.5-6-1.5-5.5-2-1.5-4 1.5-6 5-2 1-4 0.5-4-1-2-1-1-3 0.5-8-0.5-8 2.5-4 3-2 3.5-0.5 8 1 2-0.5 6-7 8-3 2-1.5zM631 365l2-1.5 2 0 2.5 1.5 1 4-1.5 2.5-2 1.5-2-0.5-1.5-1.5-1-2zM655.5 371l3.5-1 2 0.5 4.5 2.5 1 2-7.5 14.5-2 2-4 1-1-1.5-0.5-4 1.5-12zM723 375l4-1 2 2.5-1 2.5-3 1.5-2-0.5-1-1-0.5-2zM642.5 403l2.5-0.5 1.5 0.5 4.5 4 12 8 8-1 3.5-3 4.5-5 2-1.5 4 1 4 3 4 1.5 14-2.5 4 0 3.5 1.5 1.5 2-2.5 6-2.5 4-5 4 0.5 4 0 4-5 12-5 8 1 22 1.5 4 5.5 6-47 0 0-8-1.5-8 1.5-4 5-8 0.5-4-1-6 1-0.5 2 0 6 3 4-0.5 11-4 1-2 0-2-4-10-4-5-4-3-4-1-14 2.5-6-1-4-1.5-2-3-3-12-0.5-2zM721.5 405l3.5-1.5 2 0.5 2 3-1 4-3 1.5-3.5-1.5-2-2 0.5-2zM109 433l2-2 2 0 2 1 1 3 0.5 4-1.5 7-1 1-3 2.5-3-0.5-3.5-2 1-2 4-2 0.5-2-1.5-4zM184 483l1-0.5 2.5 2.5-5 0z"/>
<path fill="#d18f79" d="M709 91l20 0 0.5 6-4.5 1.5-6-1-6.5-2.5-2.5-2zM744 91l25 0 0 57-4-1-2-1.5-0.5-2.5 1-6 4.5-6-6.5-4-10.5-1.5-2-1.5 0.5-11-8-10-0.5-2 2-4zM428 109l5 0.5 7 5.5 3.5 6 0.5 6-1.5 6-2.5 4-9 9-4 1-10-4.5-12-9.5-2.5-4-1.5-8 0.5-2 1.5-1 6-2 10-4.5zM461.5 131l3.5-1 4 1.5 3 3.5 1.5 4 1 10-0.5 6-1 4-2 2.5-2 1.5-4-0.5-2.5-1.5-2.5-2-2-4-1-16 1-4zM279.5 135l7.5-0.5 4 2 5 4.5 1.5 4-1.5 8-2.5 6-4.5 4.5-4 1-4 0-6-3.5-4-4-2.5-6 0.5-8 2-4 4-2.5zM585.5 139l3.5-1 2 0.5 6 3.5 8 7.5 6.5 9.5 1 6 0 10-3.5 6-4 3-4 1-16 1.5-5-1.5-4-4-3-12-3-6-0.5-4 8-14 3.5-3zM540.5 141l2.5-0.5 2 0.5 1.5 2-1 2-2.5 1-3.5-1-0.5-2zM210.5 147l4.5-1.5 4 0.5 7 3 3 4 1.5 4 0 4-1.5 3-4 2.5-6 1-4-0.5-4-2-3.5-4-1-6 0.5-4zM503 149l2-1 4 0 8 2 2 1 2.5 4 0.5 6-1 2-4 0.5-6-1-6-3-3.5-4.5 0-4zM752 149l5-1 3 1 3.5 6 2 2 3.5 2 0 7.5-10 3.5-3.5-1-2.5-2-1-2-1.5-12 0-2zM370 151l3 0 4 1.5 14.5 12.5 2 4-0.5 2-2 2-6 2.5-6 0.5-6-1.5-6-3.5-2-2-1.5-4 0-8 2-4zM197 157l2-1.5 2 1 1.5 2.5-0.5 2-1 1-2 0-2-3zM316 165l3-0.5 4 0.5 16 5 17.5 15 4 4 2 4-1 4-7 6-1 2-1 6-3.5 5.5-6 5-6 2-2 1.5-2 9.5-2 0-0.5-1.5-0.5-12 2-4 7-8 1-2-10.5-10-6.5-4.5-4-1.5-2 0.5-1.5 1.5 3 2 0.5 2-1.5 2-2.5 1-3.5-1-2.5-2-2 0-8 5-4 1-16 0-3.5-2-0.5-2 2.5-4 12-8 5.5-2 12 0 5.5-2 0.5-2-1-10 1.5-4zM525.5 165l3.5 0.5 0.5 1.5-0.5 1.5-2 1-2-1.5-0.5-1zM146.5 167l2.5 0 2 1 2 1.5 1 3.5-1 4-3.5 6 2.5 8-0.5 4-2.5 5-2 2-4 0.5-6.5-3.5-5.5-6.5-6 0.5-2-1-2-3-0.5-8 1.5-4 3-2 12-2.5zM488.5 167l2.5-1.5 2 0.5 2 1.5 3 3.5 0.5 6-1.5 2.5-2 1.5-4-1.5-3-4.5-0.5-4zM558 169l3-1.5 2 0.5 1.5 1 0.5 2-2 3-4 0-2-3zM231 183l2 1 1 3-1 2-2 0.5-1.5-2.5 0-2zM203.5 185l1.5-0.5 2 1.5 0.5 3-0.5 2-2 0.5-2-1.5-1-3zM623.5 189l5.5-1.5 6 2 3.5 3.5 1 2-1.5 4-3 2.5-4 0.5-6-0.5-4-1.5-2-3-0.5-2 2.5-4zM684.5 197l2.5-0.5 2 1 1.5 1.5 0 4-1.5 2-2 1-2-0.5-2-2.5 0-4zM258.5 201l2.5-0.5 2 0.5-0.5 2-1.5 0.5-2-0.5zM707 215l2-0.5 6 0.5 3.5 2-1.5 1.5-2-0.5-4-1zM86.5 219l2.5-0.5 2 2 4.5 16.5-0.5 1-4-1-3-2-1.5-2-1-10zM45 233l0-1.5 4 1.5 1.5 2 0 2-1.5 3.5-4 3.5zM73 239l2-1.5 4 0.5 2.5 3-0.5 4-2 2-2 1-4 0-1.5-3zM45 249l0-1 2 3 0 2-2 9.5zM202 273l5-1.5 4 0 4 1.5 3.5 2 3.5 4 0.5 2-2 6-3.5 3.5-8 2.5-10 0.5-6-2.5-3.5-4-0.5-2 1-4 4-4zM166.5 293l4.5-0.5 6 1 3 3.5 0.5 4-1 2-2 2-4.5 2.5-4 1-3-1.5-2.5-4 0-4 1-4zM504.5 295l1 0-0.5 3-1.5-1zM94 343l1-1 0 3.5zM45 355l0-0.5 2 0.5 3.5 2 1.5 2 0.5 4-1 4-1.5 2-5 3zM632 365l1-1 2 0 2 1.5 0.5 3.5-2.5 3-2 0-2-2.5 0-2.5zM99 381l2-0.5 1.5 0.5 0.5 2-2 9-2-1-1-8zM78.5 387l2.5-1 4 1 6 8 0 2-4.5 4-3.5 1.5-2 0-2.5-1.5-2-10zM104 403l1-1 2 1.5 2.5 3.5 2 4 1.5 8-0.5 2-3.5 0-3-2-0.5-6-3.5-4 0-2 1-3.5zM702.5 411l4.5-0.5 2 0.5 1.5 2-1.5 4-2 1-2-0.5-5.5-2.5 0.5-2zM680.5 413l2.5-1 4 0.5 8 2.5 2 2 0 6 4 8 0 3-2 2.5-4 1-4-1.5-11-13-2.5-4 0-2zM648.5 415l0.5-1 2 0 2 1 0.5 2-0.5 1.5-2 1-2-1.5zM112.5 435l1 0 0.5 2-1 2.5-1.5-2.5zM674.5 453l4.5-0.5 4 0.5 10 8 2.5 14 3.5 10-38.5 0 1-8-2-6 0-4 7.5-11.5 2-1.5z"/>
<path fill="#ce856d" d="M716 91l9 0-0.5 2-1.5 1-4-0.5zM746.5 91l22.5 0 0 35-15-5-1-2-1-6-6.5-10zM425.5 111l5.5 0 6 3 4 5 1.5 6-0.5 6-2 4-9 9-4 1-8-3-7-5-5.5-6-2-6 1.5-4 2-2 9-5zM461 133l4-1.5 2 0.5 3.5 3 2 4 1 8 0 6-2.5 6-2 2-2 0-4-1-2.5-3-1.5-2.5-1-15.5 1-3zM279 137l6-0.5 4 1 5 3.5 1.5 4-0.5 6-2 6-4 4.5-4 1.5-4 0-6-4-3-4-2-4 0-4 1-4.5 3-3.5zM767 139l2-1 0 6-2-1.5zM541.5 141l1.5 0 2 1 1 1-1.5 2-1.5 0.5-2.5-0.5-1-2zM584 143l5-1.5 6 2.5 10 9 4.5 6 2 6 0 8-2.5 6-4 3.5-4 1.5-14 1.5-4-0.5-5-4-5.5-18-0.5-4 7-11.5zM212.5 147l4.5-0.5 3.5 0.5 2.5 1.5 3.5 2.5 2.5 6-0.5 4-1.5 2-4 2.5-6 1-4-1-3-2.5-2-4-0.5-6 2-4zM505 149l6-0.5 7 2.5 1.5 2 1.5 4-0.5 2-1 2-2.5 1-4 0-4-1.5-4-2-2.5-3.5-0.5-2 0.5-2zM368.5 153l2.5-0.5 4 0.5 6 4 8.5 8 1.5 4-0.5 2-3.5 3-6 1-6-1-6-3.5-3-3.5-1.5-6 0.5-4 1-2zM754.5 155l0.5-1.5 2 0 5.5 5.5 3 4-1.5 2-5 2-3.5-2-1-4zM198 157l1-0.5 2 0.5 1 2-1 2.5-2-0.5-1-2zM316.5 167l2.5-0.5 4 0 12 3 4 2 16 13.5 3.5 4 2 4-1.5 4-9 8 2.5 4-3 6-4.5 4.5-4 2.5-5 1-2 2-1 8-2-1 0-1-0.5-8 1-4 3.5-5 8.5-7-1.5-2-24.5-18-4-14 1-4zM489.5 167l1.5-0.5 2 0 3 2.5 1 2 1 4-1 2.5-2 2-2 0-2-1-2.5-3.5-0.5-4 0-2zM558.5 169l2.5-1 2 0.5 1.5 2.5-1.5 2.5-2 0.5-2-0.5-1.5-2.5zM145 171l4 0 2 2-1 4-3.5 4 0 2 4 6 0.5 4-2 5.5-2 2-4 1-4-1.5-2.5-3-2-6 4-14 3.5-4zM230 185l1-1 2 0.5 0 3.5-2 1-1-2zM292.5 187l6.5-1 12 1.5 2.5 1.5-2.5 4 6 1.5 1.5 2.5-1.5 2-4 0.5-3-2.5-1-2.5-10 6-4 1.5-10 0-6-1-1.5-2 3-4 8-6zM626.5 189l4.5 0 4.5 2 2.5 4 0 2-1 2-6 2.5-4.5-0.5-5-2-1.5-2 0.5-4 2.5-2zM683.5 199l1.5-1 2-0.5 2 1 1 2.5-0.5 2-2.5 2-2-0.5-2-3zM259 201l3.5 0-1 2-1.5 0zM204.5 273l4.5-0.5 4 0.5 6 4 1.5 2 0.5 4-1.5 4-2.5 2-6 2.5-10 1-6-2-3.5-3.5-1-4 2.5-4zM170.5 297l4.5 0 2.5 2 0 2-1 2-3 2-2.5 1-2.5-1-1-2 0.5-4zM45 357l0-0.5 2 0.5 2 2 1 4-1 3-4 2.5zM632.5 365l2.5-0.5 2 2.5 0 2-2 2.5-2 0-1.5-2.5 0-2zM683 417l4-0.5 2.5 0.5 2.5 2 1 4 0 5.5-2 0.5-2-1-4-3.5-2.5-3.5-0.5-2zM670.5 459l4.5-1 4 0 2 1 8 8 4 8 2.5 10-28.5 0 1-2 3-2.5 8-2.5 1-3-1-2.5-2-1.5-2 0-6 1.5-4-1.5-1-2 0.5-4 2.5-3z"/>
<path fill="#cb7b61" d="M748.5 91l20.5 0 0 31.5-6-1-4.5-2.5-8.5-12-1-2-1-4zM422.5 113l6.5-1 4 1 5.5 4 2.5 6 0 6-1.5 4-5 6-5.5 4-6-0.5-6-3-5-4.5-4.5-6 0-4 2-4 5.5-4.5zM464.5 133l2.5 0.5 3.5 3.5 1.5 10-0.5 8-2.5 3.5-2 1-2-0.5-3-2-1.5-2-0.5-4-0.5-10 0.5-4 1-2zM280.5 139l4.5 0 4 1 2 1 2.5 4 0 4-1.5 6-3 4.5-4 2-4-0.5-3-2-4-4-1.5-4-0.5-4 1-4 2-2zM540.5 143l2.5-1.5 2 1.5-2 2.5-2-1zM585 145l4-1 4 1 10 8 5 6 2 6 0 8-1.5 4-4 4-5.5 2-12 1-4-1-4-4-5-16 0-4 5-8.5zM211 149l2-1 4-0.5 6 2 2 1.5 2.5 4 0 4-1 2-3.5 3-4 1.5-4-0.5-3.5-2-3-4-0.5-4 1-3.5zM508.5 149l4.5 1 4 1.5 2.5 3.5-0.5 4.5-2 1.5-4 0-4-1-4-3-1.5-4 0.5-2zM368.5 155l2.5-1 4 0.5 6 3.5 7 7 1 4-1 2-3 2-6 1-4-1.5-5.5-3.5-2.5-4-0.5-4 0.5-4zM199 159l0-2 2 2zM317.5 169l1.5-0.5 4-0.5 12 3 4 2 14.5 12 3 4 1.5 4-1 4-6 5-4 2-4-0.5-6-3-14-11.5-3.5-4-4-10 0.5-4zM489 169l2-2 2 0.5 2 1.5 1.5 2 0.5 4-2 3.5-2 0.5-2.5-2-2-4zM559 169l2-0.5 2 0.5 1 2-2 2-2.5 0-1.5-2zM139 185l2-1 4 0 4 3.5 1.5 5.5-1 4-2.5 2.5-2 1-4-0.5-3.5-3-1-2-1-2 0.5-4zM230.5 185l0.5-0.5 1.5 0.5 0.5 2.5-2 1zM291 189l4-1 6 0 6 1 1.5 2-1.5 2-5 4-7 3.5-8 0.5-6-2 0.5-2 1.5-2zM624 191l5-1 4 0.5 3 2.5 1 2 0 2-2 2.5-4 1-7-1.5-2.5-2-0.5-2 1-2zM312 195l3-0.5 2 1 1 1.5-2.5 2-2.5 0-2-2zM684.5 199l2.5-1 2 1 0.5 2-0.5 2-2 1.5-2-0.5-1.5-3zM342.5 209l2.5-1 4-0.5 2 1.5 0 2-2 4-4 4-4 2.5-6.5 1.5-1.5 3-1.5-5 2-4 3.5-4zM202.5 275l6.5-1.5 6 2 4 4 1 1.5-0.5 4-4.5 4-4 1.5-10 0.5-6-2-3-4 1-4 2-2zM45 359l2 2 0 2-2 2zM634.5 365l2 2-0.5 2-1 1.5-2 0-0.5-1.5 0.5-3.5zM687 477l2.5 0 1.5 4 0.5 4-7 0z"/>
<path fill="#c87156" d="M750 91l19 0 0 27.5-4 0-4-2-8.5-9.5-2.5-4zM420 115l5-1.5 6 0 4 2 4 5.5 0.5 6-2 6-4.5 5.5-4 3-4 0.5-7-3-4.5-4-4-6 0-4 2-4 3.5-3zM464.5 135l2.5 0.5 1.5 1.5 1.5 4 0 12-1 2.5-2 1.5-2 0-2-1.5-2-4.5 0-12 2-3zM278.5 143l8.5 0 3 2 1 2 0 5-1.5 3-2.5 3-4 1-2-0.5-4-3-1-2.5-1-2 0-4 1-2zM585 147l4-1 4 1 9.5 8 4.5 6 2 6-0.5 6-1.5 4-4 3.5-6 1.5-10 1-4-1.5-2.5-2.5-5-16 0-4 3.5-6zM213 149l6-0.5 4.5 2.5 2 2 1 4-1.5 4-4 3-4 0.5-4-1-2-2-1.5-2.5-0.5-4 1.5-4zM505.5 151l3.5-1 6 1 2.5 2 1 2 0 2-1 2-4.5 1-6-2.5-2-2.5-0.5-2zM369 157l4-1 6 2 7.5 7 1 2-0.5 2.5-2 2-4 1-4-0.5-4.5-3-2.5-2-1.5-4-0.5-4zM489.5 169l1.5-1 2 0 2 2 1.5 3 0 2-1.5 3-2 0-2-1-1.5-2-0.5-4zM560.5 169l1.5 0 1.5 2-2.5 2-2.5-2zM318.5 171l2.5-1 4 0 10 2 4 2 13 11 3 4 1.5 4-2 4-3.5 3.5-4 1.5-4 0-6-3-12-10-4-4-3.5-8 0-4zM142.5 185l2.5 0.5 2 1 3 4.5-1 5.5-2 2-2 1-2 0-4-2-2.5-4.5 1-4 1-2zM290.5 191l4.5-1.5 4 0.5 4 1 0 2-4.5 4-3.5 1.5-4 1-4-1-1.5-1.5 1-2zM626.5 191l2.5 0 4 1 2.5 3 0 2-2.5 2-2 0.5-6-1-1.5-1.5-1-2 1-2zM313.5 195l1.5 0 2.5 2-2.5 2-2-0.5-1.5-1.5zM686 199l1.5 0 1 2-1.5 2.5-2-0.5-0.5-2zM344.5 209l4.5 0 1 2-3 5.5-6 4.5-8 1.5 0-3.5 2.5-4 5.5-4zM205.5 275l5.5 0 4 2 2 2 1.5 4-2.5 4-4 2-7 1-6-0.5-4-2.5-1-2 0-2 1-2zM633 367l2-0.5 0.5 0.5-0.5 2.5-2 0z"/>
<path fill="#c4664a" d="M752 91l15 0 0.5 2 1.5 3 0 18.5-4 0-4-2-7.5-7.5-1.5-4zM423 115l6-0.5 4 1 3.5 3.5 1.5 4-0.5 6-1.5 4-5 5.5-4 2-4-0.5-6-3-3.5-4-2-4-0.5-4 2-4 4-3zM463.5 139l1.5-1 2 1 0 2-1.5 6 1.5 4 0 1-2 1.5-1-2.5 0.5-4-1.5-4.5zM585 149l4-1 4 1 5.5 4 7 8 1.5 4 0.5 6-1 4-4 4-7 2-8.5 0.5-4-2-2-2.5-4-16 2-6zM211.5 151l3.5-1.5 2 0 5 1.5 3 4-0.5 4-1.5 2-2 1.5-4 1-2-0.5-3-2-1.5-2-0.5-4zM508 151l4 0 3 1.5 2.5 2.5-0.5 2.5-2 1.5-2 0-5-2-2-2 0-2zM370.5 159l2.5-1 2 0 6 3 4 4 0.5 2-0.5 2-4 2-5.5-2-4.5-4.5-1-3.5zM490.5 169l2.5-0.5 2.5 2.5 0.5 4-1 2-2 0.5-3-2.5-0.5-4zM559 171l2-1.5 2 1.5-2 1.5zM320 173l3-1 4 0 8 1.5 4 2 13 11.5 2.5 4-0.5 4-3 3.5-4 2-4 0-6-3-8-6.5-6-6-3.5-8zM140 187l3-1 2 0 3.5 3 1 4-0.5 2-2 3-4 1-2-0.5-3-3.5-0.5-4zM625.5 193l3.5-1 4 1 1 2-0.5 2-2.5 1.5-5-1.5-1.5-2zM312.5 197l0.5-0.5 2-0.5 1.5 1-1.5 1zM342 211l5-1.5 2 1.5-1.5 4-4.5 4-4 2-4-0.5-1-1.5 1-2 3.5-4zM204 277l5-1 4 1 4 4 0 2-1 2-3 2.5-4 1-6 0-5.5-1.5-1.5-2 0-2 1.5-2z"/>
<path fill="#c05c42" d="M754 91l9.5 0 0.5 6 1 2 4 2.5 0 9-4 0-4-1-5-4.5-1.5-4zM420 117l5-1.5 6 0.5 4 3 1 2 0.5 4-1 6-4.5 6-4 2-4 0-4-2-4.5-4-2-4 0-4 1-2 3.5-4zM213.5 151l5.5-0.5 3.5 2.5 1.5 4-1 2-2 2-2 1-4 0-3.5-3-0.5-4 0.5-2zM585 151l4-1.5 4 1.5 10.5 10 2 4 0.5 4-0.5 4-2.5 4-4 2-10 1.5-4-1-2-2.5-4.5-16 2.5-6zM508 153l3-0.5 3 0.5 1.5 2-0.5 2-4 0-3-2zM374.5 161l2.5 0 3.5 2 2 2 0.5 2.5-2 1.5-3.5-2-3.5-4zM490 171l1-1.5 2 0 2 2.5 0 3.5-2 1-2-1zM322 175l3-1.5 4 0 6 1 4 2 11.5 10.5 2.5 4-0.5 4-3.5 3.5-4 1-4-1-4-2-6.5-5.5-6-6-3-6zM141.5 187l3.5 0 2 1 1.5 3 0 4-3.5 3-4-0.5-2.5-2.5-0.5-4 1-2zM627 195l2-1.5 3 1.5-1 1-2 0zM343 211l2-0.5 2.5 0.5 0 2-2.5 4-6 3-3.5-1 1.5-4zM204 279l3-1.5 4 0.5 2.5 1 1.5 2 0.5 2-1 2-3.5 2-8 0-4-2 0-2z"/>
<path fill="#bc513c" d="M423 117l4-0.5 4 1 2.5 1.5 1.5 4 0 4-2.5 6-3.5 3.5-4 1.5-4-1-3-2-3-4-1.5-4 1-4 1.5-2 3-2zM213 153l4-1.5 4 1.5 1.5 4-1 2-4.5 2-4-2-0.5-4zM585 153l4-1.5 4 1.5 10 10 1.5 4-0.5 4-2 4-2.5 2-4.5 1.5-6 0.5-4-1.5-1.5-2.5-3.5-14 1.5-4zM490.5 171l2.5-0.5 1 0.5 1 2-1 2-1 1-2-1.5zM323.5 177l3.5-1.5 4 0 4 0.5 4 2 8.5 7 3 4 1 4-1 2-2 2-3.5 1-4-0.5-4-2.5-6-4.5-5-5.5-2-4zM140 189l3-1.5 2 0 2 1.5 1 4-1 3-2 1.5-4-0.5-2.5-4zM340.5 213l4.5-1 1.5 1-1 2-2.5 3-3 1-2.5 0-0.5-2zM206 281l3-1.5 2 0.5 1.5 1 0.5 2-2.5 2-4.5 0-1.5-2z"/>
<path fill="#b74735" d="M420.5 119l4.5-1 4 0 2.5 1 1.5 2 0.5 4-1 4-2 4-3.5 3-4 0.5-3-1.5-3-2.5-1.5-3.5 0-4 0.5-2zM214.5 155l2.5-1 2 0.5 0.5 2.5-2.5 2-2-1zM585.5 155l3.5-1 2 0.5 10.5 8.5 1 2 0.5 4-2 4-2 2-4 2-4 0.5-2.5-0.5-3-2-3.5-14 1-3zM491.5 173l1.5-1.5 0.5 1.5-0.5 1.5zM329.5 177l3.5 0.5 4 1 6.5 4.5 5.5 6 0.5 4-1 2-3.5 2-4-1-10-7-3.5-4-2-4 0.5-2 1-1zM141 189l2-1 2 0.5 2 2 0.5 2.5-0.5 2-2 1.5-2 0.5-2.5-2-1-4zM342.5 213l2 0 0 2-2 2-3.5 1-0.5-1 1-2z"/>
<path fill="#b33c2f" d="M423 119l6 0.5 2 1.5 1 2-0.5 4-1.5 4-1.5 2-3.5 2-2 0-3.5-2-2.5-3-0.5-3 1-4 2-2zM585 159l2-1.5 2 0 8 2.5 2 1.5 3 3.5 0 2-1 4-2 2-4 2-6 0-2-2-2.5-8 0-4zM328 181l1-1 4-0.5 6 1.5 5 4 3 4 1 2-0.5 2-2.5 2-2 0-4.5-2-7.5-6-2.5-4zM142.5 189l2.5 0.5 1.5 1.5 0.5 2-2 3-2 0-2-1-1-2 0.5-2z"/>
<path fill="#af3128" d="M421.5 121l5.5-0.5 2 0.5 1 2-1 6-2 3-2 1.5-4-1-2.5-3.5-0.5-4 1-2zM587.5 161l3.5-1.5 6 1.5 3 2 1 2 0 4-4 3.5-6 0-2-1.5-2-4-0.5-4zM331.5 183l1.5-1 2 0 4 1.5 4.5 3.5 1.5 2 0 2.5-2 1.5-4.5-2-5-4zM141.5 191l1.5-1 2 1 0.5 2-0.5 1.5-2 0.5-2-2z"/>
<path fill="#a82924" d="M421.5 123l3.5-1 2.5 1-0.5 4-2 3.5-2 0.5-2.5-2-0.5-4zM590 161l3-0.5 2 0.5 4 2 1.5 4-1.5 3.5-4 1.5-4-1.5-1.5-1.5-2-4 0.5-2z"/>
<path fill="#9f2425" d="M589 163l2-1.5 2-0.5 4 1.5 2.5 2.5 0.5 2-1 2-2 1.5-2 0.5-4-1.5-2-2.5-0.5-2z"/>
<path fill="#951e26" d="M590 163l3-1 4 1 2 2 0 3-2 2-4 0-3-3-0.5-2z"/>
<path fill="#8c1926" d="M591.5 163l3.5-0.5 2 1 1.5 1.5 0 2-1.5 2-4 0.5-2-2-1-2.5z"/>
<path fill="#821427" d="M593 163l2 0.5 2.5 1.5 0 2-0.5 1-2 1-3.5-2-0.5-2z"/>
<path fill="#780e28" d="M592.5 165l0.5-0.5 2 0 1 0.5 0.5 2-1.5 1-2-0.5z"/>
</g></g>
<use href="#grid"/>
<g clip-path="url(#sec)">
<path class="d" d="M593 219l-2 2 0.5 2 1.5 1 2 0.5 2-1 1-2.5-1-1.5-2-1zM405 231l-8 0.5-4 1.5-2.5 2-0.5 2-0.5 2 1 2 2.5 2.5 2 0.5 4-0.5 6-2 14-2.5 4-2 2-2 1-2-0.5-2-4.5-1.5-6 0zM575 237l-4 1.5-4 2.5-1.5 2 0 2 1 2 4.5 2 6-1 4-1.5 4.5-3.5 2-2 1-2-1-2-2.5-0.5-6 0zM179 239l-1.5 2 1 2 2.5 1 4-0.5 1.5-2.5-1-2-2.5-0.5zM603 238.5l-0.5 0.5 0 2 2 2 2.5 1 2.5-1 0.5-2-1-2-4-1zM183 256.5l-0.5 0.5 0 2 0.5 1 2 0 2.5-1-0.5-2-2-1zM611 265l-2 1-1.5 1-2 4 0.5 4 1 2.5 2 0.5 2-0.5 2-2 1.5-4.5-0.5-4-1-1zM339 283l-6 2 0.5 2 3.5 1.5 4 0.5 12-1 12 0.5 7.5-1.5 2.5-2-2.5-2-5.5-1-14 0.5-8-0.5zM331 295l-16 2.5-4 1.5-2.5 2-3 4-1 2 0 2 11 12 1.5 2-1 2-1.5 2 1 2 2 0 6-4 19.5-2.5 6-1.5 4-3 1.5-3 1-6-1.5-4-2-2-13-7-4-1zM269 307l-4.5 2-4.5 6 0 2 1 3.5 2 2 2 1 2 0 10-3.5 10-1.5 2-1.5 2.5-4 0-2-2.5-1.5-8 0-8-2zM383 323l-4 2-1.5 2 5 18 1 2 3.5 2 4 0.5 4-0.5 2.5-2 1-2-1-4-7.5-10-1-2-0.5-4-1.5-2zM413 329l-2 0.5-1.5 1.5 3.5 2.5 4 0 3-0.5-0.5-2-0.5 0-3.5-2zM267 333l-2 1-1 1 0.5 2 2.5 3 5 3 11 2 2 0 2.5-2 0.5-2-1-2-2-2-4-2.5-6-1.5zM369 338.5l-2.5 4.5-1 6 1 8 2.5 4.5 2-1 0.5-1.5 2-6 0.5-4-0.5-4-1.5-4-1-1.5zM429 374.5l-1.5 0.5-2.5 2 1 2 5 2 8 0.5 2.5-0.5 5-2-1-2-5-2-5.5-0.5z"/>
<path class="c" d="M128 91l0 2-2 6 0 4 1 3 2 2.5 4 1 4-0.5 4-1.5 0.5-2.5-2.5-3.5-5-4.5-1-2 1.5-4M147.5 91l1.5 4 7 8 1.5 2-1.5 2-4.5 2-2 2-0.5 2 0.5 2 1.5 1.5 8 0 8 3.5 2-0.5 3.5-2.5 3-4 0.5-2 0-2-3.5-8 0.5-10M202 91l1 4 2 1.5 2 0.5 2.5-2 1.5-4M449 108.5l-1 0.5-0.5 2 1.5 2 4 1 2.5-1 1-2-2-2-3.5-0.5zM261 135l-2 2-0.5 2 0.5 3 2 1.5 2-2 0.5-2.5-0.5-3zM311 135l-1.5 2 0 4 1.5 4 2 1.5 2-1.5 1-4-1.5-4-1.5-1.5zM399 146.5l-2 2.5 0.5 2 1.5 2 4 1.5 2-0.5 2-1.5 1-1.5 0-2-1.5-2-3.5-1.5zM439 155l-2 0.5-1.5 1.5 0 2 1.5 1.5 2 0 1.5-1.5 0.5-2zM629 163l-2 2-2 4 0 4 1 2 3 3 4 1 4 0 2-1 2.5-3 1-4-1-4-1-2-3.5-3-2-0.5-4 0.5zM253 178.5l-2.5 2.5 0.5 2.5 2 1 2 0.5 4-2 1-2-1-2.5-2-1zM495 219l-2.5 2-0.5 2 1 1.5 4 2 6 0.5 0.5-2-3-4-3.5-2zM153 236l-4 3-8 8-5.5 16 1 4 2.5 2.5 6 0.5 8-2 12-4.5 3-2.5 0.5-2-3.5-3-2.5-5 0.5-8-1-4-3-3-4-0.5zM617 295l2-0.5 2 0.5 1.5 6 0.5 4-1.5 2-2.5 2-4 0-3.5-2-1-2-0.5-2 1-2 2-2 3-2zM578.5 317l2.5-0.5 2 0.5 2 2 0 2-0.5 2-1.5 1.5-2 0.5-3-2-1-2 0.5-2zM606.5 333l2.5 0 2 0.5 3.5 3.5 1 4-1 4-1.5 2-2.5 2-3.5 1-2-0.5-3-2.5-1-2-0.5-4 1-4 1.5-1.5zM276.5 365l0.5-1 2 0.5 0.5 0.5-0.5 2-2 0.5-0.5-0.5zM215 379l10-1 3 1 0.5 2-9.5 4.5-7-2.5-0.5-2zM305 391l0 2.5 2.5-2.5-0.5-0.5zM526.5 391l2.5-0.5 0.5 0.5 2 2-1 2-3.5 1-4-1 0-2zM319 392.5l-1 0.5 1 1.5 0.5-1.5zM269.5 407l1.5-0.5 2 0.5 1.5 2 0.5 2-1.5 8-0.5 1.5-2 1.5-6-1-1.5-2 1.5-8 1.5-2zM589 420l-0.5 1 2.5 3 0.5-3zM444 423l1-1 1.5 1 2.5 6 0 4 3 4-1.5 4-1 4-0.5 0.5-1-2.5-3.5-4 0-8-1-6zM477 424.5l-1 0.5 0.5 2 0.5 0.5 2-0.5 0-2zM258.5 427l2.5 0 3 2 0 2-3 3.5-2 0.5-2-2-1-2 1-2zM410.5 427l2.5-2 2 0.5 1.5 1.5 0 2-1.5 7.5-2-0.5-2-2-1-5zM523 431l0.5 2 5.5 2.5 2 0 1.5-2.5-1.5-2zM284 437l1-1 2.5 1-2.5 1.5zM410.5 441l2.5-1 1.5 1 0.5 2-2 2-2 0-1.5-2zM431 452.5l-2 2-4 0.5-2 0.5-1.5 1.5-0.5 3 2 0.5 4-0.5 4-3 4 0 1.5-2-0.5-2-1-0.5zM498.5 453l0.5 0 2 0 0.5 2-0.5 1.5-2 0-1-1.5zM465.5 459l2 0 1.5 2-0.5 2-1.5 1.5-2 0-1.5-1.5-0.5-1.5 0-0.5zM585 460l-1 1 1 1.5 2-1.5zM769 466.5l-4 1.5-1 1 0 2 1 2.5 4 3.5M469.5 469l1.5-0.5 5.5 0.5-1 2-2.5 1.5-2 0-1-1.5zM561 476l-1 1 1 1 1-1zM231.5 485l-1.5-10 5-6.5 8-1.5 6 1.5 2 0.5 8.5-6 2-6-1.5-2-3-0.5-2 4.5-2 1-2.5-1-2-4-1.5-1-4 3-6 0.5-3.5 9.5-8.5 4 0.5 2-0.5 2-4.5 10M314 485l-5-4-2 0-2 1.5-1 2.5M381 485l2-1 2 0 2.5 1M418 485l1-6-2-1.5-6-3.5-3-5-0.5-6 2.5-4-2-6 0.5-2 0.5-0.5 4 0 4-3 6-0.5 4-1.5 6 1.5 4-0.5 6 1.5 1.5 3-1 8 0 4 1.5 2 1.5 0 4.5-0.5 2 1 6 11 6 6 2 0 8-5 4-0.5 2-1 4-4 2-0.5 2 1 3 6.5-2 6M459.5 485l-2.5-2-6-0.5-6-3.5-2 0.5-2 1.5-1.5 2-0.5 2M493.5 485l1.5-1 2 0 2-0.5 2.5-2.5 1-2-1-4 0.5-4-0.5-4 1.5-1.5 5.5-0.5 2-2 1.5-6-2-4 0-4-1.5-2-3.5-1.5-2 0-4 1.5-2-1-2-3-1-4-1-1.5-6-0.5-4 1-2 1-0.5 2 1.5 2 3.5 2 0.5 2-2 4 0 6-1 5-2 4.5-2-1.5-0.5-2-5.5-6 0-2 1-2 4.5-4 0-2-2.5-4-1.5-10-1.5-1.5-6-4.5-2-4-2.5-2-1.5-2 2-9 2-2.5 4-1 2 0.5 4 4 2 0 6-3 4-0.5 4 1.5 4 0.5 2 1.5-0.5 2-1.5 1.5-6 1.5-2 1-1 2 1 4 0 4 2 1.5 4 1.5 4 0.5 6-1 4.5-6.5 3.5-3 4-3 0-2 2-2 2 0.5 2 1.5 4 4.5 8 2.5 4-1 0.5 4 1.5 2.5 2 1.5 2 0-0.5 2-1.5 1-1 3-0.5 2 0.5 2 1 0.5 2-0.5 4-4 8-2.5 2 0 6 2 2-0.5 8.5-5 1-2 1-6 1.5-2 2-0.5 4 1 5-0.5-2.5-4-3.5-4-1-2 0.5-2 1.5-1.5 6-2 2-1 6-7 2-0.5 6 1.5 4-1 3-2.5 3-4 1-4 0.5-8-0.5-8 1.5-14 3.5-9.5 2-1 4 0 1-1.5-3-4-1-4 0.5-4 2.5-3.5 2-1.5 4-1 4 1 2 1.5 2.5 3.5 0.5 4-0.5 4 1.5 2 10-2.5 4-3 1.5-2.5 4-8 0.5-2-0.5-2-6-10-8.5-8-0.5-2 1-4 3-4 3.5-2 4-0.5 4 1.5 3.5 3 0.5 2 0.5 4-1.5 8 0 4 2 6 1 2 2 0.5 2 0 2-2.5 4-8 5-8 2-6 1-2 4-2.5 14-5.5 2-1 2-2.5 1.5-4.5 0-4-1.5-2-6-2-2-8-1.5-2-2.5-1-10-0.5-1.5-2.5 2-10-1-2-1.5-1.5-2-0.5-2 0-10 4-4 0-4-2-2-3-4-11 0.5-4 5.5-6 1-2-1.5-4-3.5-4-2-1.5-2-0.5-6 3.5-2 0.5-6-2-16-2.5-12 0-4-1.5-6-4.5-4-1.5-4 0.5-8 4-4-0.5-14-3.5-12 0.5-20 5.5-4 3-2.5 4.5-1 12-2.5 6-4 3-5 1-2.5 2 4.5 6 2 4 2 8 3.5 8 0.5 6 1 2 2 1 2-0.5 4-3 2 1 6 5 2 0.5 6-2 2 0.5 1 1.5 0.5 2-0.5 2-1 1.5-2 0-6-1-10 5-4 3-2.5 3.5-1.5 4 1 14-2 4-5 3-18 6.5-4 0.5-4-1-10-9.5-3-1.5-3 0-4 2-2.5 2-5.5 7.5-2 2-2 1-2 0-2-2.5 1-8-1-2.5-1.5-1.5-2.5-1-8 0.5-4 1-2 1.5-1.5 2 0 2 1 2 4 4-0.5 2-5 2-4-1-4-3-10-6-10-12-7.5-14-4-12-3.5-8-1-6 0-8 1-4 4-4 5-2 10-1 1 1-5 4-1 2 1 2 4 4 4 3 4 0 2-0.5 2-2.5 2-4 0-6-2-6 0.5-2 2-2 3.5-2 4-1 8-0.5 10 0 3-2.5 2-4 0.5-4-3.5-13.5-2-0.5-3 4-3 2.5-4 1.5-6 1-5.5-1-2.5-2-3-4-3 0-3.5 4-2.5 2-5 2-11 2.5-5-0.5-3-1-2.5-1-3-4-2.5-1.5-4-0.5-4 2-4.5 4-1.5 2-2 6-1.5 2-9 4-5.5 4-5 6-3 6.5-2 1.5-4 0.5-2 3.5-2 2-4 0-3-4 0-4-5.5-10-1.5-2-8-4-1.5-2-1-2-0.5-8-1-2-2-1.5-4-0.5-8 1.5-4 0-4-1.5-6-4.5-2-0.5-12-0.5-4 0.5-1.5 1-0.5 2 4 10 0 4-2 3-2 0.5-2-1-4-2.5-2-3-1-5 0-8-1-2.5-2-1-2-0.5-10 1.5-6-2-5-3.5-7-8.5-6-4-2 0-8 3-2 0-4-1.5-3-3-2-4 0-12-1-1-12-5-4-0.5-2 0.5-4 4.5-3 5.5 0 4 1.5 8-0.5 10 2 6 2 1.5 6 1.5 1 1 0.5 2-1.5 4-2.5 2-3.5 1.5-8.5 0.5-3 2-1 2 1 2 5 4 0.5 1 0 5 2 10-0.5 8 5 4 5.5 3 6 1 4-1.5 6-5.5 8-3.5 6-6 4-1 10 0 10-1 16 6 10 1.5 6 5 2.5 4 0 2-5.5 16-3 4.5-2 1.5-6 2-6 0.5-6-1-2 0.5-2 1-2 3-1.5 6-2.5 4-13 10-7 8.5-2 0.5-6-1-4.5 0-3 2-4.5 6-2 1.5-6 1.5-1 1 5 3.5 6 5 4.5 5.5 3.5 7 2 1 4-0.5 2.5 0.5 0.5 2-1 1.5-2 0.5-4-1.5-2 1.5-1.5 2 0 2 1.5 6 2 4.5 3 3.5 0 2-1.5 4-1 4-5 4-2 8 0 2 2.5 2.5 6 1.5 1.5 2 1 2-1.5 6 1 2.5 4 5 4 9.5 4 0.5 3.5 4.5 2.5 1 4-0.5 6.5-4.5 2-2 0-2-4-4-2-4-6.5 1.5-2-0.5-1-1 0-2 1.5-2 6-4 1.5-1.5 2-1.5 2 0.5 4 2.5 1 2 0.5 4-2 4 1 4 1.5 1.5 8 0.5 4 2 1.5 2 0.5 4.5 2 1.5 4 0.5 2 1.5 2 5.5 2 2 4 2.5 2 0 2 0 6-5 2-0.5 2 0.5 4 4.5 2-1-0.5-4.5 0.5-2 6-10 0-3.5-3.5-4.5 0.5-2 4.5-6 2-12-0.5-2-3.5-4-5.5-2-6-5-2-1-2 0.5-6 5.5-2-1-4-6-2-2-2 0.5-2 4.5-2 2.5-4 1.5-2-1-2-2.5-4.5-2.5-0.5-6-7-12 2-4-0.5-4 0.5-2 2-0.5 2 0 4 4.5 6 1 4 2.5 2 0 4-1.5 1 0 3.5 6 0.5 2-2.5 4 0 2 1.5 1 2 0 2-1 3-4 3-1.5 4 0 8-2 6-2.5 6-0.5 4-2 4 4 10 2.5 2 0 8-1 4 0 2.5 1 2 2 3 10 0.5 6-0.5 10-1.5 2-2 0.5-6-1-2 0-8 4.5-1.5 4-0.5 6.5-2 1-2 0-2.5 0.5-0.5 2 0 8-2 8 0 2 5 8 1 8-3.5 4-0.5 4 3 4.5 2 2 2 1 4.5-1.5 1.5-1.5-1.5-8.5 0.5-4 1-1.5 3-0.5 3.5-2 0.5-2-4.5-4 0-2 3-2 2.5 0 1.5 2 1 4 1.5 2 4 1 4-2 6-1.5 6-3.5 2-2 2-4 2-1 4 0.5 4 2.5 2 0 2 0 4-9.5 2 0 3.5 3.5 2.5 5.5 4.5 2.5 0.5 2-0.5 4-8.5 7.5-2-0.5-2-1.5-2-2.5-2-2-4 0-2-1-0.5 0-0.5 2 1.5 2 0.5 4-1 3-2 1 0 1.5 4-2 6 2.5 4 0.5 2 1 2 2.5 0 2-6 4-2 0.5-5.5-2.5-2.5-4.5-2-0.5-3.5 5-4.5 3-1 1 2.5 6M725 91l-0.5 2-1.5 1-4-0.5-3-2.5M425.5 111l5.5 0 4 1.5 2 1.5 4 5 1.5 6-0.5 6-2 4-9 9-4 1-4-1-4-2-7-5-5.5-6-1.5-2-0.5-4 1.5-4 2-2 9-5zM769 126l-6-1.5-9-3.5-1-2-1-6-5.5-8-1-2 1-12M461 133l4-1.5 2 0.5 2 1 1.5 2 2 4 1 8 0 6-2.5 6-2 2-2 0-4-1-2.5-3-1.5-2.5-1-15.5 1-3zM279 137l6-0.5 4 1 5 3.5 1.5 4-0.5 6-2 6-4 4.5-4 1.5-4 0-6-4-3-4-2-4 0-4 1-4.5 3-3.5zM541.5 141l1.5 0 2 1 1 1-1.5 2-1.5 0.5-2.5-0.5-1-2zM584 143l5-1.5 2 0.5 4 2 10 9 4.5 6 2 6 0 8-2.5 6-4 3.5-4 1.5-14 1.5-4-0.5-3-2-2-2-5.5-18-0.5-4 2-4 5-7.5zM769 144l-1.5-1-1-2 0.5-2 2-1M212.5 147l4.5-0.5 3.5 0.5 2.5 1.5 3.5 2.5 1.5 2 1 4-0.5 4-1.5 2-4 2.5-6 1-4-1-3-2.5-2-4-0.5-6 2-4zM505 149l2-0.5 4 0 4 1 3 1.5 1.5 2 1.5 4-0.5 2-1 2-2.5 1-4 0-4-1.5-4-2-2.5-3.5-0.5-2 0.5-2zM368.5 153l2.5-0.5 4 0.5 6 4 8.5 8 1.5 4-0.5 2-3.5 3-6 1-6-1-6-3.5-3-3.5-1.5-6 0.5-4 1-2zM754.5 155l0.5-1.5 2 0 5.5 5.5 2 2 1 2-1.5 2-3 2-2 0-2-0.5-1.5-1.5-1-4zM198 157l1-0.5 2 0.5 1 2-1 2.5-2-0.5-1-2zM316.5 167l2.5-0.5 4 0 12 3 4 2 16 13.5 3.5 4 2 4-0.5 2-1 2-9 8 1 1 1.5 3-0.5 2-2.5 4-4.5 4.5-4 2.5-5 1-2 2-1 8-2-1 0-1-0.5-8 1-4 3.5-5 8.5-7-1.5-2-5-3-12-10-7.5-5-3.5-10-0.5-4 1-4zM489.5 167l1.5-0.5 2 0 3 2.5 1 2 1 4-1 2.5-2 2-2 0-2-1-2.5-3.5-0.5-4 0-2zM558.5 169l2.5-1 2 0.5 1.5 2.5-1.5 2.5-2 0.5-2-0.5-1.5-2.5zM145 171l2-0.5 2 0.5 2 2 0 2-1 2-3.5 4 0 2 4 6 0.5 4-1 4-1 1.5-2 2-4 1-4-1.5-2.5-3-1-2-1-4 4-14 3.5-4zM230 185l1-1 2 0.5 0.5 2.5-0.5 1-2 1-1-2zM292.5 187l6.5-1 12 1.5 2.5 1.5-2.5 4 4 0.5 2 1 1.5 2.5-1.5 2-4 0.5-3-2.5 0-2-1-0.5-10 6-4 1.5-10 0-6-1-1.5-2 1-2 2-2 8-6zM626.5 189l4.5 0 4.5 2 2 2 0.5 2 0 2-1 2-4 2-2 0.5-4.5-0.5-5-2-1.5-2 0-2 0.5-2 2.5-2zM683.5 199l1.5-1 2-0.5 2 1 1 2.5-0.5 2-2.5 2-2-0.5-1.5-1.5-0.5-1.5zM259 201l2 0 1.5 0-1 2-1.5 0zM204.5 273l4.5-0.5 4 0.5 6 4 1.5 2 0.5 4-1.5 4-2.5 2-6 2.5-10 1-6-2-3.5-3.5-1-4 2.5-4 4-2.5zM170.5 297l2.5-0.5 2 0.5 2.5 2 0 2-1 2-3 2-2.5 1-2.5-1-1-2 0.5-4zM45 356.5l2 0.5 2 2 1 4-1 3-2 2-2 0.5M632.5 365l2.5-0.5 2 2.5 0 2-2 2.5-2 0-1.5-2.5 0-2zM683 417l2-0.5 2 0 2.5 0.5 2.5 2 1 4 0.5 4-0.5 1.5-2 0.5-2-1-4-3.5-2.5-3.5-0.5-2zM667 485l1-2 3-2.5 8-2.5 1-3-1-2.5-2-1.5-2 0-6 1.5-2 0-2-1.5-1-2 0-2 1-2.5 4-4.5 2-1 6-1 4 1 8 8 2 3 2 5 2.5 10M589 163l2-1.5 2-0.5 4 1.5 2.5 2.5 0.5 2-1 2-2 1.5-2 0.5-4-1.5-2-2.5-0.5-2z"/>
</g>
<use href="#land"/>
<use href="#green"/>
</g>
<rect x="49.0" y="95.2" width="716.2" height="386.5" fill="none" stroke="#222" stroke-width="1.5"/>
<text class="t" transform="translate(404.2,47.4) scale(0.977,1.015)">Difference</text>
<text class="p" x="74.4" y="139.6">(C)</text>
<g transform="scale(1,1.06)">
<text class="l" x="52.5" y="79.25">160°E</text><text class="l" x="170.6" y="79.25">170°E</text><text class="l" x="271.9" y="79.25">180°</text><text class="l" x="362.8" y="79.25">170°W</text><text class="l" x="451" y="79.25">160°W</text><text class="l" x="543" y="79.25">150°W</text><text class="l" x="643.3" y="79.25">140°W</text><text class="l" x="762.5" y="79.25">130°W</text>
<text class="l" x="71.4" y="473.11">65°S</text><text class="l" x="150.4" y="473.11">70°S</text><text class="l" x="232.6" y="473.11">75°S</text><text class="l" x="332.7" y="473.11">80°S</text><text class="l" x="480.6" y="473.11">80°S</text><text class="l" x="580.7" y="473.11">75°S</text><text class="l" x="663.2" y="473.11">70°S</text><text class="l" x="741.4" y="473.11">65°S</text>
<text class="l s" x="772.6" y="135.47">50°S</text><text class="l s" x="772.6" y="234.53">55°S</text><text class="l s" x="772.6" y="344.91">60°S</text><text class="l e" x="41.2" y="234.53">150°E</text><text class="l e" x="41.2" y="335.47">140°E</text><text class="l e" x="41.2" y="413.77">130°E</text>
</g>
</g>
<g>
<path d="M48,537.2L75,523.9L75,550.5Z" fill="#171c42"/>
<path d="M1616.5,537.2L1589.5,523.9L1589.5,550.5Z" fill="#3c0911"/>
<rect x="74.00" y="523.9" width="8.84" height="26.6" fill="#171d44"/>
<rect x="82.24" y="523.9" width="8.84" height="26.6" fill="#181e47"/>
<rect x="90.48" y="523.9" width="8.84" height="26.6" fill="#191f4a"/>
<rect x="98.73" y="523.9" width="8.84" height="26.6" fill="#1a204d"/>
<rect x="106.97" y="523.9" width="8.84" height="26.6" fill="#1a2150"/>
<rect x="115.21" y="523.9" width="8.84" height="26.6" fill="#1b2253"/>
<rect x="123.45" y="523.9" width="8.84" height="26.6" fill="#1c2456"/>
<rect x="131.69" y="523.9" width="8.84" height="26.6" fill="#1d2559"/>
<rect x="139.93" y="523.9" width="8.84" height="26.6" fill="#1e265c"/>
<rect x="148.18" y="523.9" width="8.84" height="26.6" fill="#1e275f"/>
<rect x="156.42" y="523.9" width="8.84" height="26.6" fill="#1f2862"/>
<rect x="164.66" y="523.9" width="8.84" height="26.6" fill="#202965"/>
<rect x="172.90" y="523.9" width="8.84" height="26.6" fill="#212a68"/>
<rect x="181.14" y="523.9" width="8.84" height="26.6" fill="#212c6b"/>
<rect x="189.39" y="523.9" width="8.84" height="26.6" fill="#222d6d"/>
<rect x="197.63" y="523.9" width="8.84" height="26.6" fill="#232e70"/>
<rect x="205.87" y="523.9" width="8.84" height="26.6" fill="#232f73"/>
<rect x="214.11" y="523.9" width="8.84" height="26.6" fill="#243076"/>
<rect x="222.35" y="523.9" width="8.84" height="26.6" fill="#243179"/>
<rect x="230.60" y="523.9" width="8.84" height="26.6" fill="#25327c"/>
<rect x="238.84" y="523.9" width="8.84" height="26.6" fill="#26347f"/>
<rect x="247.08" y="523.9" width="8.84" height="26.6" fill="#263582"/>
<rect x="255.32" y="523.9" width="8.84" height="26.6" fill="#273684"/>
<rect x="263.56" y="523.9" width="8.84" height="26.6" fill="#273787"/>
<rect x="271.80" y="523.9" width="8.84" height="26.6" fill="#28388a"/>
<rect x="280.05" y="523.9" width="8.84" height="26.6" fill="#29398d"/>
<rect x="288.29" y="523.9" width="8.84" height="26.6" fill="#293a90"/>
<rect x="296.53" y="523.9" width="8.84" height="26.6" fill="#283c93"/>
<rect x="304.77" y="523.9" width="8.84" height="26.6" fill="#283d96"/>
<rect x="313.01" y="523.9" width="8.84" height="26.6" fill="#273e9a"/>
<rect x="321.26" y="523.9" width="8.84" height="26.6" fill="#27409d"/>
<rect x="329.50" y="523.9" width="8.84" height="26.6" fill="#2641a0"/>
<rect x="337.74" y="523.9" width="8.84" height="26.6" fill="#2642a3"/>
<rect x="345.98" y="523.9" width="8.84" height="26.6" fill="#2544a7"/>
<rect x="354.22" y="523.9" width="8.84" height="26.6" fill="#2545aa"/>
<rect x="362.46" y="523.9" width="8.84" height="26.6" fill="#2446ad"/>
<rect x="370.71" y="523.9" width="8.84" height="26.6" fill="#2348b0"/>
<rect x="378.95" y="523.9" width="8.84" height="26.6" fill="#2349b4"/>
<rect x="387.19" y="523.9" width="8.84" height="26.6" fill="#224ab7"/>
<rect x="395.43" y="523.9" width="8.84" height="26.6" fill="#214cb9"/>
<rect x="403.67" y="523.9" width="8.84" height="26.6" fill="#204eb9"/>
<rect x="411.92" y="523.9" width="8.84" height="26.6" fill="#1e50ba"/>
<rect x="420.16" y="523.9" width="8.84" height="26.6" fill="#1c52ba"/>
<rect x="428.40" y="523.9" width="8.84" height="26.6" fill="#1a54ba"/>
<rect x="436.64" y="523.9" width="8.84" height="26.6" fill="#1956bb"/>
<rect x="444.88" y="523.9" width="8.84" height="26.6" fill="#1758bb"/>
<rect x="453.12" y="523.9" width="8.84" height="26.6" fill="#155abb"/>
<rect x="461.37" y="523.9" width="8.84" height="26.6" fill="#135cbc"/>
<rect x="469.61" y="523.9" width="8.84" height="26.6" fill="#125ebc"/>
<rect x="477.85" y="523.9" width="8.84" height="26.6" fill="#1060bc"/>
<rect x="486.09" y="523.9" width="8.84" height="26.6" fill="#0e62bc"/>
<rect x="494.33" y="523.9" width="8.84" height="26.6" fill="#0d64bd"/>
<rect x="502.58" y="523.9" width="8.84" height="26.6" fill="#0b66bd"/>
<rect x="510.82" y="523.9" width="8.84" height="26.6" fill="#0e68bd"/>
<rect x="519.06" y="523.9" width="8.84" height="26.6" fill="#1069bd"/>
<rect x="527.30" y="523.9" width="8.84" height="26.6" fill="#126bbd"/>
<rect x="535.54" y="523.9" width="8.84" height="26.6" fill="#146dbc"/>
<rect x="543.79" y="523.9" width="8.84" height="26.6" fill="#166ebc"/>
<rect x="552.03" y="523.9" width="8.84" height="26.6" fill="#1970bc"/>
<rect x="560.27" y="523.9" width="8.84" height="26.6" fill="#1b71bc"/>
<rect x="568.51" y="523.9" width="8.84" height="26.6" fill="#1d73bc"/>
<rect x="576.75" y="523.9" width="8.84" height="26.6" fill="#1f75bc"/>
<rect x="584.99" y="523.9" width="8.84" height="26.6" fill="#2176bb"/>
<rect x="593.24" y="523.9" width="8.84" height="26.6" fill="#2478bb"/>
<rect x="601.48" y="523.9" width="8.84" height="26.6" fill="#2679bb"/>
<rect x="609.72" y="523.9" width="8.84" height="26.6" fill="#287bbb"/>
<rect x="617.96" y="523.9" width="8.84" height="26.6" fill="#2a7dbb"/>
<rect x="626.20" y="523.9" width="8.84" height="26.6" fill="#2d7ebb"/>
<rect x="634.45" y="523.9" width="8.84" height="26.6" fill="#2f80bb"/>
<rect x="642.69" y="523.9" width="8.84" height="26.6" fill="#3181ba"/>
<rect x="650.93" y="523.9" width="8.84" height="26.6" fill="#3383ba"/>
<rect x="659.17" y="523.9" width="8.84" height="26.6" fill="#3585ba"/>
<rect x="667.41" y="523.9" width="8.84" height="26.6" fill="#3886ba"/>
<rect x="675.65" y="523.9" width="8.84" height="26.6" fill="#3a88ba"/>
<rect x="683.90" y="523.9" width="8.84" height="26.6" fill="#3c8aba"/>
<rect x="692.14" y="523.9" width="8.84" height="26.6" fill="#3e8bb9"/>
<rect x="700.38" y="523.9" width="8.84" height="26.6" fill="#408db9"/>
<rect x="708.62" y="523.9" width="8.84" height="26.6" fill="#438eb9"/>
<rect x="716.86" y="523.9" width="8.84" height="26.6" fill="#4590b9"/>
<rect x="725.11" y="523.9" width="8.84" height="26.6" fill="#4891b9"/>
<rect x="733.35" y="523.9" width="8.84" height="26.6" fill="#4a93ba"/>
<rect x="741.59" y="523.9" width="8.84" height="26.6" fill="#4d94ba"/>
<rect x="749.83" y="523.9" width="8.84" height="26.6" fill="#5096ba"/>
<rect x="758.07" y="523.9" width="8.84" height="26.6" fill="#5397bb"/>
<rect x="766.32" y="523.9" width="8.84" height="26.6" fill="#5698bb"/>
<rect x="774.56" y="523.9" width="8.84" height="26.6" fill="#589abb"/>
<rect x="782.80" y="523.9" width="8.84" height="26.6" fill="#5b9bbc"/>
<rect x="791.04" y="523.9" width="8.84" height="26.6" fill="#5e9dbc"/>
<rect x="799.28" y="523.9" width="8.84" height="26.6" fill="#619ebc"/>
<rect x="807.52" y="523.9" width="8.84" height="26.6" fill="#649fbd"/>
<rect x="815.77" y="523.9" width="8.84" height="26.6" fill="#66a1bd"/>
<rect x="824.01" y="523.9" width="8.84" height="26.6" fill="#69a2bd"/>
<rect x="832.25" y="523.9" width="8.84" height="26.6" fill="#6ca4be"/>
<rect x="840.49" y="523.9" width="8.84" height="26.6" fill="#6fa5be"/>
<rect x="848.73" y="523.9" width="8.84" height="26.6" fill="#71a7be"/>
<rect x="856.98" y="523.9" width="8.84" height="26.6" fill="#74a8bf"/>
<rect x="865.22" y="523.9" width="8.84" height="26.6" fill="#77a9bf"/>
<rect x="873.46" y="523.9" width="8.84" height="26.6" fill="#7aabc0"/>
<rect x="881.70" y="523.9" width="8.84" height="26.6" fill="#7dacc0"/>
<rect x="889.94" y="523.9" width="8.84" height="26.6" fill="#7faec0"/>
<rect x="898.18" y="523.9" width="8.84" height="26.6" fill="#82afc1"/>
<rect x="906.43" y="523.9" width="8.84" height="26.6" fill="#85b0c1"/>
<rect x="914.67" y="523.9" width="8.84" height="26.6" fill="#88b2c1"/>
<rect x="922.91" y="523.9" width="8.84" height="26.6" fill="#8bb3c2"/>
<rect x="931.15" y="523.9" width="8.84" height="26.6" fill="#8db5c2"/>
<rect x="939.39" y="523.9" width="8.84" height="26.6" fill="#90b6c3"/>
<rect x="947.64" y="523.9" width="8.84" height="26.6" fill="#93b7c4"/>
<rect x="955.88" y="523.9" width="8.84" height="26.6" fill="#95b9c5"/>
<rect x="964.12" y="523.9" width="8.84" height="26.6" fill="#98bac6"/>
<rect x="972.36" y="523.9" width="8.84" height="26.6" fill="#9abbc7"/>
<rect x="980.60" y="523.9" width="8.84" height="26.6" fill="#9dbdc8"/>
<rect x="988.85" y="523.9" width="8.84" height="26.6" fill="#a0bec8"/>
<rect x="997.09" y="523.9" width="8.84" height="26.6" fill="#a2bfc9"/>
<rect x="1005.33" y="523.9" width="8.84" height="26.6" fill="#a5c1ca"/>
<rect x="1013.57" y="523.9" width="8.84" height="26.6" fill="#a7c2cb"/>
<rect x="1021.81" y="523.9" width="8.84" height="26.6" fill="#aac3cc"/>
<rect x="1030.05" y="523.9" width="8.84" height="26.6" fill="#adc5cd"/>
<rect x="1038.30" y="523.9" width="8.84" height="26.6" fill="#afc6ce"/>
<rect x="1046.54" y="523.9" width="8.84" height="26.6" fill="#b2c7cf"/>
<rect x="1054.78" y="523.9" width="8.84" height="26.6" fill="#b4c9d0"/>
<rect x="1063.02" y="523.9" width="8.84" height="26.6" fill="#b7cad1"/>
<rect x="1071.26" y="523.9" width="8.84" height="26.6" fill="#bacbd2"/>
<rect x="1079.51" y="523.9" width="8.84" height="26.6" fill="#bccdd3"/>
<rect x="1087.75" y="523.9" width="8.84" height="26.6" fill="#bfced4"/>
<rect x="1095.99" y="523.9" width="8.84" height="26.6" fill="#c1cfd5"/>
<rect x="1104.23" y="523.9" width="8.84" height="26.6" fill="#c4d1d6"/>
<rect x="1112.47" y="523.9" width="8.84" height="26.6" fill="#c7d2d7"/>
<rect x="1120.71" y="523.9" width="8.84" height="26.6" fill="#c9d3d8"/>
<rect x="1128.96" y="523.9" width="8.84" height="26.6" fill="#ccd5d9"/>
<rect x="1137.20" y="523.9" width="8.84" height="26.6" fill="#ced6da"/>
<rect x="1145.44" y="523.9" width="8.84" height="26.6" fill="#d1d7db"/>
<rect x="1153.68" y="523.9" width="8.84" height="26.6" fill="#d3d9dc"/>
<rect x="1161.92" y="523.9" width="8.84" height="26.6" fill="#d6dadd"/>
<rect x="1170.17" y="523.9" width="8.84" height="26.6" fill="#d8dcde"/>
<rect x="1178.41" y="523.9" width="8.84" height="26.6" fill="#dbdddf"/>
<rect x="1186.65" y="523.9" width="8.84" height="26.6" fill="#dddfe1"/>
<rect x="1194.89" y="523.9" width="8.84" height="26.6" fill="#dfe1e2"/>
<rect x="1203.13" y="523.9" width="8.84" height="26.6" fill="#e2e2e3"/>
<rect x="1211.38" y="523.9" width="8.84" height="26.6" fill="#e4e4e4"/>
<rect x="1219.62" y="523.9" width="8.84" height="26.6" fill="#e6e5e6"/>
<rect x="1227.86" y="523.9" width="8.84" height="26.6" fill="#e9e7e7"/>
<rect x="1236.10" y="523.9" width="8.84" height="26.6" fill="#ebe8e8"/>
<rect x="1244.34" y="523.9" width="8.84" height="26.6" fill="#edeae9"/>
<rect x="1252.58" y="523.9" width="8.84" height="26.6" fill="#f0ebea"/>
<rect x="1260.83" y="523.9" width="8.84" height="26.6" fill="#efe8e7"/>
<rect x="1269.07" y="523.9" width="8.84" height="26.6" fill="#ece1de"/>
<rect x="1277.31" y="523.9" width="8.84" height="26.6" fill="#e9dad6"/>
<rect x="1285.55" y="523.9" width="8.84" height="26.6" fill="#e6d3cd"/>
<rect x="1293.79" y="523.9" width="8.84" height="26.6" fill="#e4ccc4"/>
<rect x="1302.04" y="523.9" width="8.84" height="26.6" fill="#e2c4bb"/>
<rect x="1310.28" y="523.9" width="8.84" height="26.6" fill="#dfbdb2"/>
<rect x="1318.52" y="523.9" width="8.84" height="26.6" fill="#ddb6a8"/>
<rect x="1326.76" y="523.9" width="8.84" height="26.6" fill="#dbaf9f"/>
<rect x="1335.00" y="523.9" width="8.84" height="26.6" fill="#d8a796"/>
<rect x="1343.24" y="523.9" width="8.84" height="26.6" fill="#d6a08d"/>
<rect x="1351.49" y="523.9" width="8.84" height="26.6" fill="#d49884"/>
<rect x="1359.73" y="523.9" width="8.84" height="26.6" fill="#d1917b"/>
<rect x="1367.97" y="523.9" width="8.84" height="26.6" fill="#cf8972"/>
<rect x="1376.21" y="523.9" width="8.84" height="26.6" fill="#cd8169"/>
<rect x="1384.45" y="523.9" width="8.84" height="26.6" fill="#ca7a60"/>
<rect x="1392.70" y="523.9" width="8.84" height="26.6" fill="#c87257"/>
<rect x="1400.94" y="523.9" width="8.84" height="26.6" fill="#c66a4e"/>
<rect x="1409.18" y="523.9" width="8.84" height="26.6" fill="#c36246"/>
<rect x="1417.42" y="523.9" width="8.84" height="26.6" fill="#c05a41"/>
<rect x="1425.66" y="523.9" width="8.84" height="26.6" fill="#bc533d"/>
<rect x="1433.90" y="523.9" width="8.84" height="26.6" fill="#b94b38"/>
<rect x="1442.15" y="523.9" width="8.84" height="26.6" fill="#b64333"/>
<rect x="1450.39" y="523.9" width="8.84" height="26.6" fill="#b23b2e"/>
<rect x="1458.63" y="523.9" width="8.84" height="26.6" fill="#af3329"/>
<rect x="1466.87" y="523.9" width="8.84" height="26.6" fill="#ac2b24"/>
<rect x="1475.11" y="523.9" width="8.84" height="26.6" fill="#a52725"/>
<rect x="1483.36" y="523.9" width="8.84" height="26.6" fill="#9d2325"/>
<rect x="1491.60" y="523.9" width="8.84" height="26.6" fill="#961f26"/>
<rect x="1499.84" y="523.9" width="8.84" height="26.6" fill="#8f1b26"/>
<rect x="1508.08" y="523.9" width="8.84" height="26.6" fill="#881727"/>
<rect x="1516.32" y="523.9" width="8.84" height="26.6" fill="#811327"/>
<rect x="1524.57" y="523.9" width="8.84" height="26.6" fill="#7a0f28"/>
<rect x="1532.81" y="523.9" width="8.84" height="26.6" fill="#720d26"/>
<rect x="1541.05" y="523.9" width="8.84" height="26.6" fill="#690d22"/>
<rect x="1549.29" y="523.9" width="8.84" height="26.6" fill="#610c1f"/>
<rect x="1557.53" y="523.9" width="8.84" height="26.6" fill="#590b1c"/>
<rect x="1565.77" y="523.9" width="8.84" height="26.6" fill="#510b19"/>
<rect x="1574.02" y="523.9" width="8.84" height="26.6" fill="#480a16"/>
<rect x="1582.26" y="523.9" width="8.84" height="26.6" fill="#400913"/>
<path d="M48,537.2L74,523.9L1590.5,523.9L1616.5,537.2L1590.5,550.5L74,550.5Z" fill="none" stroke="#111" stroke-width="1.4" stroke-linejoin="miter"/>
<g transform="scale(1,1.06)">
<text class="l" x="74" y="543.40">−180</text>
<text class="l" x="205.9" y="543.40">−160</text>
<text class="l" x="337.7" y="543.40">−140</text>
<text class="l" x="469.6" y="543.40">−120</text>
<text class="l" x="601.5" y="543.40">−100</text>
<text class="l" x="733.3" y="543.40">−80</text>
<text class="l" x="865.2" y="543.40">−60</text>
<text class="l" x="997.1" y="543.40">−40</text>
<text class="l" x="1063" y="543.40">−30</text>
<text class="l" x="1096" y="543.40">−25</text>
<text class="l" x="1129" y="543.40">−20</text>
<text class="l" x="1161.9" y="543.40">−15</text>
<text class="l" x="1194.9" y="543.40">−10</text>
<text class="l" x="1227.9" y="543.40">−5</text>
<text class="l" x="1260.8" y="543.40">0</text>
<text class="l" x="1293.8" y="543.40">5</text>
<text class="l" x="1326.8" y="543.40">10</text>
<text class="l" x="1359.7" y="543.40">15</text>
<text class="l" x="1392.7" y="543.40">20</text>
<text class="l" x="1425.7" y="543.40">25</text>
<text class="l" x="1458.6" y="543.40">30</text>
<text class="l" x="1524.6" y="543.40">40</text>
<text class="l" x="1590.5" y="543.40">50</text>
</g>
<path d="M74.0,550.5v8.2M205.9,550.5v8.2M337.7,550.5v8.2M469.6,550.5v8.2M601.5,550.5v8.2M733.3,550.5v8.2M865.2,550.5v8.2M997.1,550.5v8.2M1063.0,550.5v8.2M1096.0,550.5v8.2M1129.0,550.5v8.2M1161.9,550.5v8.2M1194.9,550.5v8.2M1227.9,550.5v8.2M1260.8,550.5v8.2M1293.8,550.5v8.2M1326.8,550.5v8.2M1359.7,550.5v8.2M1392.7,550.5v8.2M1425.7,550.5v8.2M1458.6,550.5v8.2M1524.6,550.5v8.2M1590.5,550.5v8.2" stroke="#111" stroke-width="1.4" fill="none"/>
</g>
<g>
<path d="M1736,537.2L1760,523.9L1760,550.5Z" fill="#171c42"/>
<path d="M2452,537.2L2429,523.9L2429,550.5Z" fill="#3c0911"/>
<rect x="1759.00" y="523.9" width="11.78" height="26.6" fill="#191f49"/>
<rect x="1770.18" y="523.9" width="11.78" height="26.6" fill="#1d2458"/>
<rect x="1781.37" y="523.9" width="11.78" height="26.6" fill="#202a66"/>
<rect x="1792.55" y="523.9" width="11.78" height="26.6" fill="#232f74"/>
<rect x="1803.73" y="523.9" width="11.78" height="26.6" fill="#263582"/>
<rect x="1814.92" y="523.9" width="11.78" height="26.6" fill="#293a90"/>
<rect x="1826.10" y="523.9" width="11.78" height="26.6" fill="#26419f"/>
<rect x="1837.28" y="523.9" width="11.78" height="26.6" fill="#2447af"/>
<rect x="1848.47" y="523.9" width="11.78" height="26.6" fill="#1f4eb9"/>
<rect x="1859.65" y="523.9" width="11.78" height="26.6" fill="#1758bb"/>
<rect x="1870.83" y="523.9" width="11.78" height="26.6" fill="#0e62bc"/>
<rect x="1882.02" y="523.9" width="11.78" height="26.6" fill="#116bbd"/>
<rect x="1893.20" y="523.9" width="11.78" height="26.6" fill="#1c72bc"/>
<rect x="1904.38" y="523.9" width="11.78" height="26.6" fill="#277abb"/>
<rect x="1915.57" y="523.9" width="11.78" height="26.6" fill="#3182ba"/>
<rect x="1926.75" y="523.9" width="11.78" height="26.6" fill="#3c89ba"/>
<rect x="1937.93" y="523.9" width="11.78" height="26.6" fill="#4791b9"/>
<rect x="1949.12" y="523.9" width="11.78" height="26.6" fill="#5498bb"/>
<rect x="1960.30" y="523.9" width="11.78" height="26.6" fill="#629ebd"/>
<rect x="1971.48" y="523.9" width="11.78" height="26.6" fill="#6fa5be"/>
<rect x="1982.67" y="523.9" width="11.78" height="26.6" fill="#7cacc0"/>
<rect x="1993.85" y="523.9" width="11.78" height="26.6" fill="#8ab3c1"/>
<rect x="2005.03" y="523.9" width="11.78" height="26.6" fill="#96b9c5"/>
<rect x="2016.22" y="523.9" width="11.78" height="26.6" fill="#a3c0ca"/>
<rect x="2027.40" y="523.9" width="11.78" height="26.6" fill="#afc6ce"/>
<rect x="2038.58" y="523.9" width="11.78" height="26.6" fill="#bccdd3"/>
<rect x="2049.77" y="523.9" width="11.78" height="26.6" fill="#c8d3d7"/>
<rect x="2060.95" y="523.9" width="11.78" height="26.6" fill="#d5dadc"/>
<rect x="2072.13" y="523.9" width="11.78" height="26.6" fill="#e0e1e2"/>
<rect x="2083.32" y="523.9" width="11.78" height="26.6" fill="#ebe8e8"/>
<rect x="2094.50" y="523.9" width="11.78" height="26.6" fill="#efe7e5"/>
<rect x="2105.68" y="523.9" width="11.78" height="26.6" fill="#ebdeda"/>
<rect x="2116.87" y="523.9" width="11.78" height="26.6" fill="#e7d4cf"/>
<rect x="2128.05" y="523.9" width="11.78" height="26.6" fill="#e4cac3"/>
<rect x="2139.23" y="523.9" width="11.78" height="26.6" fill="#e0c1b6"/>
<rect x="2150.42" y="523.9" width="11.78" height="26.6" fill="#ddb7aa"/>
<rect x="2161.60" y="523.9" width="11.78" height="26.6" fill="#daad9e"/>
<rect x="2172.78" y="523.9" width="11.78" height="26.6" fill="#d7a491"/>
<rect x="2183.97" y="523.9" width="11.78" height="26.6" fill="#d49a85"/>
<rect x="2195.15" y="523.9" width="11.78" height="26.6" fill="#d18f79"/>
<rect x="2206.33" y="523.9" width="11.78" height="26.6" fill="#ce856d"/>
<rect x="2217.52" y="523.9" width="11.78" height="26.6" fill="#cb7b61"/>
<rect x="2228.70" y="523.9" width="11.78" height="26.6" fill="#c87156"/>
<rect x="2239.88" y="523.9" width="11.78" height="26.6" fill="#c4664a"/>
<rect x="2251.07" y="523.9" width="11.78" height="26.6" fill="#c05c42"/>
<rect x="2262.25" y="523.9" width="11.78" height="26.6" fill="#bc513c"/>
<rect x="2273.43" y="523.9" width="11.78" height="26.6" fill="#b74735"/>
<rect x="2284.62" y="523.9" width="11.78" height="26.6" fill="#b33c2f"/>
<rect x="2295.80" y="523.9" width="11.78" height="26.6" fill="#af3128"/>
<rect x="2306.98" y="523.9" width="11.78" height="26.6" fill="#a82924"/>
<rect x="2318.17" y="523.9" width="11.78" height="26.6" fill="#9f2425"/>
<rect x="2329.35" y="523.9" width="11.78" height="26.6" fill="#951e26"/>
<rect x="2340.53" y="523.9" width="11.78" height="26.6" fill="#8c1926"/>
<rect x="2351.72" y="523.9" width="11.78" height="26.6" fill="#821427"/>
<rect x="2362.90" y="523.9" width="11.78" height="26.6" fill="#780e28"/>
<rect x="2374.08" y="523.9" width="11.78" height="26.6" fill="#6d0d24"/>
<rect x="2385.27" y="523.9" width="11.78" height="26.6" fill="#620c20"/>
<rect x="2396.45" y="523.9" width="11.78" height="26.6" fill="#570b1c"/>
<rect x="2407.63" y="523.9" width="11.78" height="26.6" fill="#4c0a17"/>
<rect x="2418.82" y="523.9" width="11.78" height="26.6" fill="#410913"/>
<path d="M1736,537.2L1759,523.9L2430,523.9L2452,537.2L2430,550.5L1759,550.5Z" fill="none" stroke="#111" stroke-width="1.4" stroke-linejoin="miter"/>
<g transform="scale(1,1.06)">
<text class="l" x="1759" y="543.40">−30</text>
<text class="l" x="1814.9" y="543.40">−25</text>
<text class="l" x="1870.8" y="543.40">−20</text>
<text class="l" x="1926.8" y="543.40">−15</text>
<text class="l" x="1982.7" y="543.40">−10</text>
<text class="l" x="2038.6" y="543.40">−5</text>
<text class="l" x="2094.5" y="543.40">0</text>
<text class="l" x="2150.4" y="543.40">5</text>
<text class="l" x="2206.3" y="543.40">10</text>
<text class="l" x="2262.2" y="543.40">15</text>
<text class="l" x="2318.2" y="543.40">20</text>
<text class="l" x="2374.1" y="543.40">25</text>
<text class="l" x="2430" y="543.40">30</text>
</g>
<path d="M1759.0,550.5v8.2M1814.9,550.5v8.2M1870.8,550.5v8.2M1926.8,550.5v8.2M1982.7,550.5v8.2M2038.6,550.5v8.2M2094.5,550.5v8.2M2150.4,550.5v8.2M2206.3,550.5v8.2M2262.2,550.5v8.2M2318.2,550.5v8.2M2374.1,550.5v8.2M2430.0,550.5v8.2" stroke="#111" stroke-width="1.4" fill="none"/>
</g>
</svg>
</body></html>
